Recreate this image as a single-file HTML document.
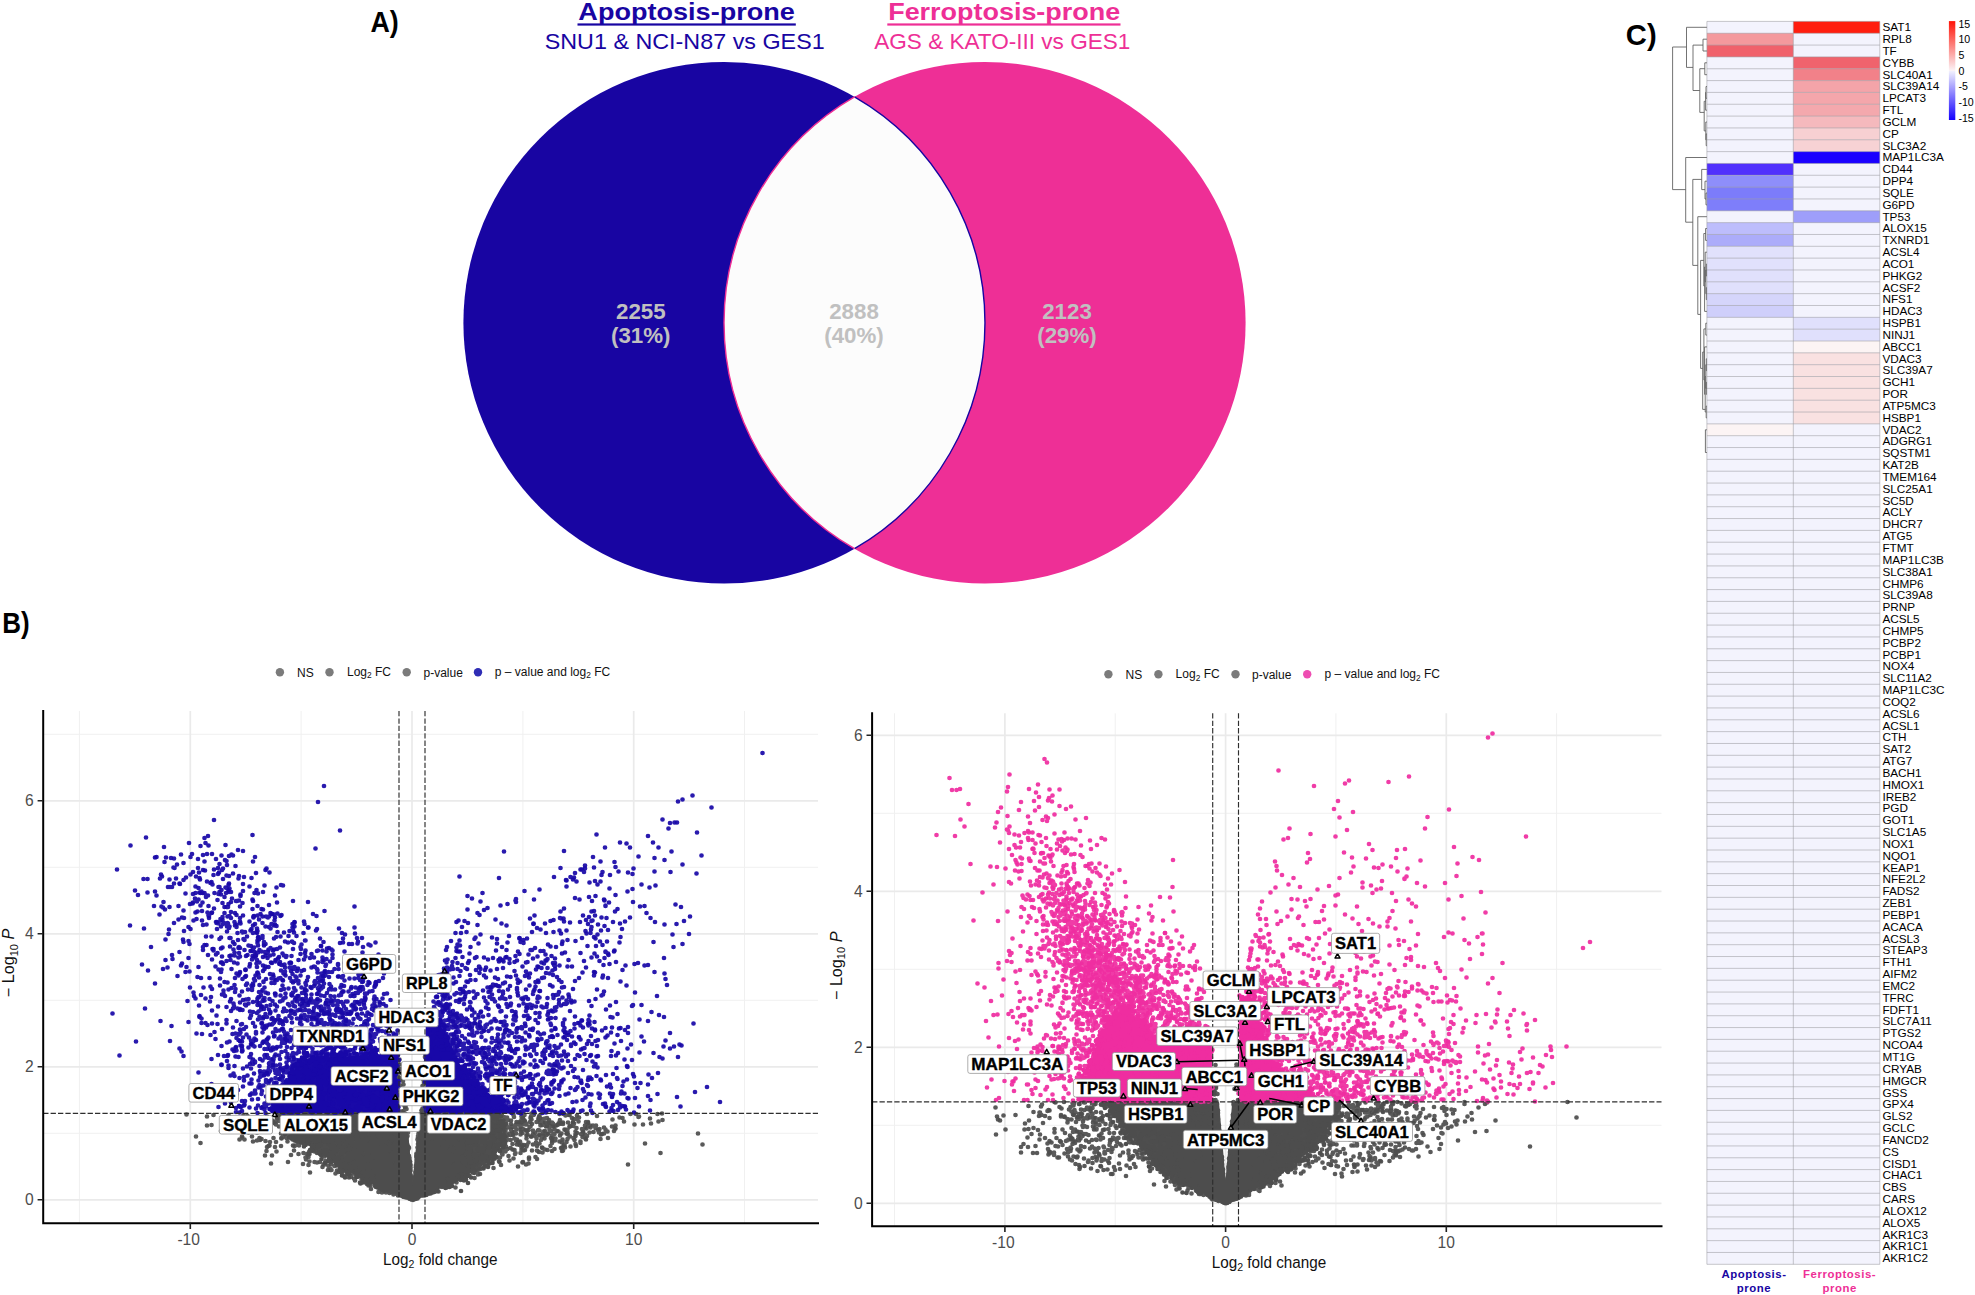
<!DOCTYPE html>
<html lang="en"><head><meta charset="utf-8"><title>Figure</title>
<style>html,body{margin:0;padding:0;background:#fff}svg{display:block}text{font-family:"Liberation Sans",sans-serif}</style></head><body>
<svg width="1975" height="1295" viewBox="0 0 1975 1295">
<rect width="1975" height="1295" fill="#fff"/>
<circle cx="724.2" cy="322.8" r="260.8" fill="#1805A2"/>
<circle cx="984.8" cy="322.8" r="260.8" fill="#EE2F96"/>
<path d="M854.5 96.9A260.8 260.8 0 0 1 854.5 548.7A260.8 260.8 0 0 1 854.5 96.9Z" fill="#FCFCFC"/>
<path d="M854.5 96.9A260.8 260.8 0 0 1 854.5 548.7" fill="none" stroke="#1805A2" stroke-width="1.4"/>
<path d="M854.5 548.7A260.8 260.8 0 0 1 854.5 96.9" fill="none" stroke="#EE2F96" stroke-width="1.4"/>
<text x="640.8" y="319.4" text-anchor="middle" font-size="22.3" font-weight="bold" fill="#C0C0C0">2255</text>
<text x="640.8" y="342.6" text-anchor="middle" font-size="22.3" font-weight="bold" fill="#C0C0C0">(31%)</text>
<text x="854" y="319.4" text-anchor="middle" font-size="22.3" font-weight="bold" fill="#C0C0C0">2888</text>
<text x="854" y="342.6" text-anchor="middle" font-size="22.3" font-weight="bold" fill="#C0C0C0">(40%)</text>
<text x="1067" y="319.4" text-anchor="middle" font-size="22.3" font-weight="bold" fill="#C0C0C0">2123</text>
<text x="1067" y="342.6" text-anchor="middle" font-size="22.3" font-weight="bold" fill="#C0C0C0">(29%)</text>
<text x="686.6" y="19.8" text-anchor="middle" font-size="24.5" font-weight="bold" fill="#1805A2" textLength="216.5" lengthAdjust="spacingAndGlyphs">Apoptosis-prone</text>
<rect x="577.5" y="23.4" width="218.3" height="2.2" fill="#1805A2"/>
<text x="684.7" y="49.4" text-anchor="middle" font-size="21.6" fill="#1805A2" textLength="280" lengthAdjust="spacingAndGlyphs">SNU1 &amp; NCI-N87 vs GES1</text>
<text x="1004.2" y="19.8" text-anchor="middle" font-size="24.5" font-weight="bold" fill="#EE2F96" textLength="232" lengthAdjust="spacingAndGlyphs">Ferroptosis-prone</text>
<rect x="887.3" y="23.4" width="233.2" height="2.2" fill="#EE2F96"/>
<text x="1002.3" y="49.4" text-anchor="middle" font-size="21.6" fill="#EE2F96" textLength="256" lengthAdjust="spacingAndGlyphs">AGS &amp; KATO-III vs GES1</text>
<text x="370.4" y="31.9" font-size="30" font-weight="bold" fill="#000" textLength="28.3" lengthAdjust="spacingAndGlyphs">A)</text>
<text x="2.2" y="633" font-size="30" font-weight="bold" fill="#000" textLength="27.4" lengthAdjust="spacingAndGlyphs">B)</text>
<text x="1625.8" y="45" font-size="30" font-weight="bold" fill="#000" textLength="30.8" lengthAdjust="spacingAndGlyphs">C)</text>
<path d="M79.4 711V1223.3M301.1 711V1223.3M522.9 711V1223.3M744.5 711V1223.3M43.2 1133.3H818M43.2 1000.3H818M43.2 867.3H818M43.2 734.3H818" stroke="#F0F0F0" stroke-width="1" fill="none"/>
<path d="M190.3 711V1223.3M412.0 711V1223.3M633.7 711V1223.3M43.2 1199.8H818M43.2 1066.8H818M43.2 933.8H818M43.2 800.8H818" stroke="#EAEAEA" stroke-width="1.7" fill="none"/>
<polygon points="412.0,1198.5 365.4,1181.8 321.1,1153.2 287.8,1133.3 279.0,1113.3 406.5,1113.3 412.7,1183.2 420.0,1113.3 498.5,1113.3 504.0,1140.0 494.0,1158.6 454.1,1183.8" fill="#4E4E4E"/>
<polygon points="270.1,1113.3 285.6,1083.4 301.1,1058.8 398.3,1053.5 398.3,1113.3" fill="#1909A8"/>
<polygon points="425.7,1113.3 425.7,1016.9 437.5,1016.9 451.9,1053.5 476.3,1085.4 507.3,1105.4 516.2,1113.3" fill="#1909A8"/>
<path d="M399.5 1194.5h0M397 1189.5h0M375.5 1182h0M385.5 1187.5h0M408 1197.5h0M367.5 1179h0M386 1186.5h0M384.5 1190h0M408 1196h0M403 1196.5h0M410.5 1199h0M377.5 1186.5h0M369.5 1182h0M374.5 1183.5h0M402 1192h0M381.5 1187.5h0M377.5 1187.5h0M376 1187h0M378 1187.5h0M380.5 1186.5h0M409.5 1198.5h0M367.5 1183h0M394 1191h0M410.5 1194.5h0M380 1184h0M375 1186h0M387 1190h0M369.5 1183.5h0M376 1183h0M371 1181h0M380.5 1188.5h0M377 1186h0M368.5 1183.5h0M378 1183h0M406 1197.5h0M387.5 1186.5h0M406 1197.5h0M406.5 1195.5h0M347 1171.5h0M342 1175.5h0M321.5 1159h0M328.5 1161h0M348 1174h0M343 1168.5h0M329 1159h0M348 1174h0M351 1170h0M325 1163h0M321.5 1155h0M328 1161.5h0M321 1155h0M338 1165h0M333 1159.5h0M327 1155h0M351 1170.5h0M360.5 1183.5h0M329 1154.5h0M341.5 1167h0M363 1179.5h0M344.5 1176.5h0M337 1165.5h0M349 1174h0M357 1177h0M350 1169.5h0M336 1163h0M340 1166.5h0M344.5 1170.5h0M350.5 1169.5h0M329 1159h0M345 1177.5h0M326.5 1155h0M362 1182.5h0M347.5 1170.5h0M340 1168.5h0M341.5 1163h0M356.5 1177h0M361 1175.5h0M357 1174.5h0M301 1142.5h0M304.5 1140.5h0M289.5 1137h0M312.5 1145.5h0M312 1148.5h0M298 1140h0M318.5 1152.5h0M308 1142h0M295.5 1138h0M321 1152h0M295.5 1140.5h0M297 1141.5h0M292.5 1138.5h0M299 1141.5h0M314 1149.5h0M296.5 1137h0M289 1137.5h0M313.5 1145.5h0M305.5 1145h0M304 1146.5h0M310 1150h0M319 1149h0M312 1150h0M292 1138.5h0M305 1145h0M312 1148h0M303.5 1143.5h0M292 1136.5h0M295 1140h0M285 1134h0M278 1115h0M282.5 1127h0M279.5 1115.5h0M282 1122h0M284.5 1124h0M285 1121.5h0M289 1128.5h0M284.5 1127.5h0M277 1118h0M278 1115.5h0M280.5 1118h0M283.5 1124h0M282.5 1118.5h0M284.5 1121h0M500 1122.5h0M505 1136.5h0M505.5 1136.5h0M502 1138h0M503.5 1137.5h0M504 1131h0M503 1129.5h0M498.5 1122.5h0M499 1114h0M503 1123.5h0M504.5 1125.5h0M498 1114.5h0M504 1134.5h0M500.5 1125h0M503.5 1126.5h0M501.5 1121h0M501 1116.5h0M500 1138.5h0M505 1143.5h0M494.5 1158.5h0M503.5 1142h0M504 1145.5h0M501.5 1144.5h0M503.5 1147h0M498.5 1146h0M503 1145h0M493.5 1153h0M496.5 1157h0M492 1155.5h0M493 1154.5h0M495 1156h0M505 1141h0M499 1149.5h0M500 1151h0M483.5 1168.5h0M464 1178.5h0M465 1173.5h0M472.5 1172.5h0M474 1173h0M489 1163h0M485 1166.5h0M473.5 1168h0M461 1191h0M468 1183h0M466 1174.5h0M461.5 1179.5h0M464 1180.5h0M466 1179.5h0M488 1160.5h0M460.5 1176.5h0M486 1165.5h0M492.5 1159.5h0M479 1168.5h0M487.5 1165.5h0M490.5 1158h0M469.5 1176h0M471 1177.5h0M459.5 1178.5h0M463.5 1175h0M483 1162.5h0M479.5 1166h0M465.5 1177h0M492.5 1162h0M483.5 1162h0M454 1180h0M489.5 1163.5h0M492.5 1163h0M465.5 1174.5h0M475.5 1170.5h0M488 1167h0M430.5 1193.5h0M417.5 1197.5h0M452 1186h0M419.5 1193.5h0M431.5 1191.5h0M444 1186.5h0M430.5 1189.5h0M437.5 1191h0M426 1195h0M446.5 1187.5h0M424 1193h0M431 1190h0M432 1192.5h0M432 1192.5h0M416 1195h0M445.5 1188h0M443.5 1186.5h0M434.5 1192h0M427.5 1193h0M415.5 1198h0M430.5 1192h0M415 1194h0M443 1186h0M418.5 1197h0M424.5 1193.5h0M426.5 1192.5h0M413.5 1198.5h0M416 1198.5h0M417 1198h0M435.5 1191.5h0M441 1185h0M433.5 1192h0M451.5 1185.5h0M449.5 1187h0" fill="none" stroke="#4E4E4E" stroke-width="4.7" stroke-linecap="round" opacity="1"/>
<path d="M273.5 1104.5h0M284 1086h0M282.5 1088.5h0M280 1091.5h0M273.5 1101h0M280 1093.5h0M283.5 1088h0M279 1095h0M276 1101h0M275.5 1093.5h0M275 1094h0M282.5 1094h0M283.5 1091.5h0M272 1108.5h0M273.5 1098.5h0M278 1093h0M280 1086.5h0M281.5 1087h0M271.5 1110h0M276.5 1097.5h0M276 1097.5h0M270 1109h0M274 1096.5h0M284.5 1084.5h0M290 1074.5h0M292 1071h0M297 1066.5h0M290.5 1080.5h0M286 1081.5h0M293 1075.5h0M297.5 1065h0M292.5 1069.5h0M290 1079h0M296.5 1064h0M298.5 1063.5h0M294.5 1066h0M289.5 1076h0M293.5 1057.5h0M299 1060.5h0M293.5 1065.5h0M292 1069h0M297 1065h0M289.5 1073.5h0M293 1067h0M294.5 1065h0M279.5 1079h0M340.5 1059h0M311 1060.5h0M307 1056h0M346 1054.5h0M395.5 1055h0M335.5 1054.5h0M345 1058h0M358 1057h0M315.5 1053h0M394 1056.5h0M302 1057.5h0M377 1050h0M364 1055h0M325.5 1057h0M329.5 1060h0M340.5 1057h0M342 1054.5h0M389.5 1056h0M386 1057.5h0M383.5 1052.5h0M388.5 1057.5h0M375 1051h0M380.5 1049.5h0M387.5 1047.5h0M335.5 1055h0M355 1053.5h0M345.5 1052h0M394 1053.5h0M331.5 1055h0M318 1060.5h0M372 1053h0M339.5 1054h0M397.5 1055.5h0M388 1053.5h0M358.5 1059h0M307 1053h0M334 1053.5h0M366 1054h0M333 1056h0M378.5 1056.5h0M370 1053.5h0M373 1051h0M349 1059.5h0M332 1058h0M310 1061h0M321.5 1057h0M387 1049h0M374.5 1056h0M343 1055h0M398 1055h0M393 1052.5h0M376 1054.5h0M366.5 1053.5h0M357 1055.5h0M327 1054.5h0M316.5 1059.5h0M326 1055h0M304 1057.5h0M383 1053.5h0M343.5 1053.5h0M339.5 1054.5h0M313 1057h0M339.5 1054.5h0M312 1059h0M321.5 1053.5h0M302 1046.5h0M383 1049.5h0M356.5 1054h0M317.5 1058h0M384 1055.5h0M340.5 1052.5h0M336.5 1055h0M327.5 1059.5h0M316 1053.5h0M434 1014h0M428 1017h0M432 1018.5h0M432 1014.5h0M429 1015h0M434 1016h0M428.5 1016.5h0M434 1015h0M435.5 1014.5h0M448 1050h0M437 1020.5h0M443.5 1032h0M441.5 1033h0M446 1037.5h0M441.5 1025h0M444.5 1026h0M448.5 1038h0M448.5 1044.5h0M443.5 1034.5h0M434.5 1021h0M445 1035h0M444.5 1027h0M439 1020.5h0M450.5 1052h0M444.5 1030h0M441.5 1035.5h0M438.5 1022.5h0M436 1022.5h0M447 1042h0M449.5 1052.5h0M447 1036.5h0M437.5 1023h0M440 1020h0M450 1047.5h0M451.5 1050.5h0M435 1020.5h0M445.5 1037.5h0M443 1024.5h0M451 1051h0M462.5 1061h0M469 1064.5h0M456.5 1063h0M471 1070.5h0M471 1081.5h0M457 1060h0M464.5 1067h0M476.5 1082h0M454.5 1058h0M480 1076.5h0M455.5 1057.5h0M464.5 1069.5h0M465 1065.5h0M476 1083.5h0M453 1053h0M451.5 1058h0M460.5 1067.5h0M473.5 1079.5h0M477 1081h0M457 1063.5h0M469 1074h0M466.5 1070.5h0M474 1077.5h0M453.5 1053h0M468 1074.5h0M475 1082.5h0M465 1068.5h0M472 1076.5h0M455.5 1064h0M468 1073.5h0M497.5 1100h0M501 1097.5h0M483 1089h0M493 1098.5h0M481.5 1087.5h0M476.5 1089h0M503 1099.5h0M487 1094h0M502 1102.5h0M502.5 1099.5h0M500.5 1098.5h0M477 1088.5h0M487 1090.5h0M487 1097.5h0M486.5 1093.5h0M483 1089.5h0M493.5 1097h0M499 1101h0M498 1099h0M477 1085.5h0M504 1101h0M498.5 1103h0M491 1097h0M482.5 1089.5h0M492 1097.5h0M483.5 1091.5h0M500 1107h0M499.5 1101.5h0M511.5 1107h0M517.5 1106h0M516 1109h0M513.5 1107.5h0M511.5 1107.5h0M509 1111.5h0M514 1105.5h0M511 1108.5h0M510.5 1109.5h0" fill="none" stroke="#1909A8" stroke-width="4.7" stroke-linecap="round" opacity="1"/>
<path d="M421.5 1151h0M375.5 1183.5h0M415.5 1198h0M366 1172h0M401 1180h0M405 1109.5h0M448 1178h0M560 1123h0M404.5 1117h0M352.5 1171h0M339 1134.5h0M340 1118h0M424.5 1161h0M415 1195h0M423 1186.5h0M439 1175.5h0M400 1180h0M395 1153.5h0M429 1180h0M429.5 1172.5h0M309.5 1161.5h0M405.5 1182h0M398.5 1164.5h0M368 1143h0M371 1152h0M444.5 1119.5h0M432.5 1172.5h0M336.5 1141h0M367 1179.5h0M503.5 1120.5h0M361.5 1142.5h0M416.5 1194.5h0M531 1116.5h0M448 1136.5h0M389.5 1148h0M425.5 1180h0M403 1150.5h0M456.5 1126h0M418.5 1193.5h0M388 1139h0M404 1149h0M358.5 1143h0M379 1179h0M416 1194.5h0M295 1145.5h0M410.5 1170.5h0M434 1162h0M429.5 1170h0M376 1117.5h0M396 1124.5h0M411 1190h0M312 1139h0M452 1144.5h0M513 1126.5h0M435.5 1137.5h0M425 1187.5h0M388 1178h0M421.5 1173.5h0M469.5 1166h0M368.5 1127.5h0M437.5 1180.5h0M420.5 1183.5h0M422.5 1160.5h0M398 1143.5h0M476.5 1134.5h0M404 1132.5h0M410.5 1199h0M314.5 1151.5h0M471.5 1158.5h0M443.5 1171h0M465.5 1127.5h0M404 1175h0M356 1117h0M369.5 1128.5h0M384.5 1129h0M440 1133h0M356 1134h0M434 1158h0M312 1147.5h0M475.5 1154.5h0M401.5 1191h0M408.5 1178.5h0M430.5 1171.5h0M405 1166h0M414 1197.5h0M425 1187.5h0M401 1161.5h0M289 1133.5h0M351.5 1166.5h0M403.5 1181h0M414.5 1195h0M320 1154h0M428 1183.5h0M395.5 1192.5h0M423 1162h0M432 1144.5h0M380.5 1184.5h0M397.5 1188.5h0M380 1189h0M417.5 1197h0M412.5 1197h0M361 1131h0M417.5 1147.5h0M461 1117h0M452 1134.5h0M429.5 1185h0M504.5 1150h0M316 1135.5h0M380 1145.5h0M421.5 1161h0M357 1158.5h0M405.5 1154h0M358.5 1136.5h0M418.5 1190h0M419 1170.5h0M421 1189h0M360 1155.5h0M348.5 1147.5h0M361.5 1135.5h0M401 1180.5h0M419.5 1179.5h0M396.5 1160h0M415.5 1187.5h0M328.5 1144h0M422 1185h0M418 1176h0M431 1172h0M387.5 1167h0M425.5 1141.5h0M444.5 1141.5h0M442.5 1143.5h0M423 1184h0M409 1188.5h0M418.5 1187h0M408.5 1193.5h0M384 1191h0M523.5 1114h0M459 1138.5h0M407.5 1192h0M373 1167.5h0M399 1185h0M467.5 1158.5h0M432 1184.5h0M440 1124.5h0M428 1173.5h0M418.5 1188.5h0M404 1125h0M412 1196.5h0M411 1196.5h0M340.5 1140.5h0M398.5 1155h0M305 1140h0M360 1139h0M428 1194h0M394 1155h0M410 1171.5h0M421.5 1192.5h0M305.5 1157.5h0M431.5 1150h0M425.5 1183h0M373 1148.5h0M389.5 1193h0M485 1147.5h0M409 1168.5h0M319 1130h0M437 1160.5h0M420.5 1180h0M412.5 1197.5h0M455 1123h0M532 1124h0M393.5 1176h0M427.5 1146.5h0M346 1168h0M400.5 1120h0M426.5 1131h0M429 1191h0M401.5 1192.5h0M416 1189.5h0M309 1152h0M427.5 1141h0M412 1198.5h0M431 1160h0M416 1167.5h0M426 1137h0M387 1179h0M464 1141h0M454.5 1142h0M384.5 1170.5h0M350 1176.5h0M387.5 1165h0M483.5 1167.5h0M410.5 1186h0M444.5 1178h0M433.5 1189.5h0M424.5 1184.5h0M424.5 1146.5h0M462 1136.5h0M303 1118h0M331 1164.5h0M443.5 1158h0M405 1172h0M415.5 1183h0M431.5 1131.5h0M405.5 1160h0M405.5 1168.5h0M404.5 1189h0M430 1174.5h0M455.5 1137h0M418.5 1155h0M377.5 1126h0M353 1117.5h0M427 1184h0M410.5 1192h0M365.5 1124h0M545 1122.5h0M434 1181h0M429 1182.5h0M468 1159h0M482.5 1136h0M408 1194.5h0M447 1184h0M417.5 1181.5h0M401 1161.5h0M418 1150h0M424.5 1184h0M433 1149h0M418.5 1181.5h0M444 1165.5h0M379 1140h0M381.5 1182h0M440 1136h0M390 1157.5h0M391 1152.5h0M418 1195.5h0M427.5 1135.5h0M405 1189.5h0M395.5 1176.5h0M400 1165.5h0M512.5 1144h0M406.5 1194h0M507.5 1127.5h0M414.5 1197.5h0M371 1116.5h0M442.5 1168h0M415 1196h0M313 1117h0M439 1139.5h0M406.5 1142.5h0M365.5 1140.5h0M461 1133h0M422.5 1179.5h0M412 1195h0M430 1189h0M433.5 1183h0M307.5 1133h0M328.5 1135.5h0M325 1154.5h0M443.5 1178.5h0M409 1173h0M399 1174h0M377.5 1136.5h0M315.5 1145.5h0M427.5 1171.5h0M369 1159h0M339 1139h0M455.5 1176.5h0M411 1183h0M332 1161.5h0M407 1193.5h0M339.5 1157.5h0M402.5 1180.5h0M431 1172.5h0M440 1144.5h0M479 1131.5h0M425 1164.5h0M418 1152h0M424.5 1127h0M399 1171.5h0M492 1129h0M332.5 1129.5h0M418.5 1196.5h0M386 1190.5h0M361.5 1179h0M374 1149.5h0M464 1116h0M370 1167.5h0M402 1157h0M415 1198.5h0M388 1161h0M384 1170.5h0M421 1191.5h0M358.5 1124.5h0M389.5 1187h0M415.5 1187h0M422.5 1192h0M364 1149h0M408 1195h0M476 1161.5h0M480 1174h0M426 1192h0M458.5 1171h0M447 1159h0M371 1177.5h0M419.5 1192.5h0M456 1123.5h0M365.5 1182.5h0M378.5 1185.5h0M400 1160h0M387 1150h0M429 1185h0M353 1144h0M402.5 1187h0M420.5 1138h0M440.5 1120h0M450.5 1174h0M314.5 1162h0M422 1195.5h0M403.5 1187h0M403 1096h0M397 1136h0M475 1135.5h0M463 1150.5h0M386 1187h0M468.5 1157h0M430.5 1171.5h0M420 1195h0M507.5 1139.5h0M378.5 1167.5h0M424 1193.5h0M398 1137h0M413 1199.5h0M407 1117.5h0M413 1198h0M405.5 1193h0M388.5 1153h0M395 1140.5h0M390 1165h0M331 1134.5h0M445.5 1126h0M383 1175.5h0M368 1157.5h0M485.5 1128.5h0M424.5 1178.5h0M440 1127.5h0M410.5 1196.5h0M412 1197.5h0M351.5 1160h0M378.5 1165.5h0M432.5 1169.5h0M412.5 1196h0M410 1198.5h0M420 1194h0M412.5 1195h0M385 1170h0M488 1159h0M450 1141h0M445 1163.5h0M387 1174.5h0M426 1173.5h0M417.5 1195.5h0M464 1117.5h0M446.5 1166h0M408 1150h0M419.5 1148h0M473.5 1133h0M430 1123h0M400.5 1183.5h0M432.5 1166.5h0M401 1192h0M404 1115h0M418.5 1187h0M407.5 1147h0M432.5 1135.5h0M381.5 1174.5h0M439.5 1171h0M351 1145h0M451 1150h0M403.5 1111h0M387 1182h0M347 1171h0M387 1181.5h0M401 1185.5h0M409 1148h0M409 1195.5h0M432.5 1180h0M408.5 1193h0M453 1161.5h0M405 1185h0M430 1188h0M421 1193h0M367.5 1179.5h0M402.5 1194.5h0M365 1138.5h0M419 1188.5h0M434.5 1156.5h0M452.5 1127.5h0M420 1141h0M388 1167.5h0M425 1165h0M330.5 1141h0M418.5 1164.5h0M492 1131h0M385.5 1154h0M474.5 1158h0M380 1149.5h0M468 1144h0M396 1174h0M406.5 1183.5h0M307 1129.5h0M411 1178h0M447 1167h0M301 1125h0M452.5 1150h0M331 1135.5h0M384.5 1147h0M400 1178h0M372 1131h0M481.5 1156h0M444.5 1176h0M430 1166h0M445.5 1166.5h0M418 1168.5h0M381.5 1155.5h0M402.5 1192.5h0M417 1187.5h0M440.5 1166.5h0M438 1174.5h0M408 1192h0M326 1127h0M406.5 1197h0M452 1161.5h0M397.5 1172.5h0M452 1132h0M371 1142.5h0M422 1193.5h0M428 1189h0M413.5 1199.5h0M346.5 1145h0M281.5 1138h0M393.5 1187.5h0M416.5 1177h0M365 1132.5h0M442.5 1135.5h0M417 1154.5h0M379 1167h0M407 1177h0M432 1170.5h0M402 1133h0M436 1125.5h0M429 1188h0M398 1195.5h0M452 1116.5h0M399 1178h0M416.5 1171.5h0M408.5 1156h0M365.5 1181.5h0M388.5 1137h0M397 1118.5h0M422.5 1193h0M415 1198h0M368.5 1165h0M332 1121.5h0M432.5 1136h0M310.5 1136.5h0M353.5 1136.5h0M433.5 1168.5h0M365.5 1162.5h0M357 1139h0M428 1184h0M449.5 1157h0M467 1139.5h0M453.5 1143h0M391 1173.5h0M442 1166h0M399.5 1126.5h0M341.5 1126.5h0M439 1135.5h0M370.5 1138h0M418.5 1170.5h0M375.5 1169h0M430 1176h0M337 1135.5h0M425 1174.5h0M409 1185h0M398 1155.5h0M480 1151h0M436.5 1123h0M399 1182h0M361 1151h0M382 1163.5h0M397 1182h0M437 1172h0M442.5 1154.5h0M400.5 1151.5h0M396 1163h0M378.5 1136.5h0M423.5 1149.5h0M416.5 1156.5h0M332 1131h0M435.5 1140h0M419.5 1136h0M414.5 1192h0M432 1172.5h0M433.5 1156h0M374 1166h0M464.5 1147h0M454.5 1156.5h0M433 1176.5h0M389 1178h0M352 1153.5h0M382 1186h0M341.5 1155.5h0M376 1141.5h0M380 1121h0M415.5 1197.5h0M384 1175.5h0M520.5 1153h0M419.5 1156.5h0M404.5 1136h0M414.5 1181.5h0M487 1122.5h0M477.5 1146h0M434 1167h0M396 1179h0M377.5 1169h0M410.5 1190h0M417.5 1161h0M417 1180.5h0M408 1188h0M354 1171.5h0M471.5 1159.5h0M448 1186h0M421.5 1179.5h0M396.5 1181h0M437.5 1168h0M407 1189.5h0M413 1198h0M424 1153h0M400.5 1078.5h0M433.5 1182.5h0M422 1185.5h0M376 1185.5h0M417.5 1185h0M394 1186.5h0M409.5 1192h0M430 1165h0M411.5 1198h0M417 1195.5h0M406.5 1186.5h0M334 1158.5h0M406.5 1173h0M428.5 1135h0M399 1146h0M378.5 1192h0M445.5 1143.5h0M427 1161h0M443 1151h0M422.5 1193.5h0M435 1154h0M398 1194.5h0M356.5 1144.5h0M323.5 1141h0M431 1167h0M434.5 1133.5h0M391.5 1168.5h0M425.5 1138.5h0M401 1159h0M408.5 1166h0M382 1168.5h0M439 1165h0M424 1186.5h0M424.5 1169.5h0M416 1196h0M435.5 1135h0M404.5 1192.5h0M417 1196h0M433 1182.5h0M458 1162.5h0M426.5 1186h0M403.5 1144h0M466 1176h0M439.5 1137h0M409 1192h0M380 1172.5h0M448.5 1128h0M431.5 1189h0M427 1172h0M447.5 1169.5h0M413.5 1197.5h0M414 1197h0M392 1141h0M416.5 1171h0M305 1123h0M390.5 1177.5h0M382.5 1149.5h0M433 1180.5h0M402 1171h0M426.5 1173.5h0M388 1157h0M396.5 1147.5h0M431.5 1180h0M414.5 1185.5h0M364 1147.5h0M408.5 1192h0M413 1199h0M363.5 1168h0M472.5 1126.5h0M402.5 1133h0M406 1176h0M411.5 1196h0M409 1164h0M404 1170h0M459 1152h0M511 1120.5h0M265 1119.5h0M371.5 1176h0M430.5 1178h0M464 1138.5h0M486.5 1117.5h0M369 1114h0M388 1161h0M399.5 1183.5h0M416.5 1197h0M390.5 1176h0M414.5 1189.5h0M408 1196.5h0M352 1153.5h0M464.5 1135h0M468 1159h0M371.5 1128h0M490 1134.5h0M469.5 1117h0M362.5 1169h0M366.5 1155.5h0M279 1121h0M341 1172h0M395 1134h0M407 1167h0M424.5 1170.5h0M390 1172h0M417.5 1182h0M396.5 1146.5h0M423.5 1189h0M377.5 1138h0M416 1190h0M520.5 1134.5h0M411 1176h0M455.5 1149h0M350 1151h0M489.5 1122.5h0M436.5 1165.5h0M416.5 1194h0M500.5 1137.5h0M336.5 1129h0M371.5 1167h0M311.5 1128.5h0M401.5 1132.5h0M417.5 1191h0M450 1149h0M470 1130h0M421.5 1156.5h0M408 1196.5h0M422 1183.5h0M406 1162.5h0M364 1146h0M389 1165.5h0M422.5 1174h0M398.5 1193h0M365.5 1124.5h0M272 1155.5h0M418.5 1190.5h0M414 1199h0M438.5 1157.5h0M385 1144.5h0M420.5 1163.5h0M447 1181h0M344 1170.5h0M307.5 1122.5h0M467.5 1172h0M413 1199.5h0M426.5 1149.5h0M416.5 1153.5h0M372.5 1166h0M362.5 1140.5h0M410 1187h0M425 1159h0M405.5 1185h0M441 1179.5h0M377 1167h0M370 1166h0M421.5 1122.5h0M501 1165h0M505.5 1124h0M428 1186h0M399.5 1160.5h0M474 1124.5h0M332.5 1143h0M384 1140h0M415 1187h0M366.5 1167.5h0M458 1153.5h0M443.5 1114.5h0M377.5 1173h0M376 1147h0M365.5 1179.5h0M509.5 1133.5h0M399 1168h0M396.5 1162h0M454 1159.5h0M371.5 1159h0M392.5 1186.5h0M425 1190h0M405 1171h0M421.5 1189.5h0M337.5 1147h0M425.5 1162.5h0M437 1176h0M425.5 1168.5h0M395 1180.5h0M259.5 1138h0M442.5 1155.5h0M410 1191.5h0M442 1173.5h0M463 1156h0M232 1128h0M415.5 1182.5h0M458 1136.5h0M426 1130.5h0M382 1175.5h0M377 1131h0M491.5 1115h0M432 1176h0M416.5 1194.5h0M320 1141h0M525.5 1124.5h0M457.5 1120h0M316 1140h0M404.5 1159.5h0M386 1179h0M426.5 1174.5h0M431 1174.5h0M373 1177.5h0M483.5 1150.5h0M345 1150.5h0M416 1169.5h0M382.5 1139.5h0M301 1136.5h0M386 1116h0M430 1175h0M401 1186h0M420 1178h0M348 1133h0M408.5 1168.5h0M408 1172h0M406.5 1138h0M420.5 1193h0M424.5 1194h0M471 1152.5h0M433 1123h0M387 1166.5h0M389 1187.5h0M378 1186h0M417.5 1195.5h0M426.5 1136.5h0M443 1177.5h0M393 1185h0M375 1130h0M398 1164h0M426 1161h0M476 1163h0M399.5 1178h0M416 1176.5h0M316 1116h0M306 1159.5h0M402.5 1126h0M424.5 1159.5h0M488 1160h0M407.5 1145.5h0M464.5 1151h0M467 1153h0M413 1200h0M431.5 1161h0M423.5 1161h0M418 1193h0M389 1164.5h0M387.5 1180h0M482.5 1130h0M359.5 1153h0M375 1138h0M384 1136.5h0M421 1179.5h0M358 1133h0M420.5 1175.5h0M380.5 1132.5h0M256 1122.5h0M356 1125.5h0M415.5 1189h0M406.5 1194h0M516.5 1129.5h0M372 1172h0M426.5 1182h0M402 1194h0M382.5 1133h0M418 1175h0M445 1167h0M428.5 1171h0M404 1191h0M266.5 1151h0M403.5 1189.5h0M428 1169h0M455 1156h0M412 1199h0M426.5 1179.5h0M382 1162.5h0M409.5 1193.5h0M376 1119h0M292.5 1139.5h0M532.5 1114.5h0M442.5 1139h0M402.5 1172.5h0M331.5 1149h0M407 1191h0M461.5 1159h0M419.5 1153h0M449 1175.5h0M433.5 1169h0M449.5 1153h0M294.5 1140.5h0M434.5 1177h0M395 1180h0M439.5 1183h0M407.5 1168.5h0M448 1177h0M451.5 1155.5h0M447.5 1146h0M434.5 1166h0M443 1166h0M434 1186.5h0M424 1163h0M400.5 1170.5h0M325 1164.5h0M450.5 1144h0M429 1172.5h0M420.5 1170h0M417.5 1155.5h0M398.5 1154h0M379 1128.5h0M447.5 1174.5h0M447 1160h0M445.5 1177h0M443.5 1134.5h0M435.5 1178.5h0M419.5 1179.5h0M427 1159h0M381.5 1169h0M380 1134h0M287.5 1141.5h0M465 1113.5h0M343.5 1152h0M416 1166.5h0M428.5 1128h0M420.5 1182.5h0M422.5 1142.5h0M456.5 1162.5h0M421.5 1187.5h0M446.5 1181h0M408.5 1192h0M372.5 1153h0M431.5 1167.5h0M419 1176.5h0M439.5 1115.5h0M471 1121h0M412.5 1199.5h0M471.5 1122.5h0M415 1176.5h0M385.5 1173.5h0M427 1181h0M426 1180h0M389 1140h0M373.5 1165.5h0M423 1194h0M426 1163h0M483 1127h0M424 1184h0M411.5 1199h0M489 1157h0M398 1184h0M436.5 1131h0M294.5 1146h0M429 1187h0M440.5 1177.5h0M411.5 1192h0M401 1151.5h0M387.5 1190h0M420.5 1190h0M393 1151h0M431 1180h0M426 1192.5h0M424 1190.5h0M404.5 1175.5h0M517 1123.5h0M538.5 1120h0M419 1193.5h0M476 1129h0M405 1191.5h0M430 1171h0M434.5 1172.5h0M424.5 1150h0M420.5 1184h0M377.5 1174.5h0M423.5 1189h0M444.5 1124h0M418 1187h0M405 1191h0M418.5 1125.5h0M383 1180h0M389.5 1121.5h0M393 1159.5h0M378.5 1187.5h0M324.5 1156.5h0M431.5 1150.5h0M466.5 1164h0M445.5 1144.5h0M414.5 1196.5h0M408.5 1179.5h0M468 1129.5h0M421.5 1189.5h0M400 1162h0M424.5 1190h0M418 1188h0M498 1126.5h0M516 1133.5h0M391.5 1154h0M474.5 1130h0M453 1143h0M443 1167.5h0M281 1133.5h0M308.5 1165h0M418 1196.5h0M414.5 1196.5h0M428 1137h0M403.5 1161.5h0M406 1183.5h0M416.5 1195.5h0M472 1157h0M426 1163h0M431.5 1158.5h0M432.5 1179h0M456 1153.5h0M427 1135h0M434 1178h0M427 1187.5h0M404.5 1152.5h0M410.5 1165h0M425 1182h0M435.5 1154.5h0M421 1169.5h0M457.5 1143h0M369.5 1181h0M346.5 1160.5h0M434.5 1166h0M469 1135.5h0M374 1115h0M409 1194.5h0M396.5 1191.5h0M306.5 1127.5h0M415.5 1195h0M412.5 1197h0M357 1158.5h0M382.5 1172.5h0M437.5 1121h0M423 1191h0M418.5 1146h0M391 1176h0M433.5 1159h0M431 1187.5h0M410.5 1170h0M450 1174.5h0M397.5 1157h0M403 1159h0M468.5 1159.5h0M370 1121h0M370.5 1166h0M408 1178h0M407 1192.5h0M402 1096.5h0M364 1173.5h0M306 1129h0M359.5 1124.5h0M412.5 1199.5h0M418 1196h0M416.5 1160h0M392.5 1182.5h0M414 1198h0M353 1162.5h0M450 1156h0M366.5 1121.5h0M401 1188.5h0M294 1150.5h0M467.5 1145.5h0M397 1186.5h0M489.5 1126h0M448 1144h0M456 1139h0M406.5 1196.5h0M442 1132.5h0M378.5 1184h0M478.5 1126.5h0M405 1188h0M413.5 1197h0M431 1184h0M387 1154h0M371 1189h0M431 1161.5h0M448.5 1179.5h0M455 1139.5h0M426.5 1182.5h0M428 1184h0M429 1136.5h0M434 1150h0M363.5 1132.5h0M396 1175h0M482.5 1149.5h0M418.5 1193.5h0M364 1160.5h0M419 1187h0M387 1175.5h0M316.5 1140.5h0M399.5 1101.5h0M419.5 1193h0M422.5 1151.5h0M379.5 1125h0M366.5 1174.5h0M360 1144h0M436.5 1173h0M403.5 1183h0M413.5 1195h0M423.5 1189h0M422 1152.5h0M425.5 1174.5h0M415 1194h0M416.5 1190h0M414.5 1197h0M309 1118h0M517 1139.5h0M340.5 1145h0M455.5 1120h0M424 1155h0M311.5 1128.5h0M467 1125h0M405.5 1114h0M445.5 1118.5h0M395 1173.5h0M381 1150.5h0M449.5 1169h0M417.5 1189h0M432.5 1170.5h0M427.5 1143.5h0M398 1182h0M403.5 1180h0M431.5 1162h0M373.5 1139h0M414.5 1199h0M393 1168h0M410 1179.5h0M491 1132.5h0M423 1186.5h0M447.5 1152.5h0M380.5 1174.5h0M420.5 1185.5h0M428 1184.5h0M439.5 1170h0M379 1177.5h0M400 1178h0M414 1196.5h0M433 1166h0M396.5 1145h0M406.5 1109h0M395.5 1174h0M442.5 1178h0M389 1191h0M403 1104.5h0M410 1161.5h0M495 1138h0M325.5 1119h0M453.5 1151.5h0M400.5 1193.5h0M394.5 1179.5h0M399 1147h0M392 1173h0M289 1131h0M323.5 1164.5h0M398.5 1119.5h0M489 1145h0M418.5 1142h0M447.5 1166h0M402.5 1173h0M415 1196h0M407 1196.5h0M453 1164h0M407.5 1168.5h0M414.5 1197h0M409 1176.5h0M465.5 1138h0M406 1174h0M345 1118h0M435 1178.5h0M272.5 1120.5h0M433.5 1185h0M443.5 1141h0M372 1123h0M384 1135.5h0M295.5 1122.5h0M437.5 1123.5h0M421 1181h0M391 1167.5h0M447 1169.5h0M404.5 1176.5h0M295 1117h0M400.5 1179.5h0M409.5 1177h0M422.5 1156.5h0M380 1178h0M391 1168.5h0M348 1136.5h0M392 1169.5h0M449 1146.5h0M383 1175.5h0M430 1140h0M408.5 1196h0M468.5 1139.5h0M420 1175h0M408 1168h0M425 1156.5h0M405.5 1184.5h0M409 1176.5h0M410.5 1195h0M384.5 1186h0M397 1125h0M399 1180.5h0M360.5 1143.5h0M418.5 1188.5h0M410 1194.5h0M406.5 1195.5h0M393.5 1174.5h0M380 1172.5h0M408.5 1194.5h0M425.5 1157h0M409.5 1197h0M419 1195h0M383.5 1167.5h0M426.5 1173.5h0M467 1134.5h0M308 1121h0M422.5 1178.5h0M403.5 1123.5h0M399 1178.5h0M491.5 1146.5h0M460.5 1180h0M368 1119.5h0M421.5 1193.5h0M372.5 1130h0M413 1199.5h0M405.5 1153.5h0M401.5 1181h0M406 1180.5h0M397 1146.5h0M399.5 1166.5h0M441 1140.5h0M422 1185h0M432 1191h0M406 1155.5h0M441.5 1139h0M387 1184h0M462.5 1151.5h0M437.5 1179h0M382 1147.5h0M424.5 1177h0M418 1191.5h0M442.5 1180h0M392 1165.5h0M419.5 1182.5h0M465.5 1168.5h0M390 1175.5h0M363 1147h0M385.5 1154.5h0M456 1124h0M426.5 1161.5h0M492.5 1136h0M415.5 1198h0M431.5 1160.5h0M393.5 1183.5h0M418.5 1193h0M390.5 1168.5h0M396.5 1147.5h0M461 1167.5h0M351 1149.5h0M398.5 1147.5h0M418.5 1156h0M388.5 1185.5h0M396.5 1177.5h0M422.5 1111.5h0M450 1178h0M455 1135.5h0M422 1194.5h0M318.5 1132.5h0M392.5 1189h0M380.5 1131.5h0M307 1115.5h0M393 1165.5h0M386.5 1173.5h0M407.5 1190h0M389 1164h0M470.5 1160h0M396.5 1159h0M414.5 1185h0M362 1173h0M422 1110.5h0M341.5 1127.5h0M337 1170.5h0M409.5 1196.5h0M436.5 1172h0M426.5 1181h0M461.5 1164h0M472.5 1132h0M428.5 1168.5h0M376 1159h0M414.5 1196.5h0M500.5 1122h0M421 1187h0M397.5 1186.5h0M405 1180.5h0M421 1183h0M409 1195h0M391 1161.5h0M382.5 1181h0M399.5 1142h0M483 1148h0M419 1184h0M452.5 1141.5h0M389.5 1149h0M419 1174h0M418.5 1177.5h0M420.5 1183h0M400 1156h0M335 1161h0M365.5 1150h0M373.5 1164.5h0M404 1195.5h0M431.5 1121.5h0M425.5 1148h0M434 1127h0M415 1190.5h0M276.5 1151.5h0M456 1149.5h0M380 1132.5h0M415.5 1197h0M419.5 1194.5h0M444 1184.5h0M439.5 1178h0M368.5 1163.5h0M352 1142h0M399.5 1138.5h0M440.5 1153.5h0M441.5 1169h0M422.5 1179h0M401.5 1190h0M358.5 1171.5h0M441 1180h0M429.5 1179h0M322.5 1155h0M418 1194h0M426 1158h0M452 1136.5h0M506.5 1139.5h0M393.5 1180.5h0M383.5 1157.5h0M418.5 1178h0M418.5 1185.5h0M441 1154h0M395 1169h0M399.5 1174h0M359.5 1169h0M351 1177h0M367.5 1169.5h0M397 1155.5h0M405 1190.5h0M434.5 1153.5h0M390.5 1167.5h0M441 1120h0M379.5 1132.5h0M377.5 1156h0M403.5 1179.5h0M388 1182.5h0M419 1193h0M456.5 1151h0M469.5 1137h0M310 1131h0M311 1114.5h0M494.5 1158.5h0M360 1182.5h0M404.5 1191.5h0M446.5 1186.5h0M431.5 1116.5h0M422.5 1193.5h0M390.5 1168h0M391.5 1160.5h0M415 1198h0M409.5 1195.5h0M421.5 1150.5h0M448.5 1166h0M404 1171h0M336.5 1121h0M386.5 1142.5h0M348.5 1131.5h0M400 1178h0M428 1148h0M368.5 1140h0M387.5 1127.5h0M422.5 1172h0M330.5 1122.5h0M370.5 1151h0M397 1176h0M459.5 1114.5h0M433.5 1149.5h0M418 1183h0M390.5 1170.5h0M399 1165h0M414 1197h0M416.5 1188h0M408.5 1196h0M422 1194.5h0M401 1174h0M424 1189.5h0M342 1160.5h0M432 1186h0M352 1114h0M374.5 1162.5h0M270.5 1131h0M391.5 1122.5h0M346.5 1115.5h0M426.5 1153.5h0M397 1129.5h0M412 1195.5h0M317 1162.5h0M418.5 1133.5h0M430 1179h0M415.5 1173h0M417.5 1197h0M421.5 1184.5h0M425.5 1165h0M382 1162h0M422 1191h0M370 1179h0M397.5 1185.5h0M409.5 1193.5h0M408.5 1156h0M439.5 1155.5h0M328 1170h0M421.5 1166h0M422 1132.5h0M406 1105h0M375.5 1162.5h0M390.5 1178h0M380 1169.5h0M515.5 1125h0M376 1142.5h0M379 1139.5h0M381 1168.5h0M397.5 1169h0M357.5 1136.5h0M349 1162.5h0M367.5 1174h0M371.5 1181.5h0M452 1133.5h0M387 1178.5h0M514.5 1138.5h0M433.5 1173.5h0M407 1197h0M411.5 1182h0M424 1150.5h0M427 1194.5h0M403 1133h0M421.5 1177.5h0M357 1176h0M370 1150.5h0M410 1183.5h0M418.5 1171h0M465 1147.5h0M403.5 1188h0M423 1162h0M405 1167h0M472.5 1168h0M391.5 1149h0M416.5 1179.5h0M398 1192h0M436.5 1185.5h0M404 1165.5h0M402 1183.5h0M415 1195.5h0M410 1196h0M398.5 1179.5h0M418 1144h0M376 1171.5h0M436 1188.5h0M441 1152.5h0M427.5 1144.5h0M390 1187h0M436 1178h0M405.5 1187.5h0M439.5 1158.5h0M371 1175h0M378.5 1177.5h0M338.5 1146h0M466 1175h0M395.5 1174.5h0M433 1156h0M383.5 1165.5h0M425 1170.5h0M423.5 1184h0M476 1129.5h0M460.5 1152h0M423 1176.5h0M418 1136h0M416 1196h0M445 1158.5h0M418.5 1161.5h0M386.5 1164.5h0M335 1116h0M427 1180.5h0M407.5 1193.5h0M439.5 1174.5h0M458 1150h0M397 1190.5h0M431.5 1169.5h0M401 1133h0M435.5 1180h0M362.5 1149h0M360 1135h0M409 1192h0M429.5 1140.5h0M440 1175.5h0M499.5 1162h0M437 1177.5h0M402 1165.5h0M365.5 1126h0M405 1141h0M391 1144.5h0M429.5 1187h0M358.5 1137.5h0M434.5 1125h0M386.5 1133.5h0M474.5 1163h0M420.5 1182h0M404.5 1146.5h0M426.5 1178.5h0M406.5 1195.5h0M394.5 1177.5h0M359 1148h0M397 1184.5h0M352.5 1120h0M436 1144h0M471 1122h0M441 1147.5h0M395 1188h0M415 1184h0M425 1179h0M430 1128h0M437 1179.5h0M460 1176h0M449 1165.5h0M384 1156h0M434 1163h0M462 1131.5h0M305.5 1124.5h0M415.5 1175.5h0M498 1148h0M384 1164.5h0M448.5 1114h0M462 1166.5h0M459 1163h0M420 1178h0M425 1164h0M428.5 1155h0M415 1198h0M493.5 1168h0M341.5 1140.5h0M398 1162h0M369.5 1170.5h0M350.5 1115.5h0M440.5 1160h0M429 1180h0M436.5 1147.5h0M371.5 1150.5h0M430 1184.5h0M382.5 1169.5h0M421 1193h0M402 1168.5h0M414.5 1198.5h0M406 1170.5h0M444.5 1170h0M413 1199.5h0M247.5 1116h0M422 1194h0M450 1152.5h0M396.5 1169h0M401 1195.5h0M421 1101.5h0M434.5 1178h0M442 1165h0M441 1128.5h0M391.5 1135h0M417.5 1183h0M393.5 1144.5h0M455.5 1148.5h0M463 1173.5h0M436.5 1158h0M416.5 1180.5h0M371 1158h0M425 1175.5h0M415.5 1194.5h0M424.5 1189.5h0M415 1187h0M368.5 1139h0M387.5 1147.5h0M282 1125.5h0M390 1124h0M401 1174.5h0M416 1186.5h0M387.5 1189.5h0M409 1181.5h0M402.5 1180.5h0M412.5 1197h0M499.5 1128h0M437.5 1118.5h0M404 1157h0M401 1186.5h0M419 1155h0M389 1159h0M347 1143.5h0M382.5 1176.5h0M399 1177.5h0M423 1187h0M445.5 1153.5h0M402.5 1194h0M398.5 1163h0M418.5 1177.5h0M369 1170h0M370.5 1185.5h0M335.5 1152h0M376.5 1129h0M403 1172h0M388 1149.5h0M440.5 1168h0M468 1148.5h0M429.5 1178.5h0M419 1181h0M428 1149h0M423 1194h0M414.5 1188h0M364.5 1159.5h0M362 1162h0M452.5 1159.5h0M395 1179.5h0M411.5 1189.5h0M417 1195h0M392 1186.5h0M411.5 1197.5h0M425.5 1186h0M392 1150.5h0M363.5 1175h0M364 1135h0M438.5 1191.5h0M406 1188h0M427 1149.5h0M364.5 1176.5h0M478 1148h0M323.5 1119h0M433 1171.5h0M471 1151h0M431.5 1187h0M414.5 1196.5h0M381 1174.5h0M429 1145h0M424 1182h0M396.5 1190.5h0M416 1192h0M415 1194h0M417 1188.5h0M423 1095.5h0M401 1180.5h0M397.5 1155h0M429.5 1166.5h0M442.5 1158h0M392.5 1192.5h0M344 1159.5h0M406 1159h0M275 1123.5h0M390.5 1156.5h0M465 1145h0M400.5 1166h0M417 1195.5h0M416 1184.5h0M406 1195.5h0M428.5 1162.5h0M425 1178.5h0M464.5 1151h0M305.5 1135.5h0M428.5 1186h0M397 1164h0M492.5 1142h0M461 1172.5h0M363.5 1166h0M440.5 1170h0M330 1135h0M400 1162h0M414 1197.5h0M332.5 1154.5h0M424.5 1194.5h0M536.5 1122h0M413 1198.5h0M472.5 1157.5h0M397 1166h0M427.5 1180.5h0M454 1118.5h0M394.5 1185.5h0M423.5 1099.5h0M406.5 1194.5h0M405 1192h0M365.5 1124.5h0M288.5 1123h0M471 1119h0M429 1180.5h0M432 1172h0M351 1164.5h0M346.5 1114h0M457.5 1131.5h0M369 1177h0M415.5 1197h0M405.5 1162.5h0M421.5 1139.5h0M450.5 1135.5h0M373.5 1171.5h0M431.5 1183h0M512.5 1127h0M474 1144h0M444 1143.5h0M442 1183.5h0M408 1155h0M405 1173h0M424.5 1134h0M375 1142h0M412.5 1198.5h0M396.5 1186.5h0M431.5 1126.5h0M324.5 1163.5h0M384 1160h0M485.5 1143.5h0M400.5 1175h0M429 1153h0M424.5 1159.5h0M422.5 1086h0M331.5 1156h0M416.5 1194.5h0M425.5 1187h0M384 1187.5h0M409 1195.5h0M427.5 1121h0M489 1118h0M404.5 1195h0M427.5 1129.5h0M370 1150h0M409.5 1189h0M323 1119h0M384 1151.5h0M372 1123.5h0M402 1185.5h0M422.5 1160h0M410.5 1183.5h0M447 1143h0M408.5 1195h0M314.5 1129h0M473 1157h0M403.5 1084.5h0M415 1188h0M396.5 1132h0M302.5 1116h0M430.5 1183h0M392 1185h0M429.5 1138h0M291 1134.5h0M430.5 1177h0M526.5 1138.5h0M408 1169h0M447 1114h0M522.5 1124.5h0M404.5 1152.5h0M357.5 1144h0M457 1159.5h0M447 1134.5h0M336 1121.5h0M411.5 1177.5h0M422.5 1190h0M338 1134h0M408 1174h0M395.5 1146h0M405.5 1195h0M418 1195h0M313 1151h0M495.5 1156.5h0M486.5 1137.5h0M419.5 1187h0M389.5 1175.5h0M407 1160h0M413 1199.5h0M343.5 1139.5h0M444.5 1140.5h0M381.5 1158.5h0M388.5 1184h0M343.5 1151h0M432.5 1119.5h0M410 1170.5h0M425 1169h0M388.5 1176h0M397.5 1172.5h0M419.5 1194h0M391.5 1184h0M465.5 1150.5h0M435 1155.5h0M360 1158.5h0M388.5 1149.5h0M351 1177h0M407.5 1196.5h0M425 1162.5h0M413.5 1198h0M413 1199.5h0M431.5 1130h0M378.5 1125.5h0M419 1163h0M366 1172.5h0M421.5 1184h0M335.5 1119h0M442.5 1170.5h0M413.5 1199.5h0M414.5 1186h0M429.5 1157.5h0M421 1176.5h0M419.5 1195.5h0M427 1139h0M367 1162h0M463.5 1115.5h0M376.5 1133h0M435.5 1118.5h0M423 1180.5h0M480.5 1123.5h0M497.5 1147h0M340.5 1161h0M404 1139.5h0M422 1135.5h0M443.5 1167h0M405 1188.5h0M371.5 1178h0M455.5 1122.5h0M347.5 1167.5h0M396.5 1174.5h0M410 1176h0M392 1117h0M375.5 1165h0M431 1180.5h0M419.5 1148h0M449.5 1138.5h0M384 1172h0M418 1157h0M409 1180h0M383 1158h0M419.5 1183h0M312 1135h0M391.5 1136h0M506.5 1125.5h0M421.5 1136.5h0M402.5 1193h0M416 1173.5h0M382.5 1177h0M404.5 1191h0M419 1124h0M414.5 1190h0M374.5 1161.5h0M424.5 1192h0M425.5 1171h0M429.5 1178.5h0M418 1137.5h0M414.5 1183.5h0M452 1147.5h0M338 1113.5h0M379.5 1178.5h0M346 1125h0M367.5 1162.5h0M364.5 1165.5h0M500 1151h0M367 1184h0M402.5 1123.5h0M391.5 1182.5h0M407 1145.5h0M383 1190.5h0M396.5 1180h0M397 1182h0M392.5 1184h0M390.5 1187.5h0M418.5 1189.5h0M416 1192h0M425 1179h0M420.5 1150.5h0M404 1180h0M415.5 1186.5h0M412 1195h0M422.5 1185.5h0M510.5 1135h0M346 1122h0M417.5 1162.5h0M368.5 1153.5h0M408 1149h0M356.5 1168h0M416.5 1195.5h0M425.5 1174h0M325.5 1161h0M414.5 1195h0M387 1174h0M423 1174h0M426.5 1175.5h0M471.5 1166h0M368 1137h0M431 1161.5h0M427.5 1179.5h0M434 1134.5h0M299 1145.5h0M423 1192.5h0M336 1146.5h0M386 1145h0M298 1145h0M378.5 1131h0M389.5 1179h0M396 1148h0M407.5 1164.5h0M348.5 1147.5h0M420.5 1177h0M415 1198h0M394 1176h0M386 1157h0M427.5 1192h0M474.5 1156h0M444 1158h0M486 1120h0M403.5 1164.5h0M408.5 1185h0M399 1183h0M346 1144.5h0M440.5 1128h0M381 1156.5h0M336 1150.5h0M350.5 1176h0M405 1194h0M451 1161h0M361 1144.5h0M371.5 1169.5h0M421.5 1168h0M456.5 1137.5h0M361.5 1131h0M380.5 1155.5h0M405.5 1145.5h0M428 1188h0M318 1134.5h0M419 1179.5h0M444.5 1182h0M457 1167.5h0M445 1124h0M395.5 1153h0M284 1122h0M408.5 1195.5h0M399.5 1133h0M404.5 1196.5h0M302 1125.5h0M399.5 1158h0M416.5 1156h0M402 1156.5h0M368.5 1166.5h0M415.5 1175h0M440.5 1176.5h0M414.5 1199h0M446 1184h0M352.5 1138.5h0M370 1171.5h0M438.5 1150.5h0M461 1151.5h0M417.5 1187h0M365.5 1171.5h0M321 1135h0M445.5 1143h0M393 1184h0M389.5 1170h0M309.5 1141.5h0M319.5 1138h0M362.5 1164h0M424.5 1129.5h0M388.5 1166.5h0M411.5 1194h0M396 1161h0M411.5 1189.5h0M411.5 1188h0M393.5 1182h0M415.5 1193h0M330.5 1141.5h0M436 1115.5h0M507.5 1127h0M357.5 1128h0M410 1187h0M358.5 1147.5h0M422 1181h0M493 1133.5h0M401 1194h0M306.5 1138.5h0M426.5 1179h0M451 1179h0M400.5 1191.5h0M417 1164.5h0M374.5 1158h0M397 1117.5h0M407 1185h0M494 1149.5h0M419 1185.5h0M430 1163.5h0M415 1187.5h0M390 1158h0M430 1188h0M409 1192.5h0M402.5 1163h0M435 1174h0M459 1173.5h0M416 1178.5h0M436.5 1170h0M436.5 1132h0M337 1161.5h0M419 1170.5h0M381 1180h0M387 1187h0M476.5 1134.5h0M405.5 1162.5h0M422 1191h0M316.5 1134.5h0M421 1181h0M457 1175h0M407 1165h0M394.5 1170.5h0M410.5 1175h0M416 1193h0M303 1164h0M386.5 1153.5h0M402.5 1194.5h0M512.5 1134h0M399.5 1175h0M438.5 1167h0M432 1146h0M351 1140.5h0M387.5 1154h0M437 1132.5h0M395 1119h0M404 1197h0M382.5 1183.5h0M408.5 1186h0M353.5 1148.5h0M368 1125.5h0M438.5 1160h0M380 1154h0M406 1186h0M391.5 1150.5h0M384.5 1175.5h0M386.5 1167.5h0M425.5 1182h0M403 1190h0M398 1181h0M398.5 1181.5h0M414 1195.5h0M429 1136.5h0M366 1139h0M300 1126.5h0M433 1174h0M296 1138.5h0M510.5 1140h0M477.5 1156h0M453 1152.5h0M383.5 1174h0M428.5 1165h0M424 1176h0M419.5 1123.5h0M427.5 1168.5h0M438.5 1168h0M419 1182h0M412 1198h0M402 1175.5h0M329 1136h0M437 1176.5h0M391 1134h0M391.5 1173h0M386.5 1155h0M360.5 1123h0M431 1124h0M368 1165.5h0M448.5 1173h0M438.5 1183h0M326 1122h0M459.5 1164.5h0M389.5 1157h0M356.5 1139h0M405.5 1107.5h0M424 1192h0M408 1157.5h0M400 1192.5h0M412.5 1198h0M416 1192h0M431.5 1177.5h0M428 1183h0M418 1189.5h0M400.5 1162.5h0M466.5 1158.5h0M308.5 1154.5h0M331.5 1126.5h0M431.5 1136h0M470.5 1154.5h0M399.5 1193h0M407 1189.5h0M366 1173.5h0M417.5 1176h0M420 1114.5h0M429 1156.5h0M493.5 1154h0M421 1185.5h0M455.5 1187.5h0M418 1184h0M420.5 1172.5h0M413.5 1198.5h0M399.5 1194h0M382.5 1144h0M428.5 1181h0M411.5 1192h0M482 1152h0M295.5 1137h0M412 1198.5h0M438 1170.5h0M305.5 1125h0M383.5 1181h0M415 1189.5h0M433 1162h0M359 1137h0M414.5 1196h0M441 1152h0M419 1169.5h0M422 1170h0M370 1120h0M419 1169.5h0M406 1176h0M415.5 1182h0M421.5 1140.5h0M497 1124h0M420 1188.5h0M335.5 1173.5h0M418.5 1146.5h0M447.5 1153h0M377 1131h0M345.5 1127.5h0M411 1180.5h0M394 1175h0M432.5 1113.5h0M376 1152h0M260 1140h0M433 1155.5h0M384.5 1157.5h0M461.5 1179h0M408 1163.5h0M454 1133.5h0M397.5 1134.5h0M367.5 1119.5h0M393 1169.5h0M435 1156.5h0M467.5 1159.5h0M363.5 1155.5h0M442.5 1152h0M432.5 1161h0M432 1189h0M425 1172h0M420 1194.5h0M414.5 1192h0M424 1162.5h0M416 1193h0M468 1150h0M405.5 1162h0M447.5 1178h0M437 1180h0M416 1181.5h0M406 1189.5h0M411 1191.5h0M521.5 1119.5h0M521.5 1150h0M525 1121.5h0M556 1125.5h0M599.5 1129h0M570.5 1146.5h0M574.5 1140h0M586 1139.5h0M526 1164.5h0M508.5 1156h0M585 1125.5h0M562.5 1139.5h0M521.5 1144.5h0M535.5 1157h0M560 1120h0M575.5 1144h0M523.5 1120h0M577 1133h0M521 1131.5h0M554.5 1127.5h0M509.5 1160.5h0M552 1143h0M505.5 1151.5h0M525 1150h0M582.5 1137h0M524.5 1115h0M522.5 1162.5h0M546.5 1135h0M533.5 1115h0M537 1159h0M552 1122.5h0M526.5 1146.5h0M555 1140.5h0M553 1140.5h0M516 1140.5h0M517 1144.5h0M502.5 1154.5h0M543.5 1131.5h0M562 1151h0M528.5 1130h0M531.5 1136.5h0M532 1150.5h0M574 1123.5h0M555.5 1138.5h0M564.5 1145.5h0M518 1166.5h0M575.5 1136h0M559.5 1114h0M532 1124h0M564 1145h0M593 1125.5h0M552 1151h0M537 1146h0M540 1118h0M520 1141.5h0M539 1152h0M564.5 1144.5h0M545.5 1134.5h0M549 1123h0M540.5 1125.5h0M502 1153.5h0M528.5 1163.5h0M539 1135h0M588 1123h0M582 1129h0M507.5 1149h0M596 1125.5h0M542 1147.5h0M567 1133.5h0M531.5 1113.5h0M558.5 1123.5h0M525.5 1130h0M559.5 1141.5h0M587 1136h0M562 1147.5h0M517 1124.5h0M506.5 1140.5h0M593.5 1132h0M529 1159h0M503 1149.5h0M512 1133.5h0M547.5 1150h0M560 1135.5h0M577 1115.5h0M566.5 1142h0M532 1124h0M528.5 1142.5h0M570 1126.5h0M526 1123.5h0M542.5 1152.5h0M527.5 1134.5h0M585 1127.5h0M521.5 1116.5h0M504 1136.5h0M540.5 1125h0M550.5 1146h0M595.5 1128h0M512.5 1149.5h0M527 1145h0M554.5 1149h0M542.5 1133.5h0M547.5 1134h0M522.5 1146h0M213.5 1115h0M257 1140.5h0M259 1121.5h0M268.5 1146h0M228.5 1115h0M207 1125.5h0M273.5 1138h0M239.5 1139.5h0M270 1142h0M279 1126.5h0M242.5 1138h0M237 1127.5h0M249.5 1119h0M246.5 1129.5h0M229.5 1127h0M244.5 1139.5h0M265 1155.5h0M292.5 1128h0M399 1135.5h0M360 1142h0M333 1154.5h0M283 1137h0M337 1124h0M366.5 1123.5h0M196 1136.5h0M336 1151h0M344 1119.5h0M207 1116.5h0M283 1122h0M299 1125.5h0M285.5 1122.5h0M301 1127.5h0M251 1120.5h0M291 1155h0M200.5 1143h0M343.5 1160h0M265.5 1141h0M520.5 1127h0M569.5 1115h0M364.5 1119.5h0M484 1116.5h0M554.5 1129.5h0M479.5 1130.5h0M535 1132.5h0M468.5 1127.5h0M553 1123.5h0M490 1123.5h0M531.5 1119.5h0M465 1118h0M552.5 1124.5h0M572 1118h0M524 1124h0M498 1125h0M639 1116.5h0M463 1115.5h0M573 1122.5h0M527 1130.5h0M390 1134h0M544.5 1138.5h0M549 1120h0M533 1130.5h0M551 1138h0M573.5 1126h0M615 1128.5h0M511.5 1126.5h0M608 1138h0M612 1126.5h0M462.5 1116.5h0M585 1134.5h0M564.5 1129.5h0M471 1121h0M651 1123.5h0M657.5 1114h0M466 1115.5h0M382 1120h0M522.5 1116.5h0M466.5 1137h0M498 1130h0M563 1122.5h0M497.5 1130.5h0M506 1127h0M534 1114.5h0M447 1135.5h0M454.5 1125h0M614 1131h0M480.5 1119.5h0M522.5 1117.5h0M559.5 1122h0M590.5 1127.5h0M515.5 1127h0M454 1130.5h0M501.5 1129.5h0M587 1114h0M519.5 1123h0M643 1124.5h0M520.5 1124h0M504.5 1123.5h0M446.5 1119h0M539 1117h0M431 1131h0M469.5 1127.5h0M473 1130.5h0M430 1122.5h0M462 1116.5h0M583 1131.5h0M602 1134h0M576.5 1128h0M514 1132h0M490 1125h0M557 1131h0M443 1122h0M650 1118.5h0M547 1126h0M622.5 1118h0M638.5 1117h0M526.5 1124.5h0M589.5 1132.5h0M291 1128h0M342 1117h0M364.5 1125.5h0M376.5 1116h0M308.5 1118.5h0M365 1125h0M233.5 1130h0M311 1118h0M311.5 1118h0M357.5 1118h0M276 1124.5h0M289 1113.5h0M313 1125.5h0M267 1118.5h0M308 1114h0M297.5 1129.5h0M391 1120h0M400.5 1079h0M343 1140h0M344.5 1147h0M352 1120h0M314.5 1146h0M293.5 1114.5h0M383.5 1133.5h0M399 1077.5h0M400 1064.5h0M319 1127h0M295 1119.5h0M399 1095h0M326.5 1116h0M324 1124.5h0M425 1074.5h0M423.5 1102.5h0M423.5 1064h0M662.5 1120h0M698 1133.5h0M702.5 1144.5h0M660.5 1153h0M645 1143.5h0" fill="none" stroke="#4E4E4E" stroke-width="4.7" stroke-linecap="round" opacity="0.93"/>
<path d="M416 1165.5h0M301 1120h0M373.5 1168.5h0M388.5 1160h0M387.5 1131.5h0M408 1194h0M297 1121.5h0M488 1162h0M333 1134h0M408.5 1196.5h0M489 1116h0M409.5 1197h0M437 1164h0M315 1125h0M312 1127h0M420 1191h0M409.5 1166h0M461.5 1140h0M429.5 1136.5h0M421.5 1162.5h0M436.5 1171.5h0M352 1118h0M423.5 1170h0M413 1199h0M390 1179h0M402.5 1174.5h0M440 1139.5h0M411.5 1198h0M461.5 1119.5h0M431.5 1132h0M391.5 1146.5h0M380.5 1160.5h0M439.5 1131.5h0M281.5 1119h0M418.5 1175h0M391 1175.5h0M406 1183h0M423.5 1152.5h0M513 1135h0M421.5 1115.5h0M392.5 1188h0M392.5 1173.5h0M456.5 1171.5h0M432 1148.5h0M358.5 1154h0M403.5 1164.5h0M508 1120h0M414 1194h0M410 1198.5h0M316 1133h0M303.5 1134h0M446.5 1118h0M410 1197.5h0M410 1165h0M439.5 1172.5h0M415 1195h0M400 1162.5h0M422 1145h0M492.5 1131h0M422.5 1191.5h0M412 1197h0M360.5 1144h0M442.5 1154.5h0M424 1180.5h0M274 1122.5h0M419 1156.5h0M407.5 1175h0M435 1120h0M457 1163h0M410.5 1194h0M378.5 1136h0M410 1174.5h0M429.5 1147h0M417 1176h0M438 1132.5h0M336 1122h0M450 1182h0M339 1163h0M458 1155h0M403 1165h0M446.5 1144.5h0M431.5 1156.5h0M405 1107h0M429 1161h0M410 1180.5h0M393.5 1194.5h0M418 1170.5h0M477.5 1128h0M463.5 1161.5h0M397 1180h0M401.5 1141h0M392 1148h0M426.5 1190.5h0M331.5 1170h0M403.5 1157.5h0M432.5 1136h0M443.5 1142h0M319.5 1140h0M395 1186.5h0M434 1180h0M409.5 1158h0M328.5 1154.5h0M425.5 1191h0M417.5 1196h0M472 1118h0M384 1171.5h0M386.5 1185h0M384 1134.5h0M438 1175h0M418.5 1168.5h0M386 1176.5h0M342.5 1118h0M434 1145h0M426 1192h0M403.5 1186.5h0M416 1186h0M476 1119.5h0M425 1181.5h0M415 1196h0M428.5 1176h0M400 1190.5h0M324.5 1154.5h0M447.5 1122.5h0M415.5 1171.5h0M425 1168.5h0M454.5 1157.5h0M411.5 1199.5h0M355 1180.5h0M426 1165h0M397.5 1184h0M441 1178.5h0M405.5 1145.5h0M422.5 1129.5h0M409 1188h0M396 1184h0M404.5 1176h0M312 1127.5h0M416.5 1166.5h0M444.5 1148.5h0M418.5 1160.5h0M415 1193.5h0M401.5 1178h0M370.5 1146.5h0M428 1175h0M440 1175.5h0M387 1124.5h0M419.5 1190h0M390.5 1178h0M414.5 1194h0M444 1182h0M330.5 1169h0M399.5 1161.5h0M428.5 1124.5h0M425.5 1142.5h0M463 1150h0M466.5 1136h0M378.5 1148.5h0M438.5 1152h0M395 1139h0M424 1122.5h0M283 1116.5h0M414.5 1190.5h0M415 1189.5h0M337.5 1118.5h0M414.5 1198.5h0M364.5 1164.5h0M296 1132.5h0M338 1132h0M404 1148.5h0M415 1193.5h0M407.5 1176.5h0M422.5 1108.5h0M424 1180.5h0M304 1122h0M362.5 1163.5h0M405.5 1194.5h0M420 1185h0M447 1159h0M440 1142.5h0M419.5 1192.5h0M402.5 1129h0M382.5 1176.5h0M439.5 1160.5h0M376.5 1183.5h0M424.5 1149h0M410 1197.5h0M377.5 1155.5h0M423 1189.5h0M449 1171h0M423.5 1119h0M405.5 1193.5h0M332 1154h0M351 1118.5h0M332 1131.5h0M429.5 1164.5h0M435 1142h0M454.5 1171h0M428.5 1132h0M430 1186.5h0M363.5 1168h0M479.5 1137.5h0M417.5 1192.5h0M361.5 1160.5h0M408 1192h0M326.5 1137h0M397.5 1166.5h0M458 1163.5h0M403 1193h0M308 1119h0M391.5 1171.5h0M428.5 1170.5h0M404 1196h0M446.5 1123.5h0M431.5 1156.5h0M411 1198h0M444 1181.5h0M405 1183.5h0M355 1174h0M317.5 1122h0M429.5 1167.5h0M364.5 1147h0M432.5 1177h0M386 1188h0M438.5 1170h0M342 1153h0M423.5 1179.5h0M370.5 1171.5h0M409.5 1193.5h0M428.5 1175.5h0M482.5 1151.5h0M417.5 1139.5h0M402.5 1192.5h0M402 1155h0M387.5 1135.5h0M415.5 1199h0M416.5 1169.5h0M387 1182h0M433 1167.5h0M444 1158h0M373.5 1170h0M406 1185.5h0M452.5 1155.5h0M418.5 1193.5h0M459.5 1132h0M435.5 1166h0M349 1159.5h0M380.5 1188.5h0M444 1158.5h0M420 1173.5h0M422.5 1167.5h0M406.5 1177.5h0M396 1177.5h0M407 1117h0M423.5 1174h0M421.5 1190.5h0M350.5 1169h0M380.5 1165h0M389 1188h0M417.5 1188.5h0M372 1118h0M406 1135.5h0M398.5 1187h0M401 1172h0M455.5 1116h0M453 1127.5h0M401.5 1189.5h0M346 1143h0M331 1153h0M368.5 1173.5h0M381.5 1133h0M396 1189.5h0M322.5 1126.5h0M268 1121.5h0M417.5 1190h0M400.5 1180.5h0M469.5 1141h0M416.5 1170.5h0M416.5 1155h0M514.5 1150h0M368.5 1152.5h0M357.5 1170.5h0M435.5 1161.5h0M415.5 1196.5h0M474.5 1178h0M315.5 1141.5h0M332 1120h0M369.5 1113.5h0M357 1153.5h0M494 1139.5h0M367 1156h0M445 1169h0M399 1166h0M380.5 1120.5h0M411 1197.5h0M427 1169.5h0M482.5 1141.5h0M302.5 1121h0M454 1120.5h0M419.5 1179h0M410 1162h0M423.5 1194h0M379.5 1122.5h0M409 1170.5h0M453.5 1149h0M431.5 1183h0M420.5 1194.5h0M308.5 1139.5h0M433.5 1148h0M415 1196h0M455 1121.5h0M414 1195h0M381 1169.5h0M363 1139.5h0M394.5 1176.5h0M378.5 1141h0M419 1186h0M410 1188.5h0M395 1170h0M410 1195h0M428 1190h0M409 1197h0M428.5 1181h0M394.5 1146h0M411.5 1182h0M413 1199.5h0M383 1121h0M280 1116h0M424.5 1124h0M403.5 1170.5h0M407 1194.5h0M416.5 1180.5h0M449 1185h0M436.5 1125h0M410 1196h0M386.5 1157h0M419.5 1158h0M400.5 1162h0M419 1182h0M419 1192h0M378.5 1131.5h0M304.5 1129.5h0M308 1143h0M298.5 1116h0M421 1157h0M401 1151h0M419 1173h0M404.5 1179.5h0M425.5 1116h0M428.5 1140.5h0M377.5 1143.5h0M403 1185.5h0M260 1120h0M282.5 1126.5h0M413.5 1195h0M423 1177h0M433 1158.5h0M404 1181.5h0M390 1162h0M305 1114h0M409 1194.5h0M438.5 1148h0M349 1131.5h0M431 1180h0M434 1179h0M337.5 1134h0M403 1188h0M357.5 1140h0M448 1135h0M451.5 1149.5h0M395.5 1186h0M434.5 1184h0M377.5 1171h0M298.5 1154h0M398 1184h0M424.5 1135h0M443 1150h0M386 1173.5h0M293.5 1123h0M427 1141h0M429.5 1168h0M444.5 1173h0M414.5 1199h0M376.5 1131.5h0M405.5 1181h0M423 1164h0M431.5 1137.5h0M315 1123h0M420.5 1114.5h0M392.5 1158.5h0M414 1197.5h0M423 1127h0M393.5 1190.5h0M437.5 1126.5h0M418.5 1141.5h0M390.5 1174.5h0M396 1172h0M343.5 1152h0M408.5 1187.5h0M428 1158h0M546 1126.5h0M373.5 1182h0M412 1195.5h0M396 1130.5h0M375 1155.5h0M448.5 1164h0M341.5 1115.5h0M405 1192h0M489 1115.5h0M485.5 1115.5h0M403.5 1186h0M403.5 1143.5h0M395 1157h0M437.5 1171.5h0M432.5 1178h0M425 1191.5h0M478 1174.5h0M415.5 1192.5h0M438.5 1126.5h0M425 1162h0M367.5 1175h0M338 1142h0M424.5 1129.5h0M428.5 1177h0M432.5 1189.5h0M466 1115.5h0M416 1182.5h0M437.5 1136.5h0M424.5 1104h0M408 1132.5h0M320.5 1144.5h0M416.5 1156h0M364.5 1182h0M405 1154h0M447.5 1164h0M349.5 1167h0M440.5 1143h0M438.5 1184h0M410 1197h0M405.5 1194h0M446 1174h0M275.5 1121.5h0M443.5 1146.5h0M383.5 1169h0M428.5 1151.5h0M409.5 1198.5h0M289.5 1137.5h0M426.5 1153.5h0M410 1167h0M420.5 1193.5h0M424 1194h0M402 1186.5h0M437.5 1144h0M430 1180h0M365.5 1142.5h0M372.5 1151h0M419 1171.5h0M352 1113.5h0M404.5 1184h0M382.5 1170h0M334 1129.5h0M408 1177h0M404.5 1174h0M411 1197.5h0M395 1179.5h0M410.5 1167.5h0M458.5 1154.5h0M422.5 1142.5h0M405 1101h0M362 1142.5h0M395 1151h0M437 1183.5h0M423.5 1145h0M356.5 1158h0M500.5 1144.5h0M461 1146.5h0M379.5 1118.5h0M387.5 1158.5h0M431 1187h0M384 1162.5h0M421 1189h0M462 1134.5h0M463.5 1147.5h0M294 1133h0M414.5 1188.5h0M328.5 1166h0M445.5 1132h0M401 1155h0M435.5 1181h0M410 1194.5h0M402.5 1186.5h0M382.5 1181.5h0M392.5 1159.5h0M414 1193.5h0M412 1195.5h0M406.5 1166h0M421 1125.5h0M476.5 1160h0M421 1195.5h0M458 1157h0M457.5 1132.5h0M423.5 1191h0M362 1119.5h0M429 1150.5h0M414 1196h0M401.5 1136h0M405 1142h0M406.5 1167h0M430.5 1177h0M458.5 1145h0M409 1172h0M432.5 1131.5h0M361 1143h0M459 1150h0M421 1153.5h0M397.5 1178.5h0M370 1149h0M421.5 1175.5h0M378 1170.5h0M426 1138h0M408 1193h0M440.5 1164h0M459 1165h0M386 1147.5h0M408.5 1181.5h0M408 1193.5h0M346.5 1160.5h0M420 1191.5h0M399 1189.5h0M401 1138h0M470.5 1162.5h0M448.5 1155h0M408 1172.5h0M464.5 1114h0M410 1193.5h0M554.5 1134h0M386 1174.5h0M383.5 1154h0M398 1167h0M440 1158h0M378.5 1163.5h0M361.5 1158.5h0M402.5 1164.5h0M387.5 1168.5h0M357 1139.5h0M425.5 1187h0M423 1175.5h0M379 1179.5h0M410.5 1181.5h0M431.5 1171.5h0M519.5 1145h0M459.5 1138h0M332.5 1139.5h0M384.5 1183.5h0M424 1159h0M416.5 1184h0M426.5 1180h0M412.5 1191h0M434.5 1160.5h0M479.5 1128.5h0M489.5 1132h0M462.5 1150h0M432 1184.5h0M418.5 1179h0M415 1179h0M398 1189.5h0M393 1175h0M467.5 1134.5h0M391 1187.5h0M439.5 1161h0M433.5 1143h0M385 1124h0M399.5 1154.5h0M432 1116.5h0M288 1128h0M348.5 1149.5h0M386.5 1119h0M459.5 1148.5h0M291.5 1121h0M382.5 1173h0M458.5 1170.5h0M445.5 1159h0M515.5 1153h0M447.5 1174h0M417.5 1185.5h0M438 1139.5h0M320 1162h0M452 1179h0M401 1134.5h0M407.5 1155.5h0M442.5 1170.5h0M411 1195.5h0M386 1158.5h0M405 1176h0M381.5 1140h0M434 1160.5h0M391.5 1173h0M346 1167.5h0M433.5 1186h0M387.5 1189h0M366.5 1179h0M408 1182.5h0M450.5 1175.5h0M416 1180h0M387 1165h0M394.5 1189h0M434 1177h0M401.5 1137h0M521.5 1147.5h0M418 1174h0M391.5 1189.5h0M386 1192.5h0M488 1125.5h0M430 1143h0M401.5 1193.5h0M342.5 1175h0M422 1171.5h0M420.5 1185.5h0M396.5 1170.5h0M426.5 1189h0M447 1170h0M276 1142h0M303.5 1153h0M381 1156.5h0M456 1135h0M382 1184.5h0M398.5 1116h0M441 1172h0M410 1193h0M441.5 1160h0M423.5 1193.5h0M332 1137h0M384.5 1122.5h0M360 1167.5h0M412.5 1196.5h0M436 1165.5h0M418 1182h0M355 1114h0M407.5 1188h0M341 1165h0M369 1157.5h0M500.5 1131h0M402 1126h0M477.5 1171h0M367.5 1165.5h0M416.5 1174.5h0M401.5 1089h0M402.5 1181h0M415.5 1198.5h0M471.5 1138h0M391 1166h0M414 1199h0M504.5 1119h0M428 1125.5h0M339 1141h0M420 1170.5h0M448.5 1165.5h0M361 1162h0M414.5 1189h0M357.5 1151.5h0M416 1185.5h0M349.5 1140.5h0M433 1179h0M396 1164.5h0M441 1171.5h0M430 1183h0M436 1162h0M430.5 1144h0M382.5 1179h0M394.5 1184.5h0M405.5 1182.5h0M504 1127h0M376.5 1158h0M408.5 1191h0M407.5 1161.5h0M434.5 1157h0M351 1155.5h0M375.5 1172.5h0M412 1197h0M418 1168.5h0M354.5 1166.5h0M393 1189.5h0M385 1140h0M404.5 1113.5h0M518 1142h0M419.5 1187h0M449 1162h0M390 1186.5h0M473 1128.5h0M393 1191.5h0M418 1180.5h0M478 1150h0M452 1171.5h0M373.5 1157.5h0M425 1184.5h0M454.5 1172h0M400 1179h0M419.5 1173.5h0M356 1144.5h0M433 1121.5h0M417 1165h0M377 1165h0M388.5 1150.5h0M404 1177.5h0M463 1170h0M323.5 1151h0M420.5 1194h0M416.5 1167.5h0M417 1189h0M426 1178h0M403 1081h0M421 1185h0M459.5 1116.5h0M424.5 1150h0M399 1174.5h0M447.5 1187h0M413 1199h0M396.5 1161h0M415 1178h0M415 1181.5h0M448 1163h0M444 1134.5h0M424.5 1177.5h0M524 1145h0M422 1188h0M415.5 1171.5h0M421 1185.5h0M405 1196.5h0M449 1143h0M476.5 1119.5h0M400.5 1163.5h0M454.5 1165h0M416.5 1166h0M425.5 1171h0M428.5 1152h0M433.5 1153.5h0M425 1191.5h0M369.5 1138.5h0M409 1158h0M352.5 1145h0M392.5 1124h0M428.5 1115.5h0M405 1170h0M405.5 1141.5h0M405.5 1137h0M423.5 1193.5h0M468.5 1160.5h0M374.5 1155.5h0M416.5 1192h0M355.5 1167h0M434.5 1172.5h0M421 1193.5h0M369.5 1158h0M404 1160.5h0M409 1191.5h0M401 1178h0M423 1139.5h0M455 1137.5h0M426 1165.5h0M446 1159.5h0M453 1143h0M443.5 1153h0M435.5 1139h0M424.5 1195h0M361.5 1113.5h0M373 1154.5h0M429.5 1174h0M410.5 1187.5h0M470 1157h0M421.5 1190h0M424 1194h0M334 1147h0M408 1192.5h0M421 1185h0M396.5 1139.5h0M416.5 1157.5h0M467.5 1142.5h0M410 1171.5h0M423 1166.5h0M375.5 1146h0M372.5 1176h0M422 1174.5h0M421 1195h0M416.5 1190h0M430 1188.5h0M416 1193.5h0M315.5 1120.5h0M428 1190.5h0M411.5 1192h0M391.5 1147h0M454 1159h0M380 1174h0M418 1185.5h0M414 1193.5h0M419 1160.5h0M373.5 1171.5h0M401 1137h0M400.5 1181h0M439 1181.5h0M404 1161h0M414.5 1196h0M412.5 1196.5h0M414.5 1194.5h0M391 1155.5h0M406.5 1178.5h0M419.5 1191h0M389 1191h0M426.5 1126h0M353.5 1167h0M397 1163.5h0M370 1144.5h0M428.5 1148.5h0M433.5 1169h0M428 1145.5h0M499.5 1114h0M432 1176.5h0M411 1177.5h0M373.5 1150h0M424 1182.5h0M483.5 1149h0M351.5 1158.5h0M442 1187h0M317 1153h0M442.5 1176h0M424 1128.5h0M425.5 1171.5h0M457 1136.5h0M445 1150.5h0M415.5 1188h0M507.5 1135.5h0M351.5 1143h0M402.5 1162h0M415.5 1197h0M459 1157.5h0M404 1171h0M438.5 1141h0M408.5 1178h0M374 1147.5h0M345 1163.5h0M426 1183h0M333 1144h0M420 1183.5h0M400.5 1193h0M391.5 1185.5h0M418 1195h0M503 1147.5h0M361.5 1151h0M430.5 1137h0M407 1193h0M380.5 1153.5h0M410.5 1191h0M394.5 1194h0M383 1156.5h0M382.5 1153.5h0M413.5 1199h0M409.5 1186h0M343.5 1115.5h0M400 1115.5h0M425 1181.5h0M358 1119.5h0M423.5 1151.5h0M418.5 1187h0M395 1180h0M455.5 1167.5h0M449 1159h0M382.5 1185.5h0M482 1159h0M492.5 1132.5h0M435 1120.5h0M490 1142h0M411.5 1188h0M400 1179h0M426 1170.5h0M395 1179h0M394.5 1121.5h0M445.5 1174.5h0M377 1151h0M397 1192h0M409 1167.5h0M458 1152h0M342.5 1150h0M421 1121h0M420.5 1177.5h0M395.5 1131.5h0M503.5 1137h0M393 1190h0M501 1134h0M403 1124h0M432 1154h0M393 1171.5h0M409.5 1194h0M391 1184.5h0M455.5 1157h0M485 1128h0M351.5 1140.5h0M422.5 1138h0M428.5 1167h0M438.5 1135.5h0M402.5 1137h0M385.5 1169.5h0M378.5 1155.5h0M428.5 1120h0M416 1190.5h0M414 1195h0M402.5 1180.5h0M422.5 1183h0M380 1165h0M401.5 1151.5h0M447 1160h0M269.5 1145.5h0M377 1168.5h0M387.5 1160.5h0M448.5 1151.5h0M467.5 1148h0M391.5 1166.5h0M435.5 1160.5h0M417.5 1187.5h0M447 1164h0M431.5 1167h0M424.5 1185.5h0M422 1174h0M367.5 1180h0M339 1146h0M453 1176.5h0M398.5 1172h0M314 1127h0M381.5 1181h0M431 1173.5h0M424.5 1103.5h0M406 1165h0M416 1197.5h0M442 1166.5h0M383.5 1163h0M395 1183h0M417 1190h0M395.5 1131.5h0M392 1140h0M381 1177h0M416.5 1190h0M400.5 1173h0M395.5 1124h0M506 1134h0M498 1147h0M439 1183.5h0M417.5 1191h0M451 1170.5h0M351.5 1134.5h0M354 1165h0M330.5 1117.5h0M403.5 1142h0M399 1130.5h0M404 1172h0M463.5 1158.5h0M461 1152h0M328 1155.5h0M426.5 1180h0M411.5 1195.5h0M335 1161.5h0M407.5 1192.5h0M392.5 1180h0M419.5 1194.5h0M434 1160h0M468 1170h0M416.5 1198h0M412 1197h0M404.5 1134.5h0M324.5 1134h0M359.5 1153.5h0M385 1185.5h0M451.5 1173h0M422.5 1186h0M484 1132h0M348.5 1154h0M396 1181.5h0M411.5 1197.5h0M393 1188h0M417 1197.5h0M387.5 1127h0M438 1175.5h0M423.5 1182.5h0M400.5 1085.5h0M406.5 1194.5h0M395.5 1187h0M347 1134.5h0M436 1179h0M389.5 1184.5h0M470.5 1148h0M355.5 1151h0M392 1189.5h0M450 1130.5h0M399.5 1156.5h0M407.5 1158h0M403 1178.5h0M328 1130.5h0M347 1174h0M391 1156h0M418 1177h0M440 1129h0M395 1144.5h0M453 1159h0M267 1116.5h0M419.5 1149h0M426.5 1158h0M327 1135h0M431 1185.5h0M388 1183h0M394 1175.5h0M498 1147h0M483 1138.5h0M439.5 1169h0M453 1167.5h0M404 1168h0M406.5 1141.5h0M417 1177.5h0M451.5 1149h0M434.5 1161h0M406 1151.5h0M377.5 1129h0M408 1183.5h0M416.5 1192h0M390 1182.5h0M463 1145h0M349.5 1130.5h0M377.5 1160.5h0M374.5 1139.5h0M413.5 1199.5h0M368 1175.5h0M427.5 1185.5h0M434 1163.5h0M403.5 1120.5h0M468.5 1167h0M342 1148h0M470 1151.5h0M522.5 1133h0M410 1198.5h0M418 1192.5h0M430 1175h0M420.5 1184.5h0M416 1198h0M439.5 1142.5h0M402.5 1192h0M476 1141.5h0M383 1115h0M432.5 1170.5h0M419.5 1164h0M414 1196h0M420 1151.5h0M464 1133h0M410 1167.5h0M417.5 1187h0M382 1159h0M463.5 1158.5h0M492 1124h0M428 1153.5h0M399 1161.5h0M395 1167.5h0M397 1182.5h0M387 1163h0M437.5 1169.5h0M376 1170.5h0M486.5 1128h0M441.5 1164.5h0M420 1115h0M423.5 1182.5h0M426 1135.5h0M384.5 1182h0M407.5 1193.5h0M438 1162.5h0M360.5 1167h0M425 1183h0M410 1183.5h0M410.5 1197h0M396 1177.5h0M454.5 1174h0M380.5 1176.5h0M450.5 1115h0M368 1160.5h0M409 1156h0M423 1194.5h0M403.5 1158.5h0M410 1179h0M359.5 1161h0M342 1172h0M429.5 1185.5h0M414.5 1195.5h0M405 1168h0M438 1182h0M384.5 1179h0M416 1187.5h0M399.5 1113.5h0M383.5 1175.5h0M443.5 1143h0M444 1156.5h0M430.5 1184h0M326 1138h0M391 1173h0M424 1195.5h0M401.5 1183h0M402 1177.5h0M417.5 1191.5h0M510.5 1148h0M414 1190h0M416 1178h0M403.5 1184.5h0M431 1132h0M370 1172h0M424 1179.5h0M426 1142.5h0M402 1128.5h0M420 1186.5h0M417.5 1188.5h0M477.5 1115h0M333 1147h0M479.5 1148h0M428 1142.5h0M406 1178h0M499 1161h0M386.5 1168.5h0M438 1148.5h0M395.5 1177.5h0M415 1181.5h0M377 1149.5h0M440 1124.5h0M401.5 1195.5h0M402 1144.5h0M410.5 1195.5h0M414.5 1189h0M401.5 1187h0M356 1116.5h0M367.5 1126.5h0M475.5 1161h0M405.5 1170.5h0M439.5 1165h0M370.5 1123h0M356 1143h0M430 1168h0M401.5 1183h0M413 1199.5h0M397.5 1147.5h0M384.5 1146h0M325 1118.5h0M401.5 1144h0M496 1117h0M422.5 1159.5h0M392 1192.5h0M427 1181.5h0M368.5 1185.5h0M419.5 1164.5h0M473 1130.5h0M406 1128.5h0M422.5 1103.5h0M390 1188h0M398.5 1178h0M392.5 1179.5h0M421.5 1190h0M397.5 1180h0M481 1157.5h0M374.5 1162.5h0M419.5 1157.5h0M447.5 1158.5h0M423.5 1169.5h0M432.5 1185.5h0M432.5 1128h0M385 1122.5h0M412 1196.5h0M367.5 1169h0M415.5 1199h0M429 1182.5h0M452 1172.5h0M396.5 1132h0M438 1170h0M435.5 1167.5h0M399.5 1174.5h0M417.5 1194.5h0M419 1174.5h0M354 1178.5h0M361 1168.5h0M417 1180.5h0M413.5 1199h0M498 1146.5h0M413 1198h0M424.5 1119h0M421 1192.5h0M469.5 1153.5h0M378 1169.5h0M356 1155.5h0M403.5 1157.5h0M478 1123h0M437.5 1162h0M396 1140.5h0M442.5 1118h0M421 1186.5h0M422.5 1155.5h0M407 1189.5h0M419.5 1187.5h0M408 1192.5h0M405.5 1191.5h0M336 1158h0M390 1190.5h0M441 1172h0M408.5 1165h0M294 1136h0M310 1172.5h0M383.5 1183.5h0M426.5 1175.5h0M416 1195h0M446 1133.5h0M442.5 1153h0M402 1073.5h0M420.5 1143h0M344.5 1128h0M415 1183.5h0M362.5 1123h0M383 1121h0M416.5 1162.5h0M396 1188h0M418.5 1196.5h0M295 1130.5h0M383 1141.5h0M422.5 1194h0M368.5 1169h0M309.5 1154h0M387.5 1168.5h0M385 1159.5h0M404.5 1154h0M415 1192h0M398 1178.5h0M490 1144.5h0M384.5 1158.5h0M425.5 1186h0M428 1124.5h0M415 1179h0M407.5 1136h0M410.5 1198.5h0M432.5 1149h0M337.5 1125.5h0M404 1162h0M363 1172.5h0M360.5 1148h0M436 1130.5h0M376 1155.5h0M434.5 1150.5h0M409 1174h0M396 1171.5h0M380 1116h0M404 1187h0M408 1182h0M392.5 1139h0M415.5 1180.5h0M422 1178.5h0M432 1191.5h0M426 1181.5h0M433 1150.5h0M426.5 1138.5h0M321.5 1137h0M328 1131.5h0M413 1199h0M322.5 1167h0M397 1160.5h0M420.5 1184h0M410 1174.5h0M390.5 1170.5h0M421 1193.5h0M346 1159h0M438.5 1177h0M403 1130h0M416 1167.5h0M403 1175.5h0M495.5 1126.5h0M421.5 1152h0M443 1116.5h0M318 1146.5h0M426.5 1191.5h0M466 1134h0M416 1187h0M424 1143h0M438 1175.5h0M349 1177.5h0M440.5 1153h0M382.5 1152.5h0M428 1174h0M390 1166h0M415.5 1194h0M440 1150h0M437 1145.5h0M424.5 1182h0M402.5 1189.5h0M436 1187.5h0M366 1160h0M466 1114h0M421 1170h0M426 1181h0M418.5 1182.5h0M447.5 1154.5h0M427.5 1182.5h0M398 1175.5h0M421 1164.5h0M396.5 1177h0M404 1186.5h0M418 1163h0M435 1178.5h0M496.5 1145h0M408 1128.5h0M373 1132h0M387 1150.5h0M419 1189h0M408 1195.5h0M410.5 1189.5h0M397 1158.5h0M430.5 1115.5h0M372.5 1173.5h0M446.5 1167.5h0M414 1197.5h0M408.5 1193h0M380.5 1185.5h0M398.5 1192h0M393.5 1152.5h0M504 1124.5h0M409.5 1182.5h0M426.5 1177.5h0M410 1175h0M425.5 1187.5h0M464.5 1124.5h0M387.5 1166h0M390.5 1179h0M434.5 1177h0M416.5 1192h0M373 1163h0M400.5 1173h0M428 1190.5h0M411.5 1193.5h0M407.5 1187.5h0M405.5 1121h0M402 1172h0M455 1143h0M389 1177h0M430 1138h0M444.5 1185.5h0M408 1161.5h0M407 1188h0M376.5 1186.5h0M440.5 1159h0M440 1140h0M416.5 1177.5h0M387.5 1173h0M326 1150.5h0M420.5 1152.5h0M346.5 1143h0M411 1198.5h0M395.5 1166h0M384.5 1163.5h0M435 1171.5h0M385.5 1186.5h0M449.5 1171.5h0M383 1179h0M295 1124h0M475.5 1114.5h0M449 1165h0M373 1138h0M382 1144.5h0M462.5 1147h0M456.5 1137.5h0M447 1132.5h0M331.5 1148h0M376.5 1185.5h0M403 1139.5h0M430 1163.5h0M472.5 1115.5h0M424.5 1115.5h0M406 1182.5h0M426.5 1187h0M446.5 1169.5h0M430 1174h0M448.5 1156h0M414.5 1197h0M428 1125.5h0M424.5 1173h0M418.5 1170.5h0M433.5 1174.5h0M410.5 1184h0M411.5 1199h0M431 1161.5h0M399 1180.5h0M428 1187h0M409 1197h0M373 1124h0M368 1128.5h0M419.5 1195.5h0M360 1156.5h0M434.5 1180.5h0M337 1140.5h0M383.5 1182.5h0M462 1151h0M418.5 1170h0M414.5 1191h0M456.5 1182.5h0M415.5 1197h0M422 1176h0M408 1163.5h0M352.5 1173.5h0M357.5 1162.5h0M386.5 1135.5h0M436 1158.5h0M374.5 1143.5h0M405 1163.5h0M406.5 1179.5h0M400.5 1184.5h0M428 1149.5h0M366.5 1166.5h0M416.5 1180.5h0M449.5 1159.5h0M372 1167h0M423 1092.5h0M417.5 1183h0M434.5 1181.5h0M431.5 1158h0M349.5 1160h0M349.5 1148.5h0M323.5 1128h0M427 1175h0M384 1161h0M410 1178h0M379.5 1183.5h0M428.5 1149.5h0M457.5 1169h0M397.5 1161h0M429.5 1136h0M435.5 1185h0M406 1181.5h0M401 1103h0M378.5 1175.5h0M386.5 1183h0M473 1136.5h0M362 1182.5h0M428.5 1180h0M438.5 1156h0M480.5 1169h0M433 1119.5h0M434 1177.5h0M515 1154h0M388 1174h0M424 1177.5h0M373.5 1147.5h0M412 1191h0M307 1123h0M425 1176.5h0M418 1163h0M405.5 1147h0M352.5 1153h0M373 1173h0M394.5 1133h0M468 1160h0M431 1182h0M424.5 1129.5h0M390 1159h0M424.5 1151.5h0M417 1197.5h0M417 1190.5h0M420.5 1168.5h0M405.5 1173h0M424 1142.5h0M366.5 1149h0M396 1170.5h0M409 1160h0M444.5 1142.5h0M400.5 1069h0M359.5 1142h0M471 1134.5h0M397 1163.5h0M367 1118h0M421 1147h0M359.5 1148h0M419 1192.5h0M418.5 1168h0M388 1155.5h0M422 1161h0M405 1120h0M293 1130h0M399 1190.5h0M448 1142.5h0M444.5 1164h0M462.5 1114.5h0M381 1159h0M412.5 1199h0M447.5 1168h0M377.5 1179.5h0M407.5 1191.5h0M410 1181.5h0M416.5 1196.5h0M394.5 1178h0M286.5 1138h0M382 1140.5h0M397.5 1176.5h0M436 1176h0M411.5 1197.5h0M396 1166h0M366.5 1144h0M393 1169.5h0M389.5 1118h0M326.5 1136h0M386.5 1189h0M428.5 1176.5h0M386.5 1149.5h0M446 1132h0M463.5 1132h0M423 1173h0M412 1197h0M366 1173h0M396.5 1165h0M445.5 1149h0M384 1173h0M414 1198.5h0M365 1140h0M390 1146h0M419.5 1190h0M489 1147.5h0M360 1127h0M442 1182h0M449 1137.5h0M499.5 1118.5h0M329.5 1141h0M411 1178.5h0M385 1163h0M439.5 1181h0M451 1138.5h0M376.5 1144h0M314.5 1119h0M400 1161.5h0M468.5 1136h0M434 1184.5h0M408 1187h0M468 1135h0M493 1117h0M454 1156h0M415.5 1197h0M429 1116h0M419.5 1176.5h0M486 1156.5h0M380 1149h0M394.5 1172.5h0M451 1171.5h0M373.5 1134h0M442.5 1132h0M391.5 1188.5h0M406 1174h0M416.5 1176.5h0M377.5 1177.5h0M380.5 1114.5h0M382 1166h0M438 1147h0M379 1136.5h0M277 1116.5h0M415.5 1193.5h0M466.5 1171.5h0M389 1114.5h0M429 1192.5h0M307 1154h0M328.5 1126h0M380.5 1166h0M451 1176.5h0M400 1144h0M420 1176h0M427.5 1170h0M359 1163h0M408.5 1147h0M397.5 1178.5h0M395.5 1147.5h0M416.5 1190.5h0M403 1191h0M395 1183h0M418 1193h0M422 1135h0M496.5 1157h0M373.5 1164.5h0M397.5 1162h0M439.5 1154h0M414.5 1195h0M456.5 1125.5h0M453 1136.5h0M428.5 1188h0M424.5 1164h0M392.5 1182.5h0M417 1183h0M427 1186h0M430 1174h0M406.5 1145.5h0M413.5 1199.5h0M433 1183.5h0M502 1125.5h0M419.5 1183h0M448.5 1167.5h0M445 1137.5h0M463 1166.5h0M450.5 1128h0M349.5 1129.5h0M359 1119h0M407 1175.5h0M417.5 1198.5h0M418 1150.5h0M418.5 1153h0M420 1169h0M468 1141h0M422.5 1178.5h0M423 1149h0M423.5 1162.5h0M334 1157.5h0M374 1131.5h0M406 1134.5h0M430 1179.5h0M486.5 1137h0M420.5 1193h0M436 1181.5h0M427.5 1139.5h0M419 1130h0M414 1198.5h0M354 1149.5h0M451 1174h0M450 1166.5h0M419 1131h0M410.5 1196h0M436.5 1176h0M416 1195.5h0M429 1121h0M424 1178.5h0M383.5 1152.5h0M281.5 1138.5h0M358 1176.5h0M502 1126.5h0M457 1120.5h0M407.5 1195.5h0M351 1125.5h0M373 1166.5h0M395.5 1166h0M381 1174.5h0M371 1166h0M401 1195h0M396.5 1172h0M316.5 1133.5h0M392.5 1175h0M390.5 1138h0M494.5 1114h0M354 1155h0M452.5 1170h0M428 1188h0M376.5 1146.5h0M437 1149h0M405 1182h0M405.5 1186h0M390 1157h0M448 1153.5h0M438 1150h0M337 1150h0M385 1137h0M417 1184.5h0M462 1151.5h0M431.5 1173.5h0M414 1195h0M416 1198.5h0M367 1181.5h0M448.5 1141.5h0M414.5 1193h0M406 1164.5h0M339.5 1144h0M302 1142h0M304.5 1122.5h0M426 1183.5h0M455.5 1170h0M408 1175.5h0M391.5 1182.5h0M395.5 1123.5h0M427 1151.5h0M385 1185h0M481.5 1117h0M411 1191h0M403.5 1188h0M392 1122.5h0M286.5 1137h0M465.5 1169.5h0M409 1196h0M417 1179.5h0M408.5 1197h0M428 1170.5h0M410 1174h0M451.5 1150h0M461.5 1152.5h0M425 1142.5h0M371.5 1133h0M442 1131.5h0M403.5 1184h0M418.5 1154.5h0M403.5 1151.5h0M365.5 1164.5h0M416 1186h0M363.5 1162.5h0M471.5 1142h0M401.5 1125.5h0M302 1134h0M403 1168.5h0M404.5 1149.5h0M484 1138h0M411.5 1196.5h0M353.5 1121.5h0M370.5 1143.5h0M486 1157h0M406 1188.5h0M381.5 1180.5h0M443.5 1161h0M275 1147h0M331 1162h0M423.5 1130h0M450 1157.5h0M338.5 1172h0M403 1097h0M402.5 1191.5h0M422 1172h0M482.5 1135.5h0M404 1175h0M395 1154.5h0M442.5 1163.5h0M454.5 1124h0M436 1138h0M422 1183.5h0M312 1150.5h0M322.5 1136h0M435 1119.5h0M445.5 1169h0M369 1170.5h0M381.5 1122h0M405 1172h0M352 1138h0M400.5 1174.5h0M356 1145.5h0M346 1165.5h0M420 1137h0M417 1181h0M447 1125h0M362 1149.5h0M390.5 1191h0M370 1157h0M271 1163.5h0M422.5 1095h0M388.5 1125h0M434.5 1173h0M399 1172h0M422.5 1077h0M415.5 1185h0M357.5 1125h0M418.5 1129h0M397.5 1176.5h0M418.5 1165.5h0M338.5 1158h0M380.5 1163h0M388 1156h0M406 1194.5h0M329 1131.5h0M446 1152h0M446 1161.5h0M419.5 1157h0M438 1180h0M457.5 1143.5h0M500 1157.5h0M410 1164h0M444.5 1175.5h0M409.5 1193h0M435.5 1137h0M366 1180.5h0M412.5 1195h0M356.5 1173h0M375.5 1144.5h0M409.5 1197h0M425 1186h0M424.5 1162.5h0M354 1131.5h0M337 1124.5h0M463.5 1169.5h0M479 1122h0M393.5 1138.5h0M408 1177.5h0M427.5 1171h0M404 1188.5h0M405 1196.5h0M422.5 1192h0M434 1160h0M398.5 1180.5h0M432 1137.5h0M320 1114.5h0M391 1177h0M389.5 1123h0M415.5 1185h0M455.5 1152h0M416.5 1184h0M407.5 1179h0M428 1186.5h0M382 1192.5h0M383.5 1157h0M398.5 1178h0M420 1193h0M469 1119.5h0M379 1157.5h0M403.5 1174h0M394 1178.5h0M396 1173.5h0M401 1185h0M426 1181.5h0M421.5 1177.5h0M461.5 1148h0M384 1189h0M365.5 1173.5h0M465 1163.5h0M415 1181.5h0M407.5 1194.5h0M421 1173.5h0M419 1189.5h0M430.5 1132h0M454 1174.5h0M438.5 1167.5h0M387.5 1137.5h0M409.5 1194.5h0M342.5 1123h0M402.5 1178.5h0M341.5 1166.5h0M293 1119h0M419 1191h0M379.5 1177h0M425 1117.5h0M467.5 1120.5h0M421.5 1175.5h0M393 1180h0M539.5 1130.5h0M425 1166h0M415.5 1183h0M473.5 1117.5h0M418.5 1152.5h0M317.5 1124h0M462 1142h0M330.5 1170h0M454 1159.5h0M425 1151.5h0M426 1151.5h0M437 1178.5h0M417 1196h0M418 1168.5h0M458.5 1158h0M454.5 1158h0M348 1157.5h0M319.5 1153h0M434 1188h0M448.5 1158.5h0M302.5 1125.5h0M429 1176h0M462 1167.5h0M468.5 1131.5h0M412.5 1199.5h0M401 1166.5h0M421.5 1183.5h0M467 1131.5h0M424.5 1160.5h0M416.5 1156h0M357 1136.5h0M403 1165.5h0M396 1184h0M398.5 1129h0M372.5 1135.5h0M408.5 1186.5h0M414.5 1196.5h0M402.5 1196h0M458 1161.5h0M468.5 1157.5h0M424 1189h0M391.5 1167h0M405 1188.5h0M418 1164.5h0M392 1148h0M431 1192.5h0M428.5 1170.5h0M462.5 1159.5h0M404 1189.5h0M458.5 1144h0M334.5 1147.5h0M444 1172h0M377 1158h0M470.5 1161h0M418.5 1167h0M407 1175h0M444.5 1134h0M419 1194h0M512 1131.5h0M506 1146.5h0M481 1126h0M422 1177.5h0M419.5 1185.5h0M428 1172h0M441 1169.5h0M399 1189.5h0M421.5 1160.5h0M457 1147h0M461 1121h0M389.5 1175h0M437 1146h0M417.5 1185.5h0M422 1188h0M337.5 1158.5h0M402.5 1165h0M405 1181h0M383.5 1168h0M399 1174.5h0M426 1114.5h0M453.5 1140.5h0M454.5 1127.5h0M424 1185.5h0M416 1165h0M419.5 1144h0M288 1162h0M412 1195h0M396 1192h0M458 1176.5h0M396.5 1185h0M435 1153h0M431.5 1180.5h0M409 1185h0M494 1118h0M368.5 1157h0M420.5 1192.5h0M400.5 1152.5h0M485.5 1115h0M416 1181.5h0M334.5 1166h0M409.5 1160h0M424 1152.5h0M414 1196h0M381.5 1185h0M422 1138h0M416.5 1198h0M371.5 1141.5h0M454 1179h0M424 1140.5h0M394.5 1119h0M423 1179h0M459.5 1124h0M414 1194h0M308.5 1157h0M397 1155h0M413.5 1198h0M414 1195h0M370 1164.5h0M392 1179h0M364 1166h0M428.5 1188h0M417 1162h0M297 1138.5h0M421 1190h0M398.5 1163h0M406 1177.5h0M421.5 1162.5h0M358.5 1148.5h0M441.5 1176h0M431 1190h0M482.5 1156.5h0M440.5 1134h0M419 1195.5h0M408 1187.5h0M450.5 1129.5h0M386 1174h0M411 1189.5h0M332.5 1138.5h0M424 1103h0M414 1195h0M408 1187.5h0M418.5 1166h0M441 1157h0M389.5 1160h0M365 1175h0M385 1146.5h0M446.5 1147h0M429.5 1166.5h0M430 1182h0M423.5 1189.5h0M423 1190.5h0M391.5 1167h0M462 1127h0M393.5 1138h0M441 1173h0M382.5 1169h0M442 1157h0M383 1181.5h0M429.5 1150.5h0M418 1192.5h0M399 1183h0M419 1143.5h0M416.5 1186.5h0M436.5 1124.5h0M389 1163h0M397.5 1174.5h0M421 1155h0M413.5 1198h0M390 1162h0M386.5 1185h0M451.5 1141h0M414 1199h0M383.5 1156.5h0M417 1190h0M407 1144h0M408 1180h0M410.5 1192h0M422.5 1182h0M396 1184h0M435.5 1153h0M426.5 1188h0M418 1170.5h0M416 1182.5h0M325 1127h0M416 1186.5h0M436 1120.5h0M460.5 1145.5h0M350 1156.5h0M431 1160.5h0M400.5 1189h0M363 1169h0M394.5 1189h0M485 1142.5h0M394 1185.5h0M425.5 1187h0M420 1189h0M418 1191.5h0M420.5 1161h0M401 1164h0M477.5 1137.5h0M409.5 1173h0M432 1192.5h0M406.5 1184h0M454 1169h0M332 1128h0M421.5 1110.5h0M474.5 1114.5h0M331 1155.5h0M425.5 1133.5h0M382 1149h0M426.5 1176h0M406.5 1182h0M429.5 1185h0M410.5 1197.5h0M398 1116.5h0M325 1153.5h0M440 1167.5h0M402 1183.5h0M429 1173.5h0M402.5 1191.5h0M336.5 1163h0M364 1148h0M417 1196h0M392.5 1179h0M371 1159h0M372.5 1178.5h0M415 1193h0M341 1120h0M429 1188.5h0M451.5 1176h0M421 1184h0M406 1191h0M436.5 1172.5h0M545 1149.5h0M552 1135.5h0M581 1134h0M553.5 1134h0M545 1131h0M607.5 1131.5h0M573 1122h0M565.5 1130h0M570 1136.5h0M542.5 1148h0M535 1136h0M553 1126.5h0M563 1150.5h0M619.5 1117.5h0M505.5 1131h0M523 1162h0M560.5 1123h0M520.5 1129.5h0M504 1117h0M582.5 1134.5h0M548.5 1122.5h0M574 1119h0M540 1135.5h0M557.5 1125h0M533 1144.5h0M549.5 1129.5h0M569.5 1126.5h0M537.5 1151h0M529 1157.5h0M599 1132.5h0M536 1142.5h0M542 1137.5h0M558.5 1131.5h0M604 1133.5h0M580.5 1141.5h0M569 1115h0M590 1125.5h0M568 1134.5h0M567.5 1139h0M523.5 1150.5h0M575.5 1131.5h0M541 1140h0M588 1122h0M601 1134.5h0M567.5 1132h0M573.5 1138h0M598 1130h0M524.5 1120.5h0M548 1133.5h0M575.5 1134h0M605.5 1129.5h0M543.5 1135.5h0M562 1142.5h0M552 1140.5h0M561 1148h0M580.5 1143h0M533 1134h0M563.5 1146.5h0M536.5 1138.5h0M513.5 1115h0M565 1147.5h0M579 1117.5h0M585.5 1138.5h0M551 1131h0M570 1125.5h0M527 1131h0M550 1126h0M538.5 1130h0M502 1139.5h0M531 1136.5h0M577 1119h0M530.5 1126.5h0M561.5 1133.5h0M539.5 1143.5h0M576 1146h0M566.5 1133.5h0M537 1150.5h0M513.5 1158.5h0M539.5 1115.5h0M568 1122.5h0M221 1131h0M237 1128.5h0M255 1132h0M266.5 1117.5h0M248.5 1132.5h0M255 1121h0M229 1130.5h0M239.5 1125h0M257 1132.5h0M253 1141.5h0M261.5 1139h0M242 1136.5h0M400.5 1080h0M294.5 1113.5h0M331 1123.5h0M316 1151h0M306.5 1127h0M265.5 1131.5h0M299 1138h0M186.5 1114.5h0M377 1118h0M359 1147h0M300 1121.5h0M244.5 1119.5h0M293 1145.5h0M316 1133.5h0M366.5 1144.5h0M267 1147h0M356.5 1124h0M308 1143.5h0M211.5 1125h0M281 1146h0M325.5 1141.5h0M358 1131h0M409.5 1175h0M322 1135h0M252 1136.5h0M265.5 1131.5h0M270 1128h0M379 1132.5h0M454 1133h0M563 1124h0M545 1118.5h0M474.5 1117.5h0M499.5 1130.5h0M662 1113.5h0M523 1129h0M634.5 1124.5h0M485.5 1132h0M487 1133h0M523 1118h0M514 1117h0M443.5 1119.5h0M559.5 1124h0M368.5 1126h0M530.5 1118h0M538 1130.5h0M382.5 1115.5h0M464.5 1121h0M511 1124h0M487.5 1115h0M541 1120.5h0M489.5 1123.5h0M456.5 1118h0M597 1116h0M495 1126.5h0M456.5 1115h0M470.5 1127.5h0M586.5 1128.5h0M630.5 1114h0M530 1122h0M453.5 1115h0M658.5 1121.5h0M624 1121.5h0M485 1115.5h0M529.5 1127h0M505.5 1130h0M377.5 1117h0M462.5 1134h0M552.5 1137h0M615.5 1125.5h0M612.5 1119.5h0M507 1119h0M586 1122h0M604 1127.5h0M507 1117.5h0M504.5 1123h0M538.5 1118.5h0M543 1119h0M511 1129.5h0M578.5 1121.5h0M505.5 1131h0M445.5 1122.5h0M479 1125.5h0M540 1122.5h0M583 1132h0M516.5 1122h0M543.5 1123h0M526.5 1135.5h0M588 1126.5h0M483.5 1130.5h0M506 1123.5h0M519 1122h0M542.5 1125h0M600.5 1139h0M615.5 1128.5h0M502 1115.5h0M636 1114h0M374.5 1117h0M563.5 1114h0M329.5 1135.5h0M442.5 1116.5h0M565.5 1115.5h0M567.5 1129.5h0M470.5 1115h0M479.5 1114h0M521.5 1122.5h0M570.5 1126h0M547 1118h0M437 1113.5h0M468.5 1133.5h0M476.5 1120h0M452.5 1160h0M463 1120h0M259.5 1124h0M279 1115.5h0M328.5 1115h0M261 1118h0M261 1120.5h0M296.5 1113.5h0M296.5 1123.5h0M302 1117h0M301 1127h0M296 1128h0M328 1119.5h0M245 1118h0M311 1114.5h0M323.5 1122.5h0M243 1124.5h0M275 1122h0M243.5 1115h0M314 1124h0M363 1126.5h0M303.5 1140h0M339 1129h0M388.5 1129h0M364.5 1146h0M402.5 1112.5h0M401 1111.5h0M294 1134.5h0M331 1115.5h0M313 1124.5h0M383.5 1129.5h0M335 1149h0M423.5 1080h0M423 1093h0M425 1057h0M424 1083.5h0M425 1096h0M399.5 1059.5h0M424 1082.5h0M424.5 1077.5h0M628 1164.5h0" fill="none" stroke="#4E4E4E" stroke-width="4.7" stroke-linecap="round" opacity="0.93"/>
<path d="M512.5 1066.5h0M433.5 1107.5h0M466 1112h0M468.5 1078.5h0M310 1029.5h0M344.5 963h0M486.5 1057h0M482.5 1096.5h0M527 1005h0M290 1104h0M429.5 1088h0M335 1092h0M450 1083h0M329.5 1023.5h0M341.5 1083h0M273.5 1059.5h0M516 1017h0M442 1092.5h0M501.5 1108.5h0M449 1104.5h0M435.5 1104.5h0M447 1025.5h0M262.5 1060.5h0M365 1024h0M398.5 1102.5h0M364.5 1112.5h0M505 1032h0M380 1088.5h0M390 1107.5h0M491.5 1072h0M251 1068.5h0M354.5 1091h0M501.5 1089.5h0M504.5 1083.5h0M326.5 1083h0M349.5 1076.5h0M392 1099h0M369.5 1098h0M534.5 1106.5h0M473 1052h0M516.5 1106.5h0M500 1083h0M483.5 1031h0M466 1105.5h0M487 1109h0M295 1111h0M493 1111.5h0M442.5 1100.5h0M467 1084h0M429.5 1031h0M480 1108.5h0M256 1108.5h0M393 1100.5h0M316.5 1107.5h0M362.5 1045.5h0M487 1112.5h0M366.5 1096h0M445.5 1106.5h0M343.5 1106h0M348.5 1070h0M487.5 1107h0M521 1073.5h0M537 1045h0M475.5 1072.5h0M336 1010h0M468 1048h0M442 991.5h0M480 1022h0M387.5 1085h0M320 1110.5h0M456 1083h0M537.5 1066.5h0M433.5 1072h0M426.5 1074.5h0M360.5 1084.5h0M282.5 1084.5h0M455.5 1062.5h0M431 1083.5h0M468.5 1077.5h0M493 1092.5h0M283 1101h0M428.5 1080h0M343 1013h0M488.5 1107h0M289 1106h0M294.5 1066.5h0M491.5 1073.5h0M533 1094h0M255.5 1093.5h0M460 1026h0M381.5 1111.5h0M353.5 1110h0M511 1003.5h0M463.5 1054.5h0M460 1077.5h0M329 977h0M379 1102.5h0M268 1074.5h0M499 1007h0M342.5 1110h0M319.5 1098.5h0M542.5 1053h0M398 1109.5h0M495.5 1041h0M454 1079.5h0M388.5 1037.5h0M450 1091h0M386.5 1109h0M298.5 1103.5h0M574.5 1069h0M529.5 1086.5h0M433 1105.5h0M284 1039h0M327.5 1093h0M452 1075h0M344 1092h0M313.5 1052.5h0M379 1100h0M493 1060h0M498.5 1058.5h0M257.5 998.5h0M332.5 1102.5h0M468.5 1098.5h0M363 1099.5h0M432.5 1077.5h0M440 1086.5h0M478.5 1017.5h0M331 1087h0M474.5 1063h0M381 1108h0M353.5 1035h0M519.5 1066.5h0M497 1098h0M370.5 1047.5h0M463.5 1084h0M447 983h0M501.5 1011h0M509.5 959h0M276.5 1085h0M280 1068h0M338.5 1111h0M491.5 1110.5h0M340.5 1047h0M372.5 1076.5h0M303 1107h0M278.5 1071.5h0M268.5 1070h0M437.5 1062.5h0M389.5 1074.5h0M386.5 1100h0M339 1066h0M353 1050h0M334 1109.5h0M471 1102.5h0M304 1052.5h0M392.5 1110.5h0M294.5 1104.5h0M444 1083h0M445.5 1091.5h0M447.5 1106.5h0M429 1108.5h0M331.5 949.5h0M472 1111.5h0M458.5 1073h0M464 1089h0M393.5 1106h0M434 1022.5h0M456 1112.5h0M478 1086.5h0M480 1026h0M353.5 1090.5h0M461 1044.5h0M428 1105h0M493.5 1104.5h0M327.5 1057h0M461 1101h0M274.5 1020h0M483.5 1058h0M377 1104h0M244 1105.5h0M436.5 1064h0M467 1099h0M295.5 1091.5h0M269 1072.5h0M430.5 1101h0M297.5 1103.5h0M435.5 1106.5h0M385 1102h0M359 1094.5h0M530.5 1074.5h0M450 1047h0M425.5 1104h0M463 1102.5h0M303 1080h0M494 985.5h0M293 1101.5h0M308 1102.5h0M505 1060h0M296.5 1061h0M369 1103h0M387 1088h0M336 1078.5h0M365.5 1032h0M368 1107h0M344 1101h0M302.5 1066h0M286.5 1062.5h0M271.5 1098h0M429.5 1095.5h0M441 1064.5h0M457.5 1029.5h0M270 1071h0M437.5 1044h0M485 1053h0M463 992h0M300 1023.5h0M339 1058h0M274.5 1056.5h0M440.5 1102h0M394.5 1109h0M492.5 1061h0M391 1043h0M297.5 1010.5h0M469.5 1105.5h0M381.5 1085h0M493.5 1085h0M486 967.5h0M301.5 1085h0M439 1023h0M340.5 1098.5h0M451 1080.5h0M511.5 1111h0M506 1105.5h0M300 1041h0M362.5 1099h0M354 1073.5h0M529.5 1102.5h0M381.5 1058.5h0M492.5 1074h0M467.5 1095h0M492 1110h0M459.5 1113h0M341 1102h0M429 1089.5h0M441.5 1075.5h0M352 1038.5h0M396.5 1091.5h0M319 1086.5h0M368 1037h0M458 1086h0M468 1048.5h0M258.5 1087h0M434 1026.5h0M332.5 1090h0M481 1089h0M443 1089.5h0M358 1068.5h0M457.5 1112.5h0M348.5 1052h0M533.5 1111.5h0M518 1049h0M487.5 1078h0M343.5 1094.5h0M461.5 1101h0M342.5 1102h0M480 1078.5h0M374.5 1050.5h0M383.5 1085.5h0M457.5 1084.5h0M374 1111.5h0M480.5 1110.5h0M346 1019.5h0M354.5 1064.5h0M515 1037h0M397.5 1106.5h0M357.5 1100h0M552.5 986.5h0M445 1061.5h0M298 1104.5h0M352.5 1075.5h0M443.5 1074.5h0M306 985h0M475 1111.5h0M374 1100h0M510.5 1057.5h0M510 1074h0M375.5 1109h0M376 1067.5h0M457 1094h0M435.5 1108.5h0M524.5 1062.5h0M491.5 1103h0M471 1100.5h0M389 1094h0M517 960.5h0M305.5 1086h0M501.5 923.5h0M476.5 1104h0M433 1087.5h0M502 1022h0M305.5 1001h0M341.5 1060h0M331 1047.5h0M340.5 1082.5h0M453 969h0M488.5 1080.5h0M477 1090.5h0M518 995.5h0M386 1092h0M453 1053.5h0M267.5 1039h0M491 1058.5h0M454 1087.5h0M368.5 1074.5h0M470.5 1056.5h0M434 1111h0M286 1094.5h0M258.5 1080.5h0M450 1004.5h0M476.5 1077.5h0M456 1032.5h0M496 1101h0M280 1059h0M299 1093h0M265 1057.5h0M318 1041.5h0M311 1104h0M333.5 1091.5h0M429.5 1100h0M351 1092.5h0M366.5 1073h0M265.5 1113h0M275 1070.5h0M466.5 981.5h0M509 1082h0M378 1100.5h0M315.5 1111h0M304 1053h0M382 1092h0M433.5 1058.5h0M363.5 1027.5h0M373 1095.5h0M548 1074h0M428 1087h0M385 1056.5h0M313 1103h0M339.5 1082h0M522 1090.5h0M277 1107.5h0M360 1077.5h0M329 1108.5h0M274 1083h0M274 1111h0M499 1093.5h0M373.5 1077.5h0M281 1096.5h0M486 977.5h0M477 1032.5h0M462 1045h0M464.5 1102h0M499.5 1104h0M333 1103.5h0M445 1090.5h0M429.5 1028h0M519 1037h0M451.5 1085h0M458 1067h0M329.5 1091.5h0M387 1105.5h0M430 1095h0M328.5 1007h0M312 1098.5h0M501 1097h0M517.5 1107h0M458.5 1068h0M476 1090h0M482 1106.5h0M479.5 1050h0M445.5 1077h0M363.5 978.5h0M324 1042.5h0M279.5 1079h0M474.5 1090h0M287.5 1112h0M386.5 1112h0M268.5 1102.5h0M427 1053h0M308 1005h0M434 1085h0M505 1106h0M441.5 1083h0M445.5 1106.5h0M262.5 1043h0M316.5 1076h0M505 1074h0M450 1104h0M351.5 1011.5h0M464.5 1072.5h0M518.5 1061h0M384 1108h0M440.5 1058h0M293.5 1090h0M375.5 1077.5h0M221.5 1065h0M361 1084h0M448 1105.5h0M373.5 1089.5h0M294 1094h0M445.5 1094.5h0M354 1081h0M458.5 1101h0M346.5 1059.5h0M459.5 1108.5h0M282.5 1080.5h0M481.5 1111h0M512 1065h0M518.5 1097.5h0M489 1068h0M331.5 1085h0M394.5 1024h0M360 1082h0M435.5 1098h0M339.5 1084h0M431 1080.5h0M389 1093.5h0M392.5 1060.5h0M293 1082h0M475.5 1094h0M325.5 1107.5h0M475.5 1075h0M334.5 1113h0M430.5 1049.5h0M464.5 1021.5h0M503.5 1073h0M473 1058.5h0M487 1101h0M520.5 1107h0M449.5 1083h0M498 1086.5h0M513.5 1086h0M461 1015.5h0M478.5 1077h0M491 1070.5h0M296 1075h0M466 1091h0M474.5 1103h0M501 1057.5h0M386.5 1085h0M393.5 1093.5h0M275.5 1078h0M327.5 1034h0M305 1100h0M551.5 1084.5h0M265 1055h0M345.5 1023h0M364 1024.5h0M275.5 1010.5h0M391.5 1104.5h0M354.5 1100.5h0M430 1093h0M507.5 1043h0M470 1078h0M320.5 1086.5h0M555.5 1112h0M591 1110.5h0M591 1110.5h0M567.5 1110h0M527.5 1110h0M546 1112.5h0M534 1111.5h0M551.5 1110.5h0M172.5 959h0M177.5 976h0M159.5 914.5h0M230 946.5h0M308 977h0M240 972h0M227.5 916.5h0M170 887h0M277.5 1074h0M242 991.5h0M242.5 979h0M324 1036h0M318.5 1015h0M155 891.5h0M293 930h0M182 917.5h0M279 1072.5h0M225 996h0M262.5 936h0M234.5 952.5h0M291.5 956h0M240.5 894.5h0M242.5 1010h0M232 898.5h0M264.5 1000.5h0M138 895h0M297.5 1079.5h0M179.5 952h0M339 995.5h0M165.5 960h0M218.5 894h0M309.5 1000.5h0M286 957h0M243 851h0M278.5 1038.5h0M280.5 936.5h0M279.5 1020.5h0M219 872.5h0M201 978h0M259 992h0M241 1024.5h0M260 1046h0M292 995.5h0M230 1001.5h0M162 876.5h0M227 1061h0M214 820h0M269 1009.5h0M270 955.5h0M275 917.5h0M243 1037.5h0M183.5 880h0M211.5 1059h0M235 913h0M267.5 958h0M251 946h0M202 920.5h0M147.5 892.5h0M258.5 1011.5h0M352 1033.5h0M356.5 1066.5h0M214.5 1032h0M301 1017.5h0M148 970.5h0M184 931h0M193 872h0M345.5 1066.5h0M262.5 916.5h0M370.5 945.5h0M249 1037.5h0M266.5 1006h0M292.5 927.5h0M265 952h0M322.5 960.5h0M232.5 1049.5h0M324 1059h0M288 942.5h0M242 1051.5h0M343.5 1066h0M183.5 910.5h0M297.5 996h0M263 957h0M263.5 981.5h0M219.5 887h0M306 1047.5h0M239 953h0M226.5 888h0M276 937h0M258.5 974.5h0M256.5 932h0M221 937.5h0M160.5 1021h0M298.5 1048h0M355.5 993h0M253.5 917.5h0M303.5 1083.5h0M228 907h0M267 1025.5h0M322 1100.5h0M198 859h0M197.5 977h0M229 890.5h0M217 922h0M321 1034.5h0M196.5 919h0M265 1026h0M346 1043h0M168 887h0M265.5 966.5h0M199.5 878h0M305 1056h0M256 955.5h0M333 1051h0M261 1009.5h0M240 1029.5h0M218 1055h0M205.5 843h0M252 990h0M213.5 875h0M342 1012.5h0M226 893h0M305 1019h0M261.5 951.5h0M281.5 915h0M216.5 1015.5h0M311.5 1079h0M328 1110h0M224 923h0M255 857h0M312.5 1048.5h0M219.5 892h0M296.5 936h0M321 1081h0M281 990h0M254.5 952h0M227.5 982.5h0M282.5 1077.5h0M277 902.5h0M222 994.5h0M169 929.5h0M259 1003h0M276 1098.5h0M229 856h0M352.5 1096h0M264 1071.5h0M238.5 975.5h0M245 1101h0M326.5 1078h0M334 1049.5h0M310.5 1070h0M206.5 945h0M254 916h0M254 979h0M330.5 1020h0M298 1113h0M251 1040.5h0M316.5 916h0M263 892h0M278 958.5h0M223.5 990.5h0M218.5 887h0M365 1000h0M231 902h0M283.5 973.5h0M238.5 957.5h0M263.5 1085.5h0M228.5 989.5h0M310 1046h0M281.5 1052h0M276 1048.5h0M362.5 1089h0M268 993.5h0M235.5 1056.5h0M223 879h0M299 1033.5h0M163 907.5h0M301.5 971h0M216 954.5h0M245 977h0M285 1038h0M266.5 868.5h0M265.5 926.5h0M310.5 1060.5h0M263.5 1041.5h0M229 883.5h0M247.5 955h0M195.5 893h0M271.5 978.5h0M341 995h0M260 1071h0M240 948h0M186 877.5h0M330.5 1001h0M307.5 1062.5h0M161.5 906.5h0M245.5 970h0M259 977.5h0M292.5 1062h0M253 1045.5h0M209.5 978h0M276.5 1031h0M236.5 927h0M331 1042h0M318 1021h0M285.5 1018.5h0M200.5 846h0M328 1055.5h0M188.5 958h0M254.5 893h0M310.5 987h0M344.5 1041h0M234.5 955.5h0M238.5 1057h0M283.5 1085.5h0M228 923.5h0M172 887h0M169.5 879.5h0M246.5 1034.5h0M212.5 884.5h0M234.5 1066h0M342.5 1065h0M242 1024h0M279.5 964h0M311.5 994.5h0M190.5 857h0M282 1043h0M253 958h0M251 1015.5h0M319.5 1105h0M251.5 878h0M301.5 1047.5h0M206 936.5h0M305 989h0M281.5 965h0M280.5 1036.5h0M317 994h0M202.5 893h0M201.5 891.5h0M257 928.5h0M295.5 1073.5h0M210 1001.5h0M194 996h0M273 1101h0M305 953h0M189.5 971.5h0M282.5 953.5h0M286.5 956h0M183.5 863h0M217.5 1024h0M273.5 954.5h0M223 924h0M212 1023.5h0M293 982.5h0M195.5 886.5h0M228 1055h0M272 1024.5h0M236.5 1021h0M257 967h0M304 1083.5h0M256.5 963.5h0M222 956.5h0M250.5 1057.5h0M234 962.5h0M275 924.5h0M274 1022.5h0M190 987.5h0M331 1000h0M227 926.5h0M312.5 1052h0M180 884h0M330 1061h0M221 948.5h0M208.5 906h0M249.5 921.5h0M275.5 961.5h0M434.5 1043h0M253 933h0M351.5 1005.5h0M212 912.5h0M292.5 924h0M310.5 1112h0M216 859h0M227.5 923h0M319.5 990h0M282 1040h0M335 1030.5h0M263.5 982h0M282.5 985.5h0M288 1004h0M285 1034.5h0M243 1000h0M144 928.5h0M261 995.5h0M283 980.5h0M262 1006.5h0M190.5 929h0M280.5 995.5h0M268 951.5h0M252 959.5h0M294.5 922h0M201.5 1023h0M235.5 1048h0M231 1011h0M172 955h0M261.5 909h0M253 1002h0M242.5 903h0M219.5 864h0M277.5 932h0M193.5 920.5h0M329.5 1010h0M282.5 1021.5h0M290.5 962.5h0M203 925h0M305 990.5h0M279.5 1030.5h0M201 995h0M181 854.5h0M361.5 1081.5h0M275.5 1029h0M169.5 907h0M210.5 883h0M192.5 903.5h0M284 989h0M198.5 967h0M272.5 1018h0M317.5 1084h0M192 854h0M242 1046h0M251.5 1083.5h0M228.5 1089h0M302 993h0M272.5 1001h0M208.5 845.5h0M294.5 1095h0M310 1076h0M209 918h0M332.5 1023.5h0M296.5 1042h0M263.5 1017h0M312.5 1055.5h0M235 925.5h0M229.5 926.5h0M215.5 966.5h0M234.5 922h0M340 1010.5h0M317 929h0M359 1086.5h0M231 918h0M273 1023.5h0M383.5 1046h0M185.5 893.5h0M242 1111h0M199.5 892.5h0M285 967.5h0M332 1070h0M287.5 1033.5h0M270.5 913h0M226.5 1023.5h0M231 912h0M297 1036.5h0M280 1064.5h0M226.5 907h0M273.5 976.5h0M215.5 1039h0M235 992h0M291 971h0M319.5 1031.5h0M201.5 1018.5h0M299 1010h0M224.5 982h0M305.5 1055.5h0M243 884h0M274 938.5h0M239.5 1078h0M240 921.5h0M321.5 1052h0M320.5 1036.5h0M298 1099h0M182 963.5h0M306 998.5h0M318 1022.5h0M231.5 969h0M221.5 1046h0M259.5 950h0M229 928h0M274 949.5h0M377.5 1101h0M258 893.5h0M222 962.5h0M311.5 967.5h0M189 843h0M221 926.5h0M206.5 924.5h0M233 942h0M286.5 1067h0M294 943h0M229.5 916h0M311.5 1057h0M171.5 1026h0M275 1004.5h0M315 984h0M254.5 1038.5h0M309 1012h0M195.5 912.5h0M281 970.5h0M227 931.5h0M292.5 942h0M208 836h0M353.5 1043.5h0M274.5 1083h0M311 1083h0M171 858h0M222 1029h0M257.5 940.5h0M284.5 973.5h0M255 924h0M278.5 1016h0M270 1048.5h0M219.5 939h0M314.5 1075.5h0M252 988.5h0M277 1070h0M359.5 1080.5h0M196 876.5h0M184 918h0M291 1013.5h0M217 1092h0M218 868h0M240 918h0M262.5 1107h0M199.5 1017h0M270 1100h0M307 1001.5h0M373 1025h0M226.5 1020h0M156.5 857h0M278 1019h0M179.5 1048.5h0M285 971.5h0M326.5 1013.5h0M273 1059h0M233 855.5h0M323 987h0M130 925.5h0M217.5 953h0M310.5 1095.5h0M222.5 920h0M224.5 897h0M257.5 1113h0M240 1010h0M199 1005.5h0M292 1022.5h0M225.5 887.5h0M240 906.5h0M203.5 987.5h0M202 1034h0M269.5 1081h0M325 1023h0M160 878.5h0M326 1049h0M142 964.5h0M229.5 956h0M298.5 983.5h0M253 901h0M297 1001.5h0M267 953h0M304.5 1045.5h0M258 937.5h0M236.5 1050.5h0M214 869.5h0M212 959.5h0M250.5 951h0M248.5 1003.5h0M321.5 1020h0M264.5 998h0M203 870h0M223.5 993.5h0M207 881.5h0M250.5 930.5h0M186.5 967h0M211.5 936.5h0M183 939.5h0M274.5 979.5h0M255 955h0M233 1027.5h0M259.5 962.5h0M371 1030h0M250 1064h0M335.5 1113h0M247 936.5h0M255 980.5h0M249.5 966.5h0M239 947h0M312 1018h0M294 1006h0M263 971h0M305.5 983h0M262.5 938h0M346 1062.5h0M233.5 949.5h0M345 1111h0M275 993.5h0M304.5 993h0M243 1068.5h0M260 1004.5h0M212.5 949h0M248.5 945.5h0M240 956.5h0M244.5 950h0M257 1013h0M280.5 1046.5h0M143.5 879h0M261 992h0M257.5 973h0M231.5 854.5h0M594 867.5h0M550.5 921h0M591.5 1079h0M527.5 1008h0M548.5 1100h0M632 1060h0M606 1009.5h0M470 1086.5h0M538 1032.5h0M435.5 1091h0M452 1080h0M507 1079.5h0M503 968h0M476 1063.5h0M695 1092h0M500.5 1068.5h0M579 1037.5h0M580.5 1039.5h0M511.5 1113h0M447 1007.5h0M582.5 1100h0M507.5 1082h0M468.5 1089.5h0M531.5 1045h0M546.5 1073h0M499.5 1074h0M486 1069h0M453 1021.5h0M596.5 1076h0M549.5 973.5h0M493 984.5h0M462 1017.5h0M534.5 1060.5h0M532.5 1005.5h0M530 918.5h0M518 1028h0M521 1088.5h0M484.5 1088.5h0M521.5 1027h0M520 981.5h0M588 1080h0M495.5 1098h0M657 996h0M442.5 1007h0M607.5 1035.5h0M588 1023.5h0M555.5 1071.5h0M609.5 888.5h0M496 1046.5h0M553 1037h0M548.5 1089.5h0M527 975h0M598 1056h0M494.5 1081.5h0M516.5 1049h0M620 1107.5h0M607 1086.5h0M547.5 1090h0M534 1044.5h0M457.5 1098h0M495.5 1086.5h0M546.5 1041.5h0M470 1092.5h0M563.5 1030.5h0M507.5 942.5h0M432.5 1074.5h0M439.5 1005h0M545 1090.5h0M489 1111.5h0M491.5 1042.5h0M561.5 1081h0M510 1106.5h0M529.5 1086.5h0M546.5 1007h0M620.5 1028h0M488.5 992h0M491.5 1109h0M453 1040h0M565 1036.5h0M613.5 1111h0M613 1074h0M587 1044h0M470 1002h0M659.5 1057h0M559 1000h0M532 1083.5h0M362 1054.5h0M546.5 960.5h0M552 1036h0M553.5 998h0M472 1106.5h0M564.5 1054.5h0M653.5 1053h0M635 992.5h0M568.5 1093.5h0M494.5 1061.5h0M548.5 1070.5h0M354.5 1059.5h0M487.5 908h0M530.5 950h0M542 1079.5h0M553 1056h0M504.5 1104.5h0M506 1029h0M541.5 1006.5h0M674 1046.5h0M467 1096h0M431 1015.5h0M621.5 1091.5h0M499.5 1082.5h0M484 910h0M594 975.5h0M550 1074h0M655 922h0M499.5 1043.5h0M524 1071.5h0M639.5 1052.5h0M575.5 1044h0M345.5 1074h0M445 1057h0M534.5 1067h0M582.5 972.5h0M542.5 1055.5h0M648.5 1074.5h0M445 1036h0M573 1111.5h0M500 1029h0M484 957.5h0M526 1076.5h0M555.5 1018h0M464 1043.5h0M527.5 1109.5h0M461.5 1110.5h0M559.5 1096h0M550 1055h0M599.5 1098h0M591.5 927h0M551.5 1030.5h0M459.5 976h0M532 1094h0M674.5 822.5h0M635 1083h0M611.5 1051h0M555 969h0M543 1007.5h0M501 1064h0M465 997h0M495 1051.5h0M541 1090.5h0M526.5 1007.5h0M526 962.5h0M677 1097h0M583 1089h0M432.5 1076.5h0M497 1073h0M606 1075h0M437 997h0M445 1020.5h0M610.5 1017h0M546.5 1087h0M536 1089h0M443 1022h0M621 1093.5h0M533.5 991.5h0M529.5 1018h0M537.5 1101h0M562 1113h0M539 1084.5h0M550.5 946.5h0M644 1041.5h0M469 961h0M512 1074.5h0M429 1086.5h0M504.5 1021.5h0M534 1050.5h0M489 1047.5h0M480 1107.5h0M471 1047.5h0M597 989.5h0M543 1078.5h0M463 1100h0M628.5 1098.5h0M517.5 979.5h0M588 1086h0M525.5 1032.5h0M506.5 950h0M472 1026.5h0M555.5 1065.5h0M470.5 1080.5h0M508.5 1035.5h0M571 1000.5h0M616 1002h0M477.5 1095.5h0M480.5 934.5h0M523.5 1094.5h0M553 1051.5h0M473.5 1105h0M510.5 1111h0M625.5 965.5h0M595.5 1041h0M585.5 1097.5h0M543 1108.5h0M612.5 1017.5h0M613 1105h0M640.5 1083h0M515.5 1020.5h0M553.5 1074.5h0M530 1054.5h0M551.5 1094h0M555.5 1029h0M527.5 962h0M455.5 1063h0M545 1058h0M522 1080h0M499.5 960h0M569 997h0M503.5 961.5h0M627 1066h0M554 1070h0M597 1046h0M492 1057.5h0M490.5 1073h0M594 937h0M540.5 1097.5h0M664 958h0M612 1096.5h0M465 986.5h0M478 1084.5h0M484 1062.5h0M600 941.5h0M519.5 1058h0M469.5 1028h0M579.5 1023h0M538.5 1100.5h0M498 986h0M625 921.5h0M508.5 1056.5h0M528 1097h0M530 1004.5h0M605 1103.5h0M634 1112.5h0M524 1016h0M539.5 1017h0M445.5 1102.5h0M486.5 1073.5h0M502 1067.5h0M528 999h0M584 1091.5h0M446.5 1089h0M608.5 955h0M471.5 1074.5h0M569 1111.5h0M479 1103.5h0M476 1051h0M467.5 909.5h0M628 1033h0M477.5 913h0M543 1063h0M526.5 1007h0M508.5 1095h0M462 1077.5h0M547.5 1047h0M503 1088h0M509.5 1058.5h0M515 1106.5h0M581 1049.5h0M522 1028.5h0M619.5 1104h0M508 989.5h0M448 1109.5h0M581.5 1083h0M439.5 1031h0M481.5 1090h0M517 1077h0M441 1048.5h0M474 1035.5h0M440 1092h0M450 1016.5h0M458.5 1106.5h0M512 1050.5h0M591 929.5h0M495 1071.5h0M611 1056h0M487.5 1003.5h0M519.5 938.5h0M594 972h0M479 1111.5h0M598 1040h0M600.5 1079.5h0M594 1066.5h0M451.5 1083h0M546 973h0M649.5 887.5h0M651.5 1012h0M614.5 1043.5h0M500.5 1011.5h0M579 978h0M454 1043h0M540 1083h0M589 1001h0M394 1090.5h0M545 923.5h0M449.5 1063h0M514.5 1082h0M533.5 924h0M602 1030.5h0M587 1085h0M566 1056.5h0M573 1071h0M487.5 1108h0M539 1108.5h0M570 1011h0M489.5 1104.5h0M444 1062.5h0M627 1079.5h0M481.5 1028h0M528 1088h0M463 1049h0M625 1030h0M538 1040.5h0M578 1077.5h0M624.5 1106.5h0M466.5 1111h0M522 1038h0M565 1032.5h0M524.5 891h0M519.5 1112.5h0M532 950h0M464 1067h0M574.5 1028.5h0M444 1049h0M433.5 1001.5h0M500 1095.5h0M611.5 1108h0M653.5 942h0M595.5 1064h0M654.5 972h0M635 1098h0M507 1100.5h0M477.5 994h0M447 1041h0M466 1098h0M479.5 915h0M522 1095.5h0M510.5 1005.5h0M588.5 1094h0M478.5 1076.5h0M616 1055.5h0M510 997h0M490.5 970.5h0M447 947h0M458 1096.5h0M634 1076.5h0M493 1095.5h0M533 1079h0M504 1058h0M490.5 1076h0M602.5 977.5h0M453.5 1018h0M525.5 1091.5h0M548 1014h0M531 1056h0M611 1032.5h0M448 1080h0M449 1067h0M496 1070.5h0M529 1035h0M562.5 997.5h0M491 1103h0M549.5 1104h0M650 1110.5h0M497 1045.5h0M508 1081h0M522.5 966.5h0M444 1034.5h0M595 1030.5h0M614 951.5h0M458.5 1016h0M550.5 1023.5h0M563.5 1067.5h0M575 1059h0M579.5 899.5h0M590 1056h0M668.5 828.5h0M450 969.5h0M509.5 1031h0M572.5 1102h0M487 1078.5h0M445.5 1070.5h0M478.5 943.5h0M456.5 1090h0M442 1093.5h0M550.5 1072.5h0M447 1054.5h0M468.5 1053.5h0M430 1098.5h0M512 1112h0M534.5 1103h0M521.5 1093h0M605.5 1106h0M515 1073.5h0M499 1109h0M551 1094h0M585.5 1097.5h0M454 1067.5h0M530.5 1047h0M552.5 1070h0M474.5 1108h0M452.5 1039.5h0M500 958.5h0M571 1066h0M592.5 1061.5h0M484 997.5h0M552 1052h0M490.5 987h0M499 991h0M597 956.5h0M627.5 1048.5h0M468 1055.5h0M547 1071.5h0M535.5 986.5h0M538 980.5h0M485.5 1001h0M566.5 1000.5h0M633.5 868.5h0M562.5 941.5h0M534 1047.5h0M538.5 967h0M584 961h0M591.5 957.5h0M506 1016.5h0M523.5 940h0M586 967.5h0M528 1048.5h0M591.5 921h0M582 869.5h0M641.5 884.5h0M602.5 872h0M512 1033h0M535 948h0M619.5 942.5h0M616 962h0M564 921.5h0M535.5 1013h0M503 993.5h0M617.5 1014h0M513.5 1019.5h0M605.5 905.5h0M491.5 1104h0M552 1065.5h0M560 918h0M601 930.5h0M564.5 1028h0M553 1082h0M532 932h0M536 1006.5h0M497 1072h0M497 939h0M534 899.5h0M575 898h0M598 924.5h0M593 857h0M609.5 964h0M580.5 1025.5h0M567.5 966.5h0M608 930h0M617.5 909h0M503 991.5h0M492.5 1068.5h0M533 994h0M622 929h0M549.5 1045.5h0M554 877h0M496 1056h0M564 1004h0M515.5 1012h0M658.5 847.5h0M582 938h0M492 1038h0M605.5 906h0M506.5 1025h0M471.5 1024h0M600.5 881.5h0M481 1011.5h0M497 943.5h0M555 963h0M697 832.5h0M539.5 991h0M573 879.5h0M574.5 1001.5h0M561 933.5h0M551.5 1010.5h0M589.5 882.5h0M535.5 982h0M676.5 924h0M614.5 862h0M452 1086.5h0M498 1034.5h0M580.5 953h0M538 1074.5h0M496 950.5h0M549.5 1064.5h0M664 1017h0M575 981h0M545.5 954.5h0M553 963h0M530 1029.5h0M526 1011h0M592.5 920.5h0M552.5 970.5h0M547.5 1041h0M566.5 930.5h0M519.5 954h0M570 922.5h0M615.5 895h0M547.5 1015h0M549.5 1018.5h0M568.5 1035h0M544 1054.5h0M507 976.5h0M585 865.5h0M523 999.5h0M526 1049.5h0M472 1009.5h0M511 1049h0M539.5 889.5h0M525.5 1026h0M514 1016h0M566 880h0M604.5 900.5h0M472.5 1035.5h0M634.5 964h0M517.5 1087.5h0M535.5 1020h0M540.5 1034.5h0M547.5 968h0M592 1028.5h0M567 1003h0M603 975.5h0M584 872h0M566 1004h0M561 918.5h0M485.5 1040.5h0M605.5 1028h0M541.5 968h0M494.5 1019h0M485 1048h0M541.5 962.5h0M553 995h0M547.5 959h0M551 1025h0M599.5 961h0M509.5 963h0M581.5 1020.5h0M586.5 933.5h0M591.5 911.5h0M553 975h0M506.5 957h0M573 989h0M565 952.5h0M466.5 1083.5h0M552 1071.5h0M525 976h0M516.5 1063.5h0M551 1018h0M343 938.5h0M288.5 936h0M342 1046h0M295 1062h0M325 1052h0M272 963h0M349 1021.5h0M281 1076h0M272 914h0M251.5 1044.5h0M243 1086.5h0M275.5 1097.5h0M250 1018h0M259.5 1085h0M300.5 975.5h0M305 1100.5h0M331 1039.5h0M303.5 1065.5h0M296.5 1044.5h0M325.5 966h0M298 968.5h0M248.5 1047.5h0M292.5 1096h0M285 1043h0M205.5 998.5h0M262 1023h0M359.5 1074.5h0M307.5 1109.5h0M254.5 1046.5h0M264 1029h0M281 1106.5h0M292 941.5h0M309 1092h0M286.5 1021h0M354 1065.5h0M329.5 1088h0M291 1076.5h0M302 1088h0M282.5 1070h0M258 1099h0M270 1013.5h0M312 1100h0M314 1028h0M306.5 990.5h0M341.5 1012h0M252 1093.5h0M285.5 1109h0M313 1103.5h0M251.5 1093.5h0M313.5 1099.5h0M235.5 989h0M279 1070.5h0M307.5 1104.5h0M255 1062.5h0M295 1105.5h0M307 1109h0M290.5 1011h0M313 1032.5h0M304.5 1074.5h0M268 1102.5h0M258.5 1087.5h0M351.5 1032.5h0M294 1039h0M241.5 1106.5h0M242 1041.5h0M308.5 1072h0M264 1075.5h0M249.5 1057h0M302.5 999h0M270.5 1094.5h0M255 1061.5h0M378.5 1073h0M253 1041.5h0M274.5 1107h0M291.5 1097h0M320 1111h0M310.5 1089h0M266 1106.5h0M334.5 1074.5h0M308 1103h0M264.5 1055.5h0M273 1049.5h0M315.5 1060h0M278 1097.5h0M244 1077h0M247.5 1075.5h0M262.5 1032.5h0M238 1090h0M349.5 1057.5h0M312 1112.5h0M303 1081h0M327 1076.5h0M335.5 1074h0M266.5 1071.5h0M342 933h0M386.5 1090.5h0M275.5 1073h0M302.5 1098.5h0M239 1106h0M240 1041h0M298.5 1087h0M303.5 1102.5h0M255 1090.5h0M284 1031.5h0M294 1045h0M264 945.5h0M318 962.5h0M268.5 1103.5h0M287 1080h0M269 1067h0M274 1036.5h0M319.5 1088.5h0M264.5 1103.5h0M289.5 1005.5h0M296 1078h0M273.5 1094h0M314 957.5h0M283 1029h0M368.5 944.5h0M307 1042h0M302 1048h0M348.5 1024h0M343.5 1022h0M382 1031h0M394.5 1054.5h0M343 942.5h0M360.5 987h0M390 1061.5h0M344 1006.5h0M322 1010.5h0M291.5 1048h0M359 1018h0M349 1054.5h0M287 1040.5h0M327 1048h0M336.5 1068.5h0M304 1049.5h0M380 1039h0M391.5 1011h0M353 1039h0M330 961.5h0M374 1010.5h0M253 985.5h0M293.5 1011.5h0M349.5 978.5h0M341.5 1002h0M329.5 989h0M344.5 1055.5h0M341 1037h0M326 1002.5h0M321 1108h0M373 1072h0M321.5 988.5h0M301.5 1024.5h0M329 989.5h0M339 976.5h0M362.5 952.5h0M340.5 1046.5h0M389 1035.5h0M371.5 1015h0M304 1089.5h0M387.5 1018.5h0M355.5 1046h0M315 981h0M289 1057.5h0M352.5 994h0M354.5 1006h0M321 1023h0M376 1027h0M321 1043.5h0M332 1041h0M323.5 1044h0M331.5 1054h0M369.5 1089h0M379.5 1068h0M327 1083h0M328.5 1048h0M302.5 1010.5h0M393 1018.5h0M343 1017.5h0M361 1026.5h0M310 958h0M335.5 1047h0M375.5 983h0M298.5 1042h0M352.5 1029h0M385.5 1103.5h0M330 1060.5h0M328 1069.5h0M336.5 1044h0M300.5 954h0M365 1042h0M390.5 1000h0M318 1053.5h0M398 1081h0M312 1071.5h0M319.5 1062h0M379.5 1005.5h0M296 997.5h0M367.5 1012.5h0M377.5 1067h0M389.5 1048.5h0M349 1094.5h0M331.5 1001h0M331 1047.5h0M326 964.5h0M370.5 1053h0M388.5 1061h0M315 1040h0M317.5 1017.5h0M397.5 1066h0M374.5 1002.5h0M360 991h0M326.5 951.5h0M343 976h0M353.5 1019h0M316 930.5h0M335 989.5h0M349 1038.5h0M347.5 1035h0M348 1053.5h0M380 1022h0M345.5 1037h0M396.5 1057.5h0M369.5 1057.5h0M366 1015.5h0M358 941.5h0M359 1077.5h0M375 1048h0M349 1055h0M367 1043.5h0M346 1009h0M345 1109h0M330 1029.5h0M330.5 1043h0M373 1034.5h0M328.5 1036.5h0M386 1032.5h0M376 1051h0M348.5 1077h0M372 1009h0M397 1082.5h0M285 1087.5h0M307 1078h0M393.5 1033.5h0M312.5 1053.5h0M343.5 991.5h0M325.5 1040.5h0M338.5 1059.5h0M332 1036h0M354.5 906.5h0M327 1065h0M352.5 1080h0M327 948.5h0M324.5 972h0M363 1103.5h0M324 1080h0M349.5 1091.5h0M322.5 1040.5h0M382 1089h0M291 1030h0M379 1101.5h0M357.5 1002h0M335.5 1067h0M384 1022.5h0M320 1091.5h0M311.5 954h0M308.5 927.5h0M335.5 1074.5h0M367.5 1037.5h0M312 1060.5h0M345.5 1111h0M316.5 1053h0M376 982.5h0M385 1011.5h0M289.5 931h0M329 1014h0M314 1038h0M341.5 1033h0M380.5 1041.5h0M328 1024h0M289.5 1016h0M368.5 1019.5h0M351.5 987h0M360 1081.5h0M361 1049h0M341 1035h0M324 1025h0M352 1062h0M347 1024.5h0M367 1048.5h0M352 1112.5h0M371.5 1051.5h0M314 1076h0M357 1038.5h0M365 960h0M332.5 950.5h0M369 1019h0M351.5 1100h0M395 1038h0M314.5 1067.5h0M367 993.5h0M358.5 1042h0M358 1017h0M326 1034h0M284 955.5h0M430.5 1046.5h0M375 1034h0M366 1015.5h0M340 1039h0M364 1042.5h0M380.5 1020h0M377.5 1030h0M361 1001.5h0M297.5 1094h0M341 1071h0M295 1098.5h0M325 1076h0M275.5 1071h0M322.5 962h0M314.5 982h0M380 1108h0M302 1003.5h0M310 1060h0M369.5 983h0M367 1049h0M355 1095h0M342 977.5h0M388.5 1013h0M365 967.5h0M375 1076.5h0M338.5 1068h0M357.5 1059.5h0M353 1087h0M376.5 999h0M327.5 1053.5h0M307.5 1001h0M393.5 1046.5h0M367 1079h0M321 1006.5h0M357.5 943.5h0M322.5 1034.5h0M329.5 1056.5h0M339 928.5h0M361.5 1066h0M321 1031h0M372.5 1036h0M389 1056h0M372.5 1056.5h0M343.5 1028h0M318 1083h0M386 1006h0M434.5 1049h0M364 1005h0M315.5 1018h0M325.5 1004.5h0M371 1033h0M365 1027.5h0M380 1066h0M332.5 1021h0M386.5 1098h0M296 1044h0M389 1081.5h0M360 1044.5h0M305 1058.5h0M318.5 982.5h0M281 1091h0M341 1070.5h0M353 1037h0M379 1085h0M358 993h0M386.5 1025.5h0M354.5 978.5h0M331.5 1079.5h0M358.5 989.5h0M360 1071h0M340.5 987.5h0M365 993.5h0M337.5 1060h0M301.5 1032.5h0M338 1080h0M331.5 1080h0M346.5 1014h0M366.5 1068.5h0M300 1004.5h0M273 1065h0M388 1073.5h0M348.5 1106.5h0M323 976h0M341.5 993h0M336.5 1009.5h0M313 1034.5h0M344.5 1069h0M296.5 1060h0M355.5 1009.5h0M337.5 1034.5h0M316.5 1111.5h0M316.5 1056.5h0M285.5 1051h0M319 1068h0M376 984h0M343 1004h0M382.5 998.5h0M330.5 1001h0M300 1035.5h0M391.5 1038h0M309 1010.5h0M298.5 981h0M353.5 1051.5h0M317.5 1052.5h0M381.5 1094h0M369.5 1079h0M362 938h0M351.5 956.5h0M334.5 1096.5h0M385.5 1031.5h0M374.5 987h0M324 1042.5h0M365 997h0M348 1040.5h0M378 1031.5h0M396 1070.5h0M362 1013.5h0M315.5 1061.5h0M362 982h0M372 1038.5h0M293.5 1037h0M352.5 1041h0M283 1070.5h0M341.5 1033h0M348 1082h0M295 1006.5h0M369 1034.5h0M350.5 996h0M357.5 1014.5h0M328 1054.5h0M380.5 1041.5h0M345.5 968h0M376 1034h0M316 1065.5h0M305.5 1010h0M346 1021h0M380.5 1025.5h0M312 1019.5h0M341.5 1043h0M309.5 1075.5h0M353.5 1092h0M324 1074.5h0M348.5 1068.5h0M357.5 1054.5h0M360.5 1019h0M310.5 1076h0M362 1026h0M370 1044.5h0M279 1055.5h0M390.5 1111.5h0M386 1040.5h0M316 1073h0M366.5 1031.5h0M322 981h0M332 1071.5h0M365.5 1076h0M362.5 1077.5h0M367 957.5h0M311.5 1036.5h0M345 1013h0M315.5 1062h0M292 1108.5h0M343 1047h0M312.5 1012h0M339 1055.5h0M337.5 1045h0M328 1035h0M380 1017h0M311.5 1024h0M394 1039.5h0M354.5 1044h0M388 1018.5h0M344 1039.5h0M322 1034.5h0M352.5 962.5h0M339.5 1037h0M330 1073h0M375.5 1007.5h0M363.5 1061h0M318.5 1104h0M339 1009h0M384 1058h0M344 986h0M355 1082.5h0M317.5 1104h0M327 1000h0M373 965h0M373 1069h0M291.5 1018h0M358.5 978h0M322.5 1068h0M351.5 1085h0M324 1013h0M382 1055.5h0M378 966h0M334.5 1040h0M361.5 1000.5h0M380 1003.5h0M279.5 1023h0M344.5 1089.5h0M327 993h0M321 946h0M374.5 1037h0M343 1028h0M337 1025h0M365 1008h0M331.5 989.5h0M346.5 1025.5h0M337.5 1024.5h0M493 958h0M384.5 1096h0M366 961h0M336.5 1093h0M383 978h0M288 1080h0M398.5 1082h0M350 1014h0M445 1037.5h0M360 980h0M334 1059.5h0M317.5 999h0M361.5 1036h0M349.5 957.5h0M347 1024.5h0M344.5 1022.5h0M308 1030.5h0M426.5 1050h0M426.5 1047.5h0M427 1100h0M443 1012h0M475 1023.5h0M444 985h0M502.5 1083.5h0M484 975.5h0M466 1018.5h0M447.5 994.5h0M455.5 958h0M481 1049.5h0M450 1056h0M451 1034.5h0M438 1029.5h0M455.5 1071h0M428.5 1044h0M447.5 959.5h0M450.5 1021h0M450.5 968.5h0M452 967h0M444 981h0M467.5 1082h0M446.5 962.5h0M426.5 1088.5h0M439.5 1089.5h0M439 1028.5h0M449 1099h0M474.5 939h0M451.5 1063.5h0M457.5 944.5h0M467.5 1059.5h0M466.5 1049.5h0M479 1092.5h0M441 985h0M430 1058.5h0M464 1004h0M453.5 1052.5h0M475.5 937.5h0M440.5 1086h0M431 1026h0M440 1036.5h0M449 1085.5h0M453 1090.5h0M445.5 1010h0M438 1026h0M436 1060h0M425 1075.5h0M448.5 1078.5h0M455.5 1025.5h0M435 1077h0M443 1055h0M430 1062h0M458 1111h0M429 1072.5h0M428.5 1057.5h0M443.5 998h0M466.5 1072.5h0M455.5 1076.5h0M445 996h0M483.5 1087.5h0M428 1037.5h0M393 1066.5h0M456.5 1016.5h0M445.5 1059h0M457 1013.5h0M426 1099h0M462 965h0M456.5 947.5h0M456.5 1050.5h0M450 1074h0M451 1041.5h0M452 1027h0M460 989h0M443 1040h0M445.5 976h0M435 1052h0M437 997h0M437 1093h0M460 945.5h0M451 1043.5h0M474 1093h0M450.5 1097h0M441.5 1035h0M446 1005h0M460.5 1107h0M461 1110h0M486.5 1078h0M452.5 1066h0M459 1032h0M431.5 1089.5h0M480.5 969h0M436 1029.5h0M435 1065h0M442.5 1010h0M430 1109h0M467 1025.5h0M458.5 920.5h0M390 1068h0M470 1007h0M462 927h0M445 988h0M483 1016.5h0M431 1074.5h0M456 1039h0M435.5 1108.5h0M448 1020h0M426 1091.5h0M439.5 1101h0M428.5 1082.5h0M469.5 1059h0M459.5 940.5h0M443 1059h0M463 1097.5h0M442.5 1085h0M440.5 1036h0M450 997.5h0M460.5 971h0M457.5 1107.5h0M441 1086.5h0M457 1046.5h0M487.5 1095.5h0M485.5 1110.5h0M453.5 1042h0M431 1110.5h0M438 1080h0M458.5 1042.5h0M452.5 1027.5h0M432 1098.5h0M459.5 1072.5h0M453.5 1014.5h0M452 966h0M426 1051h0M450.5 1080h0M459.5 1089h0M433.5 1064h0M444.5 971.5h0M440 1039.5h0M398 1086.5h0M467.5 896h0M436.5 1037.5h0M439.5 1069.5h0M427.5 1041.5h0M447.5 1102.5h0M464 1047h0M426.5 1073h0M458.5 1045h0M450 1049.5h0M454.5 1066.5h0M431.5 1094h0M454 1077.5h0M454 1084.5h0M459.5 1050.5h0M469.5 1104h0M457.5 963h0M481.5 1032.5h0M433.5 1052h0M443 999.5h0M429 1050h0M456 1001h0M434.5 1076.5h0M477 1103h0M495.5 1106h0M447 1110h0M448.5 1066h0M431.5 1015.5h0M438 1003h0M438.5 1022.5h0M454 1036h0M432.5 1011.5h0M449 1077h0M435.5 1026h0M433 1103.5h0M431.5 1012h0M444.5 1060.5h0M438.5 1047.5h0M445.5 1048.5h0M488.5 1009h0M456 1027.5h0M447 972.5h0M448.5 1025h0M436 1082.5h0M440 1062.5h0M476.5 1054h0M444.5 1095h0M438 1044.5h0M479 1052.5h0M435 1103h0M440 1037h0M464.5 921h0M438 1063.5h0M474 1042h0M463.5 992h0M445 1079.5h0M439.5 1073.5h0M468 923h0M447 1053.5h0M441 974.5h0M446.5 1071h0M390.5 1063h0M459.5 999.5h0M431 1095.5h0M447 1077.5h0M477.5 925h0M442.5 1091.5h0M445 960.5h0M468 1041.5h0M474.5 1097h0M446 950h0M434.5 1011.5h0M482.5 1091h0M455.5 1084.5h0M438.5 1095h0M426 1074h0M466.5 932h0M449.5 1086.5h0M451 1100.5h0M462.5 1020.5h0M436.5 1003.5h0M437 1094h0M436 997h0M463.5 1075h0M430 1017h0M446 989h0M475.5 1077h0M453 1034.5h0M445 1082h0M449.5 1104h0M439.5 1052h0M460.5 1058.5h0M456 982h0M458.5 1061h0M441.5 1036h0M430 1076h0M450 1011.5h0M443.5 1021.5h0M475 1019h0M463 1090.5h0M455 1078h0M458 1018h0M430.5 1054.5h0M441.5 1095h0M445.5 1105h0M444.5 1092.5h0M475.5 980h0M463 1106.5h0M444.5 1037.5h0M445 1052h0M442.5 995.5h0M463 1019.5h0M449 1104h0M452 1084.5h0M439 992h0M438.5 975h0M469 1057.5h0M436 1058.5h0M447.5 1061.5h0M430 1105h0M451.5 1082.5h0M441.5 1095.5h0M459 1002h0M453 1055h0M476.5 994.5h0M443 1031.5h0M444.5 1025h0M454 1053h0M439.5 1070h0M470 975h0M427 1047.5h0M458 951.5h0M438 1083h0M440.5 1059h0M472.5 1078h0M446 1097.5h0M476 1042.5h0M429.5 1031h0M463 1090h0M470.5 1002.5h0M454.5 1057.5h0M446 1037h0M433 1059.5h0M437 1111h0M433.5 1077h0M382.5 1057.5h0M427.5 1046h0M433 1014h0M431 1072h0M442 1043.5h0M442 992.5h0M482 1062h0M472.5 1098.5h0M426.5 1062.5h0M442.5 1052h0M692.5 795.5h0M678 801.5h0M711.5 807.5h0M662.5 819.5h0M504 851.5h0M119.5 1055.5h0M146 837.5h0M707 1087h0M693.5 1023.5h0M681.5 1045.5h0M596.5 834.5h0M620 842.5h0M630 847.5h0M638.5 856.5h0M670.5 872h0M632.5 874h0M673.5 947h0M664.5 973.5h0" fill="none" stroke="#1909A8" stroke-width="4.7" stroke-linecap="round" opacity="0.93"/>
<path d="M304 1101.5h0M289.5 1095.5h0M323.5 1050.5h0M506 1091h0M299.5 1079.5h0M455.5 1063.5h0M293 1056h0M355.5 960h0M259.5 1016.5h0M483 1101.5h0M377.5 1108h0M320 1103h0M274.5 1035.5h0M382 1100h0M480.5 1093h0M364.5 1062h0M456.5 1046.5h0M385.5 1106.5h0M392.5 1087.5h0M477.5 1092.5h0M447.5 1083h0M441.5 1109.5h0M457.5 1110h0M384 1109h0M458 1082.5h0M249.5 1083.5h0M500 1081h0M456.5 1080h0M274 1086h0M307.5 1080.5h0M362 1062h0M261 1076h0M444 1076.5h0M459.5 1075h0M391 1100h0M351.5 1098.5h0M300 1097h0M325 971h0M285.5 1068.5h0M428.5 1026h0M496 1111.5h0M485 1075.5h0M462.5 957h0M505.5 957.5h0M537.5 956.5h0M447 1056.5h0M240.5 1045.5h0M457 1097.5h0M268.5 1058h0M355.5 1076.5h0M355 933.5h0M347 1098h0M471.5 1046h0M280.5 1090.5h0M447.5 1096.5h0M388.5 1103h0M264.5 1049h0M521 1106.5h0M267 1073h0M300 1083.5h0M456.5 1021.5h0M484 1056.5h0M436.5 1094.5h0M337.5 1046h0M274 1104.5h0M519 1005.5h0M345 1113h0M367.5 1105.5h0M466 1087h0M298.5 1051.5h0M504.5 1042.5h0M351 1090.5h0M362 1066.5h0M429 1065.5h0M366.5 1102h0M455.5 1079h0M505 1030.5h0M426.5 1106h0M385.5 1075h0M281 885h0M482.5 1103h0M429 1105h0M322.5 950.5h0M472 1030h0M350 1093.5h0M533 1098.5h0M371 1111.5h0M325.5 1104h0M497.5 1038h0M442.5 1066.5h0M385 1059.5h0M434.5 1095.5h0M500 1086.5h0M272.5 1086.5h0M491.5 1091h0M452.5 1102.5h0M434 1104.5h0M298.5 1074h0M445.5 1062h0M453 1090.5h0M392 1104h0M274 1088h0M516.5 1103h0M487.5 1113h0M324 1010h0M378 1061.5h0M333.5 1077h0M307 1099h0M273.5 1092.5h0M273 1062h0M331 1048h0M489 1075.5h0M231 1102.5h0M445.5 1056.5h0M523.5 1003.5h0M466 1099.5h0M382.5 1019h0M456 1026.5h0M396.5 1109.5h0M478 1068.5h0M268 917.5h0M351 1111h0M436.5 1102.5h0M451 1091.5h0M466.5 1090.5h0M316.5 1093.5h0M465 1105h0M313 1104h0M428.5 1072h0M435 1096h0M471.5 1109.5h0M253 1064h0M266 1096.5h0M455.5 1100.5h0M436.5 1021.5h0M505 1069.5h0M518 983h0M478.5 1083.5h0M320 1101h0M521 1113.5h0M463.5 1094.5h0M457 1103h0M380.5 1077.5h0M329.5 1091h0M396.5 1044.5h0M448.5 1089.5h0M356.5 1107h0M269.5 1063h0M332.5 1089.5h0M460.5 1109h0M432.5 1068h0M377 1101.5h0M365.5 1098.5h0M364.5 1049h0M346 1106.5h0M347.5 1086h0M367.5 1049h0M445 1089h0M472.5 1052.5h0M490.5 1111h0M372.5 1005.5h0M389 1062h0M485.5 1090.5h0M464 1101h0M253 983.5h0M443.5 1094.5h0M447.5 1109.5h0M469 1090.5h0M474.5 1064.5h0M398 1111h0M339.5 1104h0M261.5 1108h0M489 1112.5h0M355 1083h0M225 1103.5h0M349.5 1092h0M388 1113h0M533.5 1105h0M471.5 1110h0M373 1096.5h0M337 1074h0M342 1082.5h0M480.5 1053h0M269.5 1109h0M281.5 1098h0M487.5 1110h0M348 1013h0M291.5 1093h0M362 1081.5h0M514.5 1097.5h0M254 1073.5h0M292 1055h0M489.5 1090h0M381.5 1070h0M477.5 1099.5h0M437.5 1053h0M544 1051h0M359 1079.5h0M251 1054h0M386.5 1104.5h0M385 1104h0M508.5 1102.5h0M355.5 1099.5h0M329 1064h0M388.5 1090.5h0M364 1100h0M306.5 1044h0M295.5 1094.5h0M283 1076.5h0M294 932.5h0M501 1053h0M223.5 1090h0M452.5 1073.5h0M344 1093.5h0M457 1022h0M398.5 1107h0M268.5 1083.5h0M486.5 1101.5h0M426.5 1110.5h0M474 1108h0M347.5 1112h0M525 1093.5h0M460 1082.5h0M385.5 1108h0M337 1095.5h0M426 1108.5h0M433.5 1098h0M482.5 1055h0M392 1085h0M319 1032h0M390.5 1109h0M377 1087h0M317 951h0M385 1104h0M288.5 1068.5h0M309.5 1102.5h0M469.5 1058.5h0M473.5 1047.5h0M348.5 1113h0M428.5 1054h0M456 1096h0M461 1082.5h0M431.5 1051h0M496.5 1054h0M394.5 1096.5h0M468 1091.5h0M272 1108h0M372 1105h0M429.5 1094h0M240.5 1107h0M316 1097h0M361.5 1057h0M388 1109.5h0M502 1093.5h0M493.5 999h0M456 1085h0M455.5 1094h0M426 1111h0M289.5 1112.5h0M287.5 1094h0M365.5 1112.5h0M313 1086h0M461 1110.5h0M396 1034.5h0M260 1059h0M523.5 1077h0M334.5 1087.5h0M483 990.5h0M499 1101h0M311 1098.5h0M340.5 1095.5h0M398 1083.5h0M445 1110.5h0M309.5 1073.5h0M474.5 1023h0M438 1074h0M341 1099.5h0M271.5 1090.5h0M474.5 1045.5h0M264 1074.5h0M366 1056h0M295.5 1099h0M504.5 1092.5h0M433 1067h0M348.5 1099h0M323 1102.5h0M346 1090h0M326.5 1072h0M355 1048.5h0M269 1087.5h0M439.5 1076.5h0M432 1089h0M485.5 1067h0M468 1057h0M525 1055h0M477 1098h0M360.5 1087h0M428 1101h0M345.5 1059h0M513.5 1082.5h0M361 1009h0M553 1011.5h0M492.5 1082.5h0M429.5 1107.5h0M453 1062h0M315 1002.5h0M343.5 1111h0M265.5 1014h0M285 1092.5h0M484.5 1113.5h0M244 1080.5h0M482 1111.5h0M332.5 1104h0M458 1106h0M526.5 1103.5h0M513 1024.5h0M561 1055.5h0M471.5 1104h0M303 1094.5h0M378 1077h0M427 1082.5h0M433.5 1058h0M386 1078.5h0M281 1068.5h0M316.5 1110h0M358.5 1107h0M493.5 1100h0M469 1089h0M487.5 1095h0M270.5 1099.5h0M482.5 1084h0M372.5 1106.5h0M374 1101.5h0M464 999h0M328 1112.5h0M452.5 1079.5h0M501.5 1046.5h0M446.5 1079h0M391 1107h0M384.5 1102h0M373 1098h0M522.5 1095h0M371 1060h0M447.5 1081.5h0M482 1112h0M379.5 1102h0M344 1046h0M350.5 1072h0M455 1111h0M519 1093h0M376 1112h0M517 1094h0M313 1093.5h0M353 1091h0M331.5 1086h0M457 1097h0M300.5 1095.5h0M465 1108.5h0M360 1084h0M292.5 1071h0M437 1111.5h0M250 1095h0M498.5 1041.5h0M449 1110.5h0M238.5 1040h0M339 1100.5h0M429 1081h0M390.5 1098.5h0M256 1032h0M353.5 1054h0M498.5 1054h0M381 1018h0M398 1103.5h0M392 1092h0M427 1055h0M301.5 1064.5h0M385.5 1102.5h0M469.5 1092.5h0M517.5 1093.5h0M244.5 1104.5h0M397.5 1030.5h0M267 1055h0M372.5 1111.5h0M493 1100.5h0M303 1087h0M436 1096.5h0M488.5 1077h0M359.5 1110.5h0M500.5 1098h0M452.5 1088.5h0M329.5 1098.5h0M357 1002.5h0M294.5 1077.5h0M460 1041.5h0M519 1093.5h0M474.5 1046h0M377 1098.5h0M341 1073.5h0M492 1065h0M456.5 1113h0M485 1104h0M343 1105h0M491.5 1084.5h0M449.5 1064.5h0M369.5 1113h0M480 1100.5h0M511 1079h0M446.5 1085h0M358 1066.5h0M523 1063.5h0M350 1050h0M305.5 1070h0M367 1100.5h0M455 1105.5h0M488 1059.5h0M230.5 1075.5h0M291.5 1100.5h0M343 1102h0M515 1092.5h0M286.5 1035.5h0M437.5 1066h0M496.5 1072.5h0M467.5 1104.5h0M524 1110.5h0M320 1072h0M288 1088h0M529 1076.5h0M487.5 1105.5h0M327 1104h0M319 1036h0M426.5 1100.5h0M351 1088h0M308 1075h0M448.5 1093.5h0M499.5 1112h0M322 1098h0M398 1111h0M459 1020.5h0M438 1063.5h0M361.5 1076.5h0M383 1092h0M303.5 1071h0M305.5 1102h0M434.5 1094.5h0M263.5 1042h0M379 1103.5h0M506 1059h0M454 1097.5h0M473 1072h0M350 1096.5h0M443.5 1093.5h0M349 1094.5h0M258 1105.5h0M353.5 1079h0M514.5 1102.5h0M391.5 1057h0M498 1094.5h0M272.5 1104.5h0M447 1109.5h0M359.5 1004h0M360 1102.5h0M582.5 1110.5h0M592.5 1113h0M521.5 1111.5h0M518 1112.5h0M581 1111h0M540 1110h0M572 1112h0M542.5 1113h0M236 901h0M293.5 1059h0M235 978h0M238.5 878.5h0M257.5 931h0M269 927h0M270.5 948h0M324 960h0M204.5 838h0M275.5 960h0M276.5 887.5h0M224.5 907h0M190 904h0M284.5 964.5h0M236.5 915h0M250 1011.5h0M307 980.5h0M242.5 932.5h0M257.5 1005h0M257 1001.5h0M155 983.5h0M344.5 1066h0M314.5 1027h0M323.5 942h0M326.5 959h0M230.5 938h0M300 1088h0M332.5 954.5h0M253 1023h0M216.5 923h0M229.5 1041.5h0M231 892h0M258 945.5h0M308 927.5h0M300 1104.5h0M268.5 949.5h0M279.5 963.5h0M227.5 1056h0M197 901.5h0M199.5 1094h0M225 1089h0M198.5 899.5h0M314 966.5h0M305 940.5h0M245 932h0M289 1060h0M261.5 1023.5h0M307 1038h0M197.5 911.5h0M265.5 955.5h0M225 1099.5h0M255.5 956.5h0M297 971h0M252 1099.5h0M237 901h0M282.5 1021.5h0M195.5 998.5h0M274 925.5h0M228.5 1068h0M264.5 1027h0M228.5 891h0M207.5 1025h0M239 876h0M304.5 1006.5h0M209 916h0M295 981h0M276 1083.5h0M224.5 913h0M273 950.5h0M136 1041.5h0M240 1041h0M232.5 1034h0M296.5 1091.5h0M231 999h0M214 908.5h0M251.5 929h0M147.5 879h0M321.5 1029h0M264 942h0M263 965.5h0M246 985h0M328.5 1004h0M167.5 967.5h0M258 952.5h0M379.5 1106h0M300.5 1021h0M257 933h0M272 1063.5h0M154 906h0M380 1089h0M313.5 1001.5h0M236 1108h0M389.5 1108.5h0M174 923h0M262.5 1001h0M229.5 938h0M296.5 977.5h0M264 944h0M211.5 913h0M257.5 943h0M293.5 1082.5h0M308 902h0M318.5 1110.5h0M289.5 963h0M277 1006.5h0M183.5 1056h0M295.5 999.5h0M398 1081h0M287.5 1054h0M226.5 875.5h0M218.5 923.5h0M266 1027.5h0M168.5 934h0M301 1016.5h0M320 1066.5h0M338 976.5h0M284 1068h0M295 1035.5h0M259 919.5h0M330.5 996h0M243.5 939h0M268.5 1037.5h0M165 909.5h0M321 1045.5h0M343 1066h0M324 983.5h0M188.5 941h0M187.5 1001h0M264.5 1109.5h0M268.5 967h0M269.5 999h0M262.5 990h0M176 878.5h0M202 911h0M227 865h0M163.5 902h0M331 1078h0M193.5 992.5h0M199.5 1016h0M280 947.5h0M266 979h0M221.5 890h0M296.5 1068.5h0M321 1010.5h0M226.5 1007h0M188.5 927h0M174 883.5h0M264.5 885.5h0M190.5 874.5h0M228.5 885h0M274.5 914.5h0M243 891h0M251.5 985.5h0M204.5 861.5h0M221.5 855.5h0M200.5 905.5h0M275 895.5h0M339.5 1087h0M195 898.5h0M240 1009h0M264.5 987.5h0M248 989.5h0M317.5 972.5h0M329 1013h0M225.5 845h0M262.5 1027.5h0M348.5 991.5h0M283 1024.5h0M234.5 985h0M334.5 1000.5h0M269 916.5h0M270 974h0M226.5 861h0M213.5 949h0M280 1020h0M255 1026.5h0M237.5 963.5h0M318 1014.5h0M301.5 987.5h0M332.5 1014.5h0M283 1011.5h0M290 1038.5h0M226.5 961h0M221.5 1064.5h0M221 894.5h0M216 922h0M225 860h0M235.5 1033.5h0M297 998h0M273 974.5h0M258 1019.5h0M301.5 1031h0M181 965.5h0M295 1014h0M278.5 978.5h0M242 931.5h0M300.5 999.5h0M211.5 882h0M236 1047h0M306 1048h0M170 1041h0M304 1003.5h0M200 879.5h0M210.5 1035h0M273 1032.5h0M272 914h0M183.5 942h0M314 1031h0M255.5 975.5h0M324 1094h0M156.5 895.5h0M259.5 985h0M285.5 975.5h0M199 872.5h0M206 895.5h0M177 864.5h0M285 941.5h0M252.5 899.5h0M221 972h0M231.5 988h0M173.5 867.5h0M229 876h0M276 980.5h0M290 978h0M340.5 1071h0M305.5 956.5h0M250 964h0M284 1008.5h0M333.5 1051h0M389 1083.5h0M333.5 1074h0M220 978.5h0M275.5 995.5h0M236.5 973.5h0M222 870h0M320 1000.5h0M292.5 1002.5h0M288 1071.5h0M336.5 1077.5h0M244 877h0M325 1012h0M233.5 1003.5h0M304 921.5h0M189.5 944h0M253 925.5h0M322 1032h0M291 963h0M240 1002.5h0M222.5 903h0M198.5 888h0M288.5 988.5h0M269 1095.5h0M312 1017.5h0M277 949h0M285.5 1069.5h0M375 1006h0M208 895.5h0M178.5 906h0M322.5 957.5h0M245.5 969.5h0M220 985.5h0M239 900.5h0M211 997h0M330.5 1039.5h0M292.5 974h0M251 1044h0M324 1036.5h0M260.5 1087.5h0M269 905h0M269 1063.5h0M256 873h0M174.5 868h0M274.5 983h0M271.5 1019h0M282.5 1000.5h0M193 894h0M151 947h0M231 955.5h0M278 1109h0M271.5 924h0M287 1047h0M193 902.5h0M332 1065h0M233 873.5h0M300 1073h0M314 1016.5h0M229.5 888.5h0M382.5 1097h0M239.5 1034.5h0M282 1029h0M179.5 883.5h0M257.5 915.5h0M296.5 1053.5h0M246 976h0M208.5 915.5h0M275.5 994h0M214.5 893h0M181.5 1051.5h0M314 1001.5h0M252.5 835h0M218.5 1107h0M224 1056h0M234 1006h0M259 939.5h0M240.5 896h0M253 1012h0M227 1042.5h0M251.5 951h0M257.5 906h0M223 964h0M342.5 1016.5h0M233 1008.5h0M238 940h0M244.5 940h0M211.5 1084h0M188.5 1022h0M222.5 947.5h0M207.5 912.5h0M338.5 1095.5h0M185.5 972h0M238 1034h0M276.5 1082.5h0M155 857.5h0M260.5 914h0M245 1004.5h0M293 949h0M300.5 947h0M265.5 992.5h0M303.5 933h0M312.5 1059h0M203 855h0M204.5 893h0M277 980h0M292.5 1112.5h0M207 854h0M279 957h0M253 1059.5h0M320 986h0M280 1001.5h0M244 1029h0M230.5 960h0M174 858.5h0M287 1040.5h0M331 1042h0M372.5 1100.5h0M369.5 1093.5h0M256 1040h0M236.5 1094h0M212 854h0M294.5 922.5h0M204.5 945h0M273 1047.5h0M301.5 944.5h0M270.5 928.5h0M261 1006.5h0M234 1051h0M203 950h0M263 909.5h0M281 1088.5h0M242 1048.5h0M212 989h0M259.5 1018.5h0M297 1018.5h0M246 956h0M200.5 893h0M326 1082h0M271 1050.5h0M293 901h0M390.5 1077h0M203 947h0M280 962h0M249.5 886.5h0M271.5 1059.5h0M293.5 969h0M254 947.5h0M237.5 933h0M301.5 1015.5h0M273 1067.5h0M305 990.5h0M205.5 1023h0M283.5 1113h0M276.5 926h0M257.5 972.5h0M223 868.5h0M269.5 1024.5h0M235.5 866h0M238 850h0M135 890.5h0M266 916.5h0M298.5 960h0M217 929h0M236.5 924.5h0M277.5 913.5h0M288 1067.5h0M312 1002.5h0M222.5 917h0M340.5 1059.5h0M298.5 996h0M234.5 944h0M221 962.5h0M262.5 923h0M358.5 1042h0M236.5 1038h0M202.5 902.5h0M274 1093.5h0M198 868h0M284 932.5h0M263 1000h0M252.5 956h0M347.5 1062.5h0M321.5 973.5h0M166 857.5h0M165.5 939.5h0M335 1023h0M220.5 920.5h0M161 874.5h0M260.5 1073.5h0M229 892h0M384.5 1058.5h0M271.5 983h0M289.5 967.5h0M218.5 969.5h0M233 1099h0M266.5 1040h0M305.5 940.5h0M206 897h0M240.5 923.5h0M277 1047h0M163 969h0M259 997h0M283 885.5h0M246 1005.5h0M239.5 973.5h0M247 983.5h0M253 861.5h0M258.5 937h0M281.5 1109.5h0M350.5 1028h0M145 1008.5h0M256.5 890h0M305.5 950.5h0M208 955h0M220.5 919h0M294.5 926.5h0M217.5 900h0M253 949h0M269.5 872.5h0M239.5 995.5h0M264.5 969h0M356.5 1059h0M164 847h0M218 874h0M234.5 1076h0M218 1006.5h0M228.5 904h0M280.5 978h0M178.5 919.5h0M238.5 948h0M253.5 916.5h0M164.5 862h0M361 974h0M271 962.5h0M361 964h0M237.5 1008.5h0M265.5 944h0M212 1010.5h0M276 1102h0M205 870.5h0M256.5 953h0M257 960h0M228.5 1065.5h0M274.5 920.5h0M338.5 969h0M319.5 1014.5h0M213.5 950.5h0M266 1080h0M322 1032h0M275.5 1054.5h0M267.5 1101h0M243 915.5h0M258.5 997h0M477 1047h0M664.5 924.5h0M548 1019.5h0M437 1058h0M584.5 1054h0M544.5 1093.5h0M492 999h0M448 1094.5h0M611.5 1110.5h0M510 1089.5h0M658 1073h0M547 1089h0M495 1001.5h0M566.5 880.5h0M601 1080.5h0M545.5 1051h0M451.5 1091.5h0M576 1089h0M479.5 1087.5h0M474 1084h0M491 1066h0M610 1084.5h0M594.5 953.5h0M495 977.5h0M499 878h0M452 1061.5h0M450.5 1078.5h0M504.5 1090.5h0M611 1087.5h0M525.5 1093.5h0M633 1074h0M554 1073h0M610 1093.5h0M539.5 1013h0M526 989.5h0M446 969.5h0M480.5 901.5h0M462 1091.5h0M446.5 1093.5h0M580.5 869.5h0M633 1005h0M488.5 1106h0M552 1103h0M564 851h0M570.5 1031h0M540.5 1086.5h0M533.5 923.5h0M632 1006h0M637.5 1088h0M626 1109.5h0M530 1078h0M427.5 1080h0M446 1104.5h0M485 1064.5h0M595 972.5h0M538 1023h0M617.5 1035h0M507 1030h0M489 1054h0M469.5 1026.5h0M529 1102h0M559 1085h0M505.5 1056h0M650.5 1100h0M491.5 1028.5h0M606 1107h0M491 1062h0M487 1024.5h0M554.5 1064h0M501 1040.5h0M555 1007.5h0M557 1061.5h0M588.5 1041h0M541.5 1090h0M527 938.5h0M506.5 1004h0M626.5 985.5h0M574 877.5h0M549.5 1048h0M612 1097h0M478 1024.5h0M595 1029.5h0M474 1072.5h0M527 1103.5h0M492.5 1102h0M528.5 1098h0M531 1087h0M472 1009.5h0M471.5 1063h0M557 1071.5h0M612 1027.5h0M640 906.5h0M548 1110h0M480.5 1012.5h0M624.5 1093.5h0M456.5 993h0M531 1102h0M516.5 1032.5h0M519.5 1105.5h0M641.5 1036.5h0M493 1051h0M444 1105h0M577.5 1055h0M491 1088h0M510.5 1064h0M622.5 1106h0M536.5 1054h0M543.5 951h0M603 994.5h0M525 1040.5h0M559 1089h0M450 1098h0M463 990.5h0M512 1011h0M472.5 1075h0M543 1111h0M492 937.5h0M489.5 997h0M498.5 960h0M506.5 1059h0M618 1110h0M503.5 1025.5h0M506 1063h0M641.5 1005h0M481.5 1037h0M644.5 965.5h0M361 1096h0M525 1094.5h0M493.5 1106h0M579.5 1056h0M547.5 1100.5h0M465 1091h0M491 1081h0M613 1094h0M519.5 1077.5h0M568 1073h0M514 1105.5h0M546 933h0M503.5 1037.5h0M486 1007.5h0M545 1103h0M453.5 1034.5h0M496.5 1064h0M473 1106h0M557.5 1063h0M562 1060.5h0M578 1023h0M627.5 1098h0M475 997.5h0M492.5 1104h0M499 1056h0M551 1103.5h0M591 1055h0M577.5 1087h0M477 1101.5h0M544.5 1110.5h0M534.5 1112.5h0M469 1043h0M456.5 1065h0M498 1054.5h0M500.5 905.5h0M503.5 1034.5h0M437 1082h0M500.5 1052h0M516 975.5h0M605.5 1037.5h0M485 1099h0M374.5 1097h0M500.5 1022h0M497 969h0M598.5 1093.5h0M583 915.5h0M490.5 990.5h0M432.5 1076.5h0M657.5 1094h0M558.5 1066.5h0M596.5 1056.5h0M588.5 1020h0M508.5 1059.5h0M488.5 1015h0M508.5 1042.5h0M454.5 1056.5h0M521.5 998.5h0M455 1074.5h0M583 1048.5h0M463.5 1096h0M515 1081.5h0M555 966h0M623.5 1081.5h0M600 1094.5h0M506 1108h0M603 1104h0M558.5 1056h0M511.5 1057.5h0M448.5 1083h0M518 1107h0M554 965h0M471.5 1101.5h0M540 991h0M472 1103h0M516 1101.5h0M516.5 1090h0M563 1023h0M590.5 1103.5h0M595.5 896h0M662.5 1058.5h0M557.5 1035h0M398 1070.5h0M467 969h0M564 1051.5h0M512 1051h0M490.5 1022.5h0M461 1060.5h0M518.5 1091.5h0M665.5 1040.5h0M464.5 1053.5h0M486 1054.5h0M502 1107.5h0M435.5 1096h0M579 1037h0M515 1108h0M594.5 1022h0M439.5 1100.5h0M614.5 950.5h0M517 1041.5h0M538.5 982h0M489.5 1061.5h0M619 1028.5h0M545 1059h0M462 999.5h0M443 1074.5h0M444 996h0M491.5 987.5h0M451 1112h0M521 1090h0M479 966.5h0M571.5 1002.5h0M556.5 1053h0M493.5 1049h0M554 1080.5h0M488.5 1050h0M556 1074h0M469 1034.5h0M500 1070h0M465 1081.5h0M485 970h0M514.5 1110.5h0M508.5 1086.5h0M557 977h0M534.5 915.5h0M520.5 942h0M670 1033h0M515.5 1014.5h0M622.5 1086h0M530 1074h0M621 1041h0M442.5 1098h0M376 1061h0M652 1078h0M558.5 1047.5h0M533 1100.5h0M591.5 1006h0M448 998.5h0M545.5 960.5h0M492 994.5h0M580.5 1081.5h0M392 1092.5h0M515.5 1109h0M510.5 977h0M572 1036.5h0M552.5 1092.5h0M663.5 1046.5h0M492.5 1060h0M448.5 1013h0M618 1053h0M574.5 1024h0M498.5 1085.5h0M561.5 1068.5h0M394 1035.5h0M596 946h0M567 1040h0M552.5 1037h0M561.5 1082.5h0M506.5 925.5h0M592 1044h0M630 917.5h0M648 1021h0M667 985h0M394.5 1109.5h0M528.5 1088.5h0M568.5 1032.5h0M639 1106.5h0M574.5 1077h0M568.5 960h0M559 992h0M678 1057h0M583 1070h0M588.5 1077.5h0M507.5 1007h0M429 1027h0M568 1054.5h0M488.5 1031h0M532.5 1030h0M525 1023.5h0M472 1015.5h0M542.5 1105.5h0M498.5 1099h0M486 1075h0M576.5 1101.5h0M494.5 1058.5h0M617 1078h0M648 1084.5h0M570.5 1088h0M670 1048.5h0M528.5 1076h0M469 1023h0M485 1076h0M533 1087h0M486.5 1101h0M624.5 1059.5h0M684 921h0M535.5 1075.5h0M574 1042.5h0M627.5 1067h0M522 1104h0M549 1089.5h0M595 881h0M397.5 1095.5h0M502 947h0M484 1030.5h0M542 978h0M583 1027.5h0M492 1074h0M586.5 1060h0M463 1099.5h0M498 1005.5h0M563.5 1037.5h0M504 998.5h0M561.5 982h0M639.5 1019.5h0M465 1083.5h0M564 908.5h0M472.5 1063h0M436.5 1095h0M590 1106h0M553.5 932h0M486 1109.5h0M439 976h0M449.5 1106h0M538 996.5h0M456.5 951h0M670 823h0M617.5 1079h0M536 1092h0M515 1066.5h0M523 1061.5h0M605.5 951.5h0M546 1043.5h0M659 1015h0M515.5 900.5h0M559.5 1086h0M517 989.5h0M510 1046h0M456 1032h0M648 1096h0M388 1044.5h0M469.5 953.5h0M483.5 1052h0M540.5 951h0M481.5 1092h0M638 963h0M595.5 999h0M631 1044.5h0M465.5 1087.5h0M482.5 893h0M452 1056.5h0M508 1079h0M617 1102h0M584.5 1048h0M505 982.5h0M465.5 1065h0M530.5 1064.5h0M590 1077.5h0M533 958.5h0M544 1033.5h0M541.5 1109.5h0M485.5 1025.5h0M559.5 1067.5h0M525.5 1094.5h0M625 1106.5h0M496 1102h0M509 936h0M604.5 926h0M502.5 1094h0M505 1077.5h0M516 899h0M561.5 1111.5h0M509 1079h0M487.5 987.5h0M553 1069.5h0M509 1049.5h0M568 1061h0M650.5 918h0M604.5 958h0M547 1004h0M444.5 1054h0M562 953.5h0M476 970h0M482 1091.5h0M478.5 1028.5h0M547 1092.5h0M597.5 934.5h0M516.5 1030h0M581 1080.5h0M478 1069.5h0M591.5 1094.5h0M496 1096h0M573.5 1109.5h0M628 1027h0M495.5 919.5h0M537.5 998.5h0M575 1090h0M555 958.5h0M534.5 1099.5h0M559.5 1113h0M509.5 1087h0M502 997h0M507.5 904h0M679.5 1044.5h0M511 1093h0M523.5 1110.5h0M519.5 938h0M591 1036h0M515.5 956h0M464 1069h0M502.5 960h0M390 1026.5h0M472.5 1032h0M523.5 943h0M503.5 1074.5h0M515 1083h0M499.5 1057.5h0M497.5 1028.5h0M563.5 1113h0M491.5 1021.5h0M536.5 1103.5h0M457.5 969h0M499 961.5h0M508 1095h0M609.5 1111.5h0M551.5 1082.5h0M488 1066.5h0M555.5 1064.5h0M586 920h0M633 902h0M618.5 871.5h0M528.5 954.5h0M655.5 885.5h0M585.5 931h0M505.5 999h0M479.5 1027h0M620 923.5h0M556.5 1007h0M499.5 986.5h0M592 901h0M473 1073.5h0M516 902h0M551.5 956h0M556 995h0M496 1021h0M558 994.5h0M603.5 965h0M556 947h0M571 1046h0M563.5 918.5h0M516 1049.5h0M589 897h0M559 1003.5h0M582 1020.5h0M474 998h0M567.5 940h0M526 997h0M550 985h0M608 978h0M585 868.5h0M575.5 941h0M602.5 945h0M531.5 1008h0M553.5 920h0M514.5 962h0M595 915.5h0M562 987.5h0M559 980h0M536 969.5h0M548.5 1011.5h0M527 1007.5h0M600.5 861.5h0M589.5 1015.5h0M604 991.5h0M510 986h0M648 965h0M606.5 918h0M644.5 906h0M664.5 860h0M572 966.5h0M646.5 913h0M537.5 1039h0M525.5 1046.5h0M516.5 1076h0M589.5 1021.5h0M590.5 933h0M571 1044.5h0M615 911.5h0M529.5 1036.5h0M601.5 995.5h0M560.5 868h0M539.5 997.5h0M589 917h0M552 1053h0M562 944h0M529.5 985.5h0M564.5 1019.5h0M597.5 884.5h0M540.5 1061h0M559.5 930.5h0M521.5 1041.5h0M601.5 875h0M534.5 989.5h0M526 971.5h0M690 916.5h0M556 1048.5h0M601.5 917.5h0M622.5 970h0M558.5 1064.5h0M589.5 1024.5h0M588.5 1025.5h0M554.5 1088.5h0M561 1044.5h0M610 1005.5h0M604 899.5h0M594 911h0M514.5 971h0M527.5 1015.5h0M529 977.5h0M568.5 994.5h0M587.5 946h0M547.5 998h0M555 1028h0M518 951.5h0M471.5 1088h0M607 941.5h0M554.5 1046h0M502 1085h0M461 1072.5h0M565 1032h0M565.5 1094.5h0M548 944.5h0M564 987h0M540.5 929.5h0M541.5 1039h0M563.5 1079.5h0M561 1005.5h0M608 953.5h0M595.5 938.5h0M480.5 1098.5h0M567 1033h0M496 985h0M447 1086h0M544 977.5h0M560.5 911.5h0M580 922h0M498 979h0M515 1053h0M597.5 1067.5h0M539.5 1093.5h0M613 922h0M559.5 965.5h0M563 1025h0M533 1028.5h0M610 875h0M576.5 881.5h0M440 1020h0M530 973.5h0M605.5 952h0M627.5 891.5h0M555.5 1010.5h0M538.5 1040h0M524.5 997.5h0M628 872.5h0M544 963.5h0M550 1037h0M620.5 937h0M500 998.5h0M588 924h0M537.5 1002h0M537.5 966.5h0M517.5 992.5h0M570.5 877h0M632.5 889h0M566.5 886.5h0M528 1019h0M536 1065h0M508 1005.5h0M537 928h0M609 902.5h0M517 988h0M575 873h0M517 1028.5h0M575 1016.5h0M620.5 981.5h0M467.5 1020h0M545 1049.5h0M616.5 1068h0M615.5 867h0M503 983.5h0M262 1091h0M342 1110.5h0M272 1060.5h0M285.5 1039h0M261.5 1094h0M310 1062h0M349 1043.5h0M279.5 1102.5h0M287 1086.5h0M290 1095h0M239.5 1112.5h0M267 1049h0M370 1070h0M316 1058.5h0M252.5 909h0M276.5 1108h0M289 1085.5h0M263 1018.5h0M329.5 1045.5h0M265.5 870h0M257.5 1005h0M267 1043h0M277.5 1095.5h0M294 988h0M363 989h0M221.5 969.5h0M276.5 1088.5h0M323 1051.5h0M339 1041h0M335.5 1031h0M337 1012h0M196.5 1033.5h0M296.5 1072.5h0M289.5 1037h0M271.5 1096h0M294 1079h0M284 1072.5h0M276 1108.5h0M260 1077h0M326.5 1056.5h0M284 1089.5h0M298.5 1102.5h0M289.5 1088.5h0M286.5 1094h0M323.5 1106.5h0M295.5 1099h0M301 1018.5h0M341.5 1086.5h0M297.5 1076.5h0M291.5 994h0M304.5 924h0M239 1106h0M324.5 1108h0M198.5 1072.5h0M232.5 1095h0M332.5 1078h0M288.5 1105h0M305 1084.5h0M332.5 958h0M323.5 1071h0M316 1045h0M266 1082h0M233.5 1073.5h0M279 1087.5h0M318.5 1057h0M292 967.5h0M246 999.5h0M299.5 1106.5h0M247 1066.5h0M304 1053h0M320.5 1084h0M264 1009h0M210.5 986.5h0M268.5 1083.5h0M252 1062h0M306 1098h0M246 1027h0M287 1066h0M370 1040.5h0M312.5 1109h0M295.5 1100.5h0M242.5 1050.5h0M327 1057h0M309 1055.5h0M345 1026h0M287 1072.5h0M275.5 1107.5h0M383 1085h0M280 1105h0M293 1078h0M334.5 1032.5h0M268.5 1045h0M271.5 1079.5h0M240.5 1032.5h0M256 1033.5h0M242 1101h0M338 1111.5h0M318.5 1099h0M236 1112h0M286.5 1102h0M259.5 1066h0M286 1093.5h0M249.5 1107.5h0M235.5 1099h0M251.5 1079.5h0M301 1046.5h0M286.5 1057.5h0M329 948h0M376 1083h0M380 1018h0M282.5 980h0M381.5 1021h0M324.5 911h0M363 989.5h0M366 1021h0M365.5 1045.5h0M353.5 996h0M339.5 1066h0M363.5 1082.5h0M318 978h0M332.5 1001.5h0M341.5 1055h0M293 992.5h0M378 1017h0M309.5 1002h0M322 1082h0M349 1077h0M333 1005h0M339 1031h0M318.5 987.5h0M338 1097.5h0M365.5 998.5h0M318 1056h0M345 934.5h0M319 1057h0M388.5 1021.5h0M306 995h0M352.5 1075h0M367.5 1024.5h0M324.5 976h0M317.5 1024h0M346 1021h0M395 1074.5h0M324.5 1077.5h0M312.5 1031.5h0M334.5 1092.5h0M375.5 942.5h0M315 967h0M350.5 1055h0M361.5 1034.5h0M327 1049h0M318 950.5h0M356 1008.5h0M357.5 962h0M352.5 1023.5h0M299 1052h0M322.5 1109h0M328.5 972h0M430 1043h0M342.5 1014h0M372.5 1064.5h0M342.5 1048.5h0M341.5 985h0M365.5 1103.5h0M379.5 1002h0M290.5 1077h0M334.5 969h0M374.5 996.5h0M363 981.5h0M387.5 1061h0M383.5 1004h0M333.5 1031.5h0M317 1014h0M425.5 1094.5h0M334 1015h0M382.5 1075h0M345.5 1063h0M351 988.5h0M295 999.5h0M358.5 1059.5h0M364.5 1000h0M304 959.5h0M329.5 984h0M361 1082h0M364.5 1053h0M347.5 1001.5h0M291 1010.5h0M340 943h0M370 1046h0M317.5 1087h0M370 1066h0M378.5 1065.5h0M311.5 988h0M360.5 1109h0M337 1008h0M332.5 1051.5h0M326.5 1058.5h0M396.5 1043h0M324.5 1008.5h0M362.5 1066h0M375.5 985.5h0M394.5 1059.5h0M340.5 1072h0M344.5 951.5h0M358 1073.5h0M314 1008h0M304.5 1032.5h0M345 966h0M297 1038h0M305.5 1073h0M283.5 998.5h0M324.5 1081h0M329 1074h0M302 1006h0M339.5 1059h0M359.5 988h0M340 1024.5h0M351 1013h0M333 1095h0M339 1023.5h0M377 1083h0M382 1038h0M380.5 1010.5h0M388.5 1014.5h0M349 1012h0M340 1100h0M270.5 1012h0M347.5 1063h0M293 1053h0M366.5 967h0M321 1088.5h0M354.5 996h0M383.5 1059h0M318.5 1077.5h0M285.5 997.5h0M248.5 999h0M339.5 1055h0M320.5 1107h0M372 1029.5h0M326 1013h0M370 1036h0M348 1032h0M320.5 1072.5h0M359 1036.5h0M362.5 1057h0M363 947h0M309.5 1034h0M348.5 1102.5h0M361 1082h0M370 1057.5h0M318 1095.5h0M307.5 1020.5h0M308.5 1077.5h0M301 949h0M346.5 1051.5h0M356.5 1066.5h0M372.5 991h0M291.5 981h0M378 1078.5h0M358.5 974.5h0M308 1036h0M371.5 1042h0M369.5 1014h0M399 1060h0M340.5 1029h0M360 1073.5h0M381 1025.5h0M329.5 1018h0M341 1046.5h0M312 1029.5h0M288.5 1037h0M315.5 1003.5h0M367.5 985h0M384 1052h0M357 1014.5h0M305 1098h0M334.5 996.5h0M267 1017h0M308.5 1016.5h0M338 1002.5h0M313.5 1011h0M314 1027h0M314 986h0M369 1035h0M345 1079.5h0M312.5 1016h0M353.5 1039h0M330.5 1086.5h0M364 1002.5h0M334.5 1078.5h0M379.5 959.5h0M388 1076h0M361 1052.5h0M382 1039h0M353.5 1061.5h0M313.5 1042.5h0M332 972h0M387.5 1069h0M300 1009.5h0M316.5 1000.5h0M290 1041.5h0M376 1088.5h0M317.5 1002.5h0M348.5 1083.5h0M380.5 1011h0M355 1002h0M360 1066h0M364 1085.5h0M345.5 1043h0M331.5 1060h0M342 1029h0M374.5 1058.5h0M285.5 993.5h0M308.5 1003h0M315.5 1014.5h0M378.5 1102h0M372.5 1055.5h0M354.5 927.5h0M356.5 1063h0M345.5 1049h0M371 1046.5h0M270.5 1005h0M340.5 1081.5h0M363 1095h0M316.5 1005.5h0M373 1041.5h0M331.5 1003h0M358.5 1058h0M444 1070h0M359.5 1038.5h0M378.5 1029.5h0M311 998.5h0M371.5 1050h0M345.5 1029h0M388 1026.5h0M361.5 1063.5h0M384 994h0M342.5 1045h0M320.5 1060.5h0M384.5 1046h0M292 1066h0M342 1038.5h0M382 1055.5h0M356.5 1027h0M389.5 1078h0M318.5 992.5h0M379 981h0M317 969h0M318.5 1022.5h0M335.5 1016h0M371.5 1051.5h0M315 1070h0M295.5 990.5h0M326 1084h0M375 1010h0M280.5 916h0M361 1028.5h0M341.5 1010h0M339 1064h0M321 977h0M344 1025.5h0M331 986.5h0M330 1019.5h0M329.5 1037h0M363 1027.5h0M378.5 1080.5h0M348.5 1083h0M336 1025.5h0M319 1007.5h0M320 938.5h0M291.5 995h0M304 970h0M306 1081.5h0M344.5 1028.5h0M275.5 1020.5h0M367 1051.5h0M276 1065.5h0M340 1017.5h0M374.5 970.5h0M339.5 1044.5h0M324 1041.5h0M361 1075h0M330.5 1002.5h0M319.5 979.5h0M348.5 1032.5h0M352 944h0M383.5 1042.5h0M323 980h0M377.5 1026h0M442 1046.5h0M357 938h0M349 944h0M362.5 987h0M296 1036h0M324.5 996h0M318.5 994h0M353 1004.5h0M312 1060h0M353.5 1008h0M324 1014h0M395 1091h0M295 1034.5h0M358 1061h0M433 1013h0M361.5 1036h0M369.5 991.5h0M342.5 1050h0M346 1001.5h0M337.5 1005.5h0M325.5 1055h0M296.5 1068.5h0M384 973.5h0M341 1035.5h0M361 1090h0M344.5 980.5h0M382.5 1076.5h0M303 1001h0M376 982h0M323 1044h0M323.5 1045h0M333 1025h0M386 1025.5h0M325.5 975h0M381 1062h0M387 1021h0M338 1001h0M368 1083.5h0M383.5 1042h0M361.5 1077.5h0M349.5 1063.5h0M375.5 1049.5h0M374 999h0M342.5 991.5h0M364.5 1022h0M318 1057.5h0M308.5 1071h0M340 1094.5h0M313 914h0M338 1027h0M389 1026.5h0M314 1074.5h0M324 1077h0M341.5 1074h0M313.5 1016h0M358.5 968.5h0M318.5 1080h0M353.5 957.5h0M326 1074.5h0M377.5 1011h0M322.5 1060.5h0M375 985.5h0M367 1021.5h0M355.5 987.5h0M375 1058h0M338 964h0M321 946h0M342.5 1035h0M365 1069.5h0M318 988.5h0M304.5 1015h0M387 993.5h0M332.5 1026h0M294.5 967h0M340.5 1012.5h0M318 1045h0M306 1067h0M286.5 1011h0M338 965h0M367 1042.5h0M390.5 1011h0M326 1003h0M368.5 982h0M352.5 1059h0M334 1049.5h0M321 995.5h0M349.5 1064h0M353.5 1029.5h0M343.5 1061h0M378.5 954.5h0M337 1005h0M327 1012h0M316 1019.5h0M299.5 1060.5h0M349 1037.5h0M366 1042.5h0M317.5 970h0M330 1016h0M322.5 1031h0M320.5 1081h0M295.5 976.5h0M353 1043h0M358.5 1063h0M454.5 1048h0M468.5 1059h0M440 1097.5h0M439 1079.5h0M440.5 1020h0M456 1089.5h0M462.5 1066.5h0M428 1053.5h0M460 951.5h0M488 959.5h0M433 1038h0M457.5 1039h0M437 1089.5h0M485.5 1056.5h0M457.5 1018h0M471 1029h0M455.5 1074h0M454 1025h0M452 1051.5h0M445.5 1057.5h0M476.5 957h0M445 987h0M425.5 1054h0M454.5 1014.5h0M451.5 1014.5h0M426.5 1067.5h0M441 1016.5h0M471 1102h0M451 1096.5h0M453.5 977.5h0M460 1086.5h0M465.5 994h0M454.5 1076h0M435.5 1048h0M442.5 1083h0M455.5 933h0M459.5 1108h0M443 1072.5h0M464 1107h0M474.5 1012.5h0M447.5 1006.5h0M479.5 967h0M453.5 983.5h0M465 1038.5h0M437.5 1049.5h0M425 1106.5h0M432 1082h0M451.5 1084.5h0M463.5 1103h0M426 1059h0M457.5 1046h0M438.5 1067h0M442 1015.5h0M436 1110h0M442.5 1028.5h0M446.5 1004h0M448.5 1054h0M442 1011.5h0M434.5 1053h0M447.5 1101h0M441 1099.5h0M435 1068h0M443.5 1005.5h0M425 1082h0M453.5 1093h0M449.5 1054h0M473 1067h0M466.5 1081.5h0M472.5 1075h0M434.5 1008h0M397 1110h0M442 1080.5h0M500.5 1085h0M448.5 1029h0M443 1085h0M435.5 1070.5h0M391 1048.5h0M434.5 1010.5h0M447.5 1049h0M453.5 1100h0M439.5 1078h0M467 1009.5h0M460 1061h0M457.5 1101h0M475 1048h0M451.5 1086h0M442.5 1085.5h0M435.5 1063h0M436 1087.5h0M446.5 1065h0M452 1110h0M427 1057h0M447 1081h0M467 1098h0M447 967.5h0M446.5 1034h0M458.5 1055h0M463 1025.5h0M461 933h0M453 1021.5h0M443 1056.5h0M465 992.5h0M461.5 1024.5h0M455 1088h0M479 1027.5h0M475 958h0M459 1040.5h0M448.5 1057.5h0M464 1098.5h0M444.5 1075h0M455.5 1051h0M434 1031h0M450 1081h0M432.5 1024h0M446 1040.5h0M455 1083h0M433.5 1100.5h0M478.5 1015h0M442.5 1066.5h0M458 1045h0M444.5 1053.5h0M442 1054h0M445 992h0M444 1065.5h0M444 1096.5h0M438.5 1012h0M450.5 1090h0M460.5 993.5h0M479 1073h0M455 1056h0M470.5 980h0M453 1066.5h0M463.5 1055.5h0M445.5 1009h0M426 1061.5h0M430 1039h0M437 996.5h0M446.5 1100.5h0M444.5 1082.5h0M434 1099h0M471 1071.5h0M453.5 1024h0M433.5 1036.5h0M447 1044h0M436 1057.5h0M430 1019h0M453.5 1039.5h0M440.5 1003h0M444 1059.5h0M498.5 1048h0M445.5 972h0M455.5 1022h0M451.5 1090h0M447.5 1053.5h0M445.5 994.5h0M465.5 968h0M454 1092h0M441.5 1086h0M447 1070.5h0M477.5 1027h0M465.5 1027h0M450 1080.5h0M460 1000h0M451.5 1050h0M453.5 1076.5h0M438.5 1105h0M435 1058.5h0M455 1097h0M438 1057h0M442.5 1070.5h0M431.5 1102h0M449 1088h0M449 1096.5h0M469 1051.5h0M429.5 1083h0M434.5 1095h0M438.5 1033.5h0M447 1027.5h0M451 941h0M470.5 1060.5h0M485.5 1027h0M483.5 1098.5h0M459 1074.5h0M464 999.5h0M468.5 1058h0M432.5 1065.5h0M452 1085.5h0M448.5 1008h0M457 1036.5h0M468 982h0M436.5 1093.5h0M447 1057.5h0M446.5 998.5h0M454.5 994.5h0M465.5 1105.5h0M480.5 1072.5h0M431 1097h0M446.5 1028.5h0M439 1015h0M437 1064h0M453 1042h0M451.5 1105.5h0M436 1049h0M441.5 1033h0M465.5 1056.5h0M460 1109.5h0M441 1036.5h0M431 1109.5h0M456.5 922h0M450.5 1106h0M458 1077.5h0M451.5 1082.5h0M442.5 1061.5h0M438.5 1087.5h0M462 1036h0M425.5 1080.5h0M440.5 1102h0M479.5 973h0M453 1044.5h0M472 898.5h0M464.5 1057h0M456.5 1052.5h0M470.5 947h0M458 1092.5h0M442.5 1102.5h0M432.5 1037.5h0M452.5 962h0M427.5 1083h0M468 963h0M447 973.5h0M437 1029h0M449.5 1019h0M438.5 1002h0M437.5 1052.5h0M469 992h0M469 1070h0M430.5 1054.5h0M426.5 1056h0M456 1014.5h0M482.5 1048h0M434 1007h0M442.5 1082h0M453 1109.5h0M461.5 989h0M471 1109.5h0M448 1005h0M440.5 1021.5h0M450 1056h0M443.5 1061h0M458.5 1066.5h0M444 968.5h0M428 1070.5h0M479 1073.5h0M395 1088h0M458 1088h0M430.5 1055.5h0M446.5 1098.5h0M465 1055.5h0M438.5 1055h0M453 1011h0M481 1090.5h0M465.5 1072h0M473.5 991.5h0M439 1013.5h0M324 786h0M318 802h0M340 830.5h0M315.5 848.5h0M762.5 753h0M682.5 799.5h0M677 822.5h0M459.5 876.5h0M112.5 1013.5h0M117 869.5h0M130.5 845.5h0M720 1102h0M680.5 1106.5h0M605 847.5h0M626.5 843.5h0M648 836h0M653 842.5h0M654.5 858h0M671.5 851.5h0M682.5 864.5h0M701.5 855.5h0M696.5 873.5h0M654.5 871.5h0M675.5 904.5h0M681 907h0M689 934h0M672.5 934.5h0M682.5 944h0M665.5 979h0" fill="none" stroke="#1909A8" stroke-width="4.7" stroke-linecap="round" opacity="0.93"/>
<path d="M399.0 711V1223.3M425.0 711V1223.3M43.2 1113.3H818" stroke="#2E2E2E" stroke-width="1.15" stroke-dasharray="5.3 2.1" fill="none"/>
<path d="M43.2 711V1223.3H818" stroke="#000" stroke-width="2" fill="none" stroke-linecap="square"/>
<path d="M190.3 1223.3v5.6M412.0 1223.3v5.6M633.7 1223.3v5.6M43.2 1199.8h-5.6M43.2 1066.8h-5.6M43.2 933.8h-5.6M43.2 800.8h-5.6" stroke="#222" stroke-width="1.6" fill="none"/>
<g font-size="15.6" fill="#4D4D4D">
<text x="188.7" y="1244.5" text-anchor="middle">-10</text>
<text x="412.0" y="1244.5" text-anchor="middle">0</text>
<text x="633.7" y="1244.5" text-anchor="middle">10</text>
<text x="33.8" y="1205.4" text-anchor="end">0</text>
<text x="33.8" y="1072.4" text-anchor="end">2</text>
<text x="33.8" y="939.4" text-anchor="end">4</text>
<text x="33.8" y="806.4" text-anchor="end">6</text>
</g>
<text x="440.3" y="1264.7" font-size="15.6" fill="#111" text-anchor="middle" textLength="114.5" lengthAdjust="spacingAndGlyphs">Log<tspan font-size="10.8" dy="3.6">2</tspan><tspan dy="-3.6"> fold change</tspan></text>
<text transform="translate(13.9 963) rotate(-90)" font-size="15.8" fill="#111" text-anchor="middle" textLength="68.5" lengthAdjust="spacingAndGlyphs">− Log<tspan font-size="10.8" dy="3.6">10</tspan><tspan dy="-3.6"> </tspan><tspan font-style="italic">P</tspan></text>
<circle cx="279.9" cy="672.2" r="4.2" fill="#7B7B7B"/>
<circle cx="329.5" cy="672.2" r="4.2" fill="#7B7B7B"/>
<circle cx="406.7" cy="672.2" r="4.2" fill="#7B7B7B"/>
<circle cx="478" cy="672.2" r="4.2" fill="#2F2DB5"/>
<g font-size="12" fill="#111">
<text x="297" y="676.8">NS</text>
<text x="347" y="675.8">Log<tspan font-size="8.4" dy="2.6">2</tspan><tspan dy="-2.6"> FC</tspan></text>
<text x="423.5" y="676.8">p-value</text>
<text x="494.8" y="675.8">p – value and log<tspan font-size="8.4" dy="2.6">2</tspan><tspan dy="-2.6"> FC</tspan></text>
</g>
<path d="M361.5 978.2L364.0 973.8L366.5 978.2ZM442.1 972.9L444.6 968.5L447.1 972.9ZM386.6 1031.9L389.1 1027.5L391.6 1031.9ZM360.4 1050.0L362.9 1045.6L365.4 1050.0ZM388.7 1059.2L391.2 1054.8L393.7 1059.2ZM395.5 1073.0L398.0 1068.6L400.5 1073.0ZM384.3 1089.9L386.8 1085.5L389.3 1089.9ZM513.7 1076.9L516.2 1072.5L518.7 1076.9ZM228.9 1107.2L231.4 1102.8L233.9 1107.2ZM306.5 1108.1L309.0 1103.7L311.5 1108.1ZM392.8 1099.3L395.3 1094.9L397.8 1099.3ZM272.3 1116.4L274.8 1112.0L277.3 1116.4ZM342.7 1114.1L345.2 1109.7L347.7 1114.1ZM387.1 1111.1L389.6 1106.7L392.1 1111.1ZM427.9 1112.9L430.4 1108.5L432.9 1112.9Z" stroke="#000" stroke-width="1.5" fill="#fff" fill-opacity="0.5" stroke-linejoin="round"/>
<g font-size="16.4" font-weight="bold" fill="#000" text-anchor="middle" stroke="#000" stroke-width="0.35">
<rect x="342.5" y="954.5" width="53.2" height="18.8" rx="2.2" fill="#fff" stroke="#8C8C8C" stroke-width="0.7" />
<text x="369.1" y="969.8" textLength="46.0" lengthAdjust="spacingAndGlyphs">G6PD</text>
<rect x="402.4" y="974.0" width="48.7" height="18.5" rx="2.2" fill="#fff" stroke="#8C8C8C" stroke-width="0.7" />
<text x="426.8" y="989.1" textLength="41.5" lengthAdjust="spacingAndGlyphs">RPL8</text>
<rect x="374.9" y="1008.2" width="63.3" height="18.6" rx="2.2" fill="#fff" stroke="#8C8C8C" stroke-width="0.7" />
<text x="406.5" y="1023.4" textLength="56.1" lengthAdjust="spacingAndGlyphs">HDAC3</text>
<rect x="293.1" y="1026.8" width="75.1" height="18.6" rx="2.2" fill="#fff" stroke="#8C8C8C" stroke-width="0.7" />
<text x="330.6" y="1042.0" textLength="67.9" lengthAdjust="spacingAndGlyphs">TXNRD1</text>
<rect x="379.4" y="1036.2" width="49.9" height="18.1" rx="2.2" fill="#fff" stroke="#8C8C8C" stroke-width="0.7" />
<text x="404.4" y="1051.2" textLength="42.7" lengthAdjust="spacingAndGlyphs">NFS1</text>
<rect x="401.5" y="1061.4" width="53.2" height="18.6" rx="2.2" fill="#fff" stroke="#8C8C8C" stroke-width="0.7" />
<text x="428.1" y="1076.6" textLength="46.0" lengthAdjust="spacingAndGlyphs">ACO1</text>
<rect x="331.0" y="1066.7" width="61.1" height="18.6" rx="2.2" fill="#fff" stroke="#8C8C8C" stroke-width="0.7" />
<text x="361.6" y="1081.9" textLength="53.9" lengthAdjust="spacingAndGlyphs">ACSF2</text>
<rect x="489.8" y="1076.5" width="26.4" height="18.0" rx="2.2" fill="#fff" stroke="#8C8C8C" stroke-width="0.7" />
<text x="503.0" y="1091.4" textLength="19.2" lengthAdjust="spacingAndGlyphs">TF</text>
<rect x="188.9" y="1083.5" width="49.6" height="18.6" rx="2.2" fill="#fff" stroke="#8C8C8C" stroke-width="0.7" />
<text x="213.7" y="1098.7" textLength="42.4" lengthAdjust="spacingAndGlyphs">CD44</text>
<rect x="265.9" y="1085.0" width="50.6" height="18.0" rx="2.2" fill="#fff" stroke="#8C8C8C" stroke-width="0.7" />
<text x="291.2" y="1099.9" textLength="43.4" lengthAdjust="spacingAndGlyphs">DPP4</text>
<rect x="399.2" y="1087.1" width="63.8" height="18.6" rx="2.2" fill="#fff" stroke="#8C8C8C" stroke-width="0.7" />
<text x="431.1" y="1102.3" textLength="56.6" lengthAdjust="spacingAndGlyphs">PHKG2</text>
<rect x="219.3" y="1115.4" width="53.2" height="18.6" rx="2.2" fill="#fff" stroke="#8C8C8C" stroke-width="0.7" />
<text x="245.9" y="1130.6" textLength="46.0" lengthAdjust="spacingAndGlyphs">SQLE</text>
<rect x="280.1" y="1115.4" width="71.4" height="18.3" rx="2.2" fill="#fff" stroke="#8C8C8C" stroke-width="0.7" />
<text x="315.8" y="1130.5" textLength="64.2" lengthAdjust="spacingAndGlyphs">ALOX15</text>
<rect x="358.1" y="1112.8" width="62.0" height="18.6" rx="2.2" fill="#fff" stroke="#8C8C8C" stroke-width="0.7" />
<text x="389.1" y="1128.0" textLength="54.8" lengthAdjust="spacingAndGlyphs">ACSL4</text>
<rect x="427.2" y="1114.6" width="62.9" height="18.6" rx="2.2" fill="#fff" stroke="#8C8C8C" stroke-width="0.7" />
<text x="458.6" y="1129.8" textLength="55.7" lengthAdjust="spacingAndGlyphs">VDAC2</text>
</g>
<path d="M894.5 713.3V1226.3M1115.2 713.3V1226.3M1335.9 713.3V1226.3M1556.6 713.3V1226.3M872.1 1125.3H1661.5M872.1 969.3H1661.5M872.1 813.3H1661.5" stroke="#F0F0F0" stroke-width="1" fill="none"/>
<path d="M1004.9 713.3V1226.3M1225.6 713.3V1226.3M1446.3 713.3V1226.3M872.1 1203.3H1661.5M872.1 1047.3H1661.5M872.1 891.3H1661.5M872.1 735.3H1661.5" stroke="#EAEAEA" stroke-width="1.7" fill="none"/>
<polygon points="1225.6,1201.7 1190.3,1187.7 1161.6,1169.8 1126.3,1130.8 1104.2,1101.9 1219.0,1101.9 1225.6,1179.9 1232.2,1101.9 1340.4,1101.9 1320.5,1142.5 1271.9,1181.5" fill="#4E4E4E"/>
<polygon points="1079.9,1101.9 1093.2,1055.1 1108.6,1020.0 1124.1,1008.3 1139.5,1020.0 1152.8,1039.5 1211.9,1039.5 1211.9,1101.9" fill="#EF2DA0"/>
<polygon points="1239.3,1101.9 1239.3,996.6 1251.0,996.6 1262.0,1027.8 1271.9,1062.9 1302.8,1086.3 1324.9,1101.9" fill="#EF2DA0"/>
<path d="M1198.5 1192h0M1206.5 1194h0M1210.5 1192h0M1225.5 1201.5h0M1209.5 1195.5h0M1202 1191h0M1220 1198.5h0M1201 1193.5h0M1222.5 1199.5h0M1201.5 1193h0M1219.5 1198.5h0M1198 1192h0M1192.5 1187.5h0M1221.5 1200h0M1203 1189.5h0M1211.5 1193h0M1215.5 1194.5h0M1209.5 1195.5h0M1223 1202h0M1192 1188h0M1224 1198h0M1212.5 1197.5h0M1222.5 1201.5h0M1192.5 1187.5h0M1212.5 1194h0M1222 1199h0M1197 1190.5h0M1200 1192.5h0M1211 1197h0M1164.5 1174.5h0M1184.5 1181.5h0M1162.5 1170h0M1188 1182.5h0M1168 1174h0M1183 1185h0M1164.5 1172.5h0M1172 1178.5h0M1178.5 1183.5h0M1172.5 1178.5h0M1182.5 1183.5h0M1181.5 1181h0M1178.5 1182.5h0M1176 1180.5h0M1182.5 1192.5h0M1173 1175.5h0M1176.5 1179.5h0M1180.5 1182h0M1177.5 1181.5h0M1179.5 1188.5h0M1174 1182h0M1162 1171h0M1172.5 1178h0M1174 1175.5h0M1186.5 1193h0M1187 1184.5h0M1152.5 1162h0M1160.5 1169h0M1153 1161h0M1152 1163.5h0M1144.5 1158.5h0M1131 1137h0M1157.5 1169h0M1126 1138h0M1129 1137.5h0M1126 1144h0M1129.5 1135.5h0M1154.5 1162.5h0M1137 1143h0M1137.5 1141h0M1149 1152.5h0M1156 1161h0M1147 1152.5h0M1135.5 1139.5h0M1153 1164h0M1157 1159.5h0M1161 1164h0M1148 1152h0M1138.5 1142h0M1138.5 1141h0M1125 1133.5h0M1136.5 1138h0M1157 1166h0M1149 1166.5h0M1130.5 1137.5h0M1138 1143.5h0M1151 1154h0M1142.5 1149h0M1136.5 1140h0M1149 1158.5h0M1130.5 1139h0M1126.5 1132h0M1162 1166h0M1141.5 1145.5h0M1132.5 1142.5h0M1146.5 1158.5h0M1127.5 1127h0M1124 1126h0M1103.5 1104.5h0M1107.5 1103h0M1114 1111.5h0M1110 1111h0M1107.5 1103.5h0M1101 1104.5h0M1125.5 1125h0M1107 1115h0M1115 1116h0M1105 1108h0M1120 1120.5h0M1124.5 1126h0M1106.5 1102.5h0M1103.5 1103.5h0M1113 1110.5h0M1114 1112.5h0M1120.5 1132.5h0M1113 1112h0M1105.5 1104.5h0M1120.5 1123.5h0M1119 1117h0M1103.5 1105.5h0M1120 1126h0M1104 1103.5h0M1118 1118h0M1330.5 1128h0M1322 1140h0M1325 1127.5h0M1330.5 1119h0M1322 1133.5h0M1336 1112.5h0M1335 1117.5h0M1332 1125h0M1324 1144h0M1334 1115.5h0M1324.5 1135.5h0M1339.5 1107h0M1329 1118h0M1330 1133.5h0M1327.5 1124.5h0M1328 1132h0M1337.5 1106h0M1319.5 1137.5h0M1338.5 1108.5h0M1335.5 1107h0M1329.5 1125h0M1327.5 1130.5h0M1342 1115h0M1325.5 1137h0M1334.5 1117h0M1323.5 1140.5h0M1326 1138.5h0M1326 1130.5h0M1331.5 1126h0M1323 1138h0M1323.5 1139h0M1338 1117h0M1334 1110h0M1326 1132.5h0M1310.5 1147.5h0M1287 1171h0M1308 1156h0M1288 1167h0M1292 1161h0M1279.5 1174h0M1308.5 1163.5h0M1271 1178.5h0M1276.5 1175.5h0M1309.5 1150h0M1298.5 1157.5h0M1285.5 1167.5h0M1293 1161h0M1308 1156h0M1306 1151.5h0M1309.5 1155.5h0M1316.5 1147h0M1299 1158.5h0M1308 1160h0M1281.5 1171.5h0M1282 1171.5h0M1292 1166h0M1316.5 1149h0M1287 1169.5h0M1303 1160h0M1308.5 1149.5h0M1289 1165.5h0M1305 1152.5h0M1275 1175.5h0M1291 1169.5h0M1281.5 1169.5h0M1301 1161h0M1289.5 1167.5h0M1284 1169.5h0M1288 1172h0M1317 1148h0M1313 1148.5h0M1304.5 1157.5h0M1293 1165.5h0M1276 1180h0M1295.5 1165h0M1297 1161.5h0M1314 1148.5h0M1274 1178.5h0M1308 1155h0M1294 1166.5h0M1288 1167h0M1254 1189h0M1262 1187h0M1230 1197.5h0M1260 1185.5h0M1233.5 1198h0M1246.5 1194h0M1262 1185.5h0M1271.5 1183h0M1237.5 1198h0M1229 1198h0M1264.5 1184h0M1261 1187.5h0M1227.5 1202h0M1236.5 1198h0M1235.5 1198.5h0M1226 1199h0M1232 1200h0M1229 1198.5h0M1243 1192.5h0M1233 1197.5h0M1262 1184.5h0M1263.5 1186.5h0M1227 1200.5h0M1259 1184h0M1229.5 1201.5h0M1269 1182h0M1254 1186.5h0M1263.5 1185.5h0M1238.5 1195.5h0M1226 1201.5h0M1265 1183h0M1232 1199.5h0M1227 1202.5h0M1250 1189h0M1268 1181.5h0M1233 1199.5h0M1240.5 1196.5h0M1249.5 1190.5h0" fill="none" stroke="#4E4E4E" stroke-width="4.7" stroke-linecap="round" opacity="1"/>
<path d="M1091.5 1060h0M1078.5 1089h0M1084 1080h0M1084.5 1093.5h0M1080 1068.5h0M1083.5 1070h0M1093 1066.5h0M1095 1059.5h0M1082 1076h0M1086 1072h0M1089.5 1064.5h0M1081 1099.5h0M1086 1078h0M1078 1090h0M1080 1084h0M1090 1060.5h0M1091 1060.5h0M1089.5 1074h0M1083 1078.5h0M1083.5 1080h0M1087.5 1069h0M1078.5 1099.5h0M1089 1066h0M1092 1069h0M1090 1062h0M1078 1096h0M1086 1073h0M1088 1079h0M1079.5 1097h0M1083 1091.5h0M1085 1072.5h0M1087 1084.5h0M1093.5 1062h0M1086.5 1091h0M1083.5 1078h0M1088 1083h0M1083 1085h0M1094 1049.5h0M1099 1041h0M1101.5 1038h0M1098 1039h0M1101 1033.5h0M1105.5 1019.5h0M1098 1044.5h0M1097.5 1039.5h0M1090.5 1050.5h0M1110.5 1021.5h0M1104.5 1026h0M1109 1021.5h0M1099.5 1035.5h0M1099.5 1041h0M1100.5 1035.5h0M1107 1025h0M1096.5 1050h0M1103 1039h0M1103 1031h0M1108 1021h0M1089 1052.5h0M1097 1044.5h0M1100.5 1035.5h0M1098.5 1045h0M1102 1038.5h0M1109.5 1026h0M1093.5 1054h0M1101 1033.5h0M1106 1020.5h0M1122.5 1007h0M1123 1012.5h0M1109 1018.5h0M1114 1014h0M1108 1017.5h0M1107 1017h0M1111.5 1020.5h0M1115.5 1011h0M1122.5 1007h0M1113 1017.5h0M1118.5 1015.5h0M1121.5 1014h0M1115.5 1018h0M1114 1015.5h0M1123.5 1011h0M1127 1014.5h0M1127.5 1007.5h0M1123 1010h0M1131.5 1011h0M1127 1011h0M1130.5 1009.5h0M1128 1014.5h0M1138 1016.5h0M1134.5 1011.5h0M1132.5 1006.5h0M1138 1019h0M1126.5 1014h0M1128.5 1006h0M1147.5 1034.5h0M1144 1020h0M1148.5 1030.5h0M1150 1038.5h0M1145 1021.5h0M1145 1023.5h0M1149 1038.5h0M1140 1020.5h0M1143.5 1022h0M1147.5 1033.5h0M1151 1034.5h0M1143 1026h0M1150.5 1038h0M1154 1038h0M1145.5 1029h0M1141.5 1026h0M1144.5 1025.5h0M1148 1026.5h0M1205 1038.5h0M1200.5 1039h0M1176.5 1035.5h0M1204 1040.5h0M1153 1042.5h0M1177.5 1041.5h0M1154 1037.5h0M1153.5 1043h0M1202 1038.5h0M1167.5 1037.5h0M1163 1040h0M1200 1033h0M1177.5 1038.5h0M1208.5 1042.5h0M1191.5 1037.5h0M1200 1036.5h0M1164.5 1037.5h0M1164 1036.5h0M1177 1042.5h0M1187.5 1041.5h0M1185 1036.5h0M1155 1037h0M1188 1040h0M1172 1040.5h0M1176 1041.5h0M1203 1040h0M1178 1042.5h0M1159.5 1042.5h0M1192 1036.5h0M1156.5 1041h0M1205 1041.5h0M1207.5 1037.5h0M1201.5 1042.5h0M1191.5 1039h0M1186 1038.5h0M1181.5 1039.5h0M1204.5 1040.5h0M1185.5 1037h0M1196.5 1040h0M1205.5 1039h0M1205.5 1040.5h0M1191 1043h0M1202 1042h0M1163.5 1042h0M1180 1043h0M1248.5 997.5h0M1249 994.5h0M1242 998h0M1249 1000h0M1247.5 991h0M1242.5 997h0M1245 999h0M1239.5 995.5h0M1252 1010.5h0M1255 1017h0M1254 1004h0M1257 1016.5h0M1259.5 1000.5h0M1256 1011.5h0M1262.5 1027h0M1257.5 1018h0M1250 999.5h0M1268 1020h0M1258 1014.5h0M1254.5 998.5h0M1259 1016.5h0M1257.5 1008h0M1261.5 1024.5h0M1249.5 1000h0M1264 1012.5h0M1257.5 1003.5h0M1254.5 995.5h0M1262.5 1026h0M1258 1016.5h0M1259 1025h0M1255 996.5h0M1265 1019.5h0M1251 1003.5h0M1260 1052.5h0M1268 1052.5h0M1264 1041h0M1269.5 1052.5h0M1264.5 1038h0M1261.5 1029h0M1267 1059h0M1267.5 1043.5h0M1268.5 1051.5h0M1263.5 1038h0M1257.5 1037h0M1261 1045.5h0M1267.5 1035.5h0M1262.5 1036.5h0M1269 1063h0M1272 1057.5h0M1268.5 1050h0M1271.5 1056.5h0M1265.5 1040.5h0M1264 1027.5h0M1268 1052h0M1264.5 1049.5h0M1264.5 1044.5h0M1261.5 1049.5h0M1266.5 1052.5h0M1270.5 1057.5h0M1267.5 1044h0M1270.5 1060.5h0M1296.5 1079h0M1273.5 1062.5h0M1281 1072.5h0M1275.5 1072h0M1297 1087.5h0M1282.5 1071h0M1281 1082.5h0M1281 1070h0M1279.5 1065.5h0M1281.5 1069.5h0M1287.5 1071.5h0M1282.5 1074h0M1299 1080h0M1298.5 1080.5h0M1286.5 1084h0M1274 1066.5h0M1290.5 1078.5h0M1278.5 1064.5h0M1276.5 1068.5h0M1279.5 1070h0M1277.5 1065h0M1274 1066.5h0M1299.5 1084h0M1277.5 1064h0M1301.5 1081.5h0M1288 1075.5h0M1290 1078.5h0M1291.5 1075h0M1295.5 1079.5h0M1310.5 1092h0M1312 1088.5h0M1318 1094h0M1310 1093.5h0M1313 1096h0M1321 1101h0M1303.5 1090h0M1310.5 1088h0M1306.5 1088.5h0M1306.5 1092h0M1305.5 1092h0M1304.5 1085h0M1307.5 1089.5h0M1302.5 1087.5h0M1320 1099h0" fill="none" stroke="#EF2DA0" stroke-width="4.7" stroke-linecap="round" opacity="1"/>
<path d="M1289.5 1120.5h0M1310.5 1137.5h0M1197 1179h0M1231.5 1195.5h0M1206 1172.5h0M1272.5 1119.5h0M1195.5 1137.5h0M1199.5 1171h0M1222 1198.5h0M1216 1199.5h0M1169.5 1177h0M1179 1158h0M1215.5 1195h0M1235 1170h0M1231 1197.5h0M1253 1183.5h0M1222.5 1183.5h0M1230.5 1152.5h0M1255.5 1176.5h0M1196 1171h0M1253.5 1144.5h0M1253.5 1179h0M1216.5 1155h0M1180.5 1137.5h0M1160.5 1172h0M1252.5 1172h0M1216 1156h0M1298 1148h0M1192.5 1175.5h0M1242.5 1183.5h0M1268 1164.5h0M1197.5 1146.5h0M1260.5 1175.5h0M1227 1199.5h0M1223.5 1185h0M1219 1161.5h0M1194 1156.5h0M1260 1110.5h0M1216.5 1173.5h0M1209.5 1191.5h0M1295 1139.5h0M1190.5 1154.5h0M1237 1192h0M1207 1178h0M1265.5 1157h0M1219 1179.5h0M1220.5 1194.5h0M1234 1187.5h0M1223 1187h0M1256.5 1109.5h0M1209 1184.5h0M1270 1174.5h0M1165.5 1140h0M1242 1148h0M1182 1173.5h0M1251.5 1183h0M1145.5 1152h0M1210.5 1180h0M1239 1181h0M1099.5 1119h0M1243.5 1150h0M1244 1195h0M1223 1194h0M1208 1182.5h0M1228 1197h0M1236 1118h0M1208.5 1132.5h0M1250.5 1190h0M1259.5 1109h0M1323 1106.5h0M1249 1125h0M1305.5 1118.5h0M1235 1172h0M1255 1158h0M1334.5 1118.5h0M1150 1133h0M1195.5 1147h0M1177.5 1180h0M1166 1119h0M1234 1115.5h0M1186 1125h0M1233 1116h0M1277 1141h0M1249.5 1162h0M1249 1171.5h0M1224 1197h0M1250.5 1180h0M1241 1192h0M1220 1183h0M1237 1181.5h0M1248 1147.5h0M1257 1124.5h0M1219 1143h0M1155 1109.5h0M1211 1119h0M1144.5 1115.5h0M1207 1188.5h0M1220.5 1176h0M1214 1192.5h0M1149 1154.5h0M1200.5 1161h0M1223.5 1188.5h0M1221 1184.5h0M1192.5 1185.5h0M1226.5 1197h0M1222 1184h0M1213 1107h0M1232.5 1196h0M1315.5 1126.5h0M1234.5 1111h0M1208.5 1190h0M1261.5 1183h0M1210.5 1116h0M1231 1195.5h0M1140 1107h0M1186 1122h0M1175 1162h0M1211.5 1192h0M1243.5 1151.5h0M1208.5 1181h0M1255 1183h0M1324 1131.5h0M1248.5 1160h0M1255 1144h0M1216 1187h0M1221 1164h0M1254 1176h0M1165 1149.5h0M1163.5 1108h0M1215 1179h0M1201 1124h0M1206 1181.5h0M1188 1120h0M1236 1195.5h0M1315.5 1124.5h0M1234.5 1194h0M1224.5 1193.5h0M1238 1193.5h0M1275 1109h0M1212 1173h0M1188 1174.5h0M1194.5 1162h0M1278 1132.5h0M1112.5 1122.5h0M1229.5 1197h0M1251 1131.5h0M1208.5 1157.5h0M1214.5 1117.5h0M1220 1196h0M1240.5 1140.5h0M1214.5 1176.5h0M1243.5 1186.5h0M1231.5 1176h0M1184 1173h0M1220 1144.5h0M1228.5 1193h0M1222.5 1176h0M1221 1188.5h0M1204 1154h0M1176 1161h0M1197.5 1172.5h0M1203.5 1154h0M1229 1180h0M1135 1151h0M1234 1167h0M1234.5 1181h0M1191 1130h0M1243 1185h0M1296 1141.5h0M1160.5 1144.5h0M1096.5 1128.5h0M1222 1176.5h0M1233 1115h0M1229 1189h0M1245.5 1180.5h0M1250.5 1132.5h0M1227 1200.5h0M1204 1180h0M1199.5 1174h0M1258 1149h0M1275 1165.5h0M1274 1140.5h0M1242 1170.5h0M1218 1164h0M1236 1151h0M1265 1139h0M1168 1149h0M1235 1158h0M1281 1152.5h0M1195 1174.5h0M1193 1109h0M1190.5 1177h0M1302 1142h0M1215 1187h0M1244.5 1129.5h0M1246 1174h0M1241.5 1154h0M1331 1102.5h0M1146 1130h0M1261 1116h0M1217.5 1177.5h0M1219 1192.5h0M1218.5 1160.5h0M1217.5 1141.5h0M1284 1122.5h0M1276 1124.5h0M1207 1153.5h0M1213 1170h0M1219.5 1193.5h0M1240 1180.5h0M1296 1107.5h0M1218.5 1200h0M1114.5 1139h0M1242.5 1192.5h0M1274 1130h0M1150 1150.5h0M1194.5 1148h0M1229 1188.5h0M1197.5 1181h0M1213 1151h0M1123.5 1104.5h0M1247.5 1159h0M1211 1135.5h0M1239.5 1105.5h0M1221.5 1200.5h0M1243 1181h0M1224 1193.5h0M1171.5 1157h0M1217.5 1196h0M1229 1190h0M1227.5 1199h0M1178 1146h0M1309 1124.5h0M1237.5 1176h0M1286 1151h0M1218 1113h0M1204 1188h0M1235 1189.5h0M1247 1183h0M1226 1202.5h0M1336.5 1144.5h0M1223 1178h0M1203.5 1184h0M1232 1177.5h0M1222 1196.5h0M1179.5 1175.5h0M1198 1140.5h0M1199.5 1102h0M1214 1114h0M1251 1156h0M1188 1169.5h0M1144.5 1133h0M1187.5 1163.5h0M1249 1172h0M1268 1161.5h0M1236 1172h0M1194 1156.5h0M1216.5 1154h0M1227 1197h0M1246.5 1169.5h0M1214.5 1117h0M1182.5 1147h0M1346.5 1126h0M1241 1180h0M1212.5 1188h0M1233.5 1177.5h0M1223 1187.5h0M1208 1163h0M1267 1139h0M1210.5 1153.5h0M1217.5 1172.5h0M1200.5 1147.5h0M1238 1139.5h0M1218 1188.5h0M1266 1133h0M1283 1158.5h0M1214.5 1148.5h0M1196 1177h0M1225.5 1203h0M1256.5 1157h0M1216 1166h0M1261 1166.5h0M1229 1199h0M1222.5 1192.5h0M1170.5 1134h0M1200 1161h0M1251 1121.5h0M1276 1119h0M1179.5 1173h0M1251.5 1170h0M1236 1189h0M1330.5 1109h0M1215 1165h0M1290 1157h0M1211.5 1177.5h0M1242.5 1139.5h0M1206.5 1159.5h0M1224 1199h0M1195.5 1172.5h0M1253.5 1154h0M1222.5 1175h0M1220.5 1164.5h0M1315 1156.5h0M1213 1147h0M1222 1169h0M1231.5 1158h0M1215 1128h0M1119 1113.5h0M1215 1176.5h0M1253.5 1122.5h0M1195.5 1173h0M1241.5 1182h0M1237.5 1187.5h0M1226 1203h0M1185.5 1148h0M1309 1105h0M1269.5 1131h0M1235 1181h0M1208.5 1152.5h0M1247.5 1186.5h0M1188.5 1175.5h0M1223 1196.5h0M1265 1145.5h0M1211.5 1197.5h0M1246.5 1165h0M1122.5 1130.5h0M1256.5 1162h0M1230.5 1196h0M1201.5 1142h0M1309.5 1125h0M1209.5 1185h0M1274 1171.5h0M1121.5 1145.5h0M1283.5 1162h0M1246 1105h0M1228 1199.5h0M1214.5 1101h0M1243.5 1127.5h0M1205 1174.5h0M1210 1187h0M1230.5 1186.5h0M1220 1181.5h0M1156.5 1157h0M1241 1157h0M1185.5 1177h0M1236 1196.5h0M1245.5 1127h0M1257.5 1150.5h0M1216.5 1183h0M1211 1154.5h0M1229.5 1181h0M1228 1196h0M1223 1185.5h0M1257.5 1184.5h0M1269 1160.5h0M1229 1175.5h0M1234 1154h0M1195.5 1173h0M1209.5 1179.5h0M1237 1069.5h0M1214.5 1189.5h0M1206.5 1114h0M1219.5 1175h0M1214 1188h0M1248 1122.5h0M1238 1164.5h0M1258.5 1169.5h0M1240 1158h0M1275 1160.5h0M1270 1159h0M1226 1202h0M1233 1192h0M1245.5 1141h0M1237.5 1174.5h0M1232.5 1174.5h0M1246 1116h0M1269 1136h0M1210 1183h0M1234 1146.5h0M1260 1171h0M1221 1177.5h0M1260 1142.5h0M1283.5 1126h0M1250.5 1141h0M1222 1169.5h0M1338.5 1118.5h0M1110 1113.5h0M1208 1179.5h0M1232 1195h0M1175.5 1156h0M1244.5 1108.5h0M1231 1183.5h0M1117 1142h0M1231.5 1155.5h0M1245 1151.5h0M1216.5 1152h0M1226 1202.5h0M1203.5 1164.5h0M1215 1134h0M1242 1173h0M1204.5 1178h0M1229 1199.5h0M1234 1161.5h0M1225 1198.5h0M1257 1118.5h0M1280 1108.5h0M1242 1148.5h0M1277 1165h0M1172.5 1156.5h0M1199.5 1169h0M1202 1149.5h0M1213 1175.5h0M1186 1161.5h0M1257.5 1172h0M1170.5 1154.5h0M1130 1142.5h0M1233.5 1102h0M1284.5 1109.5h0M1170.5 1161.5h0M1199.5 1122h0M1312.5 1162h0M1243 1130.5h0M1217.5 1166h0M1284 1144.5h0M1254.5 1118.5h0M1208 1133h0M1195 1173h0M1242 1184h0M1251 1157h0M1197.5 1164h0M1237 1168.5h0M1236.5 1198.5h0M1222 1196.5h0M1227.5 1197.5h0M1224 1201h0M1234.5 1177.5h0M1209 1162.5h0M1227.5 1191h0M1212.5 1172.5h0M1230 1184h0M1255 1167.5h0M1328 1141h0M1187 1179.5h0M1297.5 1126.5h0M1191 1167h0M1229.5 1193.5h0M1169 1142h0M1228.5 1193h0M1273.5 1163.5h0M1232 1124.5h0M1205 1179h0M1208 1161.5h0M1188.5 1109h0M1172.5 1161h0M1248.5 1132.5h0M1271.5 1165.5h0M1244 1174h0M1215 1185.5h0M1234 1133.5h0M1247.5 1184h0M1299.5 1164h0M1178 1164.5h0M1258.5 1131.5h0M1256 1165.5h0M1235.5 1195h0M1219 1158h0M1284 1144h0M1277.5 1175.5h0M1212.5 1196.5h0M1184 1137.5h0M1237 1190.5h0M1241.5 1176h0M1249 1143.5h0M1219.5 1170h0M1236 1162h0M1224.5 1200.5h0M1233.5 1194h0M1275.5 1153.5h0M1247.5 1140h0M1262 1167.5h0M1258 1171h0M1176.5 1168h0M1278 1127.5h0M1300.5 1120h0M1326.5 1116h0M1206.5 1191h0M1202 1160.5h0M1225.5 1203h0M1244 1176.5h0M1220.5 1200h0M1254 1151.5h0M1246.5 1190.5h0M1156 1118h0M1171.5 1105.5h0M1217.5 1180.5h0M1303.5 1160.5h0M1201 1175.5h0M1283 1127.5h0M1234 1193h0M1206.5 1186h0M1096 1112h0M1104 1147.5h0M1221 1183h0M1241 1188.5h0M1231 1185h0M1232.5 1181.5h0M1248.5 1109.5h0M1221.5 1176.5h0M1174 1142.5h0M1244 1176h0M1391.5 1119.5h0M1305.5 1147.5h0M1220.5 1169.5h0M1239.5 1149.5h0M1208 1155.5h0M1246 1167h0M1357.5 1103h0M1230 1194h0M1177 1139.5h0M1259.5 1184.5h0M1268.5 1149.5h0M1238.5 1184h0M1219.5 1195h0M1228 1201.5h0M1174.5 1154h0M1268.5 1141.5h0M1227 1194.5h0M1141.5 1153h0M1271.5 1149h0M1179.5 1129.5h0M1170.5 1148h0M1198.5 1159h0M1221 1191h0M1196.5 1154h0M1227 1202h0M1214.5 1080.5h0M1272.5 1137h0M1199.5 1124.5h0M1291 1142h0M1218 1126h0M1269 1144h0M1239.5 1181h0M1165.5 1164h0M1234.5 1150.5h0M1301 1149.5h0M1129.5 1159.5h0M1279.5 1139.5h0M1167.5 1107.5h0M1187.5 1177.5h0M1248.5 1175h0M1245.5 1152.5h0M1244 1161h0M1258.5 1132.5h0M1242.5 1112h0M1234 1167.5h0M1228 1198h0M1187 1163h0M1196 1125h0M1209.5 1143.5h0M1227 1193.5h0M1193.5 1122.5h0M1243 1150.5h0M1287 1125.5h0M1245.5 1187.5h0M1316.5 1134.5h0M1198 1148.5h0M1252.5 1139.5h0M1273.5 1110h0M1258 1163h0M1240.5 1189.5h0M1257.5 1180h0M1159 1159.5h0M1198 1137.5h0M1233 1177.5h0M1268 1110.5h0M1266.5 1107.5h0M1239.5 1195.5h0M1227 1197h0M1228.5 1185.5h0M1205 1174.5h0M1240 1148h0M1290.5 1107h0M1212.5 1159.5h0M1233 1195h0M1234.5 1157h0M1253 1167h0M1225 1201.5h0M1216.5 1196h0M1254.5 1178h0M1224 1195.5h0M1292 1129h0M1225 1203h0M1237 1084.5h0M1103.5 1146.5h0M1180.5 1159.5h0M1222.5 1198h0M1251.5 1183.5h0M1167.5 1114h0M1234 1145.5h0M1231 1180.5h0M1242.5 1165.5h0M1218 1177.5h0M1217.5 1160h0M1191.5 1132.5h0M1218 1188h0M1211.5 1181h0M1207 1179h0M1260 1123h0M1229 1176h0M1255 1155.5h0M1271 1164.5h0M1221.5 1187.5h0M1181.5 1177h0M1220 1189.5h0M1256 1188.5h0M1238.5 1157.5h0M1227.5 1201h0M1217.5 1200h0M1207 1183h0M1223.5 1192.5h0M1238 1189.5h0M1190 1185.5h0M1211.5 1119.5h0M1237.5 1169h0M1178 1145.5h0M1200 1135h0M1226.5 1201.5h0M1170.5 1156h0M1236 1157.5h0M1233.5 1196h0M1238 1144.5h0M1251 1168h0M1221 1173h0M1256.5 1161h0M1201 1151h0M1221.5 1180.5h0M1206.5 1146h0M1231 1194.5h0M1229 1174.5h0M1203 1128h0M1231 1186h0M1198.5 1180.5h0M1206.5 1158h0M1182.5 1160h0M1312.5 1134.5h0M1249.5 1182h0M1330.5 1145.5h0M1263 1169h0M1196.5 1165.5h0M1203.5 1147.5h0M1211.5 1165.5h0M1154 1108h0M1224 1189.5h0M1240.5 1164h0M1150 1113h0M1279 1130.5h0M1188 1136h0M1214.5 1179.5h0M1213.5 1172h0M1217.5 1181.5h0M1191.5 1111h0M1193 1107.5h0M1213 1186.5h0M1217.5 1184.5h0M1202 1119.5h0M1186.5 1178.5h0M1217 1138h0M1217.5 1195h0M1222.5 1185h0M1184.5 1152h0M1256.5 1174h0M1280.5 1165.5h0M1163 1123.5h0M1287 1169.5h0M1218.5 1141.5h0M1223 1201.5h0M1144.5 1147.5h0M1229 1200.5h0M1178 1124.5h0M1230 1195.5h0M1244.5 1164.5h0M1251 1185h0M1232 1177.5h0M1270.5 1141.5h0M1244.5 1191.5h0M1270 1154h0M1239.5 1165h0M1176.5 1125.5h0M1153 1126h0M1275.5 1143h0M1229 1199.5h0M1190.5 1132h0M1198 1140h0M1261.5 1179h0M1258.5 1190h0M1208.5 1162.5h0M1270.5 1147.5h0M1228 1199.5h0M1258.5 1148.5h0M1208 1109.5h0M1233.5 1192.5h0M1240 1191h0M1240 1145.5h0M1168 1156h0M1178 1124h0M1116.5 1128h0M1245 1166h0M1328 1120h0M1156 1161h0M1223 1169.5h0M1216 1165h0M1150 1171h0M1205.5 1180h0M1229 1191h0M1234.5 1191h0M1254 1161.5h0M1217.5 1185h0M1254.5 1133h0M1261 1156h0M1250.5 1171h0M1219.5 1183.5h0M1250 1164h0M1214.5 1180h0M1199 1154h0M1160.5 1108h0M1206 1108.5h0M1233 1194h0M1219.5 1142h0M1258.5 1114.5h0M1219.5 1138.5h0M1300 1124.5h0M1196.5 1182h0M1252 1116.5h0M1256 1172h0M1240 1194h0M1237 1148.5h0M1206.5 1191h0M1204 1108.5h0M1232 1189h0M1240.5 1170.5h0M1244.5 1155h0M1203.5 1179h0M1203.5 1182.5h0M1286 1121.5h0M1223 1174h0M1171.5 1167.5h0M1203 1174.5h0M1247.5 1168h0M1235.5 1135h0M1238 1191.5h0M1194 1157.5h0M1239.5 1191h0M1274 1172.5h0M1265 1152.5h0M1188 1161.5h0M1222.5 1192.5h0M1166 1106.5h0M1145 1110h0M1240 1178.5h0M1249 1177h0M1294.5 1145.5h0M1189.5 1104h0M1213.5 1106.5h0M1237.5 1173.5h0M1226 1202.5h0M1290 1160.5h0M1193 1146h0M1247.5 1156h0M1208 1195h0M1214.5 1186.5h0M1207 1117h0M1213.5 1180h0M1261 1109.5h0M1130.5 1140.5h0M1200 1146h0M1205.5 1187.5h0M1172 1123.5h0M1217.5 1147.5h0M1184.5 1165.5h0M1200 1182h0M1244.5 1174.5h0M1158 1134.5h0M1241.5 1160.5h0M1194.5 1153h0M1242 1111h0M1284.5 1124h0M1198 1147.5h0M1247.5 1184.5h0M1266.5 1113h0M1227 1202h0M1222 1157h0M1206 1150h0M1218.5 1184.5h0M1219.5 1188h0M1262.5 1157.5h0M1309.5 1132.5h0M1208.5 1172h0M1217 1117h0M1226 1201.5h0M1230.5 1178h0M1211.5 1184.5h0M1174.5 1103.5h0M1214.5 1170h0M1190.5 1171.5h0M1269.5 1128.5h0M1226.5 1196.5h0M1327.5 1135h0M1222 1164h0M1199 1143.5h0M1233.5 1175h0M1161 1166h0M1093.5 1122.5h0M1235.5 1170h0M1271.5 1163h0M1237 1078h0M1293 1137h0M1194.5 1172.5h0M1283 1151.5h0M1344.5 1130.5h0M1238 1170h0M1221.5 1174h0M1255 1160.5h0M1192 1171h0M1212 1159.5h0M1206.5 1123.5h0M1228 1194h0M1201 1182.5h0M1229.5 1164.5h0M1224.5 1202h0M1251.5 1183.5h0M1261 1148.5h0M1253.5 1160.5h0M1327 1150.5h0M1243 1146.5h0M1177 1132h0M1196 1183.5h0M1151.5 1154.5h0M1250 1176.5h0M1213 1181h0M1253.5 1174h0M1167.5 1123.5h0M1353 1134.5h0M1156.5 1158.5h0M1210 1175.5h0M1210 1149.5h0M1230.5 1188h0M1240.5 1163.5h0M1226.5 1196h0M1223 1198.5h0M1171.5 1159h0M1140.5 1137.5h0M1245 1189h0M1266 1107.5h0M1277.5 1106h0M1222 1169.5h0M1208.5 1107h0M1219 1192h0M1175 1109.5h0M1250.5 1169h0M1206 1147.5h0M1217.5 1184.5h0M1233 1168h0M1254.5 1157h0M1170 1170h0M1127 1129h0M1251.5 1160h0M1156.5 1124h0M1259.5 1185h0M1223.5 1196h0M1252 1159.5h0M1185 1173.5h0M1151 1104.5h0M1214.5 1192h0M1231.5 1145h0M1261 1181h0M1259.5 1146.5h0M1179.5 1146.5h0M1261.5 1147h0M1273.5 1148h0M1233.5 1148h0M1296 1111h0M1148 1135.5h0M1207.5 1134h0M1193.5 1174.5h0M1271.5 1116.5h0M1197.5 1116h0M1219 1191h0M1320 1119h0M1187.5 1133.5h0M1233.5 1184.5h0M1212.5 1199.5h0M1265.5 1112h0M1233 1191.5h0M1194.5 1167h0M1233 1144h0M1196.5 1191h0M1236.5 1183h0M1269.5 1170.5h0M1290.5 1145h0M1227.5 1188h0M1246 1156.5h0M1201.5 1161.5h0M1226 1202.5h0M1279.5 1105.5h0M1219.5 1159h0M1229.5 1194h0M1260.5 1112.5h0M1281.5 1148h0M1277 1114.5h0M1205.5 1132.5h0M1237.5 1179.5h0M1215.5 1192.5h0M1229 1170.5h0M1221.5 1162.5h0M1322.5 1129h0M1190 1152.5h0M1241.5 1117.5h0M1201.5 1142.5h0M1245.5 1185.5h0M1231.5 1190h0M1181 1148.5h0M1241.5 1194h0M1215.5 1133.5h0M1133 1156h0M1237.5 1175h0M1341 1135.5h0M1216 1195.5h0M1197 1123.5h0M1194 1112.5h0M1260 1173h0M1219.5 1193.5h0M1280 1181.5h0M1209 1189h0M1233.5 1147.5h0M1267.5 1132.5h0M1260 1127.5h0M1227 1200h0M1234.5 1132h0M1207 1164.5h0M1185 1115h0M1239.5 1189.5h0M1191.5 1143h0M1227.5 1181h0M1253 1143.5h0M1211.5 1159h0M1260 1183h0M1217 1183.5h0M1242.5 1152.5h0M1322 1155h0M1229.5 1174h0M1149.5 1149.5h0M1184 1158.5h0M1151 1129h0M1223 1193.5h0M1233.5 1193.5h0M1227.5 1194h0M1182 1152h0M1216 1196.5h0M1263 1131.5h0M1230.5 1142h0M1274.5 1117h0M1182.5 1147h0M1186.5 1131.5h0M1139.5 1125h0M1148 1108h0M1272 1156.5h0M1213.5 1171.5h0M1203 1156.5h0M1214.5 1179.5h0M1258 1141.5h0M1205 1127.5h0M1226.5 1195.5h0M1198 1166h0M1214.5 1148h0M1209.5 1167h0M1270 1106h0M1245.5 1165.5h0M1167 1178h0M1234 1194.5h0M1276.5 1142.5h0M1234 1189.5h0M1258.5 1165h0M1213.5 1189.5h0M1092 1140h0M1255.5 1150.5h0M1231 1179h0M1243 1190h0M1252.5 1154.5h0M1256.5 1165.5h0M1232 1191.5h0M1257 1165.5h0M1229 1202h0M1208.5 1162.5h0M1232 1176h0M1232 1186h0M1220.5 1172h0M1215 1193h0M1231.5 1185h0M1267 1165h0M1269 1163.5h0M1238.5 1183h0M1175 1185h0M1222 1175.5h0M1157 1121.5h0M1240.5 1166.5h0M1230.5 1191h0M1228.5 1199h0M1147.5 1102h0M1218 1176.5h0M1189.5 1127.5h0M1164 1154.5h0M1200 1160h0M1177 1169h0M1267 1162.5h0M1225 1198.5h0M1236.5 1182.5h0M1191 1161.5h0M1226.5 1197h0M1224 1197.5h0M1186 1178h0M1213.5 1174h0M1228.5 1200h0M1243.5 1186.5h0M1229 1173.5h0M1210.5 1137.5h0M1198 1188h0M1215.5 1160.5h0M1235.5 1144h0M1213 1176h0M1247 1170.5h0M1229 1193h0M1252 1155h0M1133.5 1125.5h0M1202 1181h0M1205.5 1161.5h0M1214.5 1198.5h0M1124 1131h0M1266.5 1132h0M1180 1156.5h0M1227 1197h0M1217.5 1194h0M1318.5 1123h0M1204.5 1185h0M1224.5 1202.5h0M1265.5 1148.5h0M1187 1175.5h0M1206.5 1144h0M1179.5 1175h0M1214.5 1196h0M1284 1159h0M1212 1184h0M1175 1156h0M1208.5 1141h0M1210 1174.5h0M1110 1142.5h0M1242.5 1190.5h0M1222.5 1192h0M1209 1144h0M1237 1189h0M1245.5 1184.5h0M1226.5 1202.5h0M1182.5 1163.5h0M1213.5 1138h0M1218 1199h0M1229.5 1183.5h0M1218 1193.5h0M1322.5 1129.5h0M1272.5 1147.5h0M1239 1189h0M1237 1190.5h0M1220 1184.5h0M1227.5 1202h0M1227 1198h0M1228.5 1195.5h0M1183 1142.5h0M1326 1118.5h0M1215.5 1193h0M1145.5 1119h0M1228 1197.5h0M1127 1110.5h0M1188.5 1145.5h0M1296 1161h0M1200.5 1169.5h0M1178 1146.5h0M1256 1181h0M1215.5 1182h0M1210 1162.5h0M1212 1168.5h0M1243.5 1142h0M1238 1179h0M1231 1143h0M1254.5 1120h0M1247.5 1157h0M1153 1158.5h0M1224.5 1202.5h0M1269 1113.5h0M1241 1182.5h0M1262 1162.5h0M1155 1127.5h0M1226 1203h0M1263 1128h0M1230 1195h0M1212 1135.5h0M1196.5 1157h0M1242 1162.5h0M1237 1190h0M1171.5 1168h0M1227.5 1190.5h0M1226 1203h0M1274.5 1106.5h0M1190.5 1154h0M1253 1103.5h0M1237 1187.5h0M1239.5 1164.5h0M1229 1163.5h0M1227.5 1199.5h0M1217 1179.5h0M1227.5 1195.5h0M1197 1171h0M1232.5 1143h0M1208 1171.5h0M1266.5 1162.5h0M1258 1119.5h0M1197.5 1185.5h0M1223.5 1201.5h0M1222 1174.5h0M1241 1187.5h0M1258.5 1159.5h0M1200 1148.5h0M1279.5 1145h0M1244 1161h0M1193.5 1180h0M1223.5 1199h0M1206.5 1147h0M1197 1184.5h0M1256.5 1174h0M1216.5 1101.5h0M1192 1152h0M1114 1133h0M1212.5 1187h0M1200.5 1111h0M1211.5 1195h0M1101 1112.5h0M1109.5 1145h0M1151.5 1131h0M1271 1128.5h0M1199.5 1138h0M1188 1183h0M1211.5 1172h0M1194.5 1178h0M1232 1193.5h0M1235.5 1192h0M1221 1185.5h0M1234 1197h0M1212.5 1158.5h0M1248.5 1181h0M1142 1144.5h0M1216 1086.5h0M1203 1186h0M1219 1186h0M1212 1188.5h0M1218.5 1133.5h0M1255.5 1168.5h0M1236.5 1175.5h0M1249 1143.5h0M1179.5 1184.5h0M1221.5 1183h0M1241 1191h0M1239.5 1168.5h0M1187 1134h0M1153.5 1105.5h0M1222 1186.5h0M1216.5 1186h0M1193 1155.5h0M1114.5 1138.5h0M1243.5 1184.5h0M1228 1185h0M1243.5 1157h0M1208.5 1150h0M1257.5 1152h0M1235.5 1175.5h0M1185 1169.5h0M1217 1185.5h0M1203 1165h0M1214.5 1151h0M1181.5 1102.5h0M1226 1202.5h0M1225.5 1203h0M1229.5 1199.5h0M1286.5 1151.5h0M1235 1180h0M1165 1127.5h0M1185 1107h0M1170 1145h0M1209.5 1185h0M1217.5 1118h0M1242 1187.5h0M1181.5 1107.5h0M1214 1149.5h0M1282.5 1149.5h0M1244.5 1178.5h0M1227 1201h0M1230 1198.5h0M1226.5 1199.5h0M1233.5 1153.5h0M1349.5 1120.5h0M1187.5 1141h0M1247 1191.5h0M1215 1185h0M1259 1175.5h0M1213.5 1127.5h0M1255.5 1122.5h0M1255.5 1140.5h0M1218 1128h0M1336.5 1115h0M1249.5 1161h0M1237.5 1175h0M1207.5 1150.5h0M1229 1158.5h0M1249 1134h0M1205.5 1168h0M1247 1153h0M1273 1159.5h0M1287 1120.5h0M1212 1191.5h0M1338.5 1104.5h0M1259 1161h0M1232.5 1188.5h0M1193.5 1146h0M1218.5 1186.5h0M1207 1174.5h0M1203.5 1143h0M1225 1201.5h0M1236.5 1194h0M1153.5 1123h0M1215 1157.5h0M1237 1195h0M1201.5 1189h0M1238.5 1171h0M1219.5 1181.5h0M1224.5 1202.5h0M1217 1185h0M1230.5 1140h0M1216 1133.5h0M1226 1200h0M1207.5 1195h0M1265 1115h0M1231.5 1136.5h0M1253.5 1107.5h0M1233.5 1185h0M1250 1166h0M1185.5 1161h0M1246.5 1157h0M1228 1199.5h0M1254 1156h0M1249 1133h0M1221.5 1157h0M1249.5 1180.5h0M1211.5 1174.5h0M1217 1187.5h0M1214.5 1197h0M1176 1116h0M1161.5 1156.5h0M1337.5 1124.5h0M1264.5 1157.5h0M1257 1167h0M1217 1165.5h0M1209.5 1157h0M1215 1191h0M1261.5 1164.5h0M1221.5 1199h0M1134 1112h0M1143 1106h0M1220.5 1183h0M1208.5 1190.5h0M1229.5 1193h0M1136 1105h0M1248.5 1162h0M1216 1162.5h0M1325.5 1125h0M1188 1169.5h0M1206 1156.5h0M1218 1119h0M1212.5 1156h0M1187.5 1168.5h0M1234.5 1196h0M1320.5 1126h0M1258.5 1140.5h0M1198 1163.5h0M1214.5 1174h0M1221 1197.5h0M1205 1169h0M1129 1141h0M1226.5 1200h0M1237.5 1163.5h0M1219.5 1186.5h0M1180 1125h0M1250.5 1114.5h0M1239 1154.5h0M1121 1119h0M1179 1164.5h0M1189.5 1187h0M1275 1160h0M1196 1190.5h0M1214 1190h0M1249 1171.5h0M1247 1158h0M1228 1202h0M1218 1183.5h0M1167.5 1174h0M1251.5 1187h0M1153.5 1132.5h0M1191.5 1152.5h0M1184 1112.5h0M1227.5 1184h0M1200 1186.5h0M1249.5 1103.5h0M1257 1148h0M1230.5 1174h0M1198.5 1179.5h0M1246 1147.5h0M1202 1182.5h0M1262 1161.5h0M1206.5 1152h0M1238.5 1071.5h0M1221 1200h0M1189.5 1167.5h0M1219.5 1161.5h0M1218.5 1186h0M1194 1146.5h0M1174.5 1159.5h0M1235 1189h0M1237 1189h0M1242 1185.5h0M1251 1160h0M1272.5 1150.5h0M1204 1179.5h0M1250 1155.5h0M1183.5 1136h0M1305 1110.5h0M1236 1085.5h0M1232 1158h0M1306 1138h0M1175.5 1104.5h0M1221.5 1184h0M1210 1174h0M1208 1115.5h0M1183.5 1106.5h0M1265 1159.5h0M1223 1178.5h0M1130.5 1140.5h0M1184.5 1122h0M1237.5 1136h0M1236 1159h0M1261 1157h0M1282.5 1112.5h0M1140 1103h0M1255 1184.5h0M1185 1184.5h0M1164 1135h0M1230 1146.5h0M1233.5 1138.5h0M1256.5 1162h0M1218 1174h0M1240.5 1193.5h0M1235.5 1165h0M1222.5 1176h0M1199 1174.5h0M1263.5 1116.5h0M1210 1172.5h0M1189.5 1125.5h0M1214.5 1194.5h0M1190 1118h0M1242.5 1186.5h0M1251.5 1171.5h0M1252 1162.5h0M1214.5 1183h0M1208.5 1185h0M1204.5 1191.5h0M1276.5 1119.5h0M1241 1153h0M1238 1145.5h0M1198.5 1170h0M1246.5 1184h0M1229 1186h0M1254 1146.5h0M1309 1142h0M1220 1136.5h0M1219 1167.5h0M1157 1140h0M1316.5 1116.5h0M1271 1139.5h0M1359.5 1103.5h0M1198 1175.5h0M1224.5 1192h0M1240 1117.5h0M1234 1198.5h0M1251.5 1167h0M1227.5 1198.5h0M1237 1182.5h0M1265.5 1177.5h0M1258.5 1158h0M1214 1164h0M1313 1116h0M1159 1138.5h0M1257 1109.5h0M1219.5 1193h0M1257.5 1185h0M1218.5 1180.5h0M1229.5 1189.5h0M1377.5 1111.5h0M1232.5 1154.5h0M1209 1186h0M1283.5 1140h0M1230 1174h0M1206.5 1156.5h0M1252.5 1176.5h0M1228.5 1190.5h0M1228.5 1197h0M1188.5 1188h0M1231.5 1172.5h0M1192.5 1172h0M1258.5 1141h0M1261 1175h0M1245 1176.5h0M1204.5 1176h0M1248 1174.5h0M1174 1150.5h0M1239 1176h0M1248 1177h0M1229 1163.5h0M1233.5 1124h0M1250.5 1178.5h0M1239 1126.5h0M1193.5 1174h0M1219.5 1181h0M1300 1110h0M1204.5 1129.5h0M1222 1191h0M1139 1125.5h0M1205.5 1187.5h0M1269.5 1170.5h0M1233 1171h0M1232 1159h0M1239.5 1160h0M1206 1135h0M1180 1131.5h0M1220.5 1198.5h0M1272.5 1120.5h0M1253.5 1159h0M1219 1185.5h0M1139.5 1140.5h0M1283 1152h0M1210.5 1164.5h0M1229 1201h0M1286 1131h0M1276.5 1118h0M1116 1146h0M1216 1177.5h0M1218 1159.5h0M1283.5 1145.5h0M1182 1156h0M1210.5 1165h0M1171 1130h0M1280 1103.5h0M1191 1132h0M1126.5 1125.5h0M1185 1151h0M1257.5 1163h0M1258 1146h0M1237.5 1185h0M1253.5 1177.5h0M1222 1196.5h0M1177 1162.5h0M1230 1200.5h0M1140 1125.5h0M1251 1176.5h0M1232 1195h0M1309.5 1121h0M1265.5 1135h0M1236.5 1176h0M1215 1195h0M1221.5 1192h0M1232.5 1143h0M1228.5 1196.5h0M1320 1153h0M1266.5 1105.5h0M1259 1164h0M1275 1131.5h0M1222.5 1194.5h0M1189.5 1178h0M1238 1191.5h0M1289 1156h0M1135.5 1115h0M1217 1104h0M1251 1164h0M1218 1185.5h0M1167.5 1176h0M1218 1136.5h0M1234 1194h0M1225 1199.5h0M1217 1173.5h0M1246 1195.5h0M1237 1158.5h0M1238 1115.5h0M1224 1202h0M1233 1190.5h0M1201.5 1145.5h0M1194.5 1155h0M1279 1145.5h0M1187.5 1175.5h0M1260 1147.5h0M1238.5 1173h0M1281 1137.5h0M1247 1150h0M1215 1151.5h0M1233 1157h0M1249.5 1141.5h0M1241 1137.5h0M1381.5 1107h0M1234.5 1192.5h0M1307.5 1142h0M1160 1119.5h0M1243.5 1185.5h0M1197.5 1165.5h0M1156 1165.5h0M1146.5 1146h0M1318.5 1124.5h0M1257 1148.5h0M1219 1196.5h0M1270 1163.5h0M1230.5 1152.5h0M1241.5 1172h0M1256.5 1163.5h0M1229.5 1201h0M1256 1187.5h0M1215 1183h0M1197 1176h0M1217.5 1194h0M1201 1170.5h0M1271 1158.5h0M1217.5 1129h0M1237 1183h0M1308 1138.5h0M1237 1172h0M1223 1188.5h0M1205.5 1142h0M1222 1160.5h0M1263.5 1116h0M1236 1162h0M1247.5 1169h0M1232.5 1194.5h0M1212 1169.5h0M1226.5 1195h0M1238 1156h0M1217.5 1185.5h0M1156.5 1109h0M1215 1164.5h0M1227.5 1195h0M1205.5 1160h0M1243.5 1151.5h0M1234.5 1165.5h0M1206.5 1193h0M1241.5 1176h0M1309.5 1166.5h0M1210.5 1131h0M1245 1189h0M1227 1203h0M1233.5 1198.5h0M1209.5 1184.5h0M1214 1091.5h0M1271 1166h0M1194.5 1181.5h0M1188.5 1165h0M1215 1188h0M1173 1151.5h0M1204.5 1186h0M1264 1147h0M1273 1126.5h0M1267.5 1121.5h0M1224.5 1197h0M1227.5 1186.5h0M1220 1146h0M1217.5 1173.5h0M1261.5 1175h0M1188 1177.5h0M1220 1192.5h0M1231 1146.5h0M1211.5 1143h0M1192 1178h0M1310.5 1151.5h0M1300.5 1105.5h0M1139 1142h0M1224.5 1201h0M1201.5 1160h0M1189 1113h0M1219.5 1192.5h0M1200 1164.5h0M1286.5 1155h0M1231.5 1186h0M1238 1100h0M1232.5 1198.5h0M1228.5 1197h0M1233 1197h0M1353.5 1133h0M1254.5 1136.5h0M1248 1184.5h0M1212.5 1192h0M1201.5 1150.5h0M1274.5 1135.5h0M1266 1178h0M1234.5 1195.5h0M1169 1158.5h0M1222.5 1170.5h0M1259 1179h0M1236.5 1187h0M1219.5 1199.5h0M1174 1160.5h0M1216.5 1196h0M1249 1132h0M1212 1197.5h0M1217.5 1193h0M1241.5 1143.5h0M1222.5 1179h0M1129 1137.5h0M1245 1189.5h0M1263 1137.5h0M1236 1155h0M1325.5 1137.5h0M1236 1147h0M1263.5 1138.5h0M1212.5 1136h0M1206 1117.5h0M1239 1181.5h0M1238 1087.5h0M1177.5 1133h0M1283 1119h0M1237.5 1174.5h0M1263.5 1137h0M1244.5 1185h0M1205.5 1174.5h0M1176.5 1157h0M1230.5 1134.5h0M1230.5 1200h0M1216 1165h0M1224.5 1200.5h0M1214 1187h0M1212 1190h0M1239.5 1130.5h0M1280 1107h0M1308 1149h0M1237.5 1152.5h0M1291.5 1149.5h0M1213.5 1197h0M1206 1150h0M1314 1151h0M1261.5 1138h0M1310 1128h0M1178.5 1142h0M1233 1144h0M1198 1154h0M1178.5 1145.5h0M1188 1145.5h0M1203 1185h0M1240 1106h0M1246 1172.5h0M1241.5 1153h0M1303.5 1171.5h0M1215.5 1100h0M1229 1186.5h0M1219.5 1146h0M1241 1176.5h0M1220.5 1171h0M1171.5 1157.5h0M1188 1128h0M1247 1190.5h0M1270 1107.5h0M1238 1192.5h0M1241 1190.5h0M1178.5 1167h0M1195 1154.5h0M1222.5 1195h0M1247 1121.5h0M1188 1176.5h0M1234 1175h0M1286 1103.5h0M1275 1160h0M1118.5 1138h0M1267.5 1183.5h0M1201 1115.5h0M1272.5 1176.5h0M1224 1191.5h0M1207 1177.5h0M1303.5 1111h0M1198.5 1180.5h0M1242 1114h0M1220.5 1195h0M1203.5 1155.5h0M1208 1140h0M1219 1164h0M1128.5 1121h0M1222.5 1200h0M1262.5 1169.5h0M1195.5 1179h0M1236.5 1190h0M1253 1170.5h0M1194.5 1170h0M1267 1159.5h0M1243 1142h0M1219.5 1190.5h0M1154 1158.5h0M1242.5 1128.5h0M1225 1198.5h0M1219 1167h0M1295.5 1124.5h0M1131 1141h0M1191 1170.5h0M1190 1162.5h0M1193.5 1153h0M1290.5 1152h0M1205.5 1185.5h0M1223.5 1199.5h0M1216.5 1192h0M1255.5 1116h0M1206 1162h0M1238 1195.5h0M1217 1186h0M1257.5 1169.5h0M1233 1165h0M1227 1185.5h0M1262 1178h0M1168.5 1152.5h0M1271 1116h0M1355.5 1118.5h0M1199 1193h0M1211 1191h0M1191.5 1123.5h0M1203.5 1165.5h0M1172 1123h0M1234 1187h0M1324 1145h0M1100 1135.5h0M1327.5 1112.5h0M1265.5 1158.5h0M1206.5 1165.5h0M1205 1163.5h0M1179.5 1107.5h0M1175.5 1151h0M1254.5 1160h0M1204 1164h0M1177 1129.5h0M1258.5 1127h0M1194 1184h0M1224 1202h0M1239 1169.5h0M1229.5 1172h0M1171.5 1106.5h0M1168 1102.5h0M1206.5 1154.5h0M1199 1189h0M1218.5 1169h0M1207.5 1128.5h0M1263.5 1137h0M1213 1157h0M1244.5 1160h0M1216 1168h0M1228.5 1176h0M1260 1177h0M1218 1186.5h0M1180.5 1154h0M1217 1184h0M1209 1167h0M1215 1195h0M1263 1184h0M1227.5 1199h0M1238 1181h0M1224.5 1196h0M1236 1196h0M1236.5 1116h0M1233 1195.5h0M1164 1116h0M1237 1179.5h0M1233.5 1124h0M1213 1193.5h0M1196 1115.5h0M1209 1132.5h0M1214 1177.5h0M1207 1115.5h0M1169.5 1160.5h0M1269.5 1159.5h0M1193 1158.5h0M1196.5 1151.5h0M1199.5 1182h0M1275.5 1140h0M1228 1197h0M1222.5 1186h0M1195 1153.5h0M1217.5 1183.5h0M1231.5 1182.5h0M1218 1182.5h0M1241 1177.5h0M1254 1135.5h0M1211 1161.5h0M1282 1152.5h0M1233.5 1186.5h0M1286 1152h0M1294 1143.5h0M1263 1162h0M1215 1182.5h0M1220 1197.5h0M1242.5 1168.5h0M1205.5 1130.5h0M1213 1195.5h0M1217 1112h0M1200 1187.5h0M1228 1185.5h0M1346 1116.5h0M1356.5 1111.5h0M1225 1198.5h0M1199.5 1154.5h0M1181.5 1112h0M1228 1195.5h0M1138 1107.5h0M1228 1195.5h0M1180.5 1140h0M1210 1197h0M1229 1199h0M1258.5 1129.5h0M1221.5 1197.5h0M1220 1194.5h0M1245 1151.5h0M1235.5 1140.5h0M1112.5 1149h0M1219 1197h0M1211.5 1188.5h0M1336 1119.5h0M1273 1124.5h0M1232.5 1142h0M1162.5 1158.5h0M1197 1184.5h0M1195.5 1148h0M1202.5 1171h0M1197.5 1178.5h0M1224.5 1197h0M1209 1163.5h0M1222.5 1188h0M1323 1108.5h0M1248 1188.5h0M1198.5 1182h0M1279.5 1120h0M1266.5 1146.5h0M1228 1179h0M1240.5 1183.5h0M1214 1185h0M1228.5 1195h0M1238.5 1181h0M1254.5 1149h0M1224.5 1197h0M1260 1142.5h0M1231 1196.5h0M1220 1150h0M1264 1111.5h0M1224.5 1190.5h0M1169 1124.5h0M1289.5 1165.5h0M1252 1179h0M1227 1192h0M1172.5 1176h0M1242.5 1155h0M1217 1186.5h0M1246.5 1193h0M1200 1177h0M1310 1134.5h0M1230 1188.5h0M1303 1144.5h0M1293 1168h0M1215 1199.5h0M1215.5 1170.5h0M1205 1169.5h0M1177.5 1122h0M1220.5 1196.5h0M1218.5 1200h0M1160.5 1163h0M1185.5 1116.5h0M1286.5 1129h0M1230 1148h0M1216.5 1185h0M1195 1114.5h0M1206.5 1107.5h0M1185.5 1164h0M1226.5 1202.5h0M1258 1179.5h0M1235 1139.5h0M1232.5 1169h0M1258 1159h0M1252 1165.5h0M1222 1188h0M1256 1174.5h0M1186 1132h0M1243 1181.5h0M1225 1198.5h0M1226.5 1197h0M1250.5 1176h0M1292 1125h0M1206 1171h0M1165 1120h0M1232.5 1187h0M1211.5 1187h0M1211.5 1155h0M1186.5 1179h0M1205 1130h0M1273 1127h0M1220.5 1133h0M1127 1113.5h0M1259 1179.5h0M1224 1199.5h0M1245 1148h0M1204.5 1156h0M1206 1175h0M1286 1124h0M1218 1163h0M1271.5 1152h0M1211 1149h0M1275 1132h0M1286.5 1134h0M1231 1135.5h0M1221.5 1195h0M1256 1141.5h0M1197 1132h0M1313.5 1136h0M1181.5 1103.5h0M1240 1136h0M1239.5 1130.5h0M1180.5 1135h0M1262 1184.5h0M1235.5 1192h0M1266 1172h0M1184 1115.5h0M1218 1193.5h0M1202 1126.5h0M1220 1188.5h0M1223.5 1196.5h0M1219.5 1186.5h0M1209.5 1196.5h0M1169.5 1160.5h0M1228.5 1189.5h0M1236 1132.5h0M1216.5 1193.5h0M1236.5 1147h0M1220 1188.5h0M1200.5 1150.5h0M1216 1167h0M1217.5 1187h0M1221 1183h0M1259.5 1191h0M1236 1197.5h0M1211 1169h0M1224.5 1202h0M1249.5 1185h0M1257 1166.5h0M1169.5 1134.5h0M1160.5 1135h0M1242.5 1172h0M1180 1147.5h0M1295.5 1168.5h0M1207 1162h0M1173.5 1135.5h0M1233.5 1188.5h0M1227.5 1190h0M1187.5 1178h0M1222 1159.5h0M1229.5 1177h0M1232.5 1192h0M1163 1122.5h0M1167.5 1111.5h0M1187.5 1173h0M1243.5 1180h0M1235.5 1166.5h0M1218.5 1168h0M1227.5 1201.5h0M1177 1157h0M1238 1171h0M1154.5 1142h0M1232.5 1181.5h0M1233.5 1190.5h0M1273.5 1127.5h0M1227.5 1187.5h0M1245 1188h0M1266 1154h0M1212 1154.5h0M1249 1138h0M1149.5 1128h0M1239 1129.5h0M1204.5 1188.5h0M1207 1161.5h0M1185 1136h0M1236 1192.5h0M1246.5 1150h0M1169.5 1157h0M1198.5 1151h0M1239 1148.5h0M1227.5 1185.5h0M1215 1186.5h0M1229.5 1200h0M1233.5 1126h0M1214.5 1094.5h0M1279 1166h0M1217 1177.5h0M1218.5 1175.5h0M1172.5 1108.5h0M1255 1147.5h0M1172.5 1159h0M1254.5 1146.5h0M1221.5 1187.5h0M1261 1177.5h0M1301.5 1140h0M1213.5 1172h0M1256.5 1162.5h0M1227.5 1194h0M1240.5 1154.5h0M1200 1158.5h0M1218 1138.5h0M1236.5 1151h0M1217 1174.5h0M1173.5 1153.5h0M1214.5 1187h0M1246.5 1128h0M1211 1178.5h0M1234.5 1187.5h0M1213.5 1182.5h0M1272 1121.5h0M1219 1194h0M1280 1128h0M1228 1197h0M1246 1166h0M1140.5 1105h0M1176 1130.5h0M1224.5 1200h0M1308 1121.5h0M1222.5 1193h0M1249 1156h0M1248 1170h0M1213 1186.5h0M1223.5 1198h0M1226.5 1197.5h0M1214 1182.5h0M1208.5 1165h0M1229 1200.5h0M1190.5 1155h0M1194 1166h0M1224 1195.5h0M1202 1177.5h0M1233 1193h0M1245.5 1144.5h0M1253.5 1173h0M1209.5 1128.5h0M1233 1155h0M1205.5 1151.5h0M1146.5 1126h0M1209 1147.5h0M1270 1186h0M1271 1156.5h0M1247 1171h0M1222 1193.5h0M1297.5 1106.5h0M1175.5 1159h0M1209 1180h0M1214.5 1184.5h0M1213 1190.5h0M1299 1114.5h0M1273 1140.5h0M1231.5 1195h0M1197.5 1149h0M1154.5 1150.5h0M1204 1186h0M1209.5 1155h0M1214.5 1149.5h0M1249.5 1130.5h0M1230.5 1151.5h0M1251 1122.5h0M1202.5 1150h0M1219.5 1194.5h0M1336.5 1150.5h0M1124.5 1115h0M1423 1109h0M1096 1139.5h0M1050 1153h0M1110 1140h0M1395.5 1151.5h0M1103.5 1170h0M1378.5 1110h0M1021 1152.5h0M1363 1134h0M1087 1127h0M1027.5 1137.5h0M1373.5 1125.5h0M1068 1152.5h0M1081 1109.5h0M1375 1158h0M1375 1167h0M1100.5 1166h0M1095.5 1118h0M1084.5 1126h0M1495.5 1120.5h0M1325.5 1106h0M1393 1151h0M1335.5 1161.5h0M1370.5 1157h0M1333.5 1124h0M1398.5 1142h0M1086 1140.5h0M1039.5 1139.5h0M1049.5 1141h0M1378 1164.5h0M1062.5 1145h0M1418.5 1156.5h0M1382.5 1148h0M1090 1107.5h0M1084.5 1166h0M1058 1146.5h0M1351.5 1145.5h0M1045 1138h0M1404 1142.5h0M1380 1161h0M1365.5 1117.5h0M1107.5 1169.5h0M1043 1123h0M1357.5 1164.5h0M1072.5 1139h0M1355 1116.5h0M1082.5 1125.5h0M1371 1133.5h0M1067 1140.5h0M1395 1113.5h0M1370.5 1147h0M1078 1117h0M1113 1137.5h0M1076 1157h0M1401.5 1118.5h0M1095 1128h0M1109 1163h0M1082.5 1136h0M1399 1120h0M1070.5 1151h0M1430.5 1152h0M1405 1106h0M1070 1159.5h0M1433 1129h0M1423.5 1135h0M1077.5 1156.5h0M1352.5 1135h0M1037 1153h0M1072 1160.5h0M1369.5 1156h0M1080 1167h0M1038 1130h0M1332.5 1154h0M1405 1147.5h0M1354.5 1165.5h0M1325 1125.5h0M1371.5 1165.5h0M1065 1133h0M1039 1116h0M1066 1141h0M1441 1144h0M1111 1174h0M1124 1138h0M1104.5 1129.5h0M1024.5 1129.5h0M1061 1142h0M1330.5 1157h0M1097.5 1171h0M1097 1158.5h0M1324.5 1126.5h0M1372 1112.5h0M1416.5 1136h0M1079.5 1151.5h0M1080 1134.5h0M1382 1127h0M1374.5 1144.5h0M1028.5 1129h0M1333 1152.5h0M1114 1116h0M1083 1127h0M1090 1117.5h0M1110 1119h0M1396 1155.5h0M1351.5 1112h0M1062.5 1129.5h0M1385 1143h0M1376.5 1162.5h0M1324.5 1168h0M1075 1143h0M1118 1121h0M1101 1104.5h0M1350 1139.5h0M1326.5 1106.5h0M1021 1147h0M1059.5 1107h0M1096.5 1140h0M1096.5 1160.5h0M1375 1159h0M1029 1120.5h0M1334.5 1105.5h0M1391 1144.5h0M1329.5 1148.5h0M1408.5 1105h0M1092.5 1108h0M1068.5 1139.5h0M1072.5 1144h0M1363.5 1124h0M1434.5 1120h0M1108.5 1129h0M1049 1151.5h0M1399 1112h0M1442 1108h0M1389.5 1161h0M1040 1134.5h0M1438.5 1138h0M1363.5 1110h0M1067.5 1119h0M1084 1158.5h0M1126.5 1165.5h0M1107.5 1169.5h0M1028 1147h0M1391 1110.5h0M1371 1148.5h0M1379 1120h0M1392 1119.5h0M1346 1160.5h0M1367 1169.5h0M1331 1165h0M1395 1114.5h0M1042 1104.5h0M1048 1149h0M1077 1131.5h0M1420.5 1113h0M1056.5 1138h0M1035.5 1146h0M1359.5 1157.5h0M1003.5 1115.5h0M1101.5 1133.5h0M1353.5 1156.5h0M1407.5 1126.5h0M1075.5 1141.5h0M1374.5 1137.5h0M1033.5 1112h0M1324 1129.5h0M1070 1135.5h0M1057.5 1157.5h0M1386 1144.5h0M1028.5 1106h0M1126.5 1138h0M1347 1165h0M1377.5 1148h0M1087.5 1109h0M1398 1151.5h0M1374.5 1109.5h0M1400 1157h0M1055.5 1146h0M1096 1124h0M1108 1150h0M1108 1115h0M1369 1160h0M1074.5 1110h0M1372 1134h0M1371.5 1132h0M1392 1103h0M1145 1118h0M1119 1163.5h0M1087 1107.5h0M1171 1115.5h0M1155 1111h0M1164 1122.5h0M1201 1161.5h0M1069 1119.5h0M1049.5 1118h0M1108 1103h0M1099 1154h0M1090.5 1111h0M1112 1148h0M1033.5 1128h0M1079.5 1104h0M1141.5 1147h0M1129 1125h0M1111 1123h0M1136.5 1152h0M1055.5 1102.5h0M1112.5 1104h0M1134 1125h0M1107.5 1106.5h0M1124 1130.5h0M1110.5 1125h0M1194.5 1105.5h0M1080.5 1138.5h0M1146.5 1110h0M1169.5 1112h0M1110 1106.5h0M1118 1138h0M1096.5 1129.5h0M1131 1127h0M1105.5 1124h0M1143.5 1109.5h0M1159.5 1164.5h0M1161 1149h0M1135.5 1116h0M1121 1106h0M1049.5 1110.5h0M1140.5 1110.5h0M1073 1114.5h0M1015.5 1115h0M1025 1123.5h0M1076 1122h0M1093 1122.5h0M1041 1106.5h0M1061 1115h0M1081 1113.5h0M1071.5 1119.5h0M1099.5 1125h0M1081 1116h0M1083 1121.5h0M1064.5 1117h0M1075.5 1112.5h0M1144 1111.5h0M1130 1114h0M1101.5 1118h0M1110.5 1103h0M1114 1114.5h0M998 1119.5h0M1095.5 1103h0M1064 1102h0M1144 1115.5h0M1095.5 1104h0M1164 1130.5h0M1168 1103h0M1141.5 1134.5h0M1140.5 1143h0M1203.5 1117.5h0M1104 1103.5h0M1146.5 1108h0M1175 1136.5h0M1155 1104.5h0M1170 1105.5h0M1150 1124h0M1118 1120h0M1189.5 1103h0M1152.5 1107h0M1197 1106.5h0M1101.5 1119h0M1235 1152.5h0M1157 1118h0M1126 1109h0M1162 1104h0M1144 1113h0M1153 1106.5h0M1294.5 1104h0M1413.5 1123h0M1329 1123.5h0M1244.5 1126h0M1348 1116h0M1357 1111.5h0M1339 1112.5h0M1358 1108.5h0M1453 1113.5h0M1330 1127h0M1464.5 1102h0M1285.5 1118.5h0M1282.5 1128h0M1267 1119h0M1325.5 1114h0M1335.5 1105h0M1437 1125.5h0M1268.5 1102h0M1382 1119h0M1464.5 1104h0M1357 1110.5h0M1377.5 1117h0M1159.5 1121h0M1349.5 1119.5h0M1190.5 1112h0M1383 1104h0M1379.5 1123.5h0M1357 1107h0M1268.5 1109.5h0M1405.5 1127.5h0M1191 1117.5h0M1388 1119.5h0M1322.5 1102.5h0M1434 1107h0M1305.5 1116.5h0M1314.5 1124h0M1392 1103.5h0M1296 1107.5h0M1309 1129.5h0M1378 1131.5h0M1320 1123h0M1242.5 1103.5h0M1284.5 1112.5h0M1196 1128.5h0M1317.5 1109h0M1326 1103.5h0M1318 1113h0M1178.5 1114h0M1244.5 1127h0M1273.5 1104.5h0M1467.5 1116.5h0M1299 1112h0M1383 1123.5h0M1332.5 1113.5h0M1302 1119h0M1390 1111.5h0M1374 1111h0M1429.5 1115.5h0M1209.5 1127.5h0M1301.5 1121.5h0M1253.5 1118h0M1325.5 1113h0M1288 1115h0M1456.5 1124.5h0M1487 1102.5h0M1373.5 1127.5h0M1294.5 1111.5h0M1367.5 1116.5h0M1355 1118h0M1299 1130.5h0M1341 1102.5h0M1331 1113.5h0M1348 1114.5h0M1392 1127h0M1262.5 1113.5h0M1300.5 1120.5h0M1322 1119.5h0M1336 1108h0M1371 1123.5h0M1305 1120.5h0M1305.5 1109.5h0M1397 1111h0M1264.5 1109h0M1289 1112h0M1333.5 1126h0M1347.5 1117h0M1304.5 1103h0M1414 1116.5h0M1347 1113.5h0M1366.5 1110h0M1341 1116h0M1443.5 1107h0M1355 1112h0M1315 1114h0M1315 1105.5h0M1310.5 1113.5h0M1397.5 1102h0M1391.5 1102h0M1254 1127h0M1382.5 1111h0M1396 1115h0M1333.5 1112h0M1361 1110h0M1238.5 1078h0" fill="none" stroke="#4E4E4E" stroke-width="4.7" stroke-linecap="round" opacity="0.93"/>
<path d="M1255 1157h0M1199 1129h0M1261 1168h0M1241 1178h0M1194 1182h0M1276 1168h0M1243.5 1167.5h0M1263.5 1156h0M1224 1189h0M1259.5 1178h0M1231 1192h0M1213.5 1148h0M1220.5 1159h0M1211 1177.5h0M1223.5 1186.5h0M1270.5 1117h0M1252 1160.5h0M1216.5 1200h0M1204 1175.5h0M1222.5 1190h0M1219.5 1173.5h0M1197.5 1174h0M1244 1176h0M1224 1197h0M1294 1127.5h0M1181 1178h0M1290.5 1115.5h0M1188 1146.5h0M1234 1194h0M1211 1195.5h0M1248.5 1150.5h0M1245 1145h0M1268 1133h0M1197.5 1132h0M1210.5 1191.5h0M1231 1198h0M1225 1195h0M1222.5 1201.5h0M1161 1139.5h0M1244 1168.5h0M1222.5 1200.5h0M1214.5 1172h0M1210 1189h0M1213.5 1147.5h0M1220.5 1187h0M1243 1156.5h0M1140.5 1142.5h0M1177 1138h0M1220.5 1171.5h0M1238.5 1179h0M1145 1132.5h0M1264 1165h0M1243.5 1108.5h0M1239.5 1186h0M1238 1130.5h0M1202.5 1135.5h0M1271.5 1115h0M1218 1193h0M1205 1147.5h0M1234.5 1170.5h0M1127 1116.5h0M1262 1175h0M1211.5 1158h0M1357 1144h0M1250 1182.5h0M1185 1161h0M1246 1184h0M1297.5 1135.5h0M1194 1132.5h0M1189.5 1159.5h0M1213.5 1191h0M1247 1147h0M1313 1103h0M1249 1142.5h0M1224.5 1201h0M1217.5 1187h0M1187.5 1150.5h0M1247 1115.5h0M1194.5 1167.5h0M1221 1193h0M1218.5 1149.5h0M1170.5 1128.5h0M1235 1113h0M1237 1154h0M1235 1176h0M1226 1199.5h0M1164.5 1155.5h0M1208.5 1193h0M1206.5 1135h0M1234.5 1187.5h0M1163.5 1139.5h0M1208 1194h0M1297.5 1128.5h0M1287.5 1165.5h0M1205 1169h0M1247 1140h0M1234 1188h0M1073.5 1105.5h0M1224 1199h0M1212 1140h0M1234.5 1150h0M1173.5 1170h0M1238.5 1195.5h0M1215 1176h0M1236.5 1141.5h0M1245.5 1185h0M1276 1178.5h0M1216.5 1191.5h0M1220.5 1179h0M1239.5 1171.5h0M1208.5 1168.5h0M1250 1178h0M1128.5 1153.5h0M1226.5 1201h0M1267 1110h0M1334 1118.5h0M1233 1143.5h0M1220 1196.5h0M1235.5 1194.5h0M1255.5 1149.5h0M1244.5 1187h0M1240 1178.5h0M1180.5 1155.5h0M1233.5 1199.5h0M1253.5 1125h0M1188.5 1170.5h0M1239 1187h0M1312.5 1112h0M1305.5 1165.5h0M1132 1129h0M1222.5 1202h0M1233.5 1187.5h0M1232 1187.5h0M1217 1167h0M1186.5 1157.5h0M1232 1198h0M1203.5 1162h0M1246.5 1177.5h0M1212.5 1163.5h0M1275 1116h0M1187 1131.5h0M1276.5 1119.5h0M1221 1193.5h0M1223 1196.5h0M1229 1193.5h0M1175 1144h0M1194.5 1186.5h0M1167 1133h0M1233.5 1159.5h0M1213 1184h0M1192 1155h0M1216.5 1182h0M1264.5 1168.5h0M1234 1191.5h0M1215 1146h0M1223 1193.5h0M1209.5 1191.5h0M1234.5 1167h0M1244 1117h0M1232.5 1185.5h0M1214.5 1183.5h0M1220.5 1175h0M1233.5 1185.5h0M1200.5 1139h0M1239.5 1154h0M1219.5 1184.5h0M1135.5 1167h0M1183 1111h0M1199.5 1109h0M1287 1124.5h0M1284.5 1106.5h0M1260 1187.5h0M1215 1195.5h0M1214.5 1173.5h0M1274.5 1163.5h0M1233.5 1183h0M1232.5 1196.5h0M1199 1180.5h0M1215.5 1191h0M1228 1184h0M1219 1192h0M1203.5 1123.5h0M1218.5 1193h0M1235.5 1194.5h0M1205.5 1118h0M1243 1157.5h0M1241 1171.5h0M1217 1161.5h0M1155 1149h0M1197 1144h0M1208 1153h0M1203 1189h0M1199 1155.5h0M1200 1193h0M1224.5 1202.5h0M1284 1105h0M1212 1195.5h0M1152.5 1141.5h0M1221 1157h0M1223 1194.5h0M1232.5 1190h0M1210 1150.5h0M1262.5 1147.5h0M1158.5 1156h0M1208 1174h0M1245 1165h0M1197.5 1152h0M1217.5 1181h0M1224.5 1201.5h0M1223.5 1199h0M1230.5 1182h0M1111.5 1152h0M1154 1156h0M1201 1134h0M1217.5 1189.5h0M1220.5 1196.5h0M1197.5 1135.5h0M1237.5 1192.5h0M1168 1109.5h0M1224.5 1198h0M1270 1168h0M1265 1138h0M1217.5 1179h0M1237.5 1160h0M1176.5 1130h0M1231.5 1189.5h0M1296.5 1120.5h0M1231.5 1164h0M1188 1171h0M1233.5 1147.5h0M1204.5 1117.5h0M1217 1198h0M1257.5 1152h0M1236.5 1156.5h0M1139 1128h0M1227 1202h0M1163.5 1104.5h0M1229.5 1199h0M1186.5 1136h0M1128 1133.5h0M1239.5 1169h0M1186.5 1172.5h0M1210 1157.5h0M1234 1132.5h0M1227 1197h0M1182.5 1165h0M1090.5 1109h0M1247.5 1156.5h0M1215.5 1196h0M1243 1128h0M1272.5 1117.5h0M1149.5 1134h0M1192 1163h0M1213 1146h0M1218 1195.5h0M1234 1178h0M1201.5 1174h0M1173 1113h0M1168.5 1144.5h0M1275.5 1174.5h0M1249 1193h0M1215 1197.5h0M1275.5 1158h0M1251 1130.5h0M1162.5 1161h0M1162.5 1124h0M1136 1125.5h0M1217.5 1171.5h0M1187.5 1164h0M1228.5 1188h0M1241.5 1185h0M1218.5 1190.5h0M1211 1154.5h0M1265.5 1132h0M1220.5 1197.5h0M1202.5 1170h0M1222.5 1181h0M1267.5 1124.5h0M1213.5 1192h0M1155.5 1110.5h0M1241 1156h0M1249 1132.5h0M1267 1172h0M1249.5 1175h0M1189 1135h0M1234.5 1160h0M1207 1177h0M1334.5 1119.5h0M1241.5 1115.5h0M1173.5 1130h0M1217.5 1094h0M1218.5 1126.5h0M1222.5 1179h0M1210 1183h0M1266.5 1104.5h0M1232.5 1172h0M1246 1176.5h0M1217.5 1194.5h0M1215 1176h0M1240.5 1168h0M1251 1182.5h0M1231 1167.5h0M1126 1135h0M1279 1139.5h0M1223 1181h0M1172 1160h0M1236.5 1089.5h0M1224 1193h0M1284.5 1122.5h0M1158.5 1137.5h0M1196.5 1161.5h0M1257.5 1142.5h0M1184 1167h0M1207.5 1186.5h0M1183.5 1126.5h0M1073 1132h0M1362 1110h0M1220.5 1179h0M1192.5 1135.5h0M1247.5 1171.5h0M1217.5 1199.5h0M1250 1182h0M1194.5 1154.5h0M1150 1105.5h0M1235 1177.5h0M1214.5 1196h0M1233 1187.5h0M1239.5 1148h0M1238 1186.5h0M1235.5 1132h0M1348.5 1105.5h0M1179.5 1154.5h0M1235 1193h0M1214 1160h0M1248 1161.5h0M1222 1197h0M1247.5 1164.5h0M1183 1173h0M1214.5 1112h0M1276.5 1165.5h0M1211.5 1198.5h0M1212.5 1192h0M1207 1147h0M1207 1184.5h0M1253 1184h0M1264.5 1170h0M1289 1122.5h0M1247 1138.5h0M1207 1177h0M1242.5 1173.5h0M1120 1155.5h0M1257.5 1168.5h0M1158.5 1155h0M1240.5 1166h0M1295 1172.5h0M1363 1160h0M1224.5 1200h0M1093.5 1120h0M1218 1151h0M1268 1127.5h0M1244 1132h0M1230 1189.5h0M1236 1156h0M1212 1197h0M1259.5 1164.5h0M1324.5 1111h0M1133 1112h0M1245.5 1167.5h0M1231.5 1182h0M1213.5 1198.5h0M1120 1144h0M1253 1144.5h0M1171 1130h0M1243.5 1156.5h0M1257 1149.5h0M1242.5 1175.5h0M1160.5 1150h0M1278.5 1131.5h0M1216.5 1139h0M1223 1183h0M1232.5 1185h0M1216.5 1150h0M1223.5 1192.5h0M1251 1160h0M1231 1198h0M1204 1159h0M1211.5 1190.5h0M1165 1162.5h0M1272.5 1121h0M1255.5 1184h0M1143 1159.5h0M1131 1134h0M1215.5 1141h0M1225.5 1203h0M1226 1202.5h0M1263.5 1172h0M1224.5 1203h0M1279 1131.5h0M1236.5 1185.5h0M1257.5 1175.5h0M1225 1203h0M1319 1117h0M1088 1115h0M1221 1188h0M1264.5 1172.5h0M1246.5 1130.5h0M1183.5 1147.5h0M1223.5 1187h0M1214.5 1152h0M1235 1191.5h0M1199 1148h0M1248.5 1153.5h0M1210.5 1119h0M1205.5 1187.5h0M1213.5 1174.5h0M1231.5 1194.5h0M1263.5 1116h0M1156.5 1112h0M1257 1185h0M1244 1173h0M1232 1196h0M1232 1164h0M1228 1182.5h0M1176 1148.5h0M1070.5 1107h0M1230 1194.5h0M1236.5 1176.5h0M1191.5 1175h0M1196.5 1171h0M1217 1190.5h0M1197.5 1181h0M1295.5 1134.5h0M1272 1177h0M1228 1181h0M1218.5 1152.5h0M1226 1202h0M1237 1198.5h0M1218.5 1161.5h0M1186.5 1165h0M1245 1165.5h0M1249 1171h0M1287 1149.5h0M1246 1192.5h0M1268.5 1175.5h0M1241.5 1185h0M1191 1156h0M1208.5 1166.5h0M1283 1152.5h0M1240 1173.5h0M1254.5 1184.5h0M1258.5 1143.5h0M1211 1137.5h0M1207.5 1122h0M1165.5 1152h0M1207.5 1177h0M1220 1149.5h0M1181 1147.5h0M1235 1189h0M1256.5 1173h0M1241.5 1176.5h0M1252 1182.5h0M1197.5 1188.5h0M1151 1141h0M1235 1189.5h0M1200.5 1148.5h0M1266.5 1137h0M1239.5 1141h0M1232 1198h0M1241.5 1131.5h0M1244.5 1149.5h0M1112 1111.5h0M1154.5 1132h0M1269 1163h0M1214 1170.5h0M1228.5 1198h0M1232.5 1199.5h0M1197 1153h0M1273 1173.5h0M1193.5 1124h0M1214 1194h0M1224 1201h0M1074 1115h0M1186 1150.5h0M1296 1107.5h0M1259.5 1104.5h0M1243.5 1167h0M1316 1108.5h0M1187.5 1190.5h0M1203 1153.5h0M1228.5 1192h0M1137.5 1154.5h0M1228.5 1191.5h0M1236.5 1180.5h0M1216 1172h0M1171 1163.5h0M1231.5 1181.5h0M1254.5 1158h0M1270 1132h0M1230 1198.5h0M1204.5 1191.5h0M1212.5 1181h0M1234 1141.5h0M1180 1155h0M1248 1149h0M1192.5 1158h0M1253.5 1171h0M1200 1170.5h0M1215.5 1163h0M1230 1193.5h0M1223.5 1199h0M1179 1127h0M1233.5 1185h0M1142.5 1155h0M1229 1180.5h0M1199 1162.5h0M1252.5 1161h0M1171.5 1175h0M1191.5 1107.5h0M1198.5 1145h0M1234 1146.5h0M1350 1119h0M1189.5 1159.5h0M1274 1147.5h0M1217.5 1190h0M1254.5 1182.5h0M1233 1138.5h0M1243 1181.5h0M1314.5 1144.5h0M1311 1137h0M1195 1180h0M1199 1156h0M1230.5 1179h0M1198 1140.5h0M1183 1173.5h0M1274.5 1143.5h0M1177 1155h0M1121 1107.5h0M1221.5 1177.5h0M1181 1128h0M1257 1155h0M1171.5 1152h0M1226.5 1196.5h0M1202 1174.5h0M1243.5 1153.5h0M1218.5 1196.5h0M1196 1188h0M1194.5 1128.5h0M1219.5 1197.5h0M1219 1178.5h0M1213.5 1181h0M1231 1147.5h0M1144 1143h0M1272 1132.5h0M1231 1189.5h0M1297 1152.5h0M1219.5 1187.5h0M1235 1195h0M1299 1156h0M1251.5 1146h0M1135 1121h0M1227 1191.5h0M1251.5 1157h0M1222 1180.5h0M1165 1108.5h0M1243 1150.5h0M1208.5 1184.5h0M1237 1198h0M1222.5 1199.5h0M1231.5 1187.5h0M1233 1129.5h0M1181.5 1161h0M1221.5 1180h0M1255 1183h0M1230 1184.5h0M1215.5 1093.5h0M1173.5 1148h0M1242 1188h0M1193 1126.5h0M1200.5 1194h0M1260 1149.5h0M1241.5 1155h0M1228 1194.5h0M1235 1198.5h0M1167.5 1112h0M1199.5 1135h0M1072.5 1103h0M1286.5 1120.5h0M1241 1175h0M1233 1195h0M1360 1114h0M1275 1128h0M1253.5 1109h0M1159 1107h0M1223.5 1189h0M1169.5 1161.5h0M1292 1119.5h0M1231 1190.5h0M1220.5 1174.5h0M1152 1104h0M1206.5 1189.5h0M1201.5 1180.5h0M1247.5 1147.5h0M1264 1144.5h0M1186.5 1166h0M1203 1138.5h0M1236.5 1140.5h0M1138.5 1124h0M1300.5 1151h0M1219 1169.5h0M1186.5 1160h0M1173.5 1139h0M1262 1117.5h0M1180.5 1135h0M1255 1176h0M1281.5 1162.5h0M1193.5 1138h0M1261 1152.5h0M1231.5 1189.5h0M1207 1192h0M1220 1163.5h0M1226.5 1198.5h0M1233 1149h0M1131.5 1158h0M1203 1180.5h0M1234.5 1180.5h0M1196.5 1146h0M1276.5 1108h0M1249 1176.5h0M1209 1171.5h0M1233 1194.5h0M1247 1186.5h0M1271.5 1168.5h0M1246.5 1133h0M1203 1128.5h0M1196 1181h0M1229 1190.5h0M1249 1164.5h0M1243 1181.5h0M1218 1198.5h0M1215.5 1168.5h0M1229.5 1181.5h0M1229 1198h0M1224.5 1202.5h0M1216.5 1193.5h0M1231 1190.5h0M1259 1148.5h0M1274.5 1160.5h0M1193 1175.5h0M1202 1182h0M1231.5 1195h0M1230 1198.5h0M1245.5 1145h0M1213.5 1182.5h0M1256 1135h0M1217 1149h0M1224 1201h0M1232 1182.5h0M1163 1170h0M1198 1157.5h0M1247 1159h0M1217 1181.5h0M1317.5 1117h0M1141 1145h0M1238.5 1194h0M1175 1135h0M1232 1168h0M1185 1168h0M1187 1175h0M1212 1179h0M1115.5 1126h0M1221 1199.5h0M1335 1113h0M1257.5 1143.5h0M1238.5 1170.5h0M1325.5 1124.5h0M1212 1169h0M1244.5 1114h0M1271.5 1145h0M1213.5 1175.5h0M1193 1171.5h0M1223 1192h0M1233 1114.5h0M1237 1173h0M1281.5 1171.5h0M1193 1184.5h0M1224.5 1201.5h0M1185 1134.5h0M1252.5 1149h0M1246 1103h0M1213 1192.5h0M1207.5 1128h0M1228 1201h0M1218 1110.5h0M1198 1118h0M1323.5 1119.5h0M1320.5 1153.5h0M1253 1143h0M1211.5 1157h0M1231.5 1161h0M1240.5 1186.5h0M1256 1171h0M1183 1131.5h0M1142 1157.5h0M1143 1154h0M1182.5 1135.5h0M1296.5 1145h0M1200.5 1179h0M1210.5 1173h0M1245.5 1134h0M1298 1137h0M1192 1180.5h0M1183.5 1149.5h0M1261.5 1148.5h0M1182.5 1112.5h0M1207 1117h0M1236 1161.5h0M1226.5 1199h0M1236 1177h0M1245 1166h0M1210.5 1187.5h0M1202.5 1188.5h0M1192.5 1150h0M1250.5 1148.5h0M1171 1168.5h0M1158.5 1125.5h0M1159 1114h0M1171.5 1134h0M1232 1183h0M1193 1150h0M1369 1112h0M1230 1193h0M1198 1163h0M1212 1174h0M1257 1147h0M1210.5 1128h0M1088.5 1135h0M1260.5 1178.5h0M1183.5 1176.5h0M1199.5 1182h0M1266.5 1144.5h0M1268 1114.5h0M1206 1186h0M1264.5 1133.5h0M1230.5 1191h0M1262.5 1167h0M1214.5 1145.5h0M1221 1173h0M1225 1200h0M1276 1118.5h0M1343.5 1132h0M1235 1173.5h0M1211 1190.5h0M1233 1197.5h0M1207 1165.5h0M1239 1158.5h0M1170 1125.5h0M1196 1174h0M1197.5 1180h0M1301.5 1123.5h0M1222 1193.5h0M1277 1111h0M1243.5 1181.5h0M1223 1200h0M1150.5 1153h0M1187.5 1178h0M1192 1114h0M1260 1135h0M1242 1185.5h0M1243.5 1132.5h0M1224.5 1201h0M1215.5 1196.5h0M1315 1117h0M1244.5 1167.5h0M1272 1132.5h0M1219 1180.5h0M1224 1200.5h0M1246 1128h0M1234.5 1166h0M1215.5 1136.5h0M1280 1141h0M1225.5 1203h0M1322.5 1139.5h0M1243.5 1154.5h0M1194.5 1183.5h0M1280.5 1131h0M1236.5 1134.5h0M1183 1155h0M1214.5 1178h0M1230.5 1149h0M1233 1194.5h0M1220 1186h0M1185.5 1174h0M1233 1129h0M1219 1181h0M1228 1201.5h0M1188.5 1138h0M1305.5 1126h0M1205.5 1178.5h0M1157.5 1119h0M1216.5 1196.5h0M1081 1132h0M1214 1166h0M1211.5 1196.5h0M1241 1132h0M1212 1193h0M1232 1181h0M1218.5 1177.5h0M1283.5 1114.5h0M1234 1197h0M1244.5 1145.5h0M1221.5 1174h0M1253.5 1186h0M1230 1152h0M1211 1166.5h0M1144.5 1105.5h0M1229 1174h0M1257.5 1185.5h0M1143 1118.5h0M1292.5 1134h0M1179.5 1174h0M1250 1145h0M1216 1174.5h0M1168.5 1154.5h0M1223 1173.5h0M1227 1192h0M1238 1139h0M1214.5 1177h0M1314 1138h0M1132 1126.5h0M1227.5 1199h0M1196 1176h0M1199.5 1160.5h0M1227.5 1201.5h0M1249.5 1117h0M1327 1154h0M1222 1168.5h0M1190.5 1113.5h0M1254.5 1184.5h0M1217 1185.5h0M1255 1167.5h0M1224.5 1202h0M1173 1129h0M1174.5 1163.5h0M1299.5 1143.5h0M1229 1173.5h0M1134 1164h0M1225 1199h0M1230 1199.5h0M1170 1156h0M1131.5 1123.5h0M1232 1171h0M1243 1180.5h0M1212 1188h0M1244 1183h0M1242 1141h0M1237.5 1133h0M1211 1162.5h0M1071 1148.5h0M1275.5 1183h0M1232.5 1189.5h0M1171.5 1144h0M1230.5 1200h0M1221 1173h0M1230 1196h0M1258 1128.5h0M1288.5 1130.5h0M1255 1146h0M1230.5 1135.5h0M1211 1142.5h0M1241.5 1175h0M1182 1151.5h0M1188.5 1184.5h0M1216.5 1195h0M1231 1194.5h0M1280 1162.5h0M1219.5 1194h0M1263 1179h0M1212 1172h0M1233 1192h0M1145 1145h0M1242 1122.5h0M1230.5 1186.5h0M1238.5 1197h0M1220.5 1197h0M1256 1158.5h0M1211.5 1113h0M1198.5 1177.5h0M1214.5 1193h0M1249 1177.5h0M1259.5 1147h0M1292 1126.5h0M1228 1180h0M1187 1136.5h0M1222 1195h0M1221 1181.5h0M1254.5 1141.5h0M1265 1157.5h0M1246 1152h0M1224 1202h0M1217 1186h0M1232 1164.5h0M1220 1140.5h0M1193 1181.5h0M1208 1155.5h0M1275 1147h0M1195 1185.5h0M1182.5 1134.5h0M1313 1106h0M1247.5 1144h0M1224.5 1195.5h0M1218.5 1158.5h0M1111.5 1116h0M1228.5 1168h0M1209 1155h0M1169.5 1104.5h0M1235 1177.5h0M1123 1131.5h0M1212 1138h0M1243 1168h0M1236 1173h0M1218.5 1195h0M1129.5 1156.5h0M1238.5 1190.5h0M1178.5 1155.5h0M1134 1135h0M1236 1119.5h0M1122.5 1129h0M1300 1146.5h0M1294 1117.5h0M1195.5 1168h0M1224 1202.5h0M1240 1134h0M1197 1173.5h0M1187 1133h0M1227 1191h0M1216.5 1158.5h0M1203.5 1166.5h0M1186.5 1172.5h0M1200.5 1154h0M1211.5 1119.5h0M1194 1178h0M1218 1128h0M1204 1172.5h0M1234 1139h0M1203.5 1176.5h0M1230.5 1194h0M1231 1178h0M1177 1156h0M1188 1147.5h0M1213 1166.5h0M1258.5 1124h0M1256.5 1176h0M1273 1172.5h0M1245 1184.5h0M1202.5 1178.5h0M1232.5 1152.5h0M1276 1166.5h0M1206 1145.5h0M1246 1159h0M1218.5 1174.5h0M1092 1146.5h0M1208 1186h0M1253.5 1181.5h0M1291 1123.5h0M1164.5 1181h0M1222 1160.5h0M1250.5 1185.5h0M1202.5 1171.5h0M1194 1117.5h0M1215.5 1190.5h0M1211.5 1180h0M1215 1188.5h0M1212.5 1157h0M1221 1200h0M1218 1175h0M1232 1170.5h0M1323.5 1137.5h0M1239 1168h0M1225 1200.5h0M1250 1167h0M1344 1106h0M1232 1198h0M1223.5 1201.5h0M1198.5 1162.5h0M1179.5 1117.5h0M1170 1127.5h0M1238.5 1182h0M1222.5 1175h0M1239.5 1179.5h0M1210.5 1188.5h0M1250 1123.5h0M1233 1182.5h0M1274 1128h0M1217 1178h0M1300 1132.5h0M1249 1195h0M1232.5 1150.5h0M1251 1146.5h0M1163.5 1132.5h0M1218 1181h0M1245 1183.5h0M1206 1163.5h0M1189.5 1154.5h0M1237 1166h0M1241.5 1131.5h0M1220 1157.5h0M1210 1187h0M1239.5 1178h0M1142 1144.5h0M1233.5 1190.5h0M1240.5 1117.5h0M1245.5 1178h0M1222.5 1197h0M1201.5 1123.5h0M1226.5 1202h0M1243 1170h0M1310.5 1156h0M1238.5 1196.5h0M1207.5 1127.5h0M1160 1147.5h0M1336.5 1118.5h0M1257.5 1170.5h0M1312 1149.5h0M1207 1170h0M1239 1157.5h0M1222 1183.5h0M1251 1118h0M1268 1157.5h0M1271.5 1182.5h0M1256 1160.5h0M1354 1145.5h0M1197 1140.5h0M1281.5 1185.5h0M1176 1154.5h0M1244.5 1191.5h0M1071.5 1128h0M1236 1158h0M1269.5 1113h0M1120.5 1109h0M1229.5 1196.5h0M1249 1168.5h0M1336 1120.5h0M1250 1184h0M1212.5 1175h0M1268.5 1162.5h0M1236 1168.5h0M1238.5 1139.5h0M1236.5 1119h0M1260.5 1123h0M1269 1171.5h0M1148.5 1152.5h0M1218 1168h0M1209.5 1183h0M1251 1122.5h0M1259.5 1145.5h0M1181.5 1148.5h0M1205.5 1116.5h0M1204 1177.5h0M1274.5 1141.5h0M1166 1110h0M1204 1187h0M1231.5 1165h0M1174 1158.5h0M1220.5 1196h0M1219 1171.5h0M1229 1165.5h0M1179 1183h0M1182 1131.5h0M1241.5 1168.5h0M1214 1152h0M1210 1185.5h0M1268.5 1165.5h0M1253.5 1151h0M1208 1194h0M1246.5 1163.5h0M1246.5 1181h0M1204.5 1110.5h0M1210 1151.5h0M1207.5 1182h0M1157 1163.5h0M1338.5 1109.5h0M1291 1117h0M1183 1171.5h0M1197.5 1162h0M1182.5 1125.5h0M1216 1189.5h0M1216.5 1190.5h0M1215 1176.5h0M1199.5 1174.5h0M1233 1168h0M1230 1199h0M1187 1163.5h0M1259.5 1143h0M1179 1132h0M1253.5 1120.5h0M1234 1175.5h0M1281 1170h0M1264.5 1134h0M1233.5 1152h0M1250.5 1176h0M1261.5 1103h0M1243.5 1151h0M1220 1141h0M1229 1196.5h0M1299.5 1159.5h0M1217 1164.5h0M1183 1116.5h0M1217 1197.5h0M1222 1168h0M1254.5 1154.5h0M1144 1133.5h0M1229 1173h0M1197 1150h0M1238 1194.5h0M1231.5 1183.5h0M1221 1192h0M1242 1120h0M1229 1195h0M1170 1108.5h0M1175 1125.5h0M1232 1190h0M1305 1119.5h0M1198 1180.5h0M1240.5 1176.5h0M1181.5 1166h0M1183 1153.5h0M1211 1182h0M1250 1160h0M1147.5 1132h0M1216 1088h0M1212.5 1181.5h0M1191 1150.5h0M1228 1183.5h0M1222.5 1190.5h0M1174 1118h0M1244 1177.5h0M1174 1129.5h0M1199.5 1168h0M1218.5 1186h0M1255 1179h0M1214.5 1136h0M1266.5 1102h0M1253.5 1184h0M1239 1171.5h0M1180.5 1163.5h0M1178.5 1148h0M1195 1181h0M1259.5 1133h0M1219.5 1184.5h0M1264 1113h0M1274.5 1160.5h0M1293.5 1132h0M1201 1133.5h0M1217.5 1174h0M1223.5 1198.5h0M1227.5 1189.5h0M1243 1171.5h0M1264.5 1179.5h0M1234 1195h0M1201 1176h0M1208.5 1150h0M1161 1149.5h0M1233 1122h0M1219 1131h0M1226 1201.5h0M1279 1161.5h0M1210.5 1163h0M1302 1149.5h0M1158.5 1115.5h0M1228 1198h0M1223.5 1200.5h0M1210 1114h0M1192 1127.5h0M1131 1129h0M1237.5 1195.5h0M1231.5 1177.5h0M1203 1186h0M1218 1200.5h0M1236 1198.5h0M1217.5 1183h0M1234.5 1157.5h0M1167 1166h0M1332.5 1140h0M1217.5 1157h0M1227.5 1202h0M1250.5 1124.5h0M1279.5 1160h0M1203.5 1188.5h0M1228.5 1201h0M1269 1157h0M1232 1121.5h0M1153 1122.5h0M1318.5 1158.5h0M1189.5 1167h0M1245 1159.5h0M1228 1202h0M1233 1188h0M1246 1151.5h0M1241 1196.5h0M1094 1129.5h0M1224.5 1202.5h0M1253.5 1171h0M1203 1140h0M1275 1141.5h0M1206 1155h0M1196.5 1179h0M1215.5 1144.5h0M1278.5 1130.5h0M1230 1148h0M1191.5 1193.5h0M1302 1147.5h0M1219.5 1183.5h0M1246 1114h0M1256 1116.5h0M1235.5 1199h0M1217 1182h0M1262.5 1127.5h0M1218.5 1174h0M1251 1163h0M1182.5 1150.5h0M1287.5 1151h0M1195 1130.5h0M1211 1128.5h0M1305.5 1160h0M1236.5 1173.5h0M1196.5 1157h0M1225 1202.5h0M1229 1191.5h0M1229 1164.5h0M1299.5 1121.5h0M1237 1187h0M1240.5 1188.5h0M1219 1191h0M1247 1133.5h0M1235 1173.5h0M1229.5 1193.5h0M1228 1195h0M1296 1114h0M1215.5 1188.5h0M1232.5 1179.5h0M1242.5 1177h0M1234 1184.5h0M1260 1177.5h0M1113 1109.5h0M1252.5 1134.5h0M1225.5 1202h0M1221 1176.5h0M1245 1194.5h0M1221 1194.5h0M1191 1109.5h0M1165.5 1125.5h0M1258 1133.5h0M1265 1170.5h0M1249 1185.5h0M1218.5 1181.5h0M1266.5 1166.5h0M1234 1195h0M1174 1136h0M1213 1195.5h0M1246.5 1131h0M1241 1181.5h0M1235 1191h0M1188 1159h0M1244 1181.5h0M1231.5 1199.5h0M1246.5 1110.5h0M1188 1169.5h0M1209 1172h0M1223 1185h0M1163 1110h0M1195.5 1171.5h0M1309.5 1116.5h0M1232.5 1179h0M1186 1122.5h0M1165.5 1151h0M1248.5 1178h0M1166.5 1130h0M1248 1164.5h0M1220.5 1188.5h0M1296 1146.5h0M1242 1185h0M1220.5 1191h0M1265.5 1160.5h0M1203 1180.5h0M1214.5 1155.5h0M1224.5 1199.5h0M1268 1117.5h0M1230.5 1163.5h0M1263 1131h0M1213.5 1173.5h0M1213.5 1167h0M1206.5 1173.5h0M1253 1106.5h0M1193.5 1184h0M1230 1200.5h0M1352 1107.5h0M1338.5 1119h0M1286 1136h0M1219.5 1198.5h0M1246.5 1164.5h0M1219 1125.5h0M1221 1195h0M1203 1166.5h0M1220.5 1176h0M1194.5 1180h0M1332 1161h0M1250 1148.5h0M1250 1140.5h0M1263.5 1170.5h0M1216 1151h0M1204 1169.5h0M1199 1170.5h0M1189 1126.5h0M1255.5 1183.5h0M1292.5 1154.5h0M1205 1188.5h0M1175 1150h0M1214 1188.5h0M1228.5 1167h0M1296 1152.5h0M1231 1174h0M1118 1107.5h0M1239.5 1174h0M1259 1178h0M1203 1158.5h0M1195 1167h0M1237 1195.5h0M1172 1114.5h0M1278 1117h0M1219.5 1149.5h0M1283 1145.5h0M1274.5 1148.5h0M1343.5 1149h0M1233.5 1104.5h0M1238.5 1180h0M1230.5 1176h0M1161.5 1160h0M1234.5 1089h0M1196.5 1141.5h0M1210.5 1172h0M1197 1174.5h0M1240.5 1125.5h0M1269 1128.5h0M1254.5 1117.5h0M1239.5 1190.5h0M1280.5 1157.5h0M1223.5 1186h0M1286 1128.5h0M1197 1173h0M1233.5 1197.5h0M1214.5 1150.5h0M1266 1134h0M1221.5 1192.5h0M1169 1146h0M1241 1190h0M1237.5 1192.5h0M1205.5 1163.5h0M1184 1129.5h0M1232 1183h0M1209 1179.5h0M1187 1154.5h0M1236 1185h0M1190.5 1180h0M1214.5 1198h0M1202.5 1144.5h0M1280.5 1147h0M1208 1155.5h0M1242 1179h0M1228.5 1202h0M1245 1164.5h0M1207 1191.5h0M1231.5 1192.5h0M1228 1179.5h0M1283.5 1160.5h0M1211 1189.5h0M1235 1154.5h0M1123 1152.5h0M1267.5 1144h0M1213 1174h0M1189 1174.5h0M1215.5 1183.5h0M1113.5 1108h0M1229.5 1194h0M1119 1117h0M1170.5 1131h0M1230.5 1198.5h0M1240.5 1131.5h0M1245.5 1142.5h0M1224.5 1201.5h0M1296.5 1153.5h0M1235 1193.5h0M1175.5 1105h0M1264.5 1158h0M1251 1169h0M1144.5 1103h0M1227.5 1198.5h0M1283 1165.5h0M1173.5 1102h0M1325 1104.5h0M1230.5 1196h0M1207.5 1189h0M1183 1169h0M1199 1194h0M1176.5 1189.5h0M1227.5 1196.5h0M1179 1104.5h0M1309 1134h0M1226.5 1200.5h0M1196.5 1178h0M1295 1108h0M1282.5 1148.5h0M1233 1194h0M1221.5 1193h0M1247 1161.5h0M1246 1188.5h0M1170.5 1107h0M1213 1137.5h0M1226 1202.5h0M1299.5 1130.5h0M1290 1107h0M1125.5 1119.5h0M1264.5 1102.5h0M1275.5 1137.5h0M1270 1120.5h0M1235.5 1196h0M1109.5 1116h0M1238.5 1193h0M1213 1100.5h0M1234 1199.5h0M1236.5 1165h0M1227.5 1178.5h0M1219.5 1131h0M1316 1160.5h0M1311 1108h0M1251.5 1183h0M1250.5 1157h0M1205 1176h0M1183.5 1164.5h0M1208 1160.5h0M1238.5 1198h0M1128.5 1129h0M1235 1169h0M1260 1176.5h0M1308.5 1140.5h0M1218.5 1184.5h0M1251 1119h0M1220.5 1165.5h0M1232.5 1175.5h0M1245 1176h0M1270 1149h0M1180 1155.5h0M1219.5 1175.5h0M1195 1129h0M1213.5 1169.5h0M1232 1183h0M1202 1179h0M1235.5 1151.5h0M1283 1105h0M1280.5 1129h0M1204 1168h0M1246.5 1167h0M1236.5 1112h0M1232.5 1166.5h0M1211.5 1190.5h0M1294 1155.5h0M1214.5 1181.5h0M1213.5 1188h0M1238 1185.5h0M1161 1123.5h0M1142.5 1127.5h0M1244.5 1187.5h0M1227.5 1195h0M1259 1164h0M1219 1197h0M1242 1141.5h0M1179.5 1154.5h0M1203.5 1126.5h0M1219 1178.5h0M1299.5 1158.5h0M1292 1145.5h0M1213.5 1156h0M1212.5 1161.5h0M1220 1173h0M1200.5 1146h0M1201.5 1110h0M1231.5 1138h0M1164 1128h0M1255.5 1177h0M1212 1178.5h0M1302.5 1109h0M1229.5 1174.5h0M1223 1195h0M1184 1115h0M1216.5 1132.5h0M1165 1115.5h0M1236.5 1164.5h0M1214 1170h0M1218 1168.5h0M1125 1114.5h0M1220 1191h0M1149 1147h0M1246 1156.5h0M1139.5 1150h0M1237 1186h0M1192 1170h0M1221.5 1188.5h0M1274 1150.5h0M1236.5 1157.5h0M1270 1154h0M1240.5 1189h0M1205.5 1140h0M1188 1163h0M1152 1168.5h0M1227.5 1196.5h0M1222 1169.5h0M1126 1176h0M1240 1175.5h0M1199.5 1116.5h0M1206.5 1181.5h0M1241 1129h0M1227.5 1201.5h0M1221 1185.5h0M1199.5 1105.5h0M1250 1172h0M1222.5 1197h0M1255 1164h0M1236.5 1169.5h0M1160.5 1149.5h0M1174.5 1145h0M1244 1173h0M1321 1119.5h0M1246 1167.5h0M1224 1197.5h0M1214.5 1130h0M1223 1195.5h0M1214.5 1198h0M1218 1144.5h0M1270.5 1119h0M1215 1192h0M1211.5 1178h0M1229.5 1200h0M1222 1200.5h0M1196.5 1171.5h0M1236 1149h0M1166.5 1177.5h0M1289 1137.5h0M1193 1164h0M1247.5 1192.5h0M1218.5 1182.5h0M1225.5 1202.5h0M1113 1122h0M1221.5 1168h0M1255 1170h0M1318.5 1129.5h0M1290.5 1124.5h0M1273.5 1123.5h0M1221.5 1196.5h0M1242.5 1132.5h0M1263 1155h0M1207 1185.5h0M1233 1149.5h0M1250 1170h0M1203.5 1167h0M1200.5 1193.5h0M1195.5 1109.5h0M1211 1163.5h0M1213.5 1196h0M1270.5 1138h0M1159.5 1157.5h0M1177.5 1149.5h0M1290.5 1110.5h0M1181 1118h0M1260.5 1150.5h0M1203.5 1138.5h0M1230 1197.5h0M1312 1149h0M1202.5 1168h0M1196.5 1162.5h0M1223 1193h0M1157 1156h0M1214 1193h0M1225.5 1202h0M1242 1163h0M1203 1134h0M1247 1167.5h0M1244 1176.5h0M1150 1108h0M1233.5 1161h0M1250 1152.5h0M1248.5 1160h0M1183.5 1113h0M1237.5 1189h0M1254.5 1175h0M1283 1130h0M1292.5 1142.5h0M1199 1168.5h0M1206.5 1164h0M1204 1151.5h0M1234 1104.5h0M1218.5 1201h0M1204 1188h0M1245 1192.5h0M1284 1161h0M1251.5 1185h0M1311 1106.5h0M1215 1193h0M1227 1189h0M1142 1146.5h0M1242 1193.5h0M1215 1179.5h0M1255 1141.5h0M1178.5 1121.5h0M1258.5 1147.5h0M1310 1122.5h0M1304 1104.5h0M1252.5 1136h0M1271.5 1138h0M1218 1197h0M1229.5 1200h0M1235.5 1145h0M1273 1149.5h0M1256.5 1147.5h0M1300 1121h0M1238 1148h0M1244.5 1118h0M1229 1173h0M1185.5 1144.5h0M1187.5 1142h0M1251.5 1155.5h0M1148.5 1162.5h0M1220 1191h0M1134 1143h0M1247.5 1178h0M1202.5 1178.5h0M1242 1149h0M1203 1186h0M1215.5 1153.5h0M1194 1139h0M1119.5 1108.5h0M1231 1165.5h0M1253 1146h0M1247.5 1168h0M1221.5 1158.5h0M1243 1187.5h0M1191 1139.5h0M1220.5 1200h0M1235 1194h0M1228 1186.5h0M1190 1125h0M1195.5 1164.5h0M1238.5 1112h0M1228 1201h0M1178 1104h0M1209 1134h0M1234 1143.5h0M1234 1162h0M1185 1126.5h0M1213 1162h0M1218.5 1199h0M1223 1193h0M1222 1175.5h0M1235 1127.5h0M1301 1103h0M1269.5 1180.5h0M1209 1181.5h0M1194 1143h0M1236.5 1121h0M1203 1189.5h0M1245 1186.5h0M1204 1181.5h0M1178.5 1156h0M1227 1196h0M1215 1176h0M1191 1108h0M1198 1152h0M1187 1176h0M1182 1148h0M1179 1187h0M1223.5 1202.5h0M1270 1154h0M1220.5 1162h0M1187 1115h0M1198.5 1166.5h0M1234.5 1194.5h0M1228.5 1166.5h0M1267.5 1169.5h0M1228 1195.5h0M1196.5 1177h0M1293.5 1130.5h0M1214 1192.5h0M1176 1149.5h0M1164.5 1157h0M1287 1145.5h0M1166 1123h0M1168 1130.5h0M1316 1112.5h0M1222.5 1198.5h0M1112.5 1116h0M1271.5 1108h0M1206 1183h0M1203.5 1195h0M1206.5 1142.5h0M1156.5 1103.5h0M1164.5 1148.5h0M1240 1163h0M1240.5 1180h0M1214 1180.5h0M1301 1116.5h0M1243 1144h0M1226.5 1203h0M1285 1157.5h0M1297 1132.5h0M1207 1194h0M1237.5 1185h0M1205 1155.5h0M1094 1118h0M1168.5 1141h0M1236 1190h0M1229.5 1182.5h0M1186 1144h0M1217 1173h0M1242.5 1183.5h0M1109.5 1133h0M1198.5 1163.5h0M1160 1104.5h0M1228 1193.5h0M1176.5 1107h0M1238.5 1167h0M1250 1168h0M1238 1163.5h0M1241 1178.5h0M1183.5 1181h0M1301 1173.5h0M1141 1135.5h0M1132.5 1133.5h0M1307.5 1128.5h0M1239.5 1177.5h0M1207.5 1189.5h0M1327 1105.5h0M1235.5 1186h0M1257 1161.5h0M1274.5 1152h0M1236.5 1193h0M1103 1138h0M1147 1132h0M1217.5 1165.5h0M1329 1110.5h0M1211.5 1178.5h0M1272.5 1173h0M1211 1159h0M1253.5 1174.5h0M1206 1185h0M1168 1140.5h0M1114 1167h0M1227.5 1194.5h0M1258.5 1139h0M1128 1119h0M1206.5 1161h0M1223.5 1190.5h0M1299.5 1157h0M1216 1175h0M1207 1189.5h0M1202 1188h0M1246 1176.5h0M1161.5 1132h0M1239 1197.5h0M1241.5 1135h0M1280 1139h0M1193 1145h0M1193 1159h0M1296 1116.5h0M1239 1162h0M1226 1202.5h0M1250.5 1131h0M1204.5 1167h0M1244 1186.5h0M1260 1163h0M1187.5 1147h0M1204.5 1176.5h0M1303.5 1119.5h0M1227.5 1191h0M1237.5 1158h0M1138.5 1109h0M1243 1146.5h0M1240 1191.5h0M1232.5 1171h0M1220.5 1184h0M1245.5 1159h0M1215.5 1187.5h0M1221.5 1169.5h0M1192 1152h0M1230.5 1186.5h0M1291.5 1147h0M1200 1173.5h0M1259.5 1159h0M1231.5 1181.5h0M1290 1168h0M1121 1133.5h0M1227.5 1197.5h0M1187.5 1176h0M1189 1144.5h0M1262 1114h0M1266.5 1142.5h0M1212.5 1162h0M1217 1143h0M1191.5 1184h0M1222 1200.5h0M1245.5 1175h0M1237.5 1117h0M1213.5 1188.5h0M1241.5 1108h0M1150 1167h0M1229 1200h0M1150.5 1119.5h0M1235 1168h0M1340 1124h0M1172 1158.5h0M1236.5 1132.5h0M1078.5 1136.5h0M1210 1195.5h0M1200.5 1190h0M1197.5 1145.5h0M1226 1202.5h0M1124.5 1121.5h0M1226.5 1200h0M1189.5 1174.5h0M1223.5 1190.5h0M1160.5 1150.5h0M1178 1149h0M1204 1152h0M1206 1182.5h0M1174 1117.5h0M1234 1196.5h0M1289 1161h0M1244.5 1145h0M1251 1112h0M1195.5 1184h0M1201 1169.5h0M1306.5 1114.5h0M1204.5 1176.5h0M1188.5 1145.5h0M1219 1167.5h0M1268.5 1147h0M1273.5 1167.5h0M1285.5 1133h0M1235.5 1197.5h0M1292 1114h0M1247.5 1153h0M1257.5 1170h0M1189.5 1105.5h0M1248.5 1182.5h0M1234.5 1179.5h0M1225 1199.5h0M1213 1161h0M1198 1127h0M1314.5 1113.5h0M1259 1167h0M1234.5 1146.5h0M1214.5 1196h0M1232.5 1170h0M1213 1139h0M1221 1178h0M1231.5 1168h0M1234.5 1192.5h0M1227 1199h0M1231.5 1199.5h0M1188.5 1147h0M1284.5 1129h0M1211.5 1194.5h0M1228 1198.5h0M1127 1106.5h0M1240.5 1173.5h0M1286 1137.5h0M1270 1134h0M1218.5 1158.5h0M1224 1187.5h0M1239.5 1178.5h0M1212.5 1186.5h0M1230.5 1189h0M1194.5 1174h0M1228.5 1198.5h0M1150 1157.5h0M1169 1130.5h0M1230.5 1180h0M1218.5 1184.5h0M1223 1192.5h0M1196.5 1107.5h0M1296.5 1143.5h0M1211 1168h0M1227.5 1187.5h0M1213 1187h0M1153.5 1147h0M1239.5 1164.5h0M1227.5 1193h0M1153 1115.5h0M1235.5 1177h0M1230.5 1195.5h0M1206.5 1174.5h0M1214 1188h0M1292.5 1130.5h0M1362 1126h0M1232.5 1168.5h0M1236 1175.5h0M1246.5 1127h0M1248 1104.5h0M1213.5 1173h0M1220.5 1183.5h0M1237 1135h0M1174 1158.5h0M1256.5 1154h0M1229.5 1194.5h0M1272 1148h0M1222 1201.5h0M1237 1181.5h0M1186.5 1133.5h0M1273.5 1131.5h0M1222 1186h0M1272.5 1173h0M1332 1142.5h0M1166 1152.5h0M1210 1187h0M1227.5 1198.5h0M1233 1183h0M1241 1195h0M1189.5 1130.5h0M1237 1195h0M1203 1162h0M1319.5 1108.5h0M1211.5 1148h0M1246.5 1191h0M1248.5 1178h0M1222 1186h0M1226 1203h0M1221 1158.5h0M1139 1102h0M1207.5 1157h0M1224.5 1198.5h0M1249.5 1117h0M1210 1167.5h0M1221.5 1183.5h0M1227 1201.5h0M1238.5 1110.5h0M1244 1153.5h0M1260.5 1123.5h0M1330 1125h0M1243 1190h0M1230.5 1184.5h0M1223.5 1200.5h0M1214.5 1151.5h0M1289 1125h0M1223 1180h0M1276 1149h0M1225 1201h0M1242 1104.5h0M1219 1177h0M1272 1168h0M1240.5 1177.5h0M1174 1172h0M1171 1158h0M1183.5 1163.5h0M1217 1160.5h0M1297.5 1154h0M1285.5 1106h0M1246.5 1181h0M1247.5 1185h0M1188.5 1163.5h0M1239 1178.5h0M1215 1154h0M1214 1194h0M1231.5 1177.5h0M1239 1181h0M1089 1142h0M1205 1178h0M1223 1200h0M1241.5 1195h0M1235.5 1142.5h0M1275 1175h0M1216 1191.5h0M1288 1150.5h0M1197 1156h0M1223 1193.5h0M1215 1185.5h0M1174 1106h0M1230.5 1185h0M1230.5 1191.5h0M1099 1135.5h0M1206 1184h0M1248.5 1162.5h0M1212.5 1175.5h0M1235.5 1198.5h0M1205.5 1174h0M1144.5 1107.5h0M1181.5 1160h0M1311.5 1119.5h0M1206.5 1139h0M1268.5 1119h0M1217 1189.5h0M1125 1133h0M1226 1203h0M1229.5 1190.5h0M1138.5 1157.5h0M1139 1137h0M1306 1130.5h0M1198.5 1140h0M1189.5 1124.5h0M1199 1159h0M1232.5 1143.5h0M1290.5 1164h0M1160 1152h0M1221 1175.5h0M1241.5 1183.5h0M1210 1137.5h0M1270.5 1154.5h0M1204.5 1161h0M1232.5 1199h0M1170.5 1169h0M1237.5 1183h0M1217 1112h0M1300 1111h0M1220 1169h0M1205 1178h0M1150.5 1133.5h0M1234 1195h0M1241.5 1187.5h0M1202.5 1181.5h0M1201 1179.5h0M1192 1157.5h0M1187.5 1155.5h0M1334.5 1117.5h0M1258.5 1165.5h0M1283.5 1137h0M1248.5 1182.5h0M1270 1182.5h0M1229 1167.5h0M1279.5 1165.5h0M1120 1169h0M1223 1176h0M1170 1110.5h0M1308.5 1109h0M1263 1179h0M1224.5 1199.5h0M1238 1164h0M1214.5 1197h0M1262 1147.5h0M1257 1133h0M1229 1182h0M1165.5 1148h0M1142.5 1130.5h0M1206 1165h0M1226.5 1201.5h0M1235 1190h0M1231.5 1175.5h0M1190.5 1124h0M1173.5 1148h0M1241 1166h0M1232 1171h0M1274.5 1159.5h0M1207.5 1113.5h0M1254.5 1181.5h0M1240.5 1176h0M1236.5 1179.5h0M1230 1195h0M1148 1146.5h0M1161 1161h0M1238 1157h0M1251 1111h0M1239.5 1196.5h0M1201 1188h0M1176.5 1131.5h0M1177.5 1133h0M1261 1161.5h0M1244.5 1165h0M1234 1189.5h0M1255.5 1184.5h0M1225.5 1200.5h0M1168.5 1150.5h0M1209.5 1104h0M1185.5 1138.5h0M1273.5 1152.5h0M1331.5 1105.5h0M1231 1159h0M1315 1131h0M1237.5 1190h0M1193 1147h0M1227.5 1180h0M1218 1133h0M1200.5 1183h0M1219.5 1194.5h0M1247 1177.5h0M1168.5 1143.5h0M1236.5 1195.5h0M1218 1168.5h0M1111.5 1140h0M1207.5 1185.5h0M1226 1201h0M1235.5 1152h0M1235 1174h0M1228.5 1196.5h0M1236.5 1182.5h0M1270 1144.5h0M1216.5 1172h0M1167.5 1162.5h0M1262 1155.5h0M1217 1198h0M1271 1110h0M1217 1187.5h0M1102 1119.5h0M1235.5 1170h0M1239 1160.5h0M1322 1141.5h0M1168.5 1113h0M1204 1182h0M1231.5 1167.5h0M1215.5 1135h0M1227.5 1187h0M1240 1132.5h0M1239.5 1168.5h0M1230.5 1186.5h0M1316.5 1114h0M1240.5 1179.5h0M1204.5 1120.5h0M1193 1123.5h0M1239.5 1176h0M1225.5 1203h0M1229.5 1176h0M1234 1144h0M1220.5 1192.5h0M1268 1134h0M1226 1200.5h0M1243.5 1160h0M1236.5 1066.5h0M1253 1132.5h0M1237.5 1188h0M1212.5 1147h0M1218 1197h0M1206.5 1183.5h0M1224.5 1199.5h0M1237.5 1188.5h0M1209 1156.5h0M1234.5 1168h0M1290.5 1136.5h0M1214.5 1146.5h0M1209.5 1185.5h0M1267.5 1150.5h0M1214 1170h0M1230 1176.5h0M1253 1145h0M1223 1200.5h0M1320 1121h0M1144 1153.5h0M1242.5 1183.5h0M1229 1192h0M1308.5 1145.5h0M1208.5 1105h0M1179.5 1156.5h0M1248.5 1145h0M1227 1192.5h0M1216 1178h0M1290.5 1122.5h0M1180 1138h0M1232 1195.5h0M1199 1166.5h0M1251.5 1188.5h0M1224.5 1198h0M1231 1179h0M1206.5 1185h0M1213.5 1161.5h0M1234.5 1170h0M1236 1143.5h0M1242 1169.5h0M1210 1159.5h0M1214.5 1083.5h0M1234 1172.5h0M1128.5 1150.5h0M1398.5 1113.5h0M1395.5 1147h0M1358.5 1115.5h0M1353 1105h0M1059 1157.5h0M1079 1140.5h0M1400 1150.5h0M1102 1159h0M1379.5 1142.5h0M1472 1119.5h0M1090 1148.5h0M1418 1129h0M1328.5 1164h0M1357.5 1126h0M1363.5 1159h0M1381 1161.5h0M1335 1174h0M1077 1118h0M1395.5 1141.5h0M1005.5 1129.5h0M1129 1128.5h0M1402.5 1135.5h0M1333.5 1144h0M1324.5 1124.5h0M1079.5 1169h0M1360 1154h0M1393 1115.5h0M1465 1121.5h0M1357.5 1171.5h0M1061 1116.5h0M1086 1134h0M1394.5 1155h0M1125 1112h0M1103 1130h0M1344 1130h0M1412 1150.5h0M1427.5 1146.5h0M1087 1117h0M1420 1122.5h0M1354 1164.5h0M1023.5 1144h0M1329.5 1144.5h0M1092.5 1163h0M1434.5 1116h0M1451.5 1126.5h0M1040 1112.5h0M1100.5 1139.5h0M1343.5 1169h0M1337.5 1155h0M1387 1102h0M1111.5 1110h0M1368.5 1152.5h0M1458 1140.5h0M1373 1142h0M1442.5 1133.5h0M1054 1154.5h0M1357 1145.5h0M1341.5 1173.5h0M1384.5 1145h0M1390 1150h0M1104.5 1153.5h0M1411 1123h0M1080.5 1150h0M1104.5 1152h0M1071 1139.5h0M1365.5 1102.5h0M1112.5 1114.5h0M1378 1126h0M1337.5 1135.5h0M1322.5 1162.5h0M1486.5 1131h0M1105 1153.5h0M1352.5 1172h0M1339.5 1133.5h0M1075.5 1164h0M1071.5 1138h0M1378 1106h0M1364.5 1143.5h0M1079 1165h0M1393 1157.5h0M1443.5 1124.5h0M1367 1137h0M1416.5 1143h0M1095.5 1122h0M1088.5 1160.5h0M1341 1123h0M1115 1170h0M1084.5 1147h0M1485 1104h0M1077.5 1149.5h0M1373 1152.5h0M1050 1152h0M1377.5 1137.5h0M1130 1168h0M1109.5 1158h0M1069 1109.5h0M1101.5 1161h0M1445 1122h0M1097 1151.5h0M1083 1118h0M1092 1113.5h0M1112.5 1174h0M1391 1106.5h0M1118.5 1109h0M1340 1152h0M1033 1153h0M1078 1117h0M1357 1111h0M1416 1149h0M1399.5 1145h0M1441 1127.5h0M1088 1162h0M1322 1129.5h0M1333.5 1133.5h0M1354 1140.5h0M1370.5 1158.5h0M1409 1149h0M1077 1157.5h0M1397 1125h0M1370.5 1115h0M1418.5 1117h0M1101 1166.5h0M1387 1125h0M1054.5 1129h0M1075 1131.5h0M1421.5 1142.5h0M1351 1129h0M1000 1120.5h0M1373 1128.5h0M1364.5 1124.5h0M1336.5 1166h0M1329 1156.5h0M1047.5 1143.5h0M1393.5 1102h0M1419.5 1116h0M1054.5 1132.5h0M1441.5 1133h0M1396 1153.5h0M1407 1127h0M1073.5 1156.5h0M1087.5 1118.5h0M1439.5 1149h0M1407.5 1118.5h0M1405.5 1128.5h0M1333 1104h0M1075 1129.5h0M1374.5 1121h0M1399 1134.5h0M1051.5 1142.5h0M1417 1126h0M1341.5 1121h0M1054.5 1102h0M1073.5 1141.5h0M1422.5 1133h0M1054 1155h0M1356.5 1132h0M1364 1146h0M1084.5 1110h0M1322 1149.5h0M1342 1176.5h0M1418.5 1141h0M1126 1126.5h0M1084 1134h0M1082 1114h0M1371.5 1160.5h0M1081 1146h0M1092.5 1158h0M1350 1106.5h0M1396 1150.5h0M1091 1168.5h0M1345 1153.5h0M1413 1150.5h0M1331 1102.5h0M1093 1126.5h0M1031.5 1134h0M1079 1132h0M1402.5 1149.5h0M1095.5 1157h0M1331 1165h0M1108 1161h0M1070.5 1147.5h0M1067 1149h0M1382.5 1108h0M1338 1166.5h0M1446.5 1115h0M1104.5 1159.5h0M1378.5 1149.5h0M1377 1127.5h0M1406 1106h0M1376 1111h0M1048.5 1154.5h0M1457.5 1120.5h0M1060 1141h0M1384.5 1155h0M1379 1106.5h0M1321 1130.5h0M1420 1143h0M1054 1152.5h0M1349 1122.5h0M1098.5 1148h0M1354.5 1167h0M1351 1160h0M1064.5 1153.5h0M1094.5 1148.5h0M996 1134.5h0M1332 1122h0M1068 1156.5h0M1475 1132h0M1454.5 1110h0M1366 1165.5h0M995.5 1107.5h0M1114 1105.5h0M1187.5 1114.5h0M1170.5 1181.5h0M1137 1112.5h0M1154 1184.5h0M1153.5 1104.5h0M1128 1112.5h0M1099.5 1155.5h0M1094.5 1152.5h0M1145 1106h0M1145.5 1125.5h0M1180 1114.5h0M1213.5 1103.5h0M1166 1151h0M1132.5 1127h0M1078 1139.5h0M1149 1129.5h0M1064.5 1116.5h0M1165.5 1106h0M1144 1103h0M1094 1104.5h0M1102.5 1121.5h0M1156.5 1108.5h0M1134.5 1132.5h0M1176 1142h0M1204.5 1105h0M1178.5 1150.5h0M1168.5 1144.5h0M1166 1186.5h0M1143.5 1116h0M1150.5 1102h0M1084 1102.5h0M1039.5 1112.5h0M997 1116.5h0M1079 1119h0M1071.5 1111.5h0M1099.5 1120.5h0M1085 1102.5h0M1047.5 1111h0M1074 1103.5h0M1045 1116h0M1144.5 1120.5h0M1103 1116h0M1160 1114.5h0M1061.5 1108.5h0M1140.5 1104h0M1079 1104h0M1067.5 1122.5h0M1092 1103.5h0M1048.5 1110h0M1041.5 1115h0M1092.5 1114.5h0M1079 1114h0M1126.5 1113.5h0M1193.5 1157h0M1141 1119h0M1169 1143.5h0M1156 1141.5h0M1126 1107.5h0M1173 1109h0M1154 1116.5h0M1186.5 1106h0M1214.5 1101.5h0M1179.5 1138h0M1167 1121.5h0M1180.5 1103.5h0M1139.5 1119h0M1192.5 1142h0M1164 1174.5h0M1237.5 1069h0M1164.5 1126h0M1084.5 1118.5h0M1215 1091.5h0M1155 1149h0M1196 1102h0M1215.5 1065h0M1142.5 1128.5h0M1395.5 1110.5h0M1288.5 1102.5h0M1371 1108.5h0M1378.5 1124h0M1257 1124.5h0M1260.5 1103h0M1444.5 1111h0M1245.5 1109.5h0M1245.5 1115h0M1377.5 1108.5h0M1383 1112h0M1290 1123.5h0M1287 1117.5h0M1392.5 1115h0M1407 1103.5h0M1300 1111h0M1337 1110.5h0M1416.5 1106h0M1274.5 1113.5h0M1253.5 1121.5h0M1387 1110.5h0M1319 1108.5h0M1415 1106.5h0M1380.5 1106h0M1308.5 1105.5h0M1348.5 1121h0M1407.5 1120h0M1281 1111.5h0M1374.5 1113.5h0M1414.5 1121h0M1455 1121.5h0M1471.5 1113h0M1412 1102h0M1379.5 1123h0M1275 1121h0M1364.5 1119.5h0M1359 1114.5h0M1365 1112.5h0M1320.5 1116h0M1300.5 1125.5h0M1284.5 1111h0M1348.5 1102h0M1324 1128h0M1402.5 1122h0M1339 1103.5h0M1353.5 1108h0M1334.5 1114h0M1358 1105h0M1383.5 1104.5h0M1161 1132h0M1409 1125.5h0M1451.5 1109.5h0M1340 1103h0M1311 1116.5h0M1410 1104h0M1332 1110.5h0M1329 1102h0M1301.5 1104.5h0M1376 1103.5h0M1305 1105.5h0M1415.5 1106.5h0M1416 1103.5h0M1338.5 1123.5h0M1417.5 1118.5h0M1301 1115.5h0M1244.5 1109h0M1330 1121h0M1333.5 1110h0M1391 1113.5h0M1391 1108.5h0M1311.5 1127.5h0M1320 1107h0M1426 1117.5h0M1349.5 1125.5h0M1366.5 1112.5h0M1367.5 1124.5h0M1176.5 1127.5h0M1254 1109h0M1371.5 1129h0M1266 1118h0M1390.5 1113.5h0M1446.5 1109h0M1478.5 1107.5h0M1446 1123.5h0M1327.5 1104.5h0M1332 1104.5h0M1406.5 1113h0M1350 1105.5h0M1298 1105h0M1434 1119.5h0M1296 1116h0M1416.5 1108.5h0M1401.5 1103.5h0M1370 1110h0M1338.5 1102h0M1293 1115h0M1296.5 1112h0M1273.5 1103.5h0M1305 1102.5h0M1406 1106.5h0M1316 1106.5h0M1326 1115h0M1328.5 1120.5h0M1266.5 1116.5h0M1342.5 1113.5h0M1448 1128h0M1378.5 1102.5h0M1286.5 1104.5h0M1280 1106.5h0M1247 1107.5h0M1249.5 1130.5h0M1393 1104h0M1331.5 1112h0M1213.5 1100h0M1236.5 1064.5h0M1567.5 1102h0M1576.5 1117.5h0M1530 1146.5h0" fill="none" stroke="#4E4E4E" stroke-width="4.7" stroke-linecap="round" opacity="0.93"/>
<path d="M1278.5 1099.5h0M1360.5 1055h0M1325 1082.5h0M1247 1081h0M1142.5 1052h0M1144.5 1092h0M1326 1090.5h0M1282 1096h0M1325.5 1063h0M1275.5 1083.5h0M1239 1072h0M1252 1081.5h0M1346.5 1072h0M1253 1097.5h0M1272.5 1046.5h0M1106 1100h0M1288 1098h0M1290.5 1089.5h0M1329.5 1086.5h0M1325 1075h0M1371 1063.5h0M1241 1080.5h0M1184.5 1099h0M1271 1077.5h0M1145 981.5h0M1102.5 1095.5h0M1190 1098h0M1177 1086.5h0M1194 1048.5h0M1273.5 1098.5h0M1268.5 1070h0M1116 936h0M1186.5 1019h0M1179.5 1010.5h0M1199 1028h0M1283.5 1073.5h0M1169.5 1005h0M1314.5 1011.5h0M1255 1065h0M1273.5 1055.5h0M1277.5 1080.5h0M1118 1047.5h0M1281.5 1084.5h0M1124 1092.5h0M1348 1033.5h0M1068.5 1093.5h0M1194 1063.5h0M1357 956.5h0M1313.5 1096.5h0M1267.5 1086.5h0M1116.5 1012.5h0M1134.5 1049.5h0M1271.5 1029h0M1278.5 1085h0M1285.5 1083.5h0M1098.5 1047h0M1324 1072h0M1282.5 1089h0M1251.5 1097h0M1265 1033.5h0M1328.5 1094.5h0M1411 1100.5h0M1106.5 1040h0M1321 1085h0M1113.5 1083.5h0M1361.5 1015h0M1304.5 1027h0M1303 1058.5h0M1310 1011h0M1170 1036.5h0M1269 1033.5h0M1346.5 1086h0M1144.5 1098.5h0M1312 1009h0M1121.5 1089.5h0M1074.5 998.5h0M1304.5 1037.5h0M1185 1094.5h0M1344 1051.5h0M1069.5 1061.5h0M1212.5 1050h0M1160 1085.5h0M1248.5 1059h0M1095.5 1095.5h0M1278.5 1085h0M1099.5 1081h0M1101 1040.5h0M1245.5 1101.5h0M1242.5 1088h0M1181 1098.5h0M1279 1078.5h0M1358.5 1084.5h0M1206.5 1100h0M1333 1067.5h0M1086.5 1056h0M1277.5 1037.5h0M1129 1015h0M1318 1024.5h0M1113.5 1071h0M1175.5 1094h0M1187.5 1073h0M1137.5 1100h0M1179.5 1055h0M1181 1041h0M1178 997h0M1295 1080.5h0M1079 1073.5h0M1260.5 1051.5h0M1360 1036.5h0M1146 1005h0M1121.5 1062h0M1361.5 1067.5h0M1146 1062.5h0M1342 1100.5h0M1289 1061h0M1246.5 1007.5h0M1082 1091h0M1274.5 1064.5h0M1172 1050h0M1266 1058.5h0M1282.5 1100h0M1126.5 1069.5h0M1274.5 1072h0M1164 1085h0M1314.5 1097h0M1329 1061.5h0M1356.5 1082.5h0M1414.5 1040h0M1268.5 1091h0M1210 1094.5h0M1144 1074.5h0M1105 1074.5h0M1286.5 1006.5h0M1331 1002h0M1300.5 1049h0M1257.5 1099.5h0M1100 982.5h0M1336.5 1034h0M1106.5 997h0M1200.5 1086h0M1151.5 974h0M1196 1052h0M1129 1063h0M1277.5 1090h0M1196 1068h0M1250.5 1078h0M1272 1071.5h0M1304 1051h0M1277.5 1018h0M1123.5 1019.5h0M1251.5 1058h0M1189.5 1076.5h0M1272.5 1071h0M1297.5 1090h0M1344.5 1074h0M1099.5 1092.5h0M1179.5 1009h0M1090.5 1072h0M1380 1016.5h0M1121 998.5h0M1334.5 987.5h0M1203 1086.5h0M1262 1040.5h0M1134 1090.5h0M1296.5 1095.5h0M1099.5 989h0M1105.5 1099h0M1206 1099.5h0M1297 1024h0M1374 1023.5h0M1253.5 1074h0M1158 959h0M1318 1046.5h0M1314.5 1040.5h0M1130.5 1101h0M1312.5 1037h0M1313 1082h0M1321 1098.5h0M1181.5 1098.5h0M1254 1083h0M1342.5 951h0M1353.5 1037.5h0M1176 1046.5h0M1309 939h0M1294 1096.5h0M1356.5 1005h0M1317 1078h0M1315 1099.5h0M1097.5 1093h0M1243 1065.5h0M1276 1073h0M1201 1102h0M1170 1093h0M1258 1095.5h0M1088.5 1100.5h0M1265 1084.5h0M1309 1098.5h0M1365.5 1018.5h0M1194 1018h0M1096 1083.5h0M1285 1085h0M1149.5 1067h0M1197.5 1069h0M1199 1079.5h0M1354.5 1089.5h0M1190.5 1094.5h0M1315.5 1064.5h0M1260 1075.5h0M1202 1091.5h0M1255.5 1101.5h0M1157.5 1079.5h0M1179.5 1096h0M1339 1098h0M1336.5 984h0M1207 1087h0M1244.5 1099h0M1321 1089h0M1193 1092h0M1242.5 1089h0M1311 1084h0M1151 1091h0M1284 1087.5h0M1296.5 1002h0M1196 1032h0M1163.5 1084h0M1193.5 1040h0M1263.5 1074h0M1145.5 1043h0M1116 1031h0M1358.5 1093h0M1072 1053h0M1145 1028.5h0M1162.5 1060h0M1280.5 1094.5h0M1171.5 1089h0M1333 1072.5h0M1167.5 982h0M1090 1061.5h0M1089 1061.5h0M1089 1020.5h0M1144 1080.5h0M1305.5 1069h0M1111 919.5h0M1130 1044h0M1321.5 1044.5h0M1146.5 1026h0M1279.5 1081.5h0M1074.5 1048.5h0M1159.5 1072h0M1207.5 1030h0M1198 1076h0M1263 1073.5h0M1113.5 1036.5h0M1318.5 1060.5h0M1408 1067.5h0M1175.5 1082.5h0M1310 1097h0M1273.5 1086h0M1286 1068.5h0M1326.5 1068h0M1122 1005h0M1076 1058.5h0M1133 1101h0M1154.5 1082.5h0M1075 1044h0M1147 1101.5h0M1344.5 1067.5h0M1071 1080h0M1348.5 1064h0M1318.5 1008h0M1362.5 1052.5h0M1264.5 998h0M1340.5 1086h0M1205 1070h0M1118 1066h0M1341.5 1083h0M1281.5 1080.5h0M1165 981h0M1150 1092.5h0M1357 1049.5h0M1281 1085h0M1269.5 1047h0M1352 1045h0M1150 1026h0M1189.5 1067h0M1204.5 1100.5h0M1143 1053.5h0M1250 1048.5h0M1277 1099h0M1159 1095.5h0M1208.5 1050.5h0M1268.5 1094.5h0M1389.5 945.5h0M1249.5 1096h0M1124 1079.5h0M1134 988h0M1180.5 1092.5h0M1088.5 1015h0M1361.5 1054.5h0M1342 1084h0M1269.5 1097.5h0M1181 1072h0M1298.5 1078h0M1052.5 1094.5h0M1178.5 954.5h0M1149.5 1000h0M1278 1097h0M1255.5 1049h0M1198 1076h0M1321 1064h0M1199 1078h0M1163 1077.5h0M1107.5 1086h0M1138.5 1096h0M1171 1083.5h0M1263 1096.5h0M1251 1067h0M1258.5 1066h0M1149 1091h0M1307 1014.5h0M1199 1074.5h0M1185.5 1097.5h0M1188.5 1098.5h0M1333.5 1065h0M1102.5 1071h0M1334.5 1078h0M1147 1079.5h0M1172.5 1100h0M1247 997.5h0M1283 1041.5h0M1345 1008.5h0M1125.5 1082h0M1141 1068.5h0M1143 1099h0M1260.5 991.5h0M1325.5 1042.5h0M1348.5 1041.5h0M1181.5 1072h0M1266 1076.5h0M1211.5 1079.5h0M1354 1095.5h0M1336 1015.5h0M1130 1013h0M1181.5 1092.5h0M1146.5 1077.5h0M1306.5 1087.5h0M1344 1084.5h0M1073 1100.5h0M1346 1096.5h0M1295.5 1079h0M1300 1067.5h0M1296.5 1076h0M1093.5 1060.5h0M1165 933h0M1162.5 1090h0M1097 872.5h0M1269.5 948.5h0M1329 1028.5h0M1291 1053h0M1200.5 1085h0M1408 1091.5h0M1183.5 1081.5h0M1204 1075.5h0M1154.5 1051.5h0M1242 1076h0M1307 1033.5h0M1275 1098h0M1277 1057.5h0M1301 1051h0M1117 1060h0M1209.5 1079.5h0M1196 1096.5h0M1209.5 1090h0M1320.5 1028.5h0M1257 1081.5h0M1286.5 1056h0M1349.5 1064h0M1196 1018h0M1106 998h0M1202 1084.5h0M1321 1039h0M1321.5 1015.5h0M1376.5 889.5h0M1175 1091h0M1271 1092.5h0M1339.5 1015.5h0M1341 1051.5h0M1190 1022.5h0M1170.5 1096.5h0M1169.5 1020h0M1270 1026.5h0M1284 1092.5h0M1101 1087h0M1318 972h0M1261 1076h0M1488 1101.5h0M1363.5 1099.5h0M1412.5 1097.5h0M1110.5 1097.5h0M1367.5 1100.5h0M1377 1098h0M1105 1098.5h0M1378 1099.5h0M1320.5 1100h0M1119.5 1018h0M1090 956.5h0M1136 986h0M1096.5 910h0M1037 974h0M1086.5 985.5h0M1055.5 1027.5h0M1079.5 1058.5h0M1058.5 839.5h0M1070.5 879h0M1084.5 920.5h0M1058.5 917h0M1077.5 1024.5h0M1093 1036h0M1074 990.5h0M1110.5 1025h0M1161.5 1015h0M1069 997.5h0M1169 1074h0M1113 1052h0M1056.5 958h0M1062.5 870h0M1091 938h0M1077 1020.5h0M1131 1082.5h0M1146.5 1005.5h0M1159.5 1051h0M1129.5 1051.5h0M1069 893h0M1072 965h0M1046.5 873.5h0M1049.5 883h0M1045.5 946h0M1090.5 955h0M1118 1007.5h0M1116 1082.5h0M1149.5 1037.5h0M1079 1013h0M1064 840h0M1074.5 1042h0M1125.5 1026h0M1116.5 1007.5h0M1151 1025.5h0M1063 944h0M1106 948h0M1135 1059h0M1061 950h0M1096 985h0M1065.5 1046.5h0M1098.5 946.5h0M1106 927h0M1101.5 1014.5h0M1071.5 1019.5h0M1119.5 1048.5h0M1067.5 997.5h0M1132.5 932h0M1131 1097.5h0M1090 840.5h0M1031.5 960.5h0M1062.5 1003h0M1035.5 1079.5h0M1115.5 1000.5h0M1076.5 980h0M1111 1020.5h0M1128 1084h0M1080 831h0M1130 1053h0M1107.5 939h0M1134.5 991h0M1046 838h0M1046 924.5h0M1033 848.5h0M1106 1038.5h0M1012.5 938.5h0M1095 997.5h0M1075 969h0M1103.5 920h0M1125.5 1095.5h0M964.5 826.5h0M1047 937.5h0M1083 1007h0M1116.5 950.5h0M1072.5 970.5h0M1054.5 814.5h0M1036 792.5h0M1154 1087h0M1099.5 955.5h0M1128 1039.5h0M1165.5 1002h0M1116 990.5h0M1047 821h0M1109 1022h0M1130.5 1055h0M1052 801.5h0M1087.5 1086h0M1108 950h0M1144 996.5h0M1030.5 861h0M1078.5 928.5h0M1114 1061.5h0M1074.5 987.5h0M1110.5 964h0M1083 968.5h0M1107.5 1048.5h0M1086 973.5h0M1031.5 1010.5h0M1069.5 921h0M1103 1063.5h0M1135.5 967.5h0M1066.5 865h0M1095.5 868h0M1091.5 1089.5h0M1101.5 1000.5h0M1129.5 971.5h0M1143 1043h0M1094 955.5h0M1101 923.5h0M1097.5 1011.5h0M1071 806.5h0M1177 1041h0M1106 1017h0M1064.5 832.5h0M1092.5 978.5h0M1167.5 1045h0M1110 1052h0M1048 818h0M1149.5 1043h0M1077.5 963h0M1139 1001.5h0M1155 986.5h0M1105.5 1003.5h0M1082.5 1030h0M1039.5 948.5h0M1154.5 977.5h0M1015 870.5h0M1132 923.5h0M1208 1044.5h0M1126 896.5h0M1104.5 1039.5h0M1076.5 936h0M1126 1026h0M1122 926h0M1014.5 834.5h0M1100 1015.5h0M1112 1051h0M1081.5 963.5h0M1068 909h0M1037 880.5h0M1145 1037h0M1101.5 1047.5h0M1100.5 1033h0M1067.5 936h0M1095 893h0M1045.5 1060.5h0M1127 1033.5h0M1082.5 942h0M1099.5 983h0M1007 791.5h0M1083 986h0M1095 1073.5h0M1140.5 1059h0M1175.5 1075.5h0M1141 1030.5h0M1099 950h0M1179 1067.5h0M1059.5 806h0M1086 984.5h0M1024.5 833h0M1108 902h0M1120 938.5h0M1196.5 1097.5h0M1145 966.5h0M1160 1043.5h0M1083 923h0M1023 931.5h0M1102 1034h0M1059.5 962.5h0M1071 899.5h0M1120.5 948.5h0M1042.5 1047h0M1164 1010h0M1072.5 928h0M1151 975.5h0M1008 787h0M1114.5 911.5h0M1071.5 838.5h0M1123 988.5h0M1075.5 839.5h0M1087 954.5h0M1009 951h0M1001 807.5h0M1014.5 845h0M1044.5 948.5h0M1107 979h0M1136.5 941.5h0M1141.5 1050h0M1042.5 877.5h0M1075.5 910.5h0M1122.5 912.5h0M1067 962.5h0M1110.5 965h0M1032 907h0M1081 908.5h0M1065 905.5h0M1067.5 940h0M1077 962.5h0M1128 1077.5h0M1108.5 971.5h0M1191.5 1096h0M1107.5 1051.5h0M991 1001h0M1099.5 874.5h0M1059 889.5h0M1067 872h0M1099.5 939h0M1027.5 960.5h0M1097.5 1003.5h0M998.5 968.5h0M1019.5 992h0M1181 1101.5h0M1017.5 864.5h0M1060 846h0M1085.5 866h0M1153.5 1038h0M1015.5 860h0M1081 931h0M1092 956.5h0M1107 1012.5h0M1153 1005.5h0M1066.5 899h0M1142.5 1045h0M1121.5 1029.5h0M1124 972.5h0M1028.5 840h0M1110 933h0M1096 1040.5h0M1110 990.5h0M1125.5 1075h0M1160 992.5h0M1146 987.5h0M1127.5 1042h0M1062 928.5h0M1065 876h0M1099 1009.5h0M1011 883.5h0M1106.5 923h0M1076 908.5h0M1120.5 931h0M1085 901h0M1122 912h0M1140.5 1001h0M1091 849h0M1078.5 1019.5h0M1078.5 1002.5h0M1126 1051.5h0M1132 1018h0M1149.5 1008.5h0M1085.5 937.5h0M1063.5 904h0M1042.5 899.5h0M1102.5 1022h0M1156 1028.5h0M1109 903.5h0M1064.5 918.5h0M1050 856h0M1074.5 854h0M1053 932.5h0M1158.5 1003h0M1014 1068.5h0M1134 992.5h0M1075 986h0M1196.5 1086.5h0M1029 789h0M1053.5 965.5h0M1053 944.5h0M1109.5 966.5h0M1121.5 912.5h0M1085 990h0M1128 997.5h0M1036.5 934h0M1140.5 987h0M1048.5 944h0M1146.5 1053h0M1211 1057.5h0M1089.5 967.5h0M1137 1091.5h0M1070.5 932h0M1109.5 1016.5h0M1162.5 1013.5h0M1072 956.5h0M1170 966.5h0M1146 1060h0M1105.5 970h0M1060 1047h0M1022 858.5h0M1029.5 896h0M1116 1079.5h0M1096 989.5h0M1021 842h0M1049 892.5h0M1009.5 826.5h0M1146 1054h0M1094.5 1022.5h0M993.5 1015h0M1111.5 996.5h0M1122.5 1030h0M1130 923h0M1030.5 954h0M1148.5 1007.5h0M1069 940.5h0M1013.5 1081.5h0M1108.5 896.5h0M1066.5 921h0M1128.5 969.5h0M1097 955h0M1022.5 895.5h0M1041 853.5h0M1059.5 951h0M1095.5 1022h0M1078.5 1024.5h0M1095.5 920.5h0M1151.5 1055.5h0M1041.5 842h0M1047.5 903.5h0M1038.5 835h0M1046.5 930.5h0M1111 924.5h0M1089 864h0M1128.5 983.5h0M1066 992h0M1083.5 895h0M1140 1051.5h0M1116 914.5h0M1108 1004h0M1051.5 880.5h0M1094.5 917h0M1134.5 966.5h0M1087.5 934.5h0M1007.5 911.5h0M1200.5 1084h0M1020.5 857.5h0M1109.5 1082.5h0M1054 916h0M1073.5 906h0M1126 965.5h0M1090 1021h0M1112.5 978h0M1039 885.5h0M1131.5 926h0M1019 810h0M1092.5 1016h0M1201 1041.5h0M1136 983h0M1085 950.5h0M1099 960h0M1068 942.5h0M1143 982.5h0M1063.5 920.5h0M1130 1053.5h0M1100.5 876h0M1172.5 993.5h0M1105 960h0M1072.5 982.5h0M1081 929h0M1077 907h0M995 827.5h0M1106 993h0M982.5 892.5h0M1059.5 921h0M1066 1062h0M1135.5 1039.5h0M1090.5 882.5h0M1168 1082h0M1031.5 1052.5h0M1018.5 1064h0M1107 889.5h0M1086.5 999.5h0M1153.5 1025.5h0M1139 1008.5h0M1168.5 1087.5h0M1171.5 1077.5h0M1151 905.5h0M1247.5 1047.5h0M1073.5 867h0M1018 1071h0M1087.5 972h0M1075 887h0M1087.5 883.5h0M1172.5 1061.5h0M1058.5 911.5h0M1035 810.5h0M1028.5 1008h0M1064 931.5h0M1054 899h0M1122 1008h0M1029 1030h0M1102 976h0M1076 1015.5h0M1150.5 1009.5h0M1077.5 971.5h0M1092.5 962h0M1000 842.5h0M1043 853h0M1126.5 1012h0M1085.5 903.5h0M1099 985h0M1064.5 998h0M1118 949h0M1098 999h0M1108 1030h0M1105.5 898.5h0M1136 1068h0M1079.5 949h0M1129 1047h0M1085.5 1000h0M1061 876.5h0M1084.5 982h0M1105 912h0M1092 1045h0M1039 797h0M1035.5 971.5h0M1159.5 1087h0M1024 1024.5h0M1096 913.5h0M1057 849.5h0M1111 1057.5h0M1143.5 993h0M1164 1064.5h0M1086.5 922h0M1076 922.5h0M1084.5 1002h0M1125 1070.5h0M1076.5 1058h0M1169 1043h0M1074.5 931.5h0M1056.5 930.5h0M1177 1100.5h0M997 867h0M1049.5 904.5h0M1099 972.5h0M1065.5 912h0M1094.5 943h0M1137.5 919.5h0M1098.5 1045.5h0M1103 1021h0M1065 971.5h0M1175.5 1093.5h0M1120 1076.5h0M1122.5 1009.5h0M1156 974.5h0M1105 969h0M1111 982.5h0M1016 847.5h0M1083 910.5h0M1070 1076.5h0M1137 968.5h0M1093 907h0M1060.5 915.5h0M1064.5 961h0M1131.5 1044.5h0M1009 1038h0M1074.5 1005h0M1066 888.5h0M1093 995.5h0M1120 1083.5h0M1030.5 948h0M1033.5 849h0M1128 1057.5h0M1055 913.5h0M1160.5 1078h0M1021.5 871h0M1097 955h0M1096.5 930.5h0M1041 895h0M1061.5 893.5h0M1126.5 969h0M990.5 866.5h0M1039.5 870.5h0M1158.5 1018h0M1093 998h0M1125 950h0M998.5 963h0M1008.5 1014h0M1049 959.5h0M1158 1038h0M1111 977.5h0M1097 938.5h0M1115 1021.5h0M1116 973.5h0M1030.5 900h0M1125 882h0M1038 953.5h0M1110 1051.5h0M1112 964.5h0M1150.5 998h0M1069.5 964.5h0M1050 995h0M1050.5 849h0M1127 1069.5h0M1088 880h0M1129.5 1079h0M1129 935.5h0M1118.5 1058h0M1093 1029h0M1143.5 1008h0M1131.5 978.5h0M1183.5 1088h0M1082.5 1050.5h0M1085 906.5h0M1003.5 979.5h0M1066 809h0M1061.5 883.5h0M1067 851h0M1178 1003h0M1111.5 1042.5h0M1096 972.5h0M1086 818h0M988.5 1037.5h0M1054 924h0M960 789h0M1127 1073h0M1112 873.5h0M1103.5 915.5h0M1048 800.5h0M1074.5 973h0M1035.5 1088h0M1073.5 1016.5h0M1177.5 1047.5h0M986 1021h0M1134.5 988.5h0M1067 885.5h0M1047 1035.5h0M1151.5 1059h0M1097 978.5h0M1082 917h0M1067.5 849.5h0M1109.5 914h0M1057.5 875.5h0M1134.5 994.5h0M1152.5 1038.5h0M1112.5 970h0M1111.5 965.5h0M1152 1020h0M1134 1006.5h0M1075 956.5h0M1074 979.5h0M1094 962h0M1069.5 903h0M1138 980.5h0M1023 1029.5h0M1094.5 1017h0M1130.5 936.5h0M1172 1053.5h0M1052.5 1046h0M1130.5 1018.5h0M1047 1004.5h0M1023.5 898h0M1074 951h0M1024 998.5h0M1150 1010h0M1086 1050.5h0M1074 952h0M970.5 864h0M1092 950.5h0M1099 954.5h0M1118.5 986.5h0M1063 1045h0M1121.5 921.5h0M1075.5 819.5h0M1103.5 1023h0M1096.5 973h0M1093.5 968.5h0M1037.5 1049.5h0M1077 900.5h0M1083.5 1091h0M1096 973.5h0M1102.5 966.5h0M1029.5 1010h0M1052.5 887.5h0M1039 994h0M1110.5 980.5h0M1089.5 1049h0M1080 929h0M1123.5 944.5h0M1127.5 991.5h0M1053.5 963.5h0M1064.5 1028.5h0M1099 928h0M1108 1032h0M1097 1060h0M1091.5 863.5h0M1175 1091h0M1020 847.5h0M1111 884.5h0M1140 986h0M1168 995.5h0M1009 882h0M1152.5 1079h0M1087 942.5h0M1082.5 987h0M1136 1055h0M1072 914h0M1063.5 970h0M1061 913h0M1108.5 1000h0M1085.5 1071.5h0M1018.5 1039.5h0M1097 845h0M1114.5 982.5h0M1091 1001.5h0M1064 1086.5h0M1058.5 1048.5h0M1118.5 1034h0M1094.5 1021h0M1085 1037.5h0M1184.5 1096h0M1098 1088.5h0M1137.5 1071h0M1020 1016.5h0M1147 1036h0M1068 1066h0M1117.5 1072h0M1008 1072h0M1120.5 1029.5h0M1146.5 1096h0M1070.5 1063h0M1151 1029h0M1090 1050h0M1093 1025h0M1027 1084.5h0M1084 1044.5h0M1061.5 1076h0M1020 1001h0M1094.5 1007h0M1041 991h0M1170 1058.5h0M1099.5 1056.5h0M1116.5 1074h0M1030.5 1024.5h0M1014 1091h0M1084.5 1066h0M1058 1026h0M1066 1068.5h0M1162 1035.5h0M1096.5 996.5h0M1049.5 1076h0M1080 969.5h0M1028 1084.5h0M1066.5 1067h0M1059.5 1072.5h0M1138 1043h0M1059 960.5h0M1098 949.5h0M1020.5 1064h0M1160 1098h0M1039 1050.5h0M1102 1099.5h0M997.5 1014.5h0M1115.5 1073h0M1077 1001.5h0M1062 1069.5h0M1073.5 1004.5h0M1049.5 940h0M1110.5 1087h0M1063.5 900.5h0M1022.5 1063.5h0M1076.5 1014h0M1082 1043.5h0M1091 968.5h0M1073 979.5h0M1086.5 1066h0M991.5 1079.5h0M1046 1035h0M1039.5 981h0M1127.5 1087.5h0M1095 1079h0M1078 915.5h0M1138 1050h0M1102.5 893h0M1108 1092.5h0M1131.5 968.5h0M1115 1052h0M1054.5 1051.5h0M1157 1072h0M1085.5 977h0M1047 922.5h0M1124 1072h0M1091.5 970h0M1034 1048h0M1059.5 1015.5h0M1043.5 946h0M1064 1072.5h0M1034.5 1072.5h0M1076 1068h0M1178 1062h0M1012 1058.5h0M1118 1047h0M1015 1041h0M1020 970h0M1074 1039h0M1080 1066h0M1140.5 1055.5h0M1065 929h0M1044 1038.5h0M1118 969.5h0M1097.5 1072.5h0M1129 1097h0M1105.5 918h0M1038.5 981.5h0M1114 1096.5h0M1086 1098.5h0M1105 1071h0M1156 1079.5h0M999 1046.5h0M1033.5 1067h0M1117.5 1020.5h0M1117 987.5h0M1082.5 925.5h0M1125.5 1040.5h0M1114.5 922h0M1108 1007.5h0M1171.5 1015.5h0M1085.5 934.5h0M1077 937.5h0M1101.5 1022.5h0M1091 902h0M1134.5 991h0M1092 940.5h0M1076.5 924.5h0M1108.5 976h0M1070.5 916.5h0M1079 938h0M1055 921.5h0M1114.5 941.5h0M1118.5 1091h0M1114.5 981.5h0M1124 963.5h0M1089 953.5h0M1079.5 964.5h0M1058 961h0M1131.5 1015.5h0M1062.5 1002.5h0M1123.5 1046.5h0M1026 899.5h0M1082 940h0M1096 988h0M1057 924h0M1071.5 926h0M1146.5 1027.5h0M1085.5 995h0M1064 892h0M1144 1024h0M1107 989h0M1148 1013h0M1124 983h0M1081 917h0M1119 980h0M1109 943.5h0M1099.5 999.5h0M1103 1015h0M1092 956h0M1074.5 948h0M1068.5 937h0M1059.5 904h0M1096.5 985.5h0M1091.5 920h0M1116 1059h0M1126.5 1042h0M1115 976.5h0M1106 979h0M1087.5 949.5h0M1101.5 953.5h0M1133 1032.5h0M1093.5 948.5h0M1058 910.5h0M1082.5 980.5h0M1119.5 969h0M1085 934h0M1114.5 989.5h0M1100.5 961.5h0M1079.5 885.5h0M1121.5 1013.5h0M1068 924.5h0M1134.5 958.5h0M1118 1018h0M1102.5 977.5h0M1129.5 1000.5h0M1174.5 1018.5h0M1092 969h0M1136 1037.5h0M1119.5 958.5h0M1053 889h0M1081 943.5h0M1131 997h0M1125.5 1028h0M1060.5 914.5h0M1124.5 946.5h0M1152.5 1028h0M1046 898.5h0M1114.5 992.5h0M1127 1044.5h0M1143.5 1014.5h0M1115 978h0M1078 898h0M1137 1019h0M1100.5 962.5h0M1039.5 909h0M1088 973.5h0M1118.5 935h0M1134.5 1051.5h0M1093.5 929h0M1095.5 983h0M1093 963.5h0M1066.5 950.5h0M1092.5 1015h0M1088.5 956.5h0M1107 962.5h0M1166 1039.5h0M1129 1061h0M1092 1017.5h0M1114.5 1002.5h0M1109.5 1076h0M1049 943h0M1119.5 974h0M1088.5 968h0M1093.5 1024h0M1091 1006h0M1110.5 955.5h0M1068.5 939h0M1100 987h0M1078.5 967.5h0M1056 988h0M1135.5 1075h0M1086 973h0M1029 832.5h0M1079 970h0M1115.5 951h0M1094 1046h0M1143 1002h0M1101 1006.5h0M1096 927.5h0M1087 916h0M1100.5 984h0M1079.5 998.5h0M1106.5 996.5h0M1122.5 1005h0M1104 1011h0M1109.5 984.5h0M1106 953.5h0M1074.5 923h0M1122 1029h0M1085.5 1014h0M1127.5 1059.5h0M1055 897h0M1082 913.5h0M1092.5 969.5h0M1111 1030.5h0M1092.5 997.5h0M1081.5 995h0M1102.5 1079h0M1138 987h0M1099.5 972h0M1092 947h0M1084.5 940h0M1150 1077h0M1103.5 1001.5h0M1078 996.5h0M1072.5 936.5h0M1027.5 922.5h0M1122.5 1022h0M1031 885.5h0M1103.5 985h0M1114 977.5h0M1075.5 903h0M1083.5 1016h0M1072.5 922h0M1086 967.5h0M1116.5 993h0M1095.5 992.5h0M1103.5 979.5h0M1105 1010.5h0M1102.5 914.5h0M1139 992.5h0M1127 1049h0M1106.5 934.5h0M1069.5 924h0M1153 1072h0M1103.5 947.5h0M1103 969.5h0M1147.5 1016h0M1094 997.5h0M1177 1022h0M1065.5 927h0M1158.5 1033.5h0M1089.5 950.5h0M1130 1041h0M1069.5 888.5h0M1107 955.5h0M1142 978h0M1148.5 965.5h0M1114 992h0M1105.5 948.5h0M1123 1025h0M1125 1016.5h0M1126 1027.5h0M1126.5 1063h0M1076.5 1023.5h0M1170 1066h0M1105 950.5h0M1098.5 963h0M1155.5 1064h0M1104.5 1017.5h0M1114 1002h0M1122.5 1043.5h0M1092 1002.5h0M1116.5 1031.5h0M1107.5 1026h0M1108.5 940h0M1109 973.5h0M1130 1082.5h0M1056 936.5h0M1089 966.5h0M1137.5 992.5h0M1108 1044.5h0M1092 984.5h0M1106.5 1007h0M1118.5 994.5h0M1152 1049.5h0M1091.5 947h0M1111.5 1003h0M1107 992.5h0M1079.5 963.5h0M1097.5 955h0M1072 972.5h0M1040 877h0M1149.5 1001.5h0M1134.5 1033h0M1071 949.5h0M1097 927.5h0M1100.5 975h0M1142.5 1008h0M1158 1018h0M1097 935h0M1042.5 917h0M1107.5 1064h0M1127.5 990.5h0M1100 959h0M1091 967h0M1098.5 957h0M1107 906h0M1085 976.5h0M1137.5 1035.5h0M1135 1070h0M1109 940h0M1054.5 955h0M1060 943h0M1034.5 853h0M1094.5 1052h0M1138.5 1038.5h0M1105.5 951.5h0M1083 919h0M1091 939h0M1103 988h0M1091.5 928h0M1087 980h0M1141 975.5h0M1111 1018.5h0M1064.5 914h0M1142.5 1063h0M1039 882h0M1183.5 1031h0M1093 974.5h0M1158 1058h0M1131.5 1014h0M1104.5 1012h0M1084 951.5h0M1189 1089.5h0M1075.5 949.5h0M1109.5 1004h0M1114.5 979h0M1137.5 969.5h0M1077.5 938h0M1148 1061h0M1157.5 1062h0M1085.5 942.5h0M1143 1042h0M1079.5 976.5h0M1117 959h0M1141.5 1033.5h0M1129.5 992.5h0M1108 998h0M1188 1061h0M1100 969.5h0M1096 956h0M1135 1071h0M1080 947h0M1099.5 1000h0M1190 1029.5h0M1065.5 955h0M1118 1020.5h0M1148.5 1006.5h0M1111.5 1049h0M1119 1015.5h0M1104.5 978.5h0M1132.5 1007.5h0M1058.5 986.5h0M1109 967h0M1163 1039h0M1076.5 921h0M1143.5 1023.5h0M1114 1016.5h0M1099.5 946h0M1089 985.5h0M1079 991.5h0M1078 961h0M1114 1049h0M1101 997h0M1087.5 954h0M1140.5 1050h0M1164 1000.5h0M1108 961.5h0M1113 1089h0M1075 941h0M1099.5 986h0M1080.5 1023.5h0M1054.5 943.5h0M1102.5 951h0M1131.5 997h0M1064 976.5h0M1129.5 1062.5h0M1121.5 939h0M1130.5 1020h0M1110 964.5h0M1077 883.5h0M1131 1012.5h0M1099.5 990h0M1121.5 1012.5h0M1096 989.5h0M1121.5 1023h0M1114 1015h0M1100.5 1036h0M1096.5 956h0M1141 1091h0M1092 979h0M1121 937.5h0M1156.5 1006.5h0M1086 970h0M1091.5 1007.5h0M1129 1031h0M1067.5 958h0M1134.5 1032h0M1102 977.5h0M1088 950h0M1070.5 966h0M1152.5 1055h0M1090 945h0M1129 1010.5h0M1105 980h0M1098.5 957h0M1049 892.5h0M1090.5 981h0M1101 915h0M1102.5 989h0M1089.5 980h0M1128 983.5h0M1131 1067h0M1123 1000.5h0M1168 1058h0M1092.5 994h0M1086 982h0M1139 1025h0M1105 972.5h0M1152 994h0M1079 916h0M1052.5 962h0M1116.5 982.5h0M1132 1039.5h0M1069 941.5h0M1138 1014.5h0M1143 1044h0M1089 963.5h0M1115 1014h0M1163.5 1077.5h0M1085 920.5h0M1106 957.5h0M1062 1049.5h0M1063.5 964.5h0M1157 991h0M1106.5 990.5h0M1119.5 1005.5h0M1113.5 986.5h0M1109 1074h0M1081 896.5h0M1119.5 991.5h0M1173 982h0M1171 948.5h0M1191.5 980.5h0M1160.5 941h0M1125.5 1008h0M1124 1005.5h0M1161.5 977.5h0M1071 924h0M1136.5 1091h0M1161.5 1028h0M1145.5 1057h0M1191.5 1010h0M1152.5 941.5h0M1190.5 1010h0M1149.5 1055.5h0M1166 1038h0M1127 1045.5h0M1178.5 1068.5h0M1132.5 1018h0M1143.5 1057h0M1150 1031h0M1109.5 983.5h0M1115.5 983h0M1082.5 1014h0M1140.5 1048h0M1141.5 1016h0M1065.5 955.5h0M1173.5 1029h0M1157.5 1009h0M1202 989.5h0M1150 1013.5h0M1128 998h0M1152 1022h0M1176 1049h0M1163.5 1038h0M1132 1077.5h0M1197 1006h0M1140.5 1004h0M1169 997h0M1198.5 1013.5h0M1114 1048.5h0M1130 1012h0M1151.5 991.5h0M1179.5 964h0M1137 941.5h0M1137 1038.5h0M1155 989h0M1181 974.5h0M1184 1019.5h0M1197 1026.5h0M1182 1024.5h0M1137.5 933.5h0M1191 1040.5h0M1106 967h0M1185.5 1037h0M1081.5 1024h0M1203.5 1040h0M1178.5 1044.5h0M1112.5 982.5h0M1179.5 968h0M1193 967.5h0M1176.5 1043.5h0M1085.5 934.5h0M1148 969.5h0M1111 1061h0M1170 1019h0M1143.5 1087.5h0M1146.5 1020.5h0M1278.5 1005h0M1142.5 1019h0M1188 973h0M1173 1010h0M1154 1000.5h0M1155.5 1024h0M1180 1100.5h0M1185.5 1031.5h0M1190 1024h0M1126.5 996.5h0M1131 1001h0M1121 964h0M1171.5 977.5h0M1181.5 1049h0M1178.5 1046.5h0M1092 1030.5h0M1125 923h0M1165.5 1021.5h0M1181 1012.5h0M1168 992h0M1185.5 989.5h0M1181.5 1013.5h0M1211 1037.5h0M1118.5 1003.5h0M1198.5 999.5h0M1120 1086h0M1164 1047.5h0M1181.5 1074.5h0M1187 1027h0M1106.5 1025.5h0M1176 960h0M1190 1008h0M1174.5 966.5h0M1151.5 920.5h0M1173.5 911.5h0M1207.5 1032.5h0M1126 1079.5h0M1138.5 1065h0M1153 1053.5h0M1131 1019h0M1106 1060.5h0M1188.5 1039.5h0M1140 967h0M1112 1043h0M1143 1026h0M1129 970h0M1154 1036.5h0M1187.5 1012.5h0M1120.5 1022.5h0M1151 1034.5h0M1166.5 1016.5h0M1150 1006.5h0M1136.5 1096.5h0M1152.5 917h0M1168.5 954.5h0M1127.5 1015h0M1168.5 964h0M1182 1058h0M1193.5 1052h0M1083 956.5h0M1158 1090.5h0M1131.5 1039h0M1145 1019h0M1169.5 1050h0M1197.5 1009.5h0M1149 1043h0M1187 986.5h0M1147 1018h0M1121.5 990.5h0M1132 1000h0M1209 1005h0M1122.5 1058.5h0M1172.5 1051h0M1139 1046h0M1163.5 1001h0M1175.5 1028.5h0M1205.5 1063h0M1158.5 1034.5h0M1168.5 972h0M1188.5 1011h0M1141.5 962.5h0M1126 945h0M1190.5 1047.5h0M1155.5 1027h0M1168.5 1034.5h0M1153 993h0M1179.5 1024h0M1163.5 995h0M1165.5 960h0M1160 1071h0M1158 1082h0M1153.5 942h0M1152 976h0M1183 948.5h0M1190.5 1032h0M1200 968.5h0M1156 1064.5h0M1170.5 1045h0M1069 1059.5h0M1107 1001h0M1181.5 1064h0M1194 945h0M1189.5 966h0M1159 1006h0M1136 1064.5h0M1137 1101h0M1154 982.5h0M1135.5 1065h0M1140.5 1007.5h0M1153.5 1099h0M1174.5 994.5h0M1175.5 971h0M1165 1077h0M1161.5 1063.5h0M1162.5 1029.5h0M1146.5 1059.5h0M1136 951.5h0M1196.5 1083h0M1154 1074.5h0M1150.5 1038h0M1154.5 1089.5h0M1154 1028.5h0M1193.5 1046h0M1125 1101.5h0M1131 1090.5h0M1159 999h0M1147 945h0M1167.5 937.5h0M1155 1081.5h0M1133 1059.5h0M1131.5 1003h0M1211.5 1051.5h0M1204.5 1068.5h0M1156.5 972.5h0M1139.5 1081.5h0M1156.5 967h0M1131 1048.5h0M1168.5 984.5h0M1193 1032.5h0M1122 1038h0M1192.5 948h0M1143 975.5h0M1143.5 1023.5h0M1160.5 1099.5h0M1205.5 1026h0M1138 991h0M1096 1080h0M1140 1021.5h0M1156.5 1050.5h0M1138.5 1083h0M1139.5 1068h0M1157.5 1035h0M1243 1085.5h0M1121.5 1010.5h0M1207.5 1009h0M1130 1046.5h0M1186.5 1101h0M1168.5 1067h0M1163 920.5h0M1157 1092h0M1165 1023h0M1082 1044.5h0M1169.5 1029.5h0M1135.5 978h0M1168.5 1100.5h0M1152.5 1033.5h0M1163 1008h0M1178 1055.5h0M1205.5 1039h0M1131.5 1018h0M1100.5 979.5h0M1188.5 1031h0M1151 1002h0M1123.5 1026.5h0M1049.5 999.5h0M1176.5 1039h0M1108.5 1046h0M1133 1013.5h0M1144 1059h0M1148.5 1054.5h0M1184.5 1038.5h0M1114.5 1034.5h0M1172 1034.5h0M1120.5 982.5h0M1204 992h0M1152.5 933.5h0M1040 1000.5h0M1151 1084h0M1198.5 1038.5h0M1164.5 1032h0M1096 1017h0M1142.5 991h0M1195 966h0M1158 1042h0M1168 1035h0M1078.5 1003h0M1157.5 979h0M1196.5 999.5h0M1148.5 1014h0M1116.5 968.5h0M1154 1091h0M1106.5 1089.5h0M1132.5 1000h0M1147.5 1002h0M1197 1027.5h0M1142.5 981.5h0M1156.5 1057h0M1163 1026.5h0M1123 989h0M1164 1049h0M1139.5 978h0M1163.5 1100h0M1146 1100.5h0M1105 884.5h0M1183.5 1096.5h0M1205.5 1004.5h0M1160 1015.5h0M1118 1036.5h0M1105.5 1028.5h0M1138.5 1015.5h0M1166.5 1021h0M1143 1059h0M1109 982h0M1140 983h0M1151 986h0M1174 1075.5h0M1117 1031.5h0M1168.5 960h0M1210 1064h0M1172.5 1057.5h0M1157.5 1035h0M1151.5 1031h0M1186 986.5h0M1140.5 998h0M1198.5 1059.5h0M1092.5 992.5h0M1166.5 958h0M1132 985.5h0M1357 1049h0M1335.5 1029h0M1279.5 1051h0M1362.5 882.5h0M1291 1025h0M1452 1000.5h0M1350 1073h0M1450 1000h0M1466.5 1077.5h0M1270.5 892.5h0M1317 991.5h0M1387 1081h0M1367 1082h0M1354 1082.5h0M1423.5 1024.5h0M1405 991.5h0M1404 1032h0M1448 1044h0M1326.5 1091.5h0M1375 1009.5h0M1331.5 1092h0M1363 944h0M1413 1058.5h0M1496.5 1097.5h0M1381 974h0M1344.5 1065.5h0M1315.5 922h0M1328 975.5h0M1357 996.5h0M1366 858.5h0M1436 1093.5h0M1380 1092h0M1306.5 1060h0M1358.5 942.5h0M1485 1055.5h0M1273.5 1088.5h0M1482 1079.5h0M1418 966h0M1317.5 1075.5h0M1439 1088.5h0M1262 1101h0M1347 1008.5h0M1281.5 1074.5h0M1446.5 1042.5h0M1321 1090.5h0M1423.5 1045h0M1379.5 983.5h0M1283 1030h0M1343.5 1075h0M1393 1095.5h0M1487 1100.5h0M1449 1047h0M1258 1017h0M1386 1096h0M1490 1069.5h0M1339 936.5h0M1372.5 893h0M1423 1057h0M1331.5 1072h0M1201.5 998h0M1286.5 1059h0M1302.5 1034h0M1376.5 1090h0M1317.5 889.5h0M1406 1032.5h0M1373.5 1049h0M1363.5 1026.5h0M1450 1028h0M1418 934h0M1376 1097h0M1357 906.5h0M1350 1037h0M1497 1060h0M1199 1036.5h0M1367.5 1024h0M1391.5 1025.5h0M1344 852.5h0M1312 1075h0M1394 1007.5h0M1300.5 1016.5h0M1362 1091h0M1361 1042.5h0M1384 1097.5h0M1373.5 1032h0M1493.5 1078.5h0M1396 901h0M1303.5 981.5h0M1272.5 1093h0M1283.5 839.5h0M1199 988.5h0M1338.5 1050.5h0M1396 992.5h0M1288.5 884.5h0M1322 1090h0M1385.5 1058h0M1303.5 925h0M1397.5 871.5h0M1355.5 953h0M1374 1095h0M1293.5 1058.5h0M1339.5 983h0M1311 1081.5h0M1291.5 1069.5h0M1417 1099h0M1352 857.5h0M1438 968h0M1487 1082.5h0M1449 809.5h0M1343.5 1024h0M1252 993.5h0M1393.5 1041.5h0M1394.5 970h0M1355.5 980h0M1391.5 1008h0M1352 1095.5h0M1280.5 1100h0M1177.5 1028.5h0M1329.5 1083.5h0M1313.5 959h0M1277 1037h0M1252.5 1063.5h0M1405 849h0M1278 961.5h0M1431.5 1068h0M1281 1064.5h0M1308 1082.5h0M1333 1091h0M1385 998h0M1282 1074.5h0M1319.5 1068h0M1339.5 817.5h0M1323.5 1072.5h0M1353.5 866.5h0M1457.5 863.5h0M1409.5 949h0M1405 996h0M1243 1011.5h0M1392.5 1023h0M1302.5 972.5h0M1340.5 1055h0M1354.5 1087.5h0M1357.5 973.5h0M1290.5 982.5h0M1311.5 1082.5h0M1315 1050.5h0M1347.5 1094.5h0M1360 991.5h0M1334 1080h0M1476.5 1015h0M1566.5 1046.5h0M1348.5 992.5h0M1401.5 1094h0M1400.5 1072.5h0M1248.5 1034.5h0M1289 973h0M1429.5 1056h0M1303.5 1094h0M1304 954h0M1445 883h0M1362 931h0M1448.5 1029h0M1190 951.5h0M1392.5 996.5h0M1398.5 981h0M1336.5 1100h0M1259.5 1001.5h0M1341 1093h0M1382.5 1042.5h0M1248 967.5h0M1375 1036h0M1477.5 937h0M1342.5 1052h0M1295.5 1066h0M1323 1088.5h0M1381.5 1048h0M1456.5 996h0M1357.5 1021.5h0M1428 998.5h0M1378.5 1085h0M1432 1071h0M1444.5 1061.5h0M1349.5 1051.5h0M1440 1053.5h0M1312 970h0M1338 801h0M1297.5 1050.5h0M1381 1063.5h0M1334.5 985.5h0M1372.5 1090h0M1268 1030h0M1416 906.5h0M1308 1070.5h0M1327 1028h0M1335.5 1016h0M1391 1036h0M1360.5 1087h0M1373 923.5h0M1416 945.5h0M1302 945.5h0M1320.5 1069.5h0M1348.5 1014.5h0M1379 1084h0M1371.5 1032.5h0M1296 1022h0M1325.5 1033h0M1300 1088h0M1496 1065.5h0M1315.5 1043h0M1319 922h0M1426 1082.5h0M1203.5 1016.5h0M1469 943.5h0M1286 1076.5h0M1441.5 1001.5h0M1377.5 962h0M1371.5 965.5h0M1353 1058.5h0M1363 971.5h0M1327 1076h0M1445.5 1084h0M1363 1024.5h0M1277 870.5h0M1369.5 1002h0M1376 998.5h0M1361 1043h0M1314 1067.5h0M1334 1096.5h0M1303.5 1100h0M1348.5 1039.5h0M1417 883h0M1388 1067h0M1376 1065h0M1455 1043h0M1335.5 1012h0M1250.5 1082h0M1247 1048h0M1342 1013.5h0M1368.5 1050h0M1318 1010.5h0M1395 1070.5h0M1396 858h0M1281.5 1054h0M1357.5 972.5h0M1430 1055.5h0M1302 1033.5h0M1429.5 1095.5h0M1347 830h0M1439.5 1092h0M1260 1034h0M1318.5 1018h0M1404.5 1010.5h0M1298 918h0M1399 1085.5h0M1196.5 1006h0M1402 1035h0M1208 1096.5h0M1360.5 1053.5h0M1402.5 1097h0M1271 1083h0M1319 1098.5h0M1371 885.5h0M1257.5 1006h0M1298.5 944h0M1461.5 969.5h0M1206 1065h0M1373 1000h0M1196 1072h0M1329.5 953.5h0M1344 1094h0M1241.5 1052h0M1512.5 1068.5h0M1261.5 1036h0M1360.5 1070.5h0M1321 995h0M1485.5 912.5h0M1320.5 1040h0M1453.5 1061.5h0M1340 982h0M1386 1091h0M1347 1099h0M1380.5 1006.5h0M1438.5 1059.5h0M1363.5 1045.5h0M1448.5 932.5h0M1275 1048h0M1355.5 977.5h0M1395.5 928.5h0M1442 1079h0M1353 1032h0M1481 892h0M1499.5 993h0M1270 1092.5h0M1343.5 1051h0M1282.5 954.5h0M1321 1085h0M1310.5 1042h0M1262.5 947.5h0M1340.5 1092.5h0M1458.5 1071h0M1386.5 1005h0M1428 1061.5h0M1354.5 1013.5h0M1324 906h0M1436.5 1094h0M1342.5 1093.5h0M1446 1040.5h0M1318 974h0M1329.5 929.5h0M1207.5 1027h0M1373 955.5h0M1340.5 1055h0M1407.5 1060.5h0M1400.5 1018h0M1283.5 1013h0M1208 1041h0M1401.5 1037h0M1274 1069h0M1253.5 1094.5h0M1452.5 1060.5h0M1335.5 905.5h0M1373.5 1052.5h0M1289 1095.5h0M1318.5 1100h0M1363.5 1090.5h0M1394.5 1062.5h0M1321 1070.5h0M1323 1050.5h0M1297.5 1046h0M1367.5 996.5h0M1280.5 1029.5h0M1287.5 916.5h0M1483 1098h0M1282 1060.5h0M1378 1013.5h0M1460.5 1008.5h0M1363.5 944h0M1439.5 1048h0M1284.5 1041h0M1258.5 959.5h0M1284 1075.5h0M1359.5 1025.5h0M1436 963h0M1320.5 1092h0M1256 1027h0M1265 1031.5h0M1342 1059.5h0M1411 957h0M1358.5 924h0M1290 939h0M1296.5 946h0M1279.5 1059.5h0M1387 1057.5h0M1275 1094h0M1380.5 1037.5h0M1292.5 1042h0M1428.5 1085h0M1391 1089.5h0M1382.5 1067.5h0M1303.5 1095.5h0M1262 901.5h0M1421.5 1089.5h0M1399 1044.5h0M1404 1012.5h0M1443 1051.5h0M1456 1062h0M1270 941.5h0M1338 894.5h0M1413 1080.5h0M1448.5 899.5h0M1412 986.5h0M1305 901h0M1342 976h0M1305 1061.5h0M1347 1063.5h0M1171 1001.5h0M1357 943h0M1261 991.5h0M1352.5 1072h0M1289 1096h0M1266.5 1065h0M1268.5 934.5h0M1307 938h0M1400 1006.5h0M1332.5 967.5h0M1317 1083h0M1191.5 1052.5h0M1412 1054.5h0M1319.5 1071.5h0M1443 1018.5h0M1441.5 1099.5h0M1300 887h0M1322.5 1060.5h0M1346.5 1047h0M1300 1021h0M1375 1032h0M1350 1070.5h0M1242.5 1090h0M1370 1097.5h0M1393.5 1076h0M1319.5 958h0M1250 1001.5h0M1339.5 989h0M1425 886.5h0M1255 1061.5h0M1335.5 1034h0M1363 1095h0M1173 860h0M1406.5 958h0M1331.5 1005h0M1310.5 899h0M1336 1098h0M1291.5 1097h0M1492.5 978h0M1305.5 1101h0M1375.5 1097h0M1432 987h0M1272.5 1047.5h0M1313.5 1042.5h0M1293.5 878h0M1376 1096h0M1330.5 1094h0M1421.5 990.5h0M1303 983.5h0M1278 980h0M1344 1056h0M1303 1082h0M1391 1036.5h0M1343.5 1037.5h0M1404 996h0M1502.5 963h0M1466.5 977.5h0M1268 950h0M1343 935h0M1192.5 1020h0M1266.5 998h0M1304.5 1021h0M1299 916.5h0M1458 1083.5h0M1265 1078.5h0M1355.5 1096.5h0M1433 993h0M1277.5 987.5h0M1313 1101.5h0M1319 938h0M1312 1089.5h0M1263.5 1089h0M1387.5 1008.5h0M1452.5 933.5h0M1340 987.5h0M1318 985h0M1315.5 1021h0M1285.5 1097h0M1421 1020.5h0M1407.5 868.5h0M1255 1040.5h0M1366.5 1076h0M1199.5 1100.5h0M1463.5 1028h0M1395 1068h0M1404 941h0M1402.5 1060h0M1357.5 1084h0M1519 1076.5h0M1295 1024h0M1475 1071.5h0M1305.5 1029.5h0M1375 961.5h0M1551 1050h0M1545.5 1087.5h0M1456 1001.5h0M1451.5 1050h0M1466 1091h0M1520 1052h0M1542.5 1066.5h0M1483.5 1063.5h0M1494.5 1090h0M1510.5 1015h0M1488 1054.5h0M1456 1063h0M1439.5 1070.5h0M1533 1057.5h0M1459 1094h0M1523.5 1013.5h0M1497 1014.5h0M1486 1014h0M1448.5 1061.5h0M1448.5 1042.5h0M1459 1090h0M1529.5 1089h0M1451.5 1073h0M1453.5 1024h0M1276.5 1070.5h0M1243 1005h0M1262 983.5h0M1254 1063h0M1268 1081h0M1258 914.5h0M1244.5 1082h0M1277 1036h0M1272.5 1047h0M1252 1006h0M1266 986h0M1259 1018h0M1242.5 1025h0M1272.5 1050.5h0M1253 1029h0M1247 1044.5h0M1275.5 1069h0M1258.5 1059.5h0M1264 1087h0M1254.5 969h0M1253.5 1091h0M1284 972h0M1264.5 973.5h0M1267 1087h0M1239.5 1071.5h0M1239 1070.5h0M1250.5 948.5h0M1253.5 1043h0M1255.5 1060h0M1245 1075h0M1257.5 1097.5h0M1270.5 1079h0M1253 1033h0M1267 1017.5h0M1253.5 1086.5h0M1262.5 1026h0M1267.5 1054h0M1262 1027h0M1267.5 1008.5h0M1267 981.5h0M1260 1092h0M1253 1024.5h0M1262 990h0M1294 945h0M1249.5 1063h0M1262 1044.5h0M1245 1051.5h0M1262 1013.5h0M1268.5 1093.5h0M1248.5 1012h0M1255 1074h0M1261 1007h0M1268 1013.5h0M1269 989h0M1269 1078h0M1268 1093.5h0M1264 981h0M1248 1060h0M1255 1032.5h0M1252.5 1099.5h0M1271.5 1046.5h0M1259 988.5h0M1251 1046h0M1265 1052.5h0M1266.5 1074h0M1261 1031.5h0M1275 861.5h0M1253 1043h0M1246.5 990.5h0M1269 1084h0M1256.5 973h0M1260 1087h0M1253.5 990h0M1251.5 948.5h0M1249.5 1010.5h0M1269 1053.5h0M1253.5 1022.5h0M1255 968h0M1253.5 1047h0M1267 1070.5h0M1252 1077.5h0M1256.5 1082h0M1260 1096.5h0M1286 990h0M1241.5 1017h0M1257 1042.5h0M1265.5 1011.5h0M1271 976.5h0M1283 970h0M1271 1073.5h0M1242 1051.5h0M1240.5 1023.5h0M1256 1030h0M1266.5 1039.5h0M1253.5 977.5h0M1256.5 1046.5h0M1278.5 1037.5h0M1253 1000h0M1264.5 1027.5h0M1253.5 1010h0M1246 1089h0M1257 1065h0M1260 1048h0M1263.5 1085h0M1262 1055.5h0M1261 1083.5h0M1252 1029h0M1291.5 909.5h0M1251 1005.5h0M1262.5 1026h0M1238.5 1089h0M1269.5 987.5h0M1252.5 1046h0M1242.5 1005.5h0M1248 1083h0M1272 1067.5h0M1250 1089h0M1244.5 1031.5h0M1265 1082.5h0M1252.5 941.5h0M1265 1004h0M1257 1090.5h0M1270.5 1019.5h0M1263 1053.5h0M1255.5 1059.5h0M1268 1071h0M1247.5 1082.5h0M1278.5 1088.5h0M1251 1085.5h0M1256 1027.5h0M1256 1032h0M1243.5 1073h0M1249 960h0M1243.5 1070.5h0M1263.5 937.5h0M1259.5 938h0M1263.5 1057.5h0M1248 1001h0M1246.5 1072h0M1248.5 1071h0M1256.5 1064h0M1259.5 1019.5h0M1273.5 1028h0M1255.5 1073h0M1492.5 733.5h0M1583 948h0M949.5 778h0M952 790h0M1047 762.5h0M1278.5 770.5h0M1345 783.5h0M1409 776.5h0" fill="none" stroke="#EF2DA0" stroke-width="4.7" stroke-linecap="round" opacity="0.93"/>
<path d="M1308.5 988h0M1395 1081.5h0M1254.5 1067.5h0M1208.5 1101.5h0M1133 998.5h0M1207 1099h0M1088 1070.5h0M1137.5 1101h0M1261 1098h0M1114 1034.5h0M1281 1099.5h0M1100.5 948h0M1111 1088.5h0M1247.5 1100.5h0M1346.5 1054.5h0M1257.5 1090.5h0M1325.5 1030.5h0M1280.5 992h0M1058 1078.5h0M1337 1089.5h0M1118 1082.5h0M1147 1091h0M1247.5 1096h0M1168.5 1022h0M1268 1091h0M1284.5 1088h0M1207 1045.5h0M1210.5 1100h0M1252 1083h0M1361 1065.5h0M1263 1048.5h0M1278 1066h0M1330 1099.5h0M1250.5 1017.5h0M1113.5 1081.5h0M1259.5 1094.5h0M1109 1052h0M1293 1052.5h0M1302 1088.5h0M1174.5 1037.5h0M1324 1050h0M1149 1094h0M1269.5 989.5h0M1253.5 1059.5h0M1285 1083.5h0M1274.5 1046h0M1290.5 1091h0M1299.5 1093h0M1275 1064h0M1198.5 1064h0M1125.5 1069h0M1087.5 1056h0M1394 1068.5h0M1151.5 1064.5h0M1248.5 1086.5h0M1252.5 1074.5h0M1120.5 1075.5h0M1200 1079h0M1176.5 1041h0M1109.5 1045h0M1171 1069.5h0M1087 1043.5h0M1141.5 1058h0M1264.5 1002h0M1365 1082h0M1242 1092h0M1338.5 1092h0M1272 1101h0M1240 1030.5h0M1382 881h0M1141 1063h0M1141.5 999.5h0M1150.5 1084h0M1177 1097h0M1124 1094h0M1279 1054.5h0M1256 1002h0M1352.5 1097h0M1155 1087h0M1251.5 1074.5h0M1160.5 1073.5h0M1193 1101.5h0M1101 994.5h0M1130.5 1092h0M1133 1025h0M1284.5 984h0M1300.5 1083.5h0M1192.5 1099.5h0M1294 1070h0M1321 1030.5h0M1157.5 1090.5h0M1144 1064.5h0M1323 1087.5h0M1152.5 1071.5h0M1292 1008h0M1186 1043h0M1265 993h0M1123.5 1081h0M1092 1100h0M1180 1085h0M1131 1093.5h0M1148 1100.5h0M1334.5 1062.5h0M1157.5 1090.5h0M1134.5 1079.5h0M1079 1041.5h0M1091 1092h0M1150 1086.5h0M1274.5 1061.5h0M1356.5 1076h0M1191 1050.5h0M1331 1050.5h0M1135 1100h0M1262 1054.5h0M1197.5 1083h0M1246 1098h0M1300 1070.5h0M1048 925h0M1211 1098.5h0M1172 978.5h0M1309 1065h0M1136.5 1090.5h0M1204 1101.5h0M1203 1004h0M1313.5 1033.5h0M1327.5 1066.5h0M1244 1100.5h0M1115 1093h0M1157 1047.5h0M1320 1087.5h0M1261.5 1063.5h0M1337 1060.5h0M1177 1090h0M1122 1092h0M1116 1041.5h0M1283 1069.5h0M1117.5 1072.5h0M1165 1080.5h0M1159 1096.5h0M1309 1100.5h0M1296.5 1016h0M1116 1088.5h0M1313.5 1076.5h0M1110.5 1083h0M1295 1096.5h0M1100 1098h0M1057.5 1052h0M1242 1096.5h0M1156.5 1095.5h0M1148 1085.5h0M1093 914.5h0M1180 1081.5h0M1292 1099h0M1263.5 1100.5h0M1145 1087h0M1253.5 1100h0M1147.5 1087.5h0M1147 1073h0M1289.5 1098h0M1317.5 1087h0M1100.5 1079h0M1276.5 1096.5h0M1146 1076h0M1315.5 1069.5h0M1337 1055h0M1117.5 1095h0M1117 1073.5h0M1108.5 1068h0M1205 1029.5h0M1241.5 1056h0M1301 1099.5h0M1283.5 1037h0M1276.5 1093h0M1094.5 1096h0M1308.5 955.5h0M1275 1060.5h0M1335 1089.5h0M1004.5 1081h0M1324 919.5h0M1108.5 1066.5h0M1179 1033.5h0M1253.5 1089.5h0M1287 1039h0M1154 1101h0M1163.5 1064h0M1256 985h0M1304 1091.5h0M1368.5 1034h0M1159 975.5h0M1105 894.5h0M1257.5 1097.5h0M1240 1094h0M1204.5 1099h0M1259 1083.5h0M1147.5 1056.5h0M1151 1070.5h0M1279 1082.5h0M1312 1089.5h0M1274 1094.5h0M1267 1088.5h0M1256 1073.5h0M1100 1031.5h0M1159.5 1101h0M1301 1097.5h0M1329.5 1099.5h0M1097.5 1059h0M1240 1094h0M1201 1038.5h0M1302 1087.5h0M1320 1101.5h0M1210.5 1094.5h0M1176 1098.5h0M1202.5 1071h0M1132.5 1077h0M1350 1031.5h0M1302 1089h0M1322.5 1097h0M1115 1081h0M1191 1078h0M1190 1066.5h0M1188.5 1084.5h0M1311 1002.5h0M1174.5 1026.5h0M1153.5 1053.5h0M1125.5 1075.5h0M1162 1076h0M1184.5 1086h0M1118.5 1100h0M1318 1050.5h0M1275.5 1081.5h0M1161.5 1083h0M1433.5 1045h0M1301.5 1092h0M1195.5 1100h0M1257 1094.5h0M1291.5 899h0M1208 1058h0M1341 1078h0M1174.5 1092.5h0M1100.5 1085h0M1118 1083h0M1173.5 1075.5h0M1320.5 1057h0M1140.5 1043h0M1325.5 1082.5h0M1335.5 1092h0M1248.5 1079h0M1269.5 1068h0M1086 1053h0M1264.5 1055h0M1281.5 983.5h0M1193.5 1029.5h0M1238.5 1093.5h0M1085 971.5h0M1199.5 1024.5h0M1302.5 1026.5h0M1101 1097.5h0M1354.5 1093h0M1311 976h0M1196.5 1081.5h0M1184.5 1065.5h0M1116.5 1039h0M1108.5 945h0M1264 981h0M1306 1031h0M1272.5 1090.5h0M1187.5 1088.5h0M1211.5 1051.5h0M1064 1038h0M1248.5 1099h0M1367 1023h0M1097.5 1041.5h0M1189.5 1058h0M1244 1076h0M1089.5 1039.5h0M1321.5 1009h0M1077.5 1053.5h0M1113.5 1065h0M1172 1095.5h0M1268.5 995.5h0M1264.5 1005h0M1162.5 1084h0M1130.5 1099h0M1164.5 1025.5h0M1174.5 1082.5h0M1135.5 1034h0M1367 1037h0M1367 1072.5h0M1210.5 1093.5h0M1107 1091.5h0M1212 1084.5h0M1100 1072.5h0M1168.5 1066h0M1128.5 1082.5h0M1198 1093h0M1312 1018.5h0M1348 1043.5h0M1344 1028.5h0M1177 1020.5h0M1191 1065.5h0M1194 1060.5h0M1135.5 1070.5h0M1258 1043.5h0M1278.5 1048.5h0M1270.5 1064h0M1137 1019h0M1197 1076.5h0M1352.5 1039.5h0M1156 1092.5h0M1122 1024.5h0M1274.5 1086h0M1165.5 1062.5h0M1277 1080.5h0M1240 1047.5h0M1211.5 1083.5h0M1333 1099h0M1139 1087.5h0M1108.5 1090.5h0M1199.5 1052h0M1171.5 1081h0M1333.5 1095h0M1179 1090h0M1306.5 1078h0M1273 1061h0M1327 1030.5h0M1278 1092h0M1208.5 1078.5h0M1287.5 1091.5h0M1097.5 1095.5h0M1077 1028h0M1331 1059.5h0M1297.5 1006h0M1332.5 1100h0M1330 1075.5h0M1211 1086.5h0M1274.5 1052.5h0M1201.5 1076h0M1100 1056.5h0M1203 1087.5h0M1272 1100h0M1094 962h0M1123 1096h0M1328 1005h0M1203.5 1083.5h0M1176.5 930.5h0M1265.5 1058h0M1085.5 971h0M1177 1096h0M1267.5 1074.5h0M1139 1086.5h0M1185.5 1013.5h0M1299.5 1088h0M1329.5 1062h0M1165 1100h0M1138 1050h0M1365.5 1050h0M1191.5 1027h0M1190 1030h0M1301 1069.5h0M1202 1098.5h0M1072 1050.5h0M1171 1074h0M1188 1009h0M1275 1090h0M1301 1042h0M1321.5 1033.5h0M1245.5 1068.5h0M1128.5 995.5h0M1258 1062.5h0M1274 1065.5h0M1260.5 1100.5h0M1108.5 968h0M1165.5 1099.5h0M1149.5 1048h0M1317 1087.5h0M1158.5 1079.5h0M1183 1095h0M1422 1074h0M1151 1066h0M1272.5 1096h0M1325 933.5h0M1155 1031.5h0M1160 1065.5h0M1347.5 1064h0M1269 1055h0M1268.5 1092.5h0M1088.5 972.5h0M1335 1098.5h0M1102 1059.5h0M1153.5 1066h0M1332.5 1100.5h0M1265.5 1004h0M1112.5 1063.5h0M1113.5 1016.5h0M1181.5 1083h0M1344.5 1089.5h0M1300 1035.5h0M1100 992h0M1394 1072h0M1279 1094.5h0M1275.5 1100.5h0M1163.5 1093.5h0M1281 921h0M1328.5 973.5h0M1277 1078h0M1199 989.5h0M1168.5 1080h0M1139.5 956h0M1163 1045.5h0M1318 1078.5h0M1342 998.5h0M1048 1100h0M1348 1101h0M1024 1100h0M996 1100h0M1407.5 1097.5h0M1535 1101.5h0M1387.5 1097.5h0M1404 1097.5h0M1453.5 1099h0M1415.5 1101.5h0M1390.5 1099.5h0M1434 1097.5h0M1118 1101.5h0M1129 1048h0M1132.5 993h0M1082 1013.5h0M1167.5 1049.5h0M1099.5 953h0M1083 954h0M1126 981h0M1094 1098.5h0M1068 918.5h0M1096.5 1086h0M1194 1037h0M1089 1086.5h0M1114 957h0M1128.5 1082h0M1084 958h0M1096 1041.5h0M1086.5 983h0M1135.5 1042.5h0M1081 845.5h0M1087 938h0M1095 920h0M1043.5 919.5h0M1061.5 941h0M1040 861.5h0M1090.5 921.5h0M1086 893.5h0M1170 1046h0M1149 1080.5h0M1186 1005h0M1080.5 1059.5h0M1060.5 946h0M1135 977h0M1209 1062h0M1090.5 965.5h0M1091.5 926h0M1124 977.5h0M1154 1008.5h0M1108 1077h0M1081 968h0M1074 869h0M1089 1041h0M1167.5 1016h0M1039 897h0M1095 988h0M1150.5 1025h0M1103 920h0M1095 1087h0M1066 929h0M1089.5 918.5h0M1241.5 1089h0M1059.5 895h0M1053.5 887.5h0M1181 1074.5h0M1064 938h0M1097.5 1075.5h0M1035.5 843.5h0M1099 921h0M1048.5 897.5h0M1122 991.5h0M1009 833h0M1073.5 930h0M1107.5 1066.5h0M1094 997.5h0M1048.5 855.5h0M1103.5 1046h0M1021.5 864h0M1044 874.5h0M1074 864h0M1145.5 1016h0M1106 866.5h0M1092.5 914.5h0M1125 1079h0M1095.5 976h0M1061.5 839h0M1065 965.5h0M1041.5 949h0M1075.5 932.5h0M1124.5 1009h0M1153 1099.5h0M1146 1015.5h0M1066 968.5h0M1128 1011h0M1172.5 1061h0M1182 1068h0M1102.5 1076h0M1043.5 901.5h0M1140 993.5h0M1126 1025.5h0M1176 1034h0M1099.5 939.5h0M998 812h0M1071.5 911.5h0M1061.5 904.5h0M1135.5 1043.5h0M1173.5 1018h0M1145 1060h0M1083.5 1058h0M1129.5 959h0M1040.5 1044.5h0M1038 784.5h0M1116.5 977h0M1201.5 1043.5h0M1105 1019h0M1062.5 850.5h0M1049.5 875.5h0M1063.5 866h0M1125 1010h0M1097 1027h0M1008 830.5h0M1029 916h0M1069.5 1081h0M1125.5 908h0M1127 1097h0M1132 1015.5h0M1132.5 1095h0M1091 992h0M1056 939h0M1066.5 977.5h0M1101.5 905h0M1030.5 998.5h0M1156.5 1048h0M1024 909h0M1155 1052h0M1147 1078.5h0M1033 900h0M1128 1049.5h0M1135.5 1094h0M1089 1085h0M1019 835.5h0M1115 1028h0M1115 1094h0M1119 960h0M1032.5 840h0M1082.5 944.5h0M1038 975.5h0M1102 918h0M1089.5 966.5h0M1078.5 883.5h0M1119.5 999.5h0M1055.5 946h0M1205 1048h0M1066 985h0M1065.5 904.5h0M1034 801h0M1129 1038h0M1039 807h0M1053.5 883h0M1158.5 1034h0M1203.5 1077h0M1184.5 1019h0M1120.5 1024.5h0M996.5 822.5h0M1035 868h0M1083.5 955.5h0M1050 898.5h0M1061.5 872.5h0M1115 997.5h0M1140 1053.5h0M1148 1068h0M1081 987h0M1084 970.5h0M1045.5 972h0M1114 911.5h0M1107.5 922h0M1082 917.5h0M1010 955h0M1087 935h0M1098 1025.5h0M1164.5 1074h0M1081.5 985h0M1070.5 928h0M1077 936.5h0M1066 1044h0M1065 940h0M1142 1075.5h0M1036.5 921h0M1062 841.5h0M1105.5 1071.5h0M1130 978h0M1067.5 1016h0M1083.5 1001h0M1017 1022.5h0M960.5 819.5h0M1109 1052.5h0M1106.5 907.5h0M1087.5 948h0M1073.5 889.5h0M1208.5 1031h0M1067.5 838.5h0M1059.5 789.5h0M1117.5 980h0M1161.5 989h0M1052.5 894h0M1102 1083.5h0M1044.5 858h0M998 921h0M1119.5 1090.5h0M1002 995.5h0M1054.5 987.5h0M1125.5 1038h0M1093 1057h0M1160.5 1087h0M1083.5 1049h0M1087.5 1076h0M1123 1056h0M1019.5 878.5h0M1046 816.5h0M1089.5 886h0M1055 1039h0M1052.5 921.5h0M1113.5 975.5h0M1094.5 966h0M1155 1045h0M1068 965.5h0M1196.5 1024.5h0M1042.5 820h0M1113 971.5h0M1046.5 846h0M1049 950.5h0M1194 1080.5h0M1030 1009h0M1056 1033.5h0M1077.5 934.5h0M1015.5 1078.5h0M1027.5 894.5h0M1110.5 1032h0M1085.5 992.5h0M1155 1071h0M1101.5 1061.5h0M1044 900.5h0M1114.5 1036.5h0M1089 993.5h0M1040 835.5h0M1085.5 1002.5h0M1037.5 870.5h0M1028 816.5h0M1057.5 900.5h0M1046.5 888h0M1059 1054h0M1065.5 909.5h0M1067 915.5h0M1144.5 1045h0M1108 955h0M1106 1098.5h0M1144 1049h0M1078 943h0M1009 849h0M1054.5 833.5h0M1054 1024.5h0M1100 961.5h0M1134.5 1023.5h0M1128.5 1045.5h0M1061.5 1076.5h0M1048 878h0M1079.5 986h0M1119.5 946.5h0M1097 930.5h0M1103 990h0M1055 903h0M1034 908h0M1101.5 838h0M1154 1044h0M1074 1009h0M1076.5 1041.5h0M1126.5 944.5h0M1146 1077h0M1047 1087h0M1094.5 959.5h0M1137 1024h0M1105 839.5h0M1104.5 1064.5h0M1016.5 862.5h0M1123 974h0M1117.5 985.5h0M1144 1064h0M1088 946.5h0M1133.5 1062.5h0M1073.5 892h0M1121 1066h0M1080.5 1029.5h0M1106 967.5h0M1050.5 857.5h0M1094.5 959.5h0M1088.5 1024h0M1107 979h0M1172 1046.5h0M1071 933.5h0M1165.5 1064h0M1118 979.5h0M1105.5 960h0M1147 1036h0M1091.5 954h0M1122 915.5h0M1194.5 1027.5h0M1007 829.5h0M1055.5 988.5h0M1092.5 960.5h0M1142 1101h0M1049.5 789.5h0M1051 861.5h0M1156.5 1043h0M1007 961h0M1128.5 1047.5h0M1137 965.5h0M1109 943h0M1115.5 1023h0M1164.5 1072.5h0M1105.5 1036h0M1073.5 992h0M1029 858.5h0M1049.5 856.5h0M1200 1096h0M1101.5 1067.5h0M1117 1080h0M1089 1042h0M1132 1034.5h0M1168 983.5h0M1066.5 896.5h0M1041 957h0M1059 1049h0M1122 1020.5h0M1080 988h0M1077.5 1058h0M1151 1077.5h0M1112 974.5h0M1113.5 1061h0M1076.5 929h0M1080 943.5h0M1099.5 940.5h0M1021 917h0M1109.5 1043.5h0M1138 990h0M1156.5 969.5h0M1112.5 1066h0M1117.5 1034h0M1055 992h0M1043 931h0M1057.5 991h0M1138.5 970h0M1117.5 1077.5h0M1043.5 863.5h0M1051.5 1079.5h0M1084.5 1057.5h0M1112 1094.5h0M1110 962h0M1077.5 916h0M1084.5 952h0M1005.5 868.5h0M1129.5 1097h0M1045.5 976.5h0M1012 855h0M1107 1044h0M1132.5 999.5h0M1082 930h0M1052.5 854.5h0M1053 885.5h0M1096 974.5h0M1016.5 983h0M1124.5 1062h0M1043.5 916h0M1077 1022h0M1036.5 1007h0M1077.5 919.5h0M1048 894.5h0M1114 995h0M1117 939.5h0M1066 969h0M1068.5 918h0M1066.5 950h0M1056.5 893h0M1108.5 980.5h0M968.5 804h0M1146 1003h0M1099.5 863.5h0M1055 952h0M1119.5 951h0M1109.5 1017.5h0M1124.5 990h0M1107.5 990h0M1021 802h0M1126.5 1023.5h0M1119 1046.5h0M1072 899.5h0M1139.5 1075h0M1159.5 1052.5h0M1139.5 1030h0M1145.5 1074h0M1061.5 1018h0M1068.5 939.5h0M1105.5 1048h0M1084.5 888h0M1035.5 884.5h0M955 836h0M1171 1012.5h0M1102 1020h0M1108 878.5h0M1134.5 994h0M1147 1026.5h0M1142 1067.5h0M1065 853h0M1149 1035.5h0M1112 973.5h0M1074 888h0M1081.5 1055.5h0M1076.5 967h0M1091 1012.5h0M1091 1007h0M1111 1046h0M1125 974.5h0M1086.5 964.5h0M1089.5 868.5h0M1031.5 975h0M1072.5 992h0M1062.5 1052h0M1116 969.5h0M1089 962.5h0M1018.5 871.5h0M1032.5 832.5h0M1049 798h0M1096 1024h0M1050.5 903.5h0M1122 973h0M1112.5 1012.5h0M1125 982h0M1124.5 1081.5h0M1129 997h0M1087 1017h0M1136 1017h0M1105 1092.5h0M1101.5 1029.5h0M1075 961h0M1142.5 956h0M1124 934h0M1167.5 1069h0M1086.5 923.5h0M1094 950h0M1151 1060.5h0M1160.5 1043.5h0M1089.5 946h0M1078.5 901h0M1028 831h0M1155 1038h0M1080 1004.5h0M1064 996.5h0M1101.5 1060h0M1075.5 985.5h0M1197 1025h0M1044.5 759h0M1028 838h0M1082.5 857h0M1065.5 970h0M1107.5 1023.5h0M1043 924.5h0M1120.5 979.5h0M1082.5 908h0M1096.5 986h0M1095 1007h0M1011.5 953h0M977.5 983.5h0M1044.5 887.5h0M1078.5 933.5h0M1173.5 1065.5h0M1136 987h0M1052 855.5h0M1124.5 1028.5h0M1169 1082.5h0M973.5 920.5h0M1037.5 1046.5h0M1066.5 883.5h0M1085.5 962h0M1099.5 994h0M993.5 884.5h0M1186.5 1024h0M1021.5 907h0M1078.5 968.5h0M1134 1026h0M1092.5 1067.5h0M1142.5 1045h0M1078 1011.5h0M1117.5 1024h0M1055 885h0M1108 937.5h0M1177 971.5h0M1137 1080.5h0M1142 1026.5h0M1138.5 990h0M1135.5 1037.5h0M1065 921h0M1011.5 962h0M984.5 987.5h0M1117 926.5h0M1148.5 994.5h0M1103.5 957h0M1081.5 951.5h0M1096.5 980h0M1105 1018h0M1102.5 925.5h0M1097.5 1052h0M1092.5 871.5h0M1068 919.5h0M1108 923.5h0M1112 1019h0M1093 967h0M1199 1049h0M1114.5 935.5h0M1104.5 938h0M1080.5 940h0M1068 887h0M1114 1078h0M1124 973.5h0M1132 928h0M1075.5 917h0M1007.5 816h0M1169 1060h0M1095.5 906h0M1071 854.5h0M1099 984h0M1132 976h0M1113.5 950h0M1110.5 1027.5h0M1015.5 971.5h0M1057 972.5h0M1084.5 969.5h0M1074.5 872h0M1096 938.5h0M1060.5 1033h0M1114 945h0M1102.5 1081.5h0M1065.5 847.5h0M1108 1016.5h0M1132.5 1078.5h0M1030 881.5h0M1030.5 1021.5h0M1041.5 853h0M1196 1062.5h0M1087.5 866h0M1131 1056h0M1129 1028.5h0M1051.5 912h0M1116.5 1000h0M1104.5 994.5h0M1186.5 1041.5h0M1101 1033.5h0M1052.5 795.5h0M1110.5 970h0M1171.5 1035h0M1139.5 1011.5h0M1092.5 898.5h0M1100 947.5h0M1078 965h0M1085.5 1083h0M1040 911.5h0M1057 843.5h0M1119.5 870h0M1115 1055h0M1144.5 1097h0M1081.5 1081.5h0M1123.5 1082.5h0M1104 1080h0M1056 1061h0M1068 1040.5h0M1097 1062.5h0M1095.5 1055.5h0M1155 1030.5h0M1131.5 1078h0M1091.5 1097.5h0M1138.5 907h0M1064 991h0M1097 1088h0M1088 980.5h0M1125.5 1018.5h0M1060 1078h0M1151 1049h0M1038 1081h0M1121 1054.5h0M1054 1079h0M1080 1084.5h0M1041 1070.5h0M1083 1011.5h0M1097.5 1096h0M1051 1038.5h0M1020.5 946h0M1109 1046h0M1098.5 1079h0M1059.5 1037.5h0M1037.5 1052.5h0M1031.5 1090h0M1073 979.5h0M1011.5 1011h0M1068 1070.5h0M1096 1028h0M1080.5 995.5h0M1078.5 1040.5h0M1080.5 1078h0M1059.5 1023.5h0M1083.5 1083.5h0M1093 959h0M1079 934.5h0M1121.5 1064h0M1126 968.5h0M1120 1033.5h0M1084.5 1074.5h0M1058 1013.5h0M1163.5 1041.5h0M1080.5 855h0M1092 1096.5h0M1055.5 1074h0M1022 1015h0M1105.5 1078.5h0M1017 1049h0M1078.5 1074.5h0M1088 1028.5h0M1091.5 1006.5h0M1051.5 1005.5h0M1123.5 1032h0M1117.5 997h0M1042.5 1051h0M1027.5 1100h0M999 1098h0M1138.5 950h0M1117.5 1022.5h0M1082 980h0M1064 1078.5h0M1084.5 999.5h0M1181 1049h0M1041 1070.5h0M1070.5 978.5h0M1032.5 849h0M1171 1093.5h0M1068.5 1012.5h0M1147.5 1010h0M1123.5 1017h0M987 1087.5h0M1101 1056.5h0M1002.5 1058h0M1053 996.5h0M1045.5 1089.5h0M1093 1086h0M1101.5 1083.5h0M1063 1010.5h0M1094 1070.5h0M1024.5 1015h0M1051 1068h0M1120.5 1079h0M1097 997h0M1103.5 995h0M1077 1077.5h0M1131.5 1057.5h0M1130 1064h0M1089.5 967.5h0M1065.5 1089h0M1122 1081.5h0M1120.5 1060.5h0M1060.5 1008h0M1126.5 1092h0M1012 1084.5h0M1018 1008h0M1030.5 1033.5h0M1122.5 966.5h0M1137.5 1030.5h0M1058.5 1046.5h0M1013 1017h0M1139 1084.5h0M1066 998.5h0M1067.5 1056.5h0M1032.5 1094h0M1076.5 1034.5h0M1131 1064.5h0M1097 1097.5h0M1088 977h0M1104.5 1093.5h0M1092 1015h0M1053 1046h0M1040.5 1095h0M1114.5 1083.5h0M1107.5 1026h0M1063.5 1098h0M1078.5 1014h0M1095 1085h0M1052 1070h0M1053 1100h0M1012.5 1081.5h0M1111 1071h0M1093 1101h0M1087 1013h0M1144.5 1085.5h0M1096 1087h0M1147.5 1013h0M1086.5 1088.5h0M1083 1024h0M1075.5 916h0M1117 1030h0M1147 978.5h0M1135 1023h0M1123 1025h0M1115 983h0M1108.5 929h0M1085 909.5h0M1137 978.5h0M1064 1017.5h0M1030 823h0M1097.5 977h0M1110.5 1028.5h0M1129.5 1050.5h0M1063 910.5h0M1095 1028.5h0M1107.5 957h0M1106.5 947h0M1101 987h0M1104.5 974.5h0M1110.5 955.5h0M1113 1042h0M1103.5 932.5h0M1068 889h0M1119 992h0M1146 1057h0M1162.5 1074.5h0M1120.5 1017.5h0M1080 900.5h0M1100.5 983.5h0M1102 972h0M1135 1044h0M1123 1010h0M1155 960h0M1088 1003.5h0M1124 988.5h0M1028 952h0M1108 1000h0M1118.5 987.5h0M1081.5 986h0M1108 1002.5h0M1094.5 999h0M1068.5 906h0M1117.5 949.5h0M1102 1032.5h0M1107 966.5h0M1130 1001h0M1088.5 952h0M1124 1077.5h0M1130.5 1003h0M1100.5 954h0M1093.5 931.5h0M1078 965.5h0M1172 1077h0M1150.5 1058h0M1112 1069h0M1111.5 1007h0M1129 998.5h0M1107.5 944.5h0M1142.5 1009.5h0M1051 882h0M1125.5 977h0M1087.5 1021.5h0M1097.5 962.5h0M1088.5 928.5h0M1092.5 989.5h0M1095 902.5h0M1042.5 940.5h0M1094 986h0M1104 1032h0M1071.5 975h0M1089.5 905h0M1107.5 1004.5h0M1136 976h0M1067 943h0M1062 931h0M1072 971.5h0M1061.5 937.5h0M1112 953h0M1061.5 930h0M1075 918h0M1100.5 970h0M1122.5 954.5h0M1072.5 898.5h0M1126 1081.5h0M1107 1020.5h0M1090.5 975.5h0M1088.5 963h0M1113 1002.5h0M1101 1011h0M1046 907.5h0M1122.5 1025.5h0M1113 1004h0M1147 1010h0M1063 949.5h0M1117 983h0M1084 924h0M1077 894.5h0M1103 997.5h0M1127.5 1030h0M1112 970.5h0M1107 1069h0M1070.5 927.5h0M1160 989.5h0M1173.5 1075.5h0M1091.5 972h0M1138.5 982.5h0M1124.5 1049.5h0M1117.5 1030h0M1104 983h0M1114 910h0M1114.5 1023h0M1096.5 1003.5h0M1083.5 954h0M1147 1095h0M1099.5 964.5h0M1112 1042.5h0M1121 973.5h0M1092.5 951h0M1130.5 983.5h0M1089 929h0M1106 953.5h0M1135.5 1089.5h0M1128.5 981h0M1147.5 1048h0M1168 1045.5h0M1100 920h0M1087.5 940.5h0M1133.5 1032.5h0M1075 949.5h0M1135 981h0M1163.5 1046h0M1108 1007h0M1140 1063h0M1048.5 878.5h0M1123 944h0M1110 1056h0M1153.5 997.5h0M1147.5 1066h0M1121.5 997.5h0M1066 930h0M1156.5 1041.5h0M1104.5 980h0M1060 936h0M1132.5 995h0M1068.5 881h0M1119 1001.5h0M1098.5 979.5h0M1127 1072h0M1100 923h0M1136.5 1065.5h0M1130.5 1050.5h0M1079 925h0M1134.5 1045.5h0M1120.5 1020h0M1102 1005.5h0M1080 907.5h0M1089 950.5h0M1099 969.5h0M1147 1045.5h0M1125.5 994.5h0M1080 951h0M1138 1045h0M1089.5 971h0M1102 944h0M1167.5 1037.5h0M1109 983.5h0M1076.5 954h0M1135.5 1054h0M1069 959h0M1114 982.5h0M1137 1075h0M1098 952.5h0M1111 969.5h0M1062 943h0M1080 975h0M1160.5 1061h0M1125 1072.5h0M1094.5 907h0M1106 977.5h0M1088.5 963h0M1115.5 1017.5h0M1127.5 996.5h0M1085.5 980h0M1167.5 1024h0M1135 1060h0M1082.5 961.5h0M1145.5 1020.5h0M1121.5 1016.5h0M1068 873.5h0M1136 1025h0M1087 932h0M1103 960.5h0M1066.5 898.5h0M1114 995.5h0M1113.5 968h0M1120 1043h0M1053.5 979h0M1108 976.5h0M1137.5 1052h0M1099 980.5h0M1075.5 971h0M1104 973.5h0M1109 990h0M1073 904.5h0M1128.5 973h0M1146.5 1065.5h0M1060 962h0M1143 957.5h0M1117.5 1009.5h0M1089 938h0M1094 966h0M1120 1011h0M1118 1004.5h0M1085.5 945h0M1140 998.5h0M1092.5 1001h0M1052.5 914.5h0M1095.5 966h0M1095.5 965h0M1145.5 1012h0M1122.5 1035h0M1109.5 1006h0M1089 975.5h0M1136.5 1011h0M1093 985.5h0M1059 926.5h0M1093.5 977h0M1098.5 1014.5h0M1150.5 952.5h0M1084 1008h0M1105 979h0M1053 881.5h0M1150.5 1047h0M1093.5 942h0M1074 929h0M1057 910h0M1116 982h0M1124 964.5h0M1053 905.5h0M1099 969.5h0M1058.5 908h0M1158 1050.5h0M1114 941.5h0M1112.5 978h0M1127.5 1004h0M1113 930h0M1109.5 976h0M1082.5 980.5h0M1166.5 1033.5h0M1082.5 978.5h0M1125 1032.5h0M1080.5 945h0M1111.5 970.5h0M1119.5 1008.5h0M1094 910h0M1106.5 1000h0M1042.5 894h0M1108 986.5h0M1144 1050h0M1097 986h0M1142.5 997.5h0M1111 1010h0M1116.5 985.5h0M1089.5 977.5h0M1143 1003.5h0M1103.5 922.5h0M1091 991h0M1154 1079h0M1082.5 979h0M1142 1057h0M1163.5 1079.5h0M1115.5 991h0M1045 863.5h0M1107 977.5h0M1174.5 1034.5h0M1104.5 1044.5h0M1088 958h0M1133.5 1006h0M1109.5 1035.5h0M1084.5 985h0M1103.5 1016.5h0M1122 983h0M1094 959.5h0M1138.5 953.5h0M1112.5 1030.5h0M1118 958h0M1062.5 954.5h0M1080 1011.5h0M1062.5 976h0M1122 1036.5h0M1099 966.5h0M1130 1073.5h0M1118 1012h0M1115 960h0M1029.5 860.5h0M1147 1059h0M1090.5 980.5h0M1133.5 1003.5h0M1061.5 888.5h0M1088.5 1014.5h0M1076 917h0M1140.5 1003h0M1152.5 1094h0M1168.5 1019h0M1137.5 1001h0M1164 1046.5h0M1101.5 988h0M1053.5 866h0M1123.5 1017h0M1106.5 926.5h0M1101 971h0M1104 1034.5h0M1067 902.5h0M1131 1063.5h0M1149.5 967h0M1153.5 1005h0M1186.5 1051.5h0M1092.5 956.5h0M1125 1006h0M1117.5 1075.5h0M1147 1023h0M1075.5 964h0M1110.5 982h0M1152.5 1089.5h0M1108 970h0M1104 1012h0M1139.5 1088h0M1136 1029h0M1092 924h0M1068.5 954h0M1086.5 893h0M1106.5 1045h0M1121 959.5h0M1119 1020h0M1083.5 975.5h0M1080 896.5h0M1124.5 1003.5h0M1135.5 1026.5h0M1147.5 1074.5h0M1093.5 990.5h0M1123 1035.5h0M1115.5 964h0M1115 963.5h0M1111 994.5h0M1149 1054h0M1092.5 963.5h0M1180.5 1036h0M1110.5 959.5h0M1088.5 917.5h0M1075.5 937.5h0M1087 985.5h0M1139.5 1060h0M1056.5 924.5h0M1114.5 1079h0M1114 981.5h0M1180 1026.5h0M1187.5 1006h0M1137 1044.5h0M1076 934h0M1096 1023h0M1124 1012.5h0M1030.5 918h0M1114.5 966.5h0M1097.5 938.5h0M1105 958.5h0M1117 1012.5h0M1069 936.5h0M1062.5 894h0M1127.5 1080h0M1153.5 950.5h0M1119.5 990.5h0M1087.5 993.5h0M1176 1010h0M1174 1037h0M1165 979.5h0M1158.5 1038h0M1162.5 945h0M1108.5 1032h0M1201.5 1084.5h0M1169 1067h0M1113.5 942h0M1185 1003.5h0M1176 973.5h0M1190.5 1017h0M1150 1057.5h0M1190 1014h0M1154.5 956h0M1186.5 1097h0M1137.5 1067h0M1167 1012.5h0M1108.5 1023h0M1180 1000h0M1103 995.5h0M1096.5 1026h0M1188 1071h0M1129 1026.5h0M1163 1042.5h0M1142.5 1012h0M1167.5 1040h0M1078.5 1046h0M1139 1006.5h0M1117.5 1026.5h0M1129 1012.5h0M1198 1052h0M1198 1044.5h0M1092 1045.5h0M1134.5 1028.5h0M1188.5 1012.5h0M1179 998.5h0M1164 1049h0M1123 1009h0M1168 1055.5h0M1133.5 1066.5h0M1081 969.5h0M1140.5 991h0M1190.5 1037.5h0M1177 972.5h0M1153 1017.5h0M1135 925h0M1152 1000h0M1182 1040h0M1162.5 1013h0M1165 933h0M1200 1002.5h0M1130 955h0M1117.5 1014.5h0M1195.5 1008.5h0M1175 1074h0M1159 945h0M1186.5 1008h0M1167 1074h0M1134 1002.5h0M1126 1092h0M1110.5 1028h0M1121 1006.5h0M1140 981h0M1136.5 984.5h0M1171.5 1057.5h0M1176 1011.5h0M1180.5 1019h0M1126.5 976.5h0M1208 1051.5h0M1168 1055h0M1172 1042h0M1179.5 943.5h0M1074.5 1049h0M1104.5 965h0M1138 1033h0M1188.5 989.5h0M1160.5 938h0M1127 1090h0M1122 1030.5h0M1194 1023.5h0M1113 1007.5h0M1186.5 972.5h0M1117 1022h0M1169 1018h0M1195 970h0M1201 1073.5h0M1196 1001.5h0M1168.5 983.5h0M1153 1017.5h0M1148.5 1052h0M1176.5 1084h0M1176 1016.5h0M1154 976h0M1136.5 1041h0M1123.5 997.5h0M1199 1016h0M1139.5 1074.5h0M1161 1018.5h0M1149.5 1055h0M1154.5 998.5h0M1156 1006h0M1129.5 1001h0M1104.5 1100.5h0M1171.5 1055h0M1160 1044h0M1209.5 1056.5h0M1189 1025.5h0M1159 1063h0M1182 936.5h0M1115 1043h0M1123 1072h0M1189 1066h0M1109.5 1077.5h0M1162.5 1009h0M1209 1090h0M1146.5 984h0M1132.5 1058h0M1137 996.5h0M1192 1022.5h0M1133.5 1086.5h0M1119 967h0M1161.5 1029.5h0M1155 1005h0M1106.5 1031h0M1131 1052.5h0M1116 1069h0M1097.5 1050h0M1085 965h0M1087.5 1040.5h0M1176.5 982h0M1150.5 1033h0M1172.5 887h0M1172 1034h0M1120.5 1063.5h0M1181 1079.5h0M1150 940.5h0M1163.5 1010h0M1127 1036h0M1132.5 1010h0M1142 999.5h0M1170 1064.5h0M1153.5 1018.5h0M1140 996.5h0M1197 993.5h0M1147 951h0M1167.5 966h0M1139.5 1022h0M1171.5 1031.5h0M1181 1002.5h0M1182.5 1034h0M1145 987.5h0M1182 1073h0M1145.5 980h0M1149.5 976.5h0M1197 1043.5h0M1108.5 1039h0M1139.5 1038.5h0M1172.5 974h0M1096.5 980h0M1210.5 1052.5h0M1158 1052h0M1176.5 1039.5h0M1185.5 1046.5h0M1142 1065h0M1170 1063h0M1142 1058h0M1130.5 963h0M1166 1091.5h0M1158 965h0M1156.5 979.5h0M1174 1062h0M1167 1024.5h0M1171.5 1054.5h0M1152.5 1070h0M1098.5 1044h0M1149.5 994h0M1138 1016h0M1135.5 1047.5h0M1180.5 1048.5h0M1151 1049h0M1169.5 948.5h0M1155.5 975h0M1189.5 1026h0M1207 1074h0M1144 1029h0M1170 1029h0M1167.5 1040.5h0M1196.5 1084.5h0M1206 1093.5h0M1170.5 1015.5h0M1206 1085.5h0M1180 1059h0M1133 1068h0M1159.5 1068.5h0M1126.5 1036h0M1101 947.5h0M1139.5 1040.5h0M1144.5 1053.5h0M1165.5 1082h0M1199 1022.5h0M1173 1007h0M1139 929.5h0M1143 1023.5h0M1128.5 1070h0M1195 968.5h0M1171 941.5h0M1182.5 1032.5h0M1154 962h0M1126.5 1014h0M1155 1066h0M1193.5 1064.5h0M1159 1016h0M1139 978h0M1083.5 1000h0M1200.5 1015h0M1169.5 956h0M1082 963.5h0M1161 961h0M1194.5 1041.5h0M1087.5 1029h0M1131.5 933.5h0M1107 1061.5h0M1187 998h0M1145.5 970h0M1154 999.5h0M1120 1054.5h0M1094.5 1061h0M1175.5 1001h0M1107.5 1049h0M1128.5 983.5h0M1152 1010h0M1108 1004h0M1191.5 1020h0M1144 1028.5h0M1172 991.5h0M1103.5 998.5h0M1169.5 1021h0M1177.5 1058h0M1175 1054.5h0M1150 1060h0M1198.5 1011h0M1164.5 982.5h0M1175 965.5h0M1163 1032h0M1144 957.5h0M1197 961.5h0M1204 1015.5h0M1178 1002.5h0M1183 966h0M1143 1039.5h0M1126 986.5h0M1139.5 1020h0M1162.5 1044h0M1162 1045.5h0M1097.5 945h0M1131.5 996h0M1159.5 998.5h0M1079 945.5h0M1161.5 1014h0M1174.5 1086.5h0M1170.5 1040h0M1134.5 963.5h0M1174 997h0M1183.5 1100h0M1062 980.5h0M1129.5 984.5h0M1161 1012.5h0M1201 1044.5h0M1114 1044h0M1149 913.5h0M1115 1058h0M1178 1015h0M1193.5 1042.5h0M1124 953.5h0M1156 993h0M1156 1008.5h0M1135 1048h0M1123 986.5h0M1170 897.5h0M1169 1077h0M1106.5 1067.5h0M1198.5 999h0M1184.5 1020.5h0M1103.5 977h0M1129 1043.5h0M1095.5 994.5h0M1134.5 1061h0M1110.5 1093h0M1140 998.5h0M1126 1010h0M1143.5 1100.5h0M1151.5 984.5h0M1120.5 993.5h0M1195 1038.5h0M1081 1048.5h0M1155.5 1065.5h0M1118.5 1065h0M1146.5 983.5h0M1158.5 1055.5h0M1172.5 948h0M1129.5 949.5h0M1129 1041h0M1159.5 1039.5h0M1260.5 1032.5h0M1326.5 978.5h0M1298 1014.5h0M1307 1024.5h0M1263.5 971h0M1291.5 1053.5h0M1300 982.5h0M1431 1041.5h0M1276.5 866h0M1361 958.5h0M1345 1090h0M1372 1073.5h0M1352.5 918.5h0M1418 984h0M1417 1055h0M1337.5 1028.5h0M1277 1001.5h0M1194 1081h0M1357 1086h0M1368 1072h0M1335 1038h0M1332 990h0M1299 1070.5h0M1367.5 1071h0M1426.5 993.5h0M1508 1028.5h0M1337 1077h0M1397.5 987.5h0M1196 1069h0M1300 1064h0M1283 956.5h0M1269 934h0M1356 1091.5h0M1477 1101h0M1250.5 1030.5h0M1495 1021.5h0M1453.5 1015h0M1421 1073h0M1335.5 836.5h0M1449 1034h0M1308 1049.5h0M1318 1078.5h0M1412 903.5h0M1366.5 1032h0M1261 1042.5h0M1306 1021h0M1339.5 878h0M1292 1094.5h0M1313 949.5h0M1454 847h0M1280.5 1028h0M1335.5 1098h0M1399 995.5h0M1319 1003.5h0M1340.5 1095.5h0M1376.5 1004h0M1308 853h0M1358.5 1008.5h0M1357.5 1021h0M1336 1075.5h0M1320.5 1033h0M1404.5 878.5h0M1378 1064h0M1397.5 1047h0M1399.5 1055h0M1294 1068.5h0M1451 1022h0M1353 812h0M1427.5 817h0M1303 1002h0M1399 945h0M1261 999.5h0M1332.5 1091h0M1342.5 1035.5h0M1464.5 940h0M1289.5 828.5h0M1401.5 1072.5h0M1354.5 1088h0M1327 1060.5h0M1424 1097.5h0M1426.5 1053h0M1374.5 993.5h0M1351 872.5h0M1275.5 988h0M1374 1030h0M1357.5 1034.5h0M1360.5 1058h0M1460 1056.5h0M1513 1064.5h0M1254.5 1065.5h0M1267 960.5h0M1402 1047h0M1355 1032.5h0M1289.5 974h0M1501 1087.5h0M1289 1007.5h0M1374.5 1064h0M1357.5 1077h0M1337 1006.5h0M1418 1092h0M1334 809h0M1373 1080h0M1350 970h0M1350.5 1049.5h0M1363.5 1094.5h0M1329 1085.5h0M1340 1055h0M1422.5 1098h0M1352.5 1013.5h0M1377.5 1095.5h0M1298.5 1058.5h0M1189 1101.5h0M1373.5 1063.5h0M1444 1061.5h0M1344.5 1092.5h0M1327 1072.5h0M1359 1079.5h0M1298.5 1100h0M1374 975.5h0M1319.5 1069.5h0M1470 959h0M1309.5 1060.5h0M1317.5 1059h0M1316.5 1058.5h0M1436.5 1090.5h0M1412 988.5h0M1404.5 879h0M1387.5 921.5h0M1389.5 918h0M1339 1002h0M1448 1041.5h0M1270 1061.5h0M1343 1088h0M1293 1024h0M1416.5 1081.5h0M1433.5 1002h0M1356 1026.5h0M1372.5 1073h0M1284.5 995h0M1401.5 1012.5h0M1244 999h0M1433 1053h0M1336 1036.5h0M1343.5 1089h0M1420.5 1020.5h0M1361 1094.5h0M1282 1021.5h0M1392 1075h0M1338 1075h0M1296.5 1008h0M1425.5 1061h0M1501 1081.5h0M1390.5 988.5h0M1337 1096h0M1273.5 1093h0M1431.5 1058.5h0M1495.5 1022.5h0M1275 987h0M1377.5 936.5h0M1282 875h0M1397 986.5h0M1438.5 1043.5h0M1242.5 1043h0M1348.5 1097h0M1329 1046.5h0M1267 1005.5h0M1310.5 834h0M1261 992h0M1384 1069h0M1478 1052.5h0M1372.5 1091h0M1301.5 1071h0M1478 1046.5h0M1406.5 876.5h0M1397 850h0M1387.5 989h0M1377.5 1014h0M1333.5 1066h0M1388 1000.5h0M1326.5 1093.5h0M1417 1051h0M1276.5 1056.5h0M1299 1066h0M1325 1034h0M1401.5 1065h0M1324.5 1078.5h0M1282.5 1004.5h0M1349.5 1059h0M1354.5 1064.5h0M1323 1063.5h0M1332 1043.5h0M1251.5 1066.5h0M1298.5 1060.5h0M1482.5 1100.5h0M1408.5 992h0M1316.5 944.5h0M1370 1073.5h0M1361 1086.5h0M1329.5 1044.5h0M1301 1040.5h0M1244 1024h0M1298 1041.5h0M1482.5 933.5h0M1333.5 1012.5h0M1165 1077.5h0M1310 1026.5h0M1302.5 1074h0M1297.5 950.5h0M1422 1100h0M1364.5 1032h0M1335 1080h0M1454 988h0M1376.5 1048h0M1247.5 975h0M1343.5 1094h0M1417.5 1005.5h0M1271.5 1094.5h0M1368.5 1079.5h0M1307 1077.5h0M1257 1060h0M1368.5 1052h0M1339 1049h0M1350.5 1013.5h0M1378.5 1038.5h0M1460 1062h0M1328.5 1052.5h0M1449.5 1094h0M1437 1042.5h0M1363.5 1071h0M1297 1082h0M1375 1079.5h0M1315.5 1060.5h0M1322 911h0M1160 897h0M1261 1079.5h0M1355 944h0M1370 1038h0M1404.5 1051h0M1425.5 1092.5h0M1384.5 1009.5h0M1288 838h0M1285 978h0M1415.5 1097h0M1280 978h0M1305.5 1006.5h0M1385.5 1090.5h0M1309.5 1064h0M1443.5 1099.5h0M1312 992.5h0M1280 966h0M1178.5 1032.5h0M1421.5 1077.5h0M1552 1057h0M1419.5 1006.5h0M1416 1014.5h0M1428.5 1084.5h0M1289.5 1013h0M1400.5 1089.5h0M1350.5 1045h0M1390.5 1041h0M1297.5 899.5h0M1358.5 1015.5h0M1337.5 998h0M1200.5 1069h0M1419.5 1054.5h0M1350.5 1071h0M1482 954h0M1322.5 1002.5h0M1361.5 1094h0M1304.5 1004h0M1488 983.5h0M1392 893h0M1275.5 1095.5h0M1242.5 1083h0M1341.5 1054h0M1424 967h0M1426.5 1051h0M1360 995.5h0M1411 921.5h0M1242.5 1074.5h0M1401 1075h0M1197 1101h0M1346 1079.5h0M1436.5 988h0M1271 1062h0M1349.5 1075.5h0M1413 1060h0M1212.5 1088h0M1411 960h0M1280 1028.5h0M1372 1087h0M1334 1036h0M1281.5 1081h0M1433.5 1036h0M1248 985h0M1315 1087.5h0M1366.5 972h0M1447 995.5h0M1260 1035.5h0M1389.5 964.5h0M1369 844h0M1289.5 1099.5h0M1378.5 868h0M1366.5 1055.5h0M1441.5 1077.5h0M1380.5 1055.5h0M1341 1081h0M1342 983h0M1443.5 1086.5h0M1345 1081h0M1445 978h0M1320.5 1015h0M1345 914.5h0M1475.5 1023h0M1366.5 1098.5h0M1404.5 995h0M1330 1020h0M1363.5 1009h0M1417.5 990.5h0M1338 1097.5h0M1497.5 1009.5h0M1306.5 984h0M1323 1010.5h0M1285 982h0M1314 1079h0M1447 1061h0M1321 1032h0M1438.5 1090.5h0M1392 1066h0M1317 975h0M1270.5 1014.5h0M1462.5 1032.5h0M1425 828.5h0M1361.5 1082h0M1370.5 956.5h0M1483 944.5h0M1458.5 1055h0M1278.5 1083.5h0M1273.5 983h0M1348.5 1021h0M1335.5 1040h0M1371.5 1011.5h0M1470.5 1087h0M1365 1035.5h0M1403.5 1065.5h0M1287.5 1100.5h0M1251 950.5h0M1264.5 945h0M1285.5 1010h0M1288 1048h0M1372.5 850h0M1297.5 1065.5h0M1305 1085h0M1479 860h0M1328 1007h0M1391 866.5h0M1444 1046h0M1360 1013h0M1302 1045h0M1419.5 1056.5h0M1493.5 1088.5h0M1271.5 1021.5h0M1354 1040.5h0M1411 1060.5h0M1319 1058.5h0M1446 1046h0M1350 1016.5h0M1382.5 1037h0M1350.5 1090h0M1270.5 1057h0M1248.5 1035h0M1312 1037.5h0M1243.5 1089h0M1304 983.5h0M1344.5 995h0M1395 1076.5h0M1427.5 1054.5h0M1436 1058.5h0M1253.5 1081h0M1318 1076.5h0M1334 1075.5h0M1509.5 1036h0M1447.5 1002.5h0M1374 867.5h0M1421 1070h0M1358 1023.5h0M1456.5 876h0M1243.5 1077.5h0M1325.5 1013h0M1416 1074.5h0M1256.5 1076h0M1404 1020.5h0M1319 999.5h0M1511.5 1073h0M1317.5 1055h0M1352 1029h0M1321.5 1061h0M1408.5 899.5h0M1330 944h0M1249.5 970h0M1389 988h0M1368.5 1087.5h0M1360.5 1024h0M1397.5 1037.5h0M1337.5 990h0M1381 888.5h0M1372.5 1048.5h0M1355.5 989h0M1335.5 895.5h0M1366.5 1049.5h0M1309.5 1062.5h0M1306 1027.5h0M1299 1056.5h0M1265 982.5h0M1378 949.5h0M1438.5 1001.5h0M1389 1008.5h0M1266.5 925h0M1388.5 782h0M1331.5 1101h0M1333.5 976.5h0M1307 862.5h0M1423.5 992.5h0M1386 993h0M1360 1079.5h0M1365.5 1081.5h0M1336 1090.5h0M1361.5 1085.5h0M1267 1004h0M1444 937h0M1310 859h0M1364.5 1037.5h0M1373 1067.5h0M1353.5 1028h0M1260 991.5h0M1418 1100.5h0M1370 1063h0M1418.5 984.5h0M1350 1050.5h0M1368.5 919h0M1357.5 1065.5h0M1373 1071.5h0M1348 1009h0M1507.5 1094h0M1360.5 1008.5h0M1392.5 1068.5h0M1381 1071.5h0M1298 1073h0M1433 1032.5h0M1363 1070.5h0M1275.5 1076.5h0M1382.5 864.5h0M1268.5 979.5h0M1322 1057h0M1098 1048.5h0M1291 948h0M1324 963h0M1420.5 860.5h0M1288.5 1078h0M1398.5 940h0M1354.5 1029.5h0M1440 971h0M1397 1079h0M1303 1011h0M1405 1034.5h0M1357 967.5h0M1278.5 1060h0M1405 965h0M1482 933.5h0M1379.5 926.5h0M1413.5 1081.5h0M1364 951.5h0M1459 1077h0M1267.5 1003h0M1180.5 1053.5h0M1332 971h0M1535 1020h0M1392.5 911h0M1362.5 887.5h0M1168.5 1035h0M1269.5 1085.5h0M1401 1017h0M1329 886h0M1405.5 982h0M1319 1101.5h0M1347 984.5h0M1276.5 911.5h0M1399 1082.5h0M1287 987h0M1463.5 918.5h0M1387.5 926.5h0M1461.5 896h0M1288.5 1094h0M1366 1068h0M1299.5 1082.5h0M1313.5 1040.5h0M1299.5 945h0M1329 1042h0M1472.5 857h0M1376 1076.5h0M1433 1043.5h0M1344.5 1052.5h0M1313 1094h0M1306.5 906.5h0M1341.5 1095.5h0M1315 978h0M1452.5 1091.5h0M1538.5 1073h0M1514 1085h0M1485.5 1080h0M1491.5 1027.5h0M1527 1030.5h0M1530.5 1072h0M1513.5 1094.5h0M1553 1083h0M1499.5 1075h0M1514 1010h0M1533 1082.5h0M1520 1084h0M1540 1065h0M1507 1021.5h0M1517.5 1088h0M1550.5 1046.5h0M1450.5 1065.5h0M1509.5 1084h0M1521.5 1059.5h0M1526.5 1025h0M1522.5 1048.5h0M1489 1044h0M1509 1062.5h0M1546 1055h0M1466 1020.5h0M1444 1064h0M1527 1024h0M1533 1083.5h0M1527 1073h0M1252 1019.5h0M1256 936h0M1261.5 1086.5h0M1267 978.5h0M1257.5 959.5h0M1251 991h0M1266 1038h0M1275 985h0M1279 1058h0M1241 1097.5h0M1259.5 997.5h0M1243 1020h0M1250.5 1067.5h0M1277.5 924h0M1266.5 1041.5h0M1272.5 1054h0M1253.5 998.5h0M1245 1078.5h0M1250 1080.5h0M1245 1017h0M1268 1030.5h0M1256 991.5h0M1265 947h0M1250 956.5h0M1248.5 1071.5h0M1254 1026.5h0M1249.5 989h0M1266 919h0M1265.5 1091.5h0M1248 1049h0M1260 908.5h0M1250.5 1042.5h0M1251.5 995h0M1251 988.5h0M1261 1025h0M1260 946.5h0M1266 1004h0M1256 1051h0M1268.5 988h0M1253.5 997.5h0M1247.5 1019h0M1250.5 1022.5h0M1249 1053h0M1241 1037h0M1257.5 1060h0M1259 1036h0M1253.5 1006.5h0M1251.5 969h0M1262 1030.5h0M1244.5 1036.5h0M1259.5 1091h0M1244.5 984.5h0M1259.5 1092.5h0M1259 1076.5h0M1285.5 1014h0M1261 1090.5h0M1272.5 978.5h0M1260.5 990.5h0M1246.5 992h0M1252 1008.5h0M1277.5 1002.5h0M1256 1020h0M1260.5 930h0M1259 974.5h0M1242 1071h0M1261.5 1018h0M1248 1097.5h0M1258.5 1084h0M1266 1041h0M1256.5 1030.5h0M1246 1078h0M1257 1083h0M1239 1074.5h0M1249 1029.5h0M1260 942.5h0M1254 1097.5h0M1273.5 952h0M1268.5 1086h0M1258 1082h0M1265 1091h0M1252 1018h0M1268.5 1065.5h0M1256.5 1026h0M1255.5 1047.5h0M1277 1062.5h0M1267 1073.5h0M1266.5 1060.5h0M1253 1046.5h0M1257 1095.5h0M1263 1031h0M1251.5 1068h0M1248.5 1101.5h0M1262 1063.5h0M1256 1090h0M1272.5 1074.5h0M1252 1052.5h0M1268 1055.5h0M1260.5 1015.5h0M1250 994h0M1269.5 1088h0M1260 1066.5h0M1243.5 1050.5h0M1264 1065.5h0M1258 966.5h0M1253.5 1088.5h0M1253.5 990.5h0M1257 978.5h0M1271 965.5h0M1262.5 1067.5h0M1248.5 1046.5h0M1263.5 1095h0M1275 1083.5h0M1262 977h0M1243 1026.5h0M1241 1032h0M1255 1040h0M1250 1004h0M1240.5 1076.5h0M1251 1067.5h0M1247.5 1008h0M1254 1074h0M1255.5 935h0M1247.5 1014.5h0M1248.5 1054h0M1253.5 1007.5h0M1250 1058.5h0M1275.5 887.5h0M1256.5 1017h0M1251.5 982.5h0M1249 1086h0M1254 976h0M1243.5 1005.5h0M1260.5 1058h0M1261 1013.5h0M1245 1067h0M1256.5 1015h0M1263.5 1057.5h0M1242 1055.5h0M1250.5 953.5h0M1244.5 1079.5h0M1245.5 1059h0M1261 1024h0M1275 1091h0M1247.5 1049.5h0M1267.5 953.5h0M1261 1087h0M1252.5 1086.5h0M1246.5 1076.5h0M1257.5 1086.5h0M1252.5 1071.5h0M1260 919h0M1246.5 1014h0M1276 1041.5h0M1257 1076.5h0M1275.5 965h0M1259.5 1065.5h0M1239 1046.5h0M1266 1016h0M1255 1076.5h0M1241.5 1072h0M1257 1065.5h0M1258.5 941h0M1260 1074h0M1249.5 1086.5h0M1252.5 1074.5h0M1266 1068.5h0M1254.5 992h0M1260.5 980h0M1260.5 1027h0M1488 737.5h0M1590 942h0M936.5 835h0M956.5 790h0M1009.5 774.5h0M1349 780.5h0M1314 786h0M1526 836.5h0" fill="none" stroke="#EF2DA0" stroke-width="4.7" stroke-linecap="round" opacity="0.93"/>
<path d="M1212.7 713.3V1226.3M1238.5 713.3V1226.3M872.1 1101.8H1661.5" stroke="#2E2E2E" stroke-width="1.15" stroke-dasharray="5.3 2.1" fill="none"/>
<path d="M872.1 713.3V1226.3H1661.5" stroke="#000" stroke-width="2" fill="none" stroke-linecap="square"/>
<path d="M1004.9 1226.3v5.6M1225.6 1226.3v5.6M1446.3 1226.3v5.6M872.1 1203.3h-5.6M872.1 1047.3h-5.6M872.1 891.3h-5.6M872.1 735.3h-5.6" stroke="#222" stroke-width="1.6" fill="none"/>
<g font-size="15.6" fill="#4D4D4D">
<text x="1003.3" y="1247.5" text-anchor="middle">-10</text>
<text x="1225.6" y="1247.5" text-anchor="middle">0</text>
<text x="1446.3" y="1247.5" text-anchor="middle">10</text>
<text x="862.7" y="1208.9" text-anchor="end">0</text>
<text x="862.7" y="1052.9" text-anchor="end">2</text>
<text x="862.7" y="896.9" text-anchor="end">4</text>
<text x="862.7" y="740.9" text-anchor="end">6</text>
</g>
<text x="1269" y="1267.7" font-size="15.6" fill="#111" text-anchor="middle" textLength="114.5" lengthAdjust="spacingAndGlyphs">Log<tspan font-size="10.8" dy="3.6">2</tspan><tspan dy="-3.6"> fold change</tspan></text>
<text transform="translate(841.8 965.8) rotate(-90)" font-size="15.8" fill="#111" text-anchor="middle" textLength="68.5" lengthAdjust="spacingAndGlyphs">− Log<tspan font-size="10.8" dy="3.6">10</tspan><tspan dy="-3.6"> </tspan><tspan font-style="italic">P</tspan></text>
<circle cx="1108.4" cy="674.3" r="4.2" fill="#7B7B7B"/>
<circle cx="1158.4" cy="674.3" r="4.2" fill="#7B7B7B"/>
<circle cx="1235.5" cy="674.3" r="4.2" fill="#7B7B7B"/>
<circle cx="1307.2" cy="674.3" r="4.2" fill="#EE4DB2"/>
<g font-size="12" fill="#111">
<text x="1125.6" y="678.9">NS</text>
<text x="1175.6" y="677.9">Log<tspan font-size="8.4" dy="2.6">2</tspan><tspan dy="-2.6"> FC</tspan></text>
<text x="1252" y="678.9">p-value</text>
<text x="1324.6" y="677.9">p – value and log<tspan font-size="8.4" dy="2.6">2</tspan><tspan dy="-2.6"> FC</tspan></text>
</g>
<path d="M1176.9 1061.7L1238.9 1060.3M1185.0 1088.6L1197.7 1089.5M1239.8 1043.4L1242.6 1058.0M1244.2 1059.3L1245.0 1066.4M1230.9 1127.5L1249.2 1102.5M1301.6 1105.1L1269.2 1098.4M1313.7 1061.4L1290.4 1067.3M1361.0 1120.7L1339.3 1100.1" stroke="#000" stroke-width="1.5" fill="none"/>
<path d="M1174.4 1063.6L1176.9 1059.2L1179.4 1063.6ZM1182.5 1090.5L1185.0 1086.1L1187.5 1090.5ZM1237.3 1045.3L1239.8 1040.9L1242.3 1045.3ZM1241.7 1061.2L1244.2 1056.8L1246.7 1061.2ZM1228.4 1129.4L1230.9 1125.0L1233.4 1129.4ZM1299.1 1107.0L1301.6 1102.6L1304.1 1107.0ZM1311.2 1063.3L1313.7 1058.9L1316.2 1063.3ZM1358.5 1122.6L1361.0 1118.2L1363.5 1122.6ZM1257.7 1104.4L1260.2 1100.0L1262.7 1104.4ZM1249.0 1077.3L1251.5 1072.9L1254.0 1077.3ZM1234.1 1089.6L1236.6 1085.2L1239.1 1089.6ZM1120.9 1097.9L1123.4 1093.5L1125.9 1097.9ZM1187.8 1106.3L1190.3 1101.9L1192.8 1106.3ZM1044.2 1053.8L1046.7 1049.4L1049.2 1053.8ZM1246.5 993.2L1249.0 988.8L1251.5 993.2ZM1242.5 1024.2L1245.0 1019.8L1247.5 1024.2ZM1265.3 1023.4L1267.8 1019.0L1270.3 1023.4ZM1264.3 1008.4L1266.8 1004.0L1269.3 1008.4ZM1335.0 958.0L1337.5 953.6L1340.0 958.0ZM1371.1 1100.1L1373.6 1095.7L1376.1 1100.1Z" stroke="#000" stroke-width="1.5" fill="#fff" fill-opacity="0.5" stroke-linejoin="round"/>
<g font-size="16.4" font-weight="bold" fill="#000" text-anchor="middle" stroke="#000" stroke-width="0.35">
<rect x="967.8" y="1054.7" width="99.3" height="18.7" rx="2.2" fill="#fff" stroke="#8C8C8C" stroke-width="0.7" />
<text x="1017.4" y="1070.0" textLength="92.1" lengthAdjust="spacingAndGlyphs">MAP1LC3A</text>
<rect x="1203.1" y="971.0" width="56.1" height="18.5" rx="2.2" fill="#fff" stroke="#8C8C8C" stroke-width="0.7" />
<text x="1231.2" y="986.1" textLength="48.9" lengthAdjust="spacingAndGlyphs">GCLM</text>
<rect x="1189.8" y="1001.5" width="70.9" height="18.6" rx="2.2" fill="#fff" stroke="#8C8C8C" stroke-width="0.7" />
<text x="1225.2" y="1016.7" textLength="63.7" lengthAdjust="spacingAndGlyphs">SLC3A2</text>
<rect x="1156.8" y="1026.9" width="80.6" height="18.5" rx="2.2" fill="#fff" stroke="#8C8C8C" stroke-width="0.7" />
<text x="1197.1" y="1042.1" textLength="73.4" lengthAdjust="spacingAndGlyphs">SLC39A7</text>
<rect x="1112.3" y="1052.5" width="63.2" height="18.0" rx="2.2" fill="#fff" stroke="#8C8C8C" stroke-width="0.7" />
<text x="1143.9" y="1067.4" textLength="56.0" lengthAdjust="spacingAndGlyphs">VDAC3</text>
<rect x="1181.8" y="1067.3" width="65.0" height="18.5" rx="2.2" fill="#fff" stroke="#8C8C8C" stroke-width="0.7" />
<text x="1214.3" y="1082.5" textLength="57.8" lengthAdjust="spacingAndGlyphs">ABCC1</text>
<rect x="1073.4" y="1079.0" width="46.9" height="18.0" rx="2.2" fill="#fff" stroke="#8C8C8C" stroke-width="0.7" />
<text x="1096.8" y="1093.9" textLength="39.7" lengthAdjust="spacingAndGlyphs">TP53</text>
<rect x="1127.3" y="1079.0" width="54.5" height="18.5" rx="2.2" fill="#fff" stroke="#8C8C8C" stroke-width="0.7" />
<text x="1154.5" y="1094.2" textLength="47.3" lengthAdjust="spacingAndGlyphs">NINJ1</text>
<rect x="1124.4" y="1105.3" width="62.6" height="18.0" rx="2.2" fill="#fff" stroke="#8C8C8C" stroke-width="0.7" />
<text x="1155.7" y="1120.2" textLength="55.4" lengthAdjust="spacingAndGlyphs">HSPB1</text>
<rect x="1183.3" y="1130.3" width="84.7" height="18.5" rx="2.2" fill="#fff" stroke="#8C8C8C" stroke-width="0.7" />
<text x="1225.7" y="1145.5" textLength="77.5" lengthAdjust="spacingAndGlyphs">ATP5MC3</text>
<rect x="1331.5" y="933.3" width="48.2" height="20.1" rx="2.2" fill="#fff" stroke="#8C8C8C" stroke-width="0.7" />
<text x="1355.6" y="949.2" textLength="41.0" lengthAdjust="spacingAndGlyphs">SAT1</text>
<rect x="1267.6" y="987.6" width="71.7" height="18.6" rx="2.2" fill="#fff" stroke="#8C8C8C" stroke-width="0.7" />
<text x="1303.4" y="1002.8" textLength="64.5" lengthAdjust="spacingAndGlyphs">LPCAT3</text>
<rect x="1270.4" y="1015.0" width="38.3" height="18.4" rx="2.2" fill="#fff" stroke="#8C8C8C" stroke-width="0.7" />
<text x="1289.6" y="1030.1" textLength="31.1" lengthAdjust="spacingAndGlyphs">FTL</text>
<rect x="1245.7" y="1040.8" width="63.4" height="18.5" rx="2.2" fill="#fff" stroke="#8C8C8C" stroke-width="0.7" />
<text x="1277.4" y="1056.0" textLength="56.2" lengthAdjust="spacingAndGlyphs">HSBP1</text>
<rect x="1315.6" y="1051.2" width="91.3" height="18.5" rx="2.2" fill="#fff" stroke="#8C8C8C" stroke-width="0.7" />
<text x="1361.2" y="1066.4" textLength="84.1" lengthAdjust="spacingAndGlyphs">SLC39A14</text>
<rect x="1254.1" y="1071.9" width="53.7" height="18.6" rx="2.2" fill="#fff" stroke="#8C8C8C" stroke-width="0.7" />
<text x="1280.9" y="1087.1" textLength="46.5" lengthAdjust="spacingAndGlyphs">GCH1</text>
<rect x="1370.3" y="1076.6" width="54.6" height="18.5" rx="2.2" fill="#fff" stroke="#8C8C8C" stroke-width="0.7" />
<text x="1397.6" y="1091.8" textLength="47.4" lengthAdjust="spacingAndGlyphs">CYBB</text>
<rect x="1303.7" y="1097.0" width="30.1" height="18.5" rx="2.2" fill="#fff" stroke="#8C8C8C" stroke-width="0.7" />
<text x="1318.8" y="1112.2" textLength="22.9" lengthAdjust="spacingAndGlyphs">CP</text>
<rect x="1253.7" y="1105.3" width="43.0" height="18.0" rx="2.2" fill="#fff" stroke="#8C8C8C" stroke-width="0.7" />
<text x="1275.2" y="1120.2" textLength="35.8" lengthAdjust="spacingAndGlyphs">POR</text>
<rect x="1331.5" y="1122.5" width="81.0" height="18.9" rx="2.2" fill="#fff" stroke="#8C8C8C" stroke-width="0.7" />
<text x="1372.0" y="1137.9" textLength="73.8" lengthAdjust="spacingAndGlyphs">SLC40A1</text>
</g>
<rect x="1706.9" y="21.4" width="172.9" height="1242.9" fill="#F3F3FD"/>
<rect x="1793.3" y="21.40" width="86.5" height="11.84" fill="#FF1D0E"/>
<rect x="1706.9" y="33.24" width="86.4" height="11.84" fill="#F4999D"/>
<rect x="1706.9" y="45.07" width="86.4" height="11.84" fill="#F0616B"/>
<rect x="1793.3" y="56.91" width="86.5" height="11.84" fill="#F0636D"/>
<rect x="1793.3" y="68.75" width="86.5" height="11.84" fill="#F28189"/>
<rect x="1793.3" y="80.59" width="86.5" height="11.84" fill="#F4A4A9"/>
<rect x="1793.3" y="92.42" width="86.5" height="11.84" fill="#F4A6AB"/>
<rect x="1793.3" y="104.26" width="86.5" height="11.84" fill="#F4A8AD"/>
<rect x="1793.3" y="116.10" width="86.5" height="11.84" fill="#F5B9BD"/>
<rect x="1793.3" y="127.93" width="86.5" height="11.84" fill="#F7D0D2"/>
<rect x="1793.3" y="139.77" width="86.5" height="11.84" fill="#F7D2D4"/>
<rect x="1793.3" y="151.61" width="86.5" height="11.84" fill="#1A00FF"/>
<rect x="1706.9" y="163.45" width="86.4" height="11.84" fill="#5030FD"/>
<rect x="1706.9" y="175.28" width="86.4" height="11.84" fill="#8E8EFA"/>
<rect x="1706.9" y="187.12" width="86.4" height="11.84" fill="#7C7CFA"/>
<rect x="1706.9" y="198.96" width="86.4" height="11.84" fill="#7E7EFA"/>
<rect x="1793.3" y="210.79" width="86.5" height="11.84" fill="#9E9EFA"/>
<rect x="1706.9" y="222.63" width="86.4" height="11.84" fill="#BDBDFC"/>
<rect x="1706.9" y="234.47" width="86.4" height="11.84" fill="#ACACFA"/>
<rect x="1706.9" y="246.31" width="86.4" height="11.84" fill="#E1E1FC"/>
<rect x="1706.9" y="258.14" width="86.4" height="11.84" fill="#E1E1FC"/>
<rect x="1706.9" y="269.98" width="86.4" height="11.84" fill="#E0E0FC"/>
<rect x="1706.9" y="281.82" width="86.4" height="11.84" fill="#E0E0FC"/>
<rect x="1706.9" y="293.65" width="86.4" height="11.84" fill="#D5D5FB"/>
<rect x="1706.9" y="305.49" width="86.4" height="11.84" fill="#CFCFFB"/>
<rect x="1793.3" y="317.33" width="86.5" height="11.84" fill="#E0E0FC"/>
<rect x="1793.3" y="329.17" width="86.5" height="11.84" fill="#E0E0FC"/>
<rect x="1793.3" y="341.00" width="86.5" height="11.84" fill="#FCF4F4"/>
<rect x="1793.3" y="352.84" width="86.5" height="11.84" fill="#F9E1E1"/>
<rect x="1793.3" y="364.68" width="86.5" height="11.84" fill="#F9E1E1"/>
<rect x="1793.3" y="376.51" width="86.5" height="11.84" fill="#F9E1E1"/>
<rect x="1793.3" y="388.35" width="86.5" height="11.84" fill="#F9E1E1"/>
<rect x="1793.3" y="400.19" width="86.5" height="11.84" fill="#F9E1E1"/>
<rect x="1793.3" y="412.03" width="86.5" height="11.84" fill="#F9E1E1"/>
<rect x="1706.9" y="423.86" width="86.4" height="11.84" fill="#FCF4F4"/>
<path d="M1706.9 21.40H1879.8M1706.9 33.24H1879.8M1706.9 45.07H1879.8M1706.9 56.91H1879.8M1706.9 68.75H1879.8M1706.9 80.59H1879.8M1706.9 92.42H1879.8M1706.9 104.26H1879.8M1706.9 116.10H1879.8M1706.9 127.93H1879.8M1706.9 139.77H1879.8M1706.9 151.61H1879.8M1706.9 163.45H1879.8M1706.9 175.28H1879.8M1706.9 187.12H1879.8M1706.9 198.96H1879.8M1706.9 210.79H1879.8M1706.9 222.63H1879.8M1706.9 234.47H1879.8M1706.9 246.31H1879.8M1706.9 258.14H1879.8M1706.9 269.98H1879.8M1706.9 281.82H1879.8M1706.9 293.65H1879.8M1706.9 305.49H1879.8M1706.9 317.33H1879.8M1706.9 329.17H1879.8M1706.9 341.00H1879.8M1706.9 352.84H1879.8M1706.9 364.68H1879.8M1706.9 376.51H1879.8M1706.9 388.35H1879.8M1706.9 400.19H1879.8M1706.9 412.03H1879.8M1706.9 423.86H1879.8M1706.9 435.70H1879.8M1706.9 447.54H1879.8M1706.9 459.37H1879.8M1706.9 471.21H1879.8M1706.9 483.05H1879.8M1706.9 494.89H1879.8M1706.9 506.72H1879.8M1706.9 518.56H1879.8M1706.9 530.40H1879.8M1706.9 542.23H1879.8M1706.9 554.07H1879.8M1706.9 565.91H1879.8M1706.9 577.75H1879.8M1706.9 589.58H1879.8M1706.9 601.42H1879.8M1706.9 613.26H1879.8M1706.9 625.09H1879.8M1706.9 636.93H1879.8M1706.9 648.77H1879.8M1706.9 660.61H1879.8M1706.9 672.44H1879.8M1706.9 684.28H1879.8M1706.9 696.12H1879.8M1706.9 707.95H1879.8M1706.9 719.79H1879.8M1706.9 731.63H1879.8M1706.9 743.47H1879.8M1706.9 755.30H1879.8M1706.9 767.14H1879.8M1706.9 778.98H1879.8M1706.9 790.81H1879.8M1706.9 802.65H1879.8M1706.9 814.49H1879.8M1706.9 826.33H1879.8M1706.9 838.16H1879.8M1706.9 850.00H1879.8M1706.9 861.84H1879.8M1706.9 873.67H1879.8M1706.9 885.51H1879.8M1706.9 897.35H1879.8M1706.9 909.19H1879.8M1706.9 921.02H1879.8M1706.9 932.86H1879.8M1706.9 944.70H1879.8M1706.9 956.53H1879.8M1706.9 968.37H1879.8M1706.9 980.21H1879.8M1706.9 992.05H1879.8M1706.9 1003.88H1879.8M1706.9 1015.72H1879.8M1706.9 1027.56H1879.8M1706.9 1039.39H1879.8M1706.9 1051.23H1879.8M1706.9 1063.07H1879.8M1706.9 1074.91H1879.8M1706.9 1086.74H1879.8M1706.9 1098.58H1879.8M1706.9 1110.42H1879.8M1706.9 1122.25H1879.8M1706.9 1134.09H1879.8M1706.9 1145.93H1879.8M1706.9 1157.77H1879.8M1706.9 1169.60H1879.8M1706.9 1181.44H1879.8M1706.9 1193.28H1879.8M1706.9 1205.11H1879.8M1706.9 1216.95H1879.8M1706.9 1228.79H1879.8M1706.9 1240.63H1879.8M1706.9 1252.46H1879.8M1706.9 1264.30H1879.8M1706.9 21.4V1264.3M1793.3 21.4V1264.3M1879.8 21.4V1264.3" fill="none" stroke="#9A9AA0" stroke-width="0.55"/>
<g font-size="11" fill="#000" transform="translate(1882.4 0) scale(1.07 1)">
<text y="31.2">SAT1</text>
<text y="43.1">RPL8</text>
<text y="54.9">TF</text>
<text y="66.7">CYBB</text>
<text y="78.6">SLC40A1</text>
<text y="90.4">SLC39A14</text>
<text y="102.2">LPCAT3</text>
<text y="114.1">FTL</text>
<text y="125.9">GCLM</text>
<text y="137.8">CP</text>
<text y="149.6">SLC3A2</text>
<text y="161.4">MAP1LC3A</text>
<text y="173.3">CD44</text>
<text y="185.1">DPP4</text>
<text y="196.9">SQLE</text>
<text y="208.8">G6PD</text>
<text y="220.6">TP53</text>
<text y="232.4">ALOX15</text>
<text y="244.3">TXNRD1</text>
<text y="256.1">ACSL4</text>
<text y="268.0">ACO1</text>
<text y="279.8">PHKG2</text>
<text y="291.6">ACSF2</text>
<text y="303.5">NFS1</text>
<text y="315.3">HDAC3</text>
<text y="327.1">HSPB1</text>
<text y="339.0">NINJ1</text>
<text y="350.8">ABCC1</text>
<text y="362.7">VDAC3</text>
<text y="374.5">SLC39A7</text>
<text y="386.3">GCH1</text>
<text y="398.2">POR</text>
<text y="410.0">ATP5MC3</text>
<text y="421.8">HSBP1</text>
<text y="433.7">VDAC2</text>
<text y="445.5">ADGRG1</text>
<text y="457.4">SQSTM1</text>
<text y="469.2">KAT2B</text>
<text y="481.0">TMEM164</text>
<text y="492.9">SLC25A1</text>
<text y="504.7">SC5D</text>
<text y="516.5">ACLY</text>
<text y="528.4">DHCR7</text>
<text y="540.2">ATG5</text>
<text y="552.1">FTMT</text>
<text y="563.9">MAP1LC3B</text>
<text y="575.7">SLC38A1</text>
<text y="587.6">CHMP6</text>
<text y="599.4">SLC39A8</text>
<text y="611.2">PRNP</text>
<text y="623.1">ACSL5</text>
<text y="634.9">CHMP5</text>
<text y="646.7">PCBP2</text>
<text y="658.6">PCBP1</text>
<text y="670.4">NOX4</text>
<text y="682.3">SLC11A2</text>
<text y="694.1">MAP1LC3C</text>
<text y="705.9">COQ2</text>
<text y="717.8">ACSL6</text>
<text y="729.6">ACSL1</text>
<text y="741.4">CTH</text>
<text y="753.3">SAT2</text>
<text y="765.1">ATG7</text>
<text y="777.0">BACH1</text>
<text y="788.8">HMOX1</text>
<text y="800.6">IREB2</text>
<text y="812.5">PGD</text>
<text y="824.3">GOT1</text>
<text y="836.1">SLC1A5</text>
<text y="848.0">NOX1</text>
<text y="859.8">NQO1</text>
<text y="871.7">KEAP1</text>
<text y="883.5">NFE2L2</text>
<text y="895.3">FADS2</text>
<text y="907.2">ZEB1</text>
<text y="919.0">PEBP1</text>
<text y="930.8">ACACA</text>
<text y="942.7">ACSL3</text>
<text y="954.5">STEAP3</text>
<text y="966.4">FTH1</text>
<text y="978.2">AIFM2</text>
<text y="990.0">EMC2</text>
<text y="1001.9">TFRC</text>
<text y="1013.7">FDFT1</text>
<text y="1025.5">SLC7A11</text>
<text y="1037.4">PTGS2</text>
<text y="1049.2">NCOA4</text>
<text y="1061.1">MT1G</text>
<text y="1072.9">CRYAB</text>
<text y="1084.7">HMGCR</text>
<text y="1096.6">GSS</text>
<text y="1108.4">GPX4</text>
<text y="1120.2">GLS2</text>
<text y="1132.1">GCLC</text>
<text y="1143.9">FANCD2</text>
<text y="1155.7">CS</text>
<text y="1167.6">CISD1</text>
<text y="1179.4">CHAC1</text>
<text y="1191.3">CBS</text>
<text y="1203.1">CARS</text>
<text y="1214.9">ALOX12</text>
<text y="1226.8">ALOX5</text>
<text y="1238.6">AKR1C3</text>
<text y="1250.4">AKR1C1</text>
<text y="1262.3">AKR1C2</text>
</g>
<g font-size="11.4" font-weight="bold" text-anchor="middle" letter-spacing="0.55">
<text x="1754" y="1277.8" fill="#1805A2">Apoptosis-</text><text x="1754" y="1292.3" fill="#1805A2">prone</text>
<text x="1839.6" y="1277.8" fill="#EE2F96">Ferroptosis-</text><text x="1839.6" y="1292.3" fill="#EE2F96">prone</text>
</g>
<defs><linearGradient id="cb" x1="0" y1="0" x2="0" y2="1"><stop offset="0" stop-color="#FF1408"/><stop offset="0.5" stop-color="#FBF3F6"/><stop offset="0.5" stop-color="#F3F3FD"/><stop offset="1" stop-color="#1400FF"/></linearGradient></defs>
<rect x="1948.9" y="21.1" width="6.4" height="98.9" fill="url(#cb)"/>
<g font-size="10.6" fill="#000">
<text x="1958.4" y="27.7">15</text>
<text x="1958.4" y="43.4">10</text>
<text x="1958.4" y="59.1">5</text>
<text x="1958.4" y="74.7">0</text>
<text x="1958.4" y="90.4">-5</text>
<text x="1958.4" y="106.1">-10</text>
<text x="1958.4" y="121.8">-15</text>
</g>
<path d="M1703.0 39.2V51.0M1703.0 39.2H1706.9M1703.0 51.0H1706.9M1704.8 62.8V74.7M1704.8 62.8H1706.9M1704.8 74.7H1706.9M1706.0 86.5V98.3M1706.0 86.5H1706.9M1706.0 98.3H1706.9M1705.6 92.4V110.2M1705.6 92.4H1706.0M1705.6 110.2H1706.9M1706.2 133.9V145.7M1706.2 133.9H1706.9M1706.2 145.7H1706.9M1705.8 122.0V139.8M1705.8 122.0H1706.9M1705.8 139.8H1706.2M1704.2 101.3V130.9M1704.2 101.3H1705.6M1704.2 130.9H1705.8M1699.8 68.7V112.4M1699.8 68.7H1704.8M1699.8 112.4H1704.2M1693.0 45.1V90.5M1693.0 45.1H1703.0M1693.0 90.5H1699.8M1686.5 27.3V67.4M1686.5 27.3H1706.9M1686.5 67.4H1693.0M1706.0 193.0V204.9M1706.0 193.0H1706.9M1706.0 204.9H1706.9M1705.0 181.2V199.0M1705.0 181.2H1706.9M1705.0 199.0H1706.0M1701.7 169.4V189.6M1701.7 169.4H1706.9M1701.7 189.6H1705.0M1705.6 228.5V240.4M1705.6 228.5H1706.9M1705.6 240.4H1706.9M1706.3 264.1V275.9M1706.3 264.1H1706.9M1706.3 275.9H1706.9M1706.3 287.7V299.6M1706.3 287.7H1706.9M1706.3 299.6H1706.9M1705.8 270.0V293.7M1705.8 270.0H1706.3M1705.8 293.7H1706.3M1705.2 252.2V281.8M1705.2 252.2H1706.9M1705.2 281.8H1705.8M1704.6 267.0V311.4M1704.6 267.0H1705.2M1704.6 311.4H1706.9M1703.8 233.5V286.0M1703.8 233.5H1705.6M1703.8 286.0H1704.6M1705.8 323.2V335.1M1705.8 323.2H1706.9M1705.8 335.1H1706.9M1706.3 358.8V370.6M1706.3 358.8H1706.9M1706.3 370.6H1706.9M1706.3 382.4V394.3M1706.3 382.4H1706.9M1706.3 394.3H1706.9M1705.8 364.7V388.4M1705.8 364.7H1706.3M1705.8 388.4H1706.3M1706.2 406.1V417.9M1706.2 406.1H1706.9M1706.2 417.9H1706.9M1705.2 376.5V412.0M1705.2 376.5H1705.8M1705.2 412.0H1706.2M1704.6 346.9V394.3M1704.6 346.9H1706.9M1704.6 394.3H1705.2M1703.9 328.9V380.0M1703.9 328.9H1705.8M1703.9 380.0H1704.6M1705.4 429.8V452.5M1705.4 429.8H1706.9M1705.4 452.5H1706.9M1702.7 352.0V409.4M1702.7 352.0H1703.9M1702.7 409.4H1705.4M1700.6 260.4V368.4M1700.6 260.4H1703.8M1700.6 368.4H1702.7M1697.8 216.7V314.4M1697.8 216.7H1706.9M1697.8 314.4H1700.6M1692.8 179.4V265.4M1692.8 179.4H1701.7M1692.8 265.4H1697.8M1685.7 157.5V222.2M1685.7 157.5H1706.9M1685.7 222.2H1692.8M1672.6 47.0V189.6M1672.6 47.0H1686.5M1672.6 189.6H1685.7" fill="none" stroke="#5A5A5A" stroke-width="0.85"/>
</svg></body></html>
